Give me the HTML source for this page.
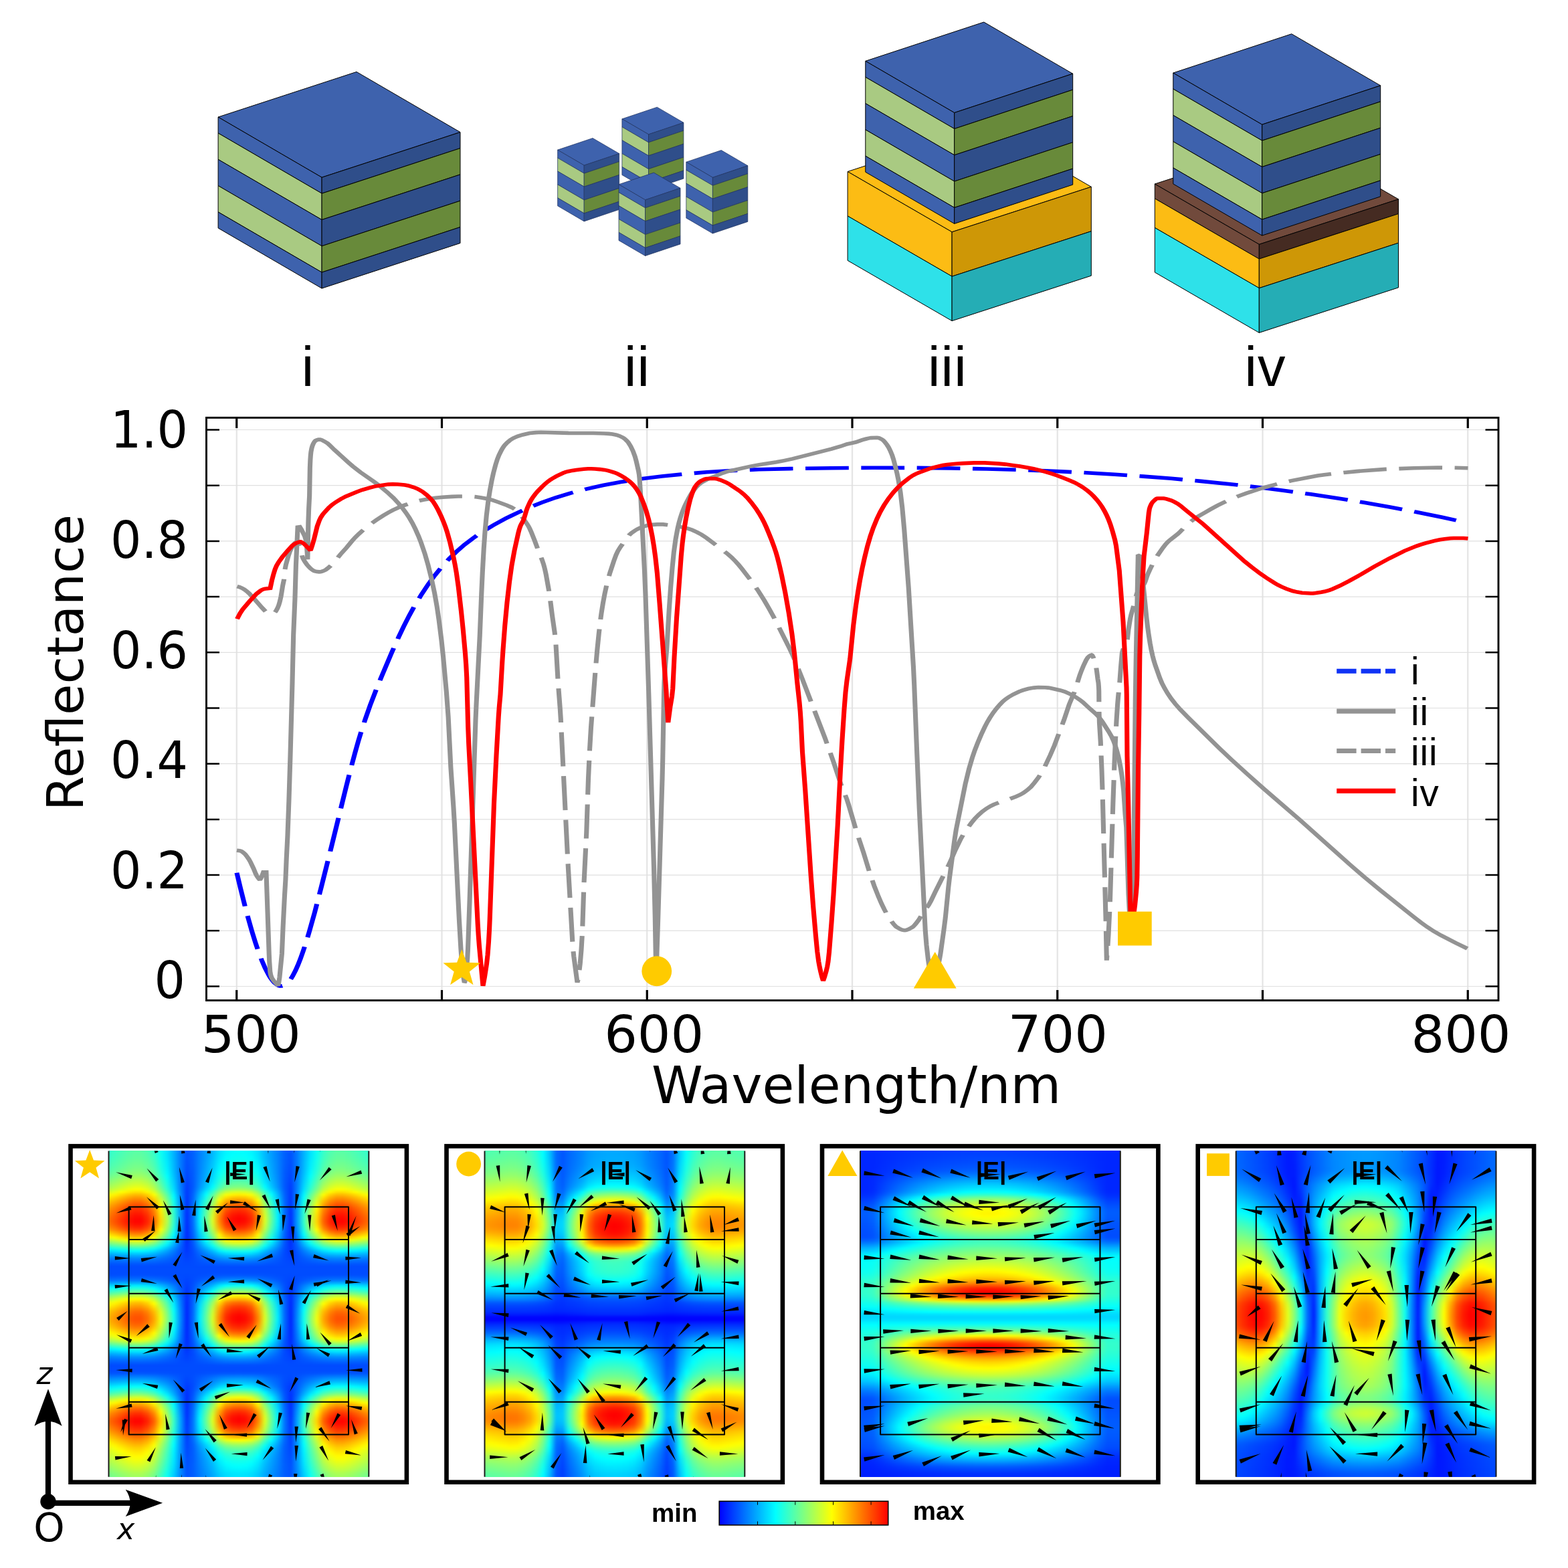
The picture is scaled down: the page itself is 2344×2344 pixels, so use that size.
<!DOCTYPE html>
<html lang="en">
<head>
<meta charset="utf-8">
<title>Reflectance spectra and field maps</title>
<style>
html,body{margin:0;padding:0;background:#fff}
body{width:2344px;height:2344px;position:relative;overflow:hidden;font-family:"Liberation Sans",sans-serif}
svg{position:absolute;left:0;top:0}
.hm{position:absolute;top:1720.4px;width:388.8px;height:487.4px;overflow:hidden;background:#06f}.hi{position:absolute;filter:blur(1.6px)}.hi i{display:block;height:3.995px}
</style>
</head>
<body>
<div class="hm" style="left:162.5px">
<div class="hi" style="left:-19.44px;top:-7.99px;width:427.68px">
<i style="background:linear-gradient(90deg,#21ffde,#26ffd9,#2dffd2,#37ffc8,#42ffbd,#4cffb3,#53ffad,#53ffad,#47ffb8,#30ffcf,#07fff8,#00deff,#00afff,#007bff,#0051ff,#0060ff,#007eff,#0098ff,#00b4ff,#00d8ff,#00edff,#00f5ff,#00f7ff,#00f5ff,#00edff,#00d8ff,#00b4ff,#0098ff,#007eff,#0060ff,#0051ff,#007bff,#00afff,#00deff,#07fff8,#30ffcf,#47ffb8,#53ffad,#53ffad,#4cffb3,#42ffbd,#37ffc8,#2dffd2,#26ffd9,#21ffde)"></i><i style="background:linear-gradient(90deg,#24ffdb,#29ffd6,#30ffd0,#3affc5,#45ffba,#50ffb0,#56ffa9,#56ffaa,#4affb5,#33ffcc,#0afff5,#00e0ff,#00b0ff,#007cff,#0052ff,#0060ff,#007fff,#009aff,#00b6ff,#00dbff,#00f0ff,#00f8ff,#00fbff,#00f8ff,#00f0ff,#00dbff,#00b6ff,#009aff,#007fff,#0060ff,#0052ff,#007cff,#00b0ff,#00e0ff,#0afff5,#33ffcc,#4affb5,#56ffaa,#56ffa9,#50ffb0,#45ffba,#3affc5,#30ffd0,#29ffd6,#24ffdb)"></i><i style="background:linear-gradient(90deg,#27ffd8,#2cffd3,#33ffcc,#3dffc2,#49ffb7,#53ffac,#5affa6,#5affa6,#4effb2,#36ffc9,#0cfff3,#00e2ff,#00b2ff,#007dff,#0052ff,#0061ff,#0080ff,#009bff,#00b8ff,#00deff,#00f4ff,#00fcff,#00feff,#00fcff,#00f4ff,#00deff,#00b8ff,#009bff,#0080ff,#0061ff,#0052ff,#007dff,#00b2ff,#00e2ff,#0cfff3,#36ffc9,#4effb2,#5affa6,#5affa6,#53ffac,#49ffb7,#3dffc2,#33ffcc,#2cffd3,#27ffd8)"></i><i style="background:linear-gradient(90deg,#2affd5,#2fffd0,#36ffc9,#41ffbf,#4dffb3,#57ffa9,#5effa2,#5effa2,#52ffae,#3affc6,#0ffff0,#00e4ff,#00b3ff,#007dff,#0051ff,#0061ff,#0081ff,#009dff,#00bbff,#00e1ff,#00f8ff,#01fffe,#03fffc,#01fffe,#00f8ff,#00e1ff,#00bbff,#009dff,#0081ff,#0061ff,#0051ff,#007dff,#00b3ff,#00e4ff,#0ffff0,#3affc6,#52ffae,#5effa2,#5effa2,#57ffa9,#4dffb3,#41ffbf,#36ffc9,#2fffd0,#2affd5)"></i><i style="background:linear-gradient(90deg,#2effd2,#33ffcd,#3affc6,#45ffbb,#51ffaf,#5bffa4,#62ff9d,#62ff9e,#56ffaa,#3dffc2,#12ffed,#00e6ff,#00b4ff,#007dff,#0051ff,#0061ff,#0082ff,#009eff,#00bdff,#00e4ff,#00fcff,#05fffa,#08fff7,#05fffa,#00fcff,#00e4ff,#00bdff,#009eff,#0082ff,#0061ff,#0051ff,#007dff,#00b4ff,#00e6ff,#12ffed,#3dffc2,#56ffaa,#62ff9e,#62ff9d,#5bffa4,#51ffaf,#45ffbb,#3affc6,#33ffcd,#2effd2)"></i><i style="background:linear-gradient(90deg,#31ffce,#37ffc9,#3effc2,#49ffb6,#55ffaa,#60ffa0,#67ff99,#67ff99,#5affa5,#42ffbe,#15ffea,#00e8ff,#00b5ff,#007dff,#0050ff,#0060ff,#0082ff,#00a0ff,#00c0ff,#00e8ff,#01fffe,#0afff5,#0dfff2,#0afff5,#01fffe,#00e8ff,#00c0ff,#00a0ff,#0082ff,#0060ff,#0050ff,#007dff,#00b5ff,#00e8ff,#15ffea,#42ffbe,#5affa5,#67ff99,#67ff99,#60ffa0,#55ffaa,#49ffb6,#3effc2,#37ffc9,#31ffce)"></i><i style="background:linear-gradient(90deg,#36ffca,#3bffc4,#43ffbd,#4effb2,#5affa5,#65ff9a,#6dff93,#6cff93,#60ffa0,#46ffb9,#19ffe6,#00ebff,#00b7ff,#007dff,#004fff,#0060ff,#0083ff,#00a2ff,#00c3ff,#00edff,#07fff8,#10ffef,#13ffec,#10ffef,#07fff8,#00edff,#00c3ff,#00a2ff,#0083ff,#0060ff,#004fff,#007dff,#00b7ff,#00ebff,#19ffe6,#46ffb9,#60ffa0,#6cff93,#6dff93,#65ff9a,#5affa5,#4effb2,#43ffbd,#3bffc4,#36ffca)"></i><i style="background:linear-gradient(90deg,#3affc5,#40ffbf,#48ffb8,#53ffac,#60ffa0,#6cff94,#73ff8d,#73ff8d,#65ff9a,#4bffb4,#1dffe2,#00edff,#00b8ff,#007dff,#004dff,#005fff,#0084ff,#00a4ff,#00c6ff,#00f2ff,#0cfff3,#16ffe9,#19ffe6,#16ffe9,#0cfff3,#00f2ff,#00c6ff,#00a4ff,#0084ff,#005fff,#004dff,#007dff,#00b8ff,#00edff,#1dffe2,#4bffb4,#65ff9a,#73ff8d,#73ff8d,#6cff94,#60ffa0,#53ffac,#48ffb8,#40ffbf,#3affc5)"></i><i style="background:linear-gradient(90deg,#40ffc0,#46ffba,#4effb2,#5affa6,#67ff99,#72ff8d,#7aff86,#7aff86,#6cff94,#51ffae,#21ffde,#00f1ff,#00b9ff,#007dff,#004cff,#005eff,#0084ff,#00a6ff,#00c9ff,#00f7ff,#13ffec,#1dffe2,#20ffdf,#1dffe2,#13ffec,#00f7ff,#00c9ff,#00a6ff,#0084ff,#005eff,#004cff,#007dff,#00b9ff,#00f1ff,#21ffde,#51ffae,#6cff94,#7aff86,#7aff86,#72ff8d,#67ff99,#5affa6,#4effb2,#46ffba,#40ffc0)"></i><i style="background:linear-gradient(90deg,#46ffb9,#4cffb3,#55ffab,#61ff9f,#6fff91,#7bff85,#83ff7d,#82ff7e,#74ff8c,#58ffa7,#27ffd8,#00f4ff,#00bbff,#007dff,#004aff,#005dff,#0085ff,#00a8ff,#00cdff,#00fdff,#1affe5,#25ffdb,#28ffd7,#25ffdb,#1affe5,#00fdff,#00cdff,#00a8ff,#0085ff,#005dff,#004aff,#007dff,#00bbff,#00f4ff,#27ffd8,#58ffa7,#74ff8c,#82ff7e,#83ff7d,#7bff85,#6fff91,#61ff9f,#55ffab,#4cffb3,#46ffb9)"></i><i style="background:linear-gradient(90deg,#50ffb0,#56ffaa,#5effa1,#6bff95,#7aff86,#86ff7a,#8eff71,#8eff72,#7fff81,#62ff9d,#2fffd1,#00faff,#00beff,#007dff,#0048ff,#005cff,#0086ff,#00abff,#00d2ff,#05fffa,#22ffdd,#2dffd2,#31ffcf,#2dffd2,#22ffdd,#05fffa,#00d2ff,#00abff,#0086ff,#005cff,#0048ff,#007dff,#00beff,#00faff,#2fffd1,#62ff9d,#7fff81,#8eff72,#8eff71,#86ff7a,#7aff86,#6bff95,#5effa1,#56ffaa,#50ffb0)"></i><i style="background:linear-gradient(90deg,#5bffa5,#62ff9e,#6aff95,#78ff88,#87ff79,#94ff6c,#9dff63,#9dff63,#8dff73,#6fff91,#38ffc7,#02fffd,#00c2ff,#007eff,#0046ff,#005cff,#0088ff,#00aeff,#00d7ff,#0dfff2,#2cffd3,#37ffc8,#3bffc5,#37ffc8,#2cffd3,#0dfff2,#00d7ff,#00aeff,#0088ff,#005cff,#0046ff,#007eff,#00c2ff,#02fffd,#38ffc7,#6fff91,#8dff73,#9dff63,#9dff63,#94ff6c,#87ff79,#78ff88,#6aff95,#62ff9e,#5bffa5)"></i><i style="background:linear-gradient(90deg,#68ff98,#6fff91,#78ff88,#87ff79,#96ff6a,#a4ff5c,#adff52,#adff53,#9dff63,#7dff83,#43ffbc,#0afff5,#00c7ff,#007fff,#0044ff,#005bff,#0089ff,#00b2ff,#00ddff,#16ffe9,#37ffc8,#43ffbc,#47ffb8,#43ffbc,#37ffc8,#16ffe9,#00ddff,#00b2ff,#0089ff,#005bff,#0044ff,#007fff,#00c7ff,#0afff5,#43ffbc,#7dff83,#9dff63,#adff53,#adff52,#a4ff5c,#96ff6a,#87ff79,#78ff88,#6fff91,#68ff98)"></i><i style="background:linear-gradient(90deg,#76ff8a,#7dff83,#87ff79,#96ff6a,#a6ff59,#b5ff4b,#bfff41,#beff41,#adff52,#8cff74,#4fffb0,#13ffec,#00ccff,#0080ff,#0042ff,#005aff,#008cff,#00b7ff,#00e5ff,#22ffde,#45ffbb,#52ffae,#56ffaa,#52ffae,#45ffbb,#22ffde,#00e5ff,#00b7ff,#008cff,#005aff,#0042ff,#0080ff,#00ccff,#13ffec,#4fffb0,#8cff74,#adff52,#beff41,#bfff41,#b5ff4b,#a6ff59,#96ff6a,#87ff79,#7dff83,#76ff8a)"></i><i style="background:linear-gradient(90deg,#84ff7c,#8bff75,#96ff6a,#a6ff5a,#b7ff49,#c6ff39,#d1ff2f,#d0ff2f,#beff41,#9bff65,#5bffa5,#1cffe4,#00d1ff,#0081ff,#003fff,#005aff,#008fff,#00beff,#00efff,#30ffd0,#56ffaa,#63ff9c,#68ff98,#63ff9c,#56ffaa,#30ffd0,#00efff,#00beff,#008fff,#005aff,#003fff,#0081ff,#00d1ff,#1cffe4,#5bffa5,#9bff65,#beff41,#d0ff2f,#d1ff2f,#c6ff39,#b7ff49,#a6ff5a,#96ff6a,#8bff75,#84ff7c)"></i><i style="background:linear-gradient(90deg,#93ff6d,#9bff65,#a6ff5a,#b6ff49,#c9ff37,#d9ff26,#e4ff1c,#e3ff1c,#d0ff2f,#abff55,#68ff98,#25ffda,#00d7ff,#0082ff,#003dff,#005aff,#0093ff,#00c6ff,#00fbff,#41ffbf,#6aff96,#78ff88,#7dff83,#78ff88,#6aff96,#41ffbf,#00fbff,#00c6ff,#0093ff,#005aff,#003dff,#0082ff,#00d7ff,#25ffda,#68ff98,#abff55,#d0ff2f,#e3ff1c,#e4ff1c,#d9ff26,#c9ff37,#b6ff49,#a6ff5a,#9bff65,#93ff6d)"></i><i style="background:linear-gradient(90deg,#a5ff5b,#aeff52,#b9ff46,#cbff35,#deff21,#efff10,#fbff04,#faff05,#e6ff19,#bfff41,#78ff88,#31ffce,#00deff,#0084ff,#003bff,#005cff,#009dff,#00d5ff,#12ffed,#60ffa0,#8dff72,#9eff62,#a3ff5c,#9eff62,#8dff72,#60ffa0,#12ffed,#00d5ff,#009dff,#005cff,#003bff,#0084ff,#00deff,#31ffce,#78ff88,#bfff41,#e6ff19,#faff05,#fbff04,#efff10,#deff21,#cbff35,#b9ff46,#aeff52,#a5ff5b)"></i><i style="background:linear-gradient(90deg,#c0ff40,#c9ff36,#d5ff2a,#e9ff17,#feff01,#ffee00,#ffe100,#ffe200,#fff800,#dcff24,#8fff71,#43ffbd,#00e9ff,#0088ff,#0039ff,#0060ff,#00acff,#00eeff,#35ffcb,#8fff71,#c4ff3b,#d8ff28,#deff22,#d8ff28,#c4ff3b,#8fff71,#35ffcb,#00eeff,#00acff,#0060ff,#0039ff,#0088ff,#00e9ff,#43ffbd,#8fff71,#dcff24,#fff800,#ffe200,#ffe100,#ffee00,#feff01,#e9ff17,#d5ff2a,#c9ff36,#c0ff40)"></i><i style="background:linear-gradient(90deg,#dfff21,#e9ff17,#f6ff09,#fff300,#ffdc00,#ffc800,#ffbb00,#ffbb00,#ffd300,#fdff02,#aaff56,#57ffa8,#00f6ff,#008dff,#0038ff,#0064ff,#00b9ff,#04fffb,#53ffad,#b8ff48,#f4ff0c,#fff500,#ffee00,#fff500,#f4ff0c,#b8ff48,#53ffad,#04fffb,#00b9ff,#0064ff,#0038ff,#008dff,#00f6ff,#57ffa8,#aaff56,#fdff02,#ffd300,#ffbb00,#ffbb00,#ffc800,#ffdc00,#fff300,#f6ff09,#e9ff17,#dfff21)"></i><i style="background:linear-gradient(90deg,#f8ff07,#fffb00,#ffed00,#ffd600,#ffbe00,#ffa900,#ff9a00,#ff9b00,#ffb400,#ffe500,#c0ff3f,#68ff97,#02fffd,#0091ff,#0036ff,#0067ff,#00c3ff,#15ffea,#6bff94,#daff25,#ffe300,#ffcb00,#ffc400,#ffcb00,#ffe300,#daff25,#6bff94,#15ffea,#00c3ff,#0067ff,#0036ff,#0091ff,#02fffd,#68ff97,#c0ff3f,#ffe500,#ffb400,#ff9b00,#ff9a00,#ffa900,#ffbe00,#ffd600,#ffed00,#fffb00,#f8ff07)"></i><i style="background:linear-gradient(90deg,#ffee00,#ffe300,#ffd400,#ffbc00,#ffa300,#ff8c00,#ff7d00,#ff7e00,#ff9800,#ffcc00,#d5ff2b,#78ff88,#0cfff3,#0095ff,#0035ff,#0069ff,#00cdff,#25ffda,#82ff7e,#f8ff07,#ffbf00,#ffa500,#ff9d00,#ffa500,#ffbf00,#f8ff07,#82ff7e,#25ffda,#00cdff,#0069ff,#0035ff,#0095ff,#0cfff3,#78ff88,#d5ff2b,#ffcc00,#ff9800,#ff7e00,#ff7d00,#ff8c00,#ffa300,#ffbc00,#ffd400,#ffe300,#ffee00)"></i><i style="background:linear-gradient(90deg,#ffda00,#ffce00,#ffbe00,#ffa500,#ff8b00,#ff7300,#ff6300,#ff6400,#ff8000,#ffb600,#e6ff19,#85ff7b,#14ffeb,#0098ff,#0033ff,#006bff,#00d5ff,#33ffcc,#96ff6a,#ffea00,#ff9f00,#ff8300,#ff7b00,#ff8300,#ff9f00,#ffea00,#96ff6a,#33ffcc,#00d5ff,#006bff,#0033ff,#0098ff,#14ffeb,#85ff7b,#e6ff19,#ffb600,#ff8000,#ff6400,#ff6300,#ff7300,#ff8b00,#ffa500,#ffbe00,#ffce00,#ffda00)"></i><i style="background:linear-gradient(90deg,#ffc600,#ffba00,#ffaa00,#ff9000,#ff7400,#ff5b00,#ff4b00,#ff4c00,#ff6800,#ffa100,#f7ff08,#92ff6e,#1cffe3,#009aff,#0032ff,#006dff,#00ddff,#40ffbf,#a8ff57,#ffd000,#ff8100,#ff6400,#ff5b00,#ff6400,#ff8100,#ffd000,#a8ff57,#40ffbf,#00ddff,#006dff,#0032ff,#009aff,#1cffe3,#92ff6e,#f7ff08,#ffa100,#ff6800,#ff4c00,#ff4b00,#ff5b00,#ff7400,#ff9000,#ffaa00,#ffba00,#ffc600)"></i><i style="background:linear-gradient(90deg,#ffb600,#ffa900,#ff9800,#ff7e00,#ff6100,#ff4700,#ff3600,#ff3700,#ff5500,#ff9000,#fff900,#9dff63,#23ffdc,#009dff,#0031ff,#006fff,#00e5ff,#4dffb3,#baff46,#ffb800,#ff6400,#ff4600,#ff3d00,#ff4600,#ff6400,#ffb800,#baff46,#4dffb3,#00e5ff,#006fff,#0031ff,#009dff,#23ffdc,#9dff63,#fff900,#ff9000,#ff5500,#ff3700,#ff3600,#ff4700,#ff6100,#ff7e00,#ff9800,#ffa900,#ffb600)"></i><i style="background:linear-gradient(90deg,#ffaa00,#ff9d00,#ff8b00,#ff7000,#ff5300,#ff3800,#ff2700,#ff2800,#ff4600,#ff8300,#ffef00,#a4ff5b,#28ffd7,#009eff,#0030ff,#0070ff,#00eaff,#56ffaa,#c7ff39,#ffa600,#ff5000,#ff3000,#ff2600,#ff3000,#ff5000,#ffa600,#c7ff39,#56ffaa,#00eaff,#0070ff,#0030ff,#009eff,#28ffd7,#a4ff5b,#ffef00,#ff8300,#ff4600,#ff2800,#ff2700,#ff3800,#ff5300,#ff7000,#ff8b00,#ff9d00,#ffaa00)"></i><i style="background:linear-gradient(90deg,#ffa000,#ff9200,#ff8000,#ff6500,#ff4700,#ff2c00,#ff1a00,#ff1b00,#ff3a00,#ff7800,#ffe600,#abff55,#2cffd3,#009fff,#002eff,#0071ff,#00eeff,#5cffa3,#d0ff2f,#ff9900,#ff4000,#ff2000,#ff1600,#ff2000,#ff4000,#ff9900,#d0ff2f,#5cffa3,#00eeff,#0071ff,#002eff,#009fff,#2cffd3,#abff55,#ffe600,#ff7800,#ff3a00,#ff1b00,#ff1a00,#ff2c00,#ff4700,#ff6500,#ff8000,#ff9200,#ffa000)"></i><i style="background:linear-gradient(90deg,#ff9700,#ff8900,#ff7700,#ff5b00,#ff3c00,#ff2100,#ff0f00,#ff0f00,#ff2f00,#ff6e00,#ffde00,#b1ff4f,#2fffd0,#00a0ff,#002dff,#0071ff,#00f1ff,#62ff9e,#d8ff27,#ff8e00,#ff3400,#ff1300,#ff0800,#ff1300,#ff3400,#ff8e00,#d8ff27,#62ff9e,#00f1ff,#0071ff,#002dff,#00a0ff,#2fffd0,#b1ff4f,#ffde00,#ff6e00,#ff2f00,#ff0f00,#ff0f00,#ff2100,#ff3c00,#ff5b00,#ff7700,#ff8900,#ff9700)"></i><i style="background:linear-gradient(90deg,#ff9000,#ff8300,#ff7000,#ff5400,#ff3500,#ff1900,#ff0700,#ff0700,#ff2800,#ff6700,#ffd900,#b5ff4b,#32ffce,#00a1ff,#002dff,#0071ff,#00f2ff,#65ff9b,#dcff23,#ff8800,#ff2c00,#ff0b00,#ff0100,#ff0b00,#ff2c00,#ff8800,#dcff23,#65ff9b,#00f2ff,#0071ff,#002dff,#00a1ff,#32ffce,#b5ff4b,#ffd900,#ff6700,#ff2800,#ff0700,#ff0700,#ff1900,#ff3500,#ff5400,#ff7000,#ff8300,#ff9000)"></i><i style="background:linear-gradient(90deg,#ff8f00,#ff8100,#ff6f00,#ff5200,#ff3300,#ff1700,#ff0500,#ff0500,#ff2600,#ff6500,#ffd700,#b6ff4a,#32ffcd,#00a1ff,#002cff,#0070ff,#00f1ff,#63ff9d,#daff25,#ff8a00,#ff2e00,#ff0d00,#ff0300,#ff0d00,#ff2e00,#ff8a00,#daff25,#63ff9d,#00f1ff,#0070ff,#002cff,#00a1ff,#32ffcd,#b6ff4a,#ffd700,#ff6500,#ff2600,#ff0500,#ff0500,#ff1700,#ff3300,#ff5200,#ff6f00,#ff8100,#ff8f00)"></i><i style="background:linear-gradient(90deg,#ff9600,#ff8900,#ff7600,#ff5a00,#ff3b00,#ff2000,#ff0e00,#ff0e00,#ff2e00,#ff6d00,#ffde00,#b0ff4f,#2effd1,#009fff,#002bff,#006eff,#00edff,#5dffa2,#d3ff2d,#ff9400,#ff3a00,#ff1900,#ff0f00,#ff1900,#ff3a00,#ff9400,#d3ff2d,#5dffa2,#00edff,#006eff,#002bff,#009fff,#2effd1,#b0ff4f,#ffde00,#ff6d00,#ff2e00,#ff0e00,#ff0e00,#ff2000,#ff3b00,#ff5a00,#ff7600,#ff8900,#ff9600)"></i><i style="background:linear-gradient(90deg,#ffa500,#ff9800,#ff8600,#ff6a00,#ff4c00,#ff3100,#ff2000,#ff2000,#ff4000,#ff7d00,#ffeb00,#a6ff5a,#27ffd8,#009bff,#002aff,#006cff,#00e8ff,#55ffab,#c8ff38,#ffa300,#ff4b00,#ff2b00,#ff2100,#ff2b00,#ff4b00,#ffa300,#c8ff38,#55ffab,#00e8ff,#006cff,#002aff,#009bff,#27ffd8,#a6ff5a,#ffeb00,#ff7d00,#ff4000,#ff2000,#ff2000,#ff3100,#ff4c00,#ff6a00,#ff8600,#ff9800,#ffa500)"></i><i style="background:linear-gradient(90deg,#ffb900,#ffad00,#ff9b00,#ff8100,#ff6400,#ff4a00,#ff3900,#ff3a00,#ff5800,#ff9300,#fffd00,#98ff68,#1effe1,#0097ff,#002aff,#0069ff,#00e0ff,#4affb6,#b8ff48,#ffb800,#ff6400,#ff4500,#ff3b00,#ff4500,#ff6400,#ffb800,#b8ff48,#4affb6,#00e0ff,#0069ff,#002aff,#0097ff,#1effe1,#98ff68,#fffd00,#ff9300,#ff5800,#ff3a00,#ff3900,#ff4a00,#ff6400,#ff8100,#ff9b00,#ffad00,#ffb900)"></i><i style="background:linear-gradient(90deg,#ffdc00,#ffd000,#ffc000,#ffa700,#ff8c00,#ff7400,#ff6400,#ff6400,#ff8000,#ffb800,#e3ff1c,#81ff7f,#0efff1,#008fff,#002aff,#0065ff,#00d5ff,#39ffc7,#a1ff5f,#ffd800,#ff8800,#ff6b00,#ff6200,#ff6b00,#ff8800,#ffd800,#a1ff5f,#39ffc7,#00d5ff,#0065ff,#002aff,#008fff,#0efff1,#81ff7f,#e3ff1c,#ffb800,#ff8000,#ff6400,#ff6400,#ff7400,#ff8c00,#ffa700,#ffc000,#ffd000,#ffdc00)"></i><i style="background:linear-gradient(90deg,#ffff00,#fff400,#ffe500,#ffce00,#ffb500,#ff9e00,#ff8f00,#ff9000,#ffaa00,#ffde00,#c4ff3b,#69ff97,#00fdff,#0088ff,#002aff,#0062ff,#00cbff,#28ffd7,#8aff76,#fff600,#ffac00,#ff9000,#ff8800,#ff9000,#ffac00,#fff600,#8aff76,#28ffd7,#00cbff,#0062ff,#002aff,#0088ff,#00fdff,#69ff97,#c4ff3b,#ffde00,#ffaa00,#ff9000,#ff8f00,#ff9e00,#ffb500,#ffce00,#ffe500,#fff400,#ffff00)"></i><i style="background:linear-gradient(90deg,#d7ff28,#e1ff1e,#efff10,#fffa00,#ffe300,#ffcf00,#ffc100,#ffc200,#ffda00,#f5ff0a,#a2ff5e,#4effb2,#00ebff,#0081ff,#002aff,#005fff,#00c1ff,#17ffe8,#73ff8d,#e8ff18,#ffd100,#ffb800,#ffb000,#ffb800,#ffd100,#e8ff18,#73ff8d,#17ffe8,#00c1ff,#005fff,#002aff,#0081ff,#00ebff,#4effb2,#a2ff5e,#f5ff0a,#ffda00,#ffc200,#ffc100,#ffcf00,#ffe300,#fffa00,#efff10,#e1ff1e,#d7ff28)"></i><i style="background:linear-gradient(90deg,#a5ff5b,#aeff52,#baff46,#cdff33,#e1ff1e,#f3ff0c,#ffff00,#feff01,#e9ff16,#c0ff40,#76ff8a,#2cffd4,#00d5ff,#0077ff,#002bff,#005bff,#00b4ff,#03fffc,#56ffaa,#c0ff3f,#ffff00,#ffe800,#ffe100,#ffe800,#ffff00,#c0ff3f,#56ffaa,#03fffc,#00b4ff,#005bff,#002bff,#0077ff,#00d5ff,#2cffd4,#76ff8a,#c0ff40,#e9ff16,#feff01,#ffff00,#f3ff0c,#e1ff1e,#cdff33,#baff46,#aeff52,#a5ff5b)"></i><i style="background:linear-gradient(90deg,#72ff8e,#79ff87,#84ff7c,#94ff6c,#a5ff5b,#b5ff4b,#bfff41,#beff41,#acff53,#89ff77,#49ffb7,#09fff6,#00bfff,#006eff,#002dff,#0057ff,#00a5ff,#00eaff,#34ffcc,#92ff6e,#c9ff36,#ddff22,#e3ff1c,#ddff22,#c9ff36,#92ff6e,#34ffcc,#00eaff,#00a5ff,#0057ff,#002dff,#006eff,#00bfff,#09fff6,#49ffb7,#89ff77,#acff53,#beff41,#bfff41,#b5ff4b,#a5ff5b,#94ff6c,#84ff7c,#79ff87,#72ff8e)"></i><i style="background:linear-gradient(90deg,#3dffc2,#44ffbc,#4cffb3,#5affa6,#68ff97,#75ff8b,#7eff82,#7eff82,#6eff91,#51ffaf,#1cffe4,#00e6ff,#00a9ff,#0065ff,#002fff,#0053ff,#0095ff,#00cfff,#0dfff2,#5cffa4,#8bff75,#9cff64,#a1ff5f,#9cff64,#8bff75,#5cffa4,#0dfff2,#00cfff,#0095ff,#0053ff,#002fff,#0065ff,#00a9ff,#00e6ff,#1cffe4,#51ffaf,#6eff91,#7eff82,#7eff82,#75ff8b,#68ff97,#5affa6,#4cffb3,#44ffbc,#3dffc2)"></i><i style="background:linear-gradient(90deg,#06fff9,#0bfff4,#12ffed,#1dffe2,#28ffd7,#32ffcd,#39ffc6,#39ffc7,#2dffd2,#16ffea,#00ebff,#00c1ff,#0091ff,#005dff,#0032ff,#004fff,#0084ff,#00b3ff,#00e5ff,#26ffda,#4cffb4,#5affa6,#5effa2,#5affa6,#4cffb4,#26ffda,#00e5ff,#00b3ff,#0084ff,#004fff,#0032ff,#005dff,#0091ff,#00c1ff,#00ebff,#16ffea,#2dffd2,#39ffc7,#39ffc6,#32ffcd,#28ffd7,#1dffe2,#12ffed,#0bfff4,#06fff9)"></i><i style="background:linear-gradient(90deg,#00d5ff,#00d9ff,#00deff,#00e6ff,#00efff,#00f6ff,#00fbff,#00fbff,#00f2ff,#00e0ff,#00c1ff,#00a2ff,#007dff,#0056ff,#0035ff,#004cff,#0074ff,#0098ff,#00bdff,#00eeff,#0cfff3,#16ffe9,#1affe6,#16ffe9,#0cfff3,#00eeff,#00bdff,#0098ff,#0074ff,#004cff,#0035ff,#0056ff,#007dff,#00a2ff,#00c1ff,#00e0ff,#00f2ff,#00fbff,#00fbff,#00f6ff,#00efff,#00e6ff,#00deff,#00d9ff,#00d5ff)"></i><i style="background:linear-gradient(90deg,#00b0ff,#00b3ff,#00b6ff,#00bcff,#00c3ff,#00c8ff,#00ccff,#00ccff,#00c5ff,#00b8ff,#00a1ff,#008aff,#006fff,#0051ff,#003aff,#004aff,#0069ff,#0084ff,#00a0ff,#00c4ff,#00daff,#00e2ff,#00e4ff,#00e2ff,#00daff,#00c4ff,#00a0ff,#0084ff,#0069ff,#004aff,#003aff,#0051ff,#006fff,#008aff,#00a1ff,#00b8ff,#00c5ff,#00ccff,#00ccff,#00c8ff,#00c3ff,#00bcff,#00b6ff,#00b3ff,#00b0ff)"></i><i style="background:linear-gradient(90deg,#008fff,#0091ff,#0094ff,#0098ff,#009cff,#00a0ff,#00a3ff,#00a3ff,#009eff,#0095ff,#0085ff,#0075ff,#0063ff,#004eff,#003eff,#004aff,#0060ff,#0073ff,#0087ff,#00a1ff,#00b1ff,#00b6ff,#00b8ff,#00b6ff,#00b1ff,#00a1ff,#0087ff,#0073ff,#0060ff,#004aff,#003eff,#004eff,#0063ff,#0075ff,#0085ff,#0095ff,#009eff,#00a3ff,#00a3ff,#00a0ff,#009cff,#0098ff,#0094ff,#0091ff,#008fff)"></i><i style="background:linear-gradient(90deg,#0075ff,#0076ff,#0078ff,#007bff,#007dff,#0080ff,#0081ff,#0081ff,#007fff,#0079ff,#006fff,#0065ff,#0059ff,#004dff,#0042ff,#004aff,#0059ff,#0065ff,#0072ff,#0084ff,#008eff,#0091ff,#0093ff,#0091ff,#008eff,#0084ff,#0072ff,#0065ff,#0059ff,#004aff,#0042ff,#004dff,#0059ff,#0065ff,#006fff,#0079ff,#007fff,#0081ff,#0081ff,#0080ff,#007dff,#007bff,#0078ff,#0076ff,#0075ff)"></i><i style="background:linear-gradient(90deg,#0063ff,#0064ff,#0065ff,#0066ff,#0068ff,#0069ff,#006aff,#006aff,#0068ff,#0065ff,#005fff,#005aff,#0053ff,#004cff,#0046ff,#004bff,#0053ff,#005bff,#0062ff,#006cff,#0072ff,#0075ff,#0075ff,#0075ff,#0072ff,#006cff,#0062ff,#005bff,#0053ff,#004bff,#0046ff,#004cff,#0053ff,#005aff,#005fff,#0065ff,#0068ff,#006aff,#006aff,#0069ff,#0068ff,#0066ff,#0065ff,#0064ff,#0063ff)"></i><i style="background:linear-gradient(90deg,#0053ff,#0053ff,#0053ff,#0054ff,#0054ff,#0055ff,#0055ff,#0055ff,#0055ff,#0054ff,#0052ff,#0050ff,#004eff,#004bff,#0049ff,#004bff,#004fff,#0052ff,#0055ff,#0059ff,#005cff,#005dff,#005dff,#005dff,#005cff,#0059ff,#0055ff,#0052ff,#004fff,#004bff,#0049ff,#004bff,#004eff,#0050ff,#0052ff,#0054ff,#0055ff,#0055ff,#0055ff,#0055ff,#0054ff,#0054ff,#0053ff,#0053ff,#0053ff)"></i><i style="background:linear-gradient(90deg,#004bff,#004bff,#004bff,#004bff,#004bff,#004bff,#004bff,#004bff,#004bff,#004bff,#004bff,#004bff,#004bff,#004bff,#004bff,#004bff,#004bff,#004bff,#004bff,#004bff,#004bff,#004bff,#004bff,#004bff,#004bff,#004bff,#004bff,#004bff,#004bff,#004bff,#004bff,#004bff,#004bff,#004bff,#004bff,#004bff,#004bff,#004bff,#004bff,#004bff,#004bff,#004bff,#004bff,#004bff,#004bff)"></i><i style="background:linear-gradient(90deg,#004cff,#004cff,#004cff,#004cff,#004cff,#004cff,#004cff,#004cff,#004cff,#004cff,#004cff,#004cff,#004cff,#004cff,#004cff,#004cff,#004cff,#004cff,#004cff,#004cff,#004cff,#004cff,#004cff,#004cff,#004cff,#004cff,#004cff,#004cff,#004cff,#004cff,#004cff,#004cff,#004cff,#004cff,#004cff,#004cff,#004cff,#004cff,#004cff,#004cff,#004cff,#004cff,#004cff,#004cff,#004cff)"></i><i style="background:linear-gradient(90deg,#004cff,#004cff,#004cff,#004cff,#004cff,#004cff,#004cff,#004cff,#004cff,#004cff,#004cff,#004cff,#004cff,#004cff,#004cff,#004cff,#004cff,#004cff,#004cff,#004cff,#004cff,#004cff,#004cff,#004cff,#004cff,#004cff,#004cff,#004cff,#004cff,#004cff,#004cff,#004cff,#004cff,#004cff,#004cff,#004cff,#004cff,#004cff,#004cff,#004cff,#004cff,#004cff,#004cff,#004cff,#004cff)"></i><i style="background:linear-gradient(90deg,#004dff,#004dff,#004dff,#004dff,#004eff,#004eff,#004eff,#004eff,#004eff,#004dff,#004dff,#004cff,#004cff,#004bff,#004aff,#004bff,#004dff,#004fff,#0051ff,#0053ff,#0054ff,#0054ff,#0055ff,#0054ff,#0054ff,#0053ff,#0051ff,#004fff,#004dff,#004bff,#004aff,#004bff,#004cff,#004cff,#004dff,#004dff,#004eff,#004eff,#004eff,#004eff,#004eff,#004dff,#004dff,#004dff,#004dff)"></i><i style="background:linear-gradient(90deg,#005cff,#005dff,#005dff,#005eff,#0060ff,#0061ff,#0061ff,#0061ff,#0060ff,#005eff,#005aff,#0056ff,#0051ff,#004cff,#0048ff,#004cff,#0052ff,#0058ff,#005eff,#0066ff,#006bff,#006dff,#006dff,#006dff,#006bff,#0066ff,#005eff,#0058ff,#0052ff,#004cff,#0048ff,#004cff,#0051ff,#0056ff,#005aff,#005eff,#0060ff,#0061ff,#0061ff,#0061ff,#0060ff,#005eff,#005dff,#005dff,#005cff)"></i><i style="background:linear-gradient(90deg,#0070ff,#0071ff,#0072ff,#0074ff,#0077ff,#0079ff,#007aff,#007aff,#0077ff,#0073ff,#006aff,#0062ff,#0058ff,#004dff,#0044ff,#004cff,#005aff,#0066ff,#0073ff,#0084ff,#008eff,#0092ff,#0093ff,#0092ff,#008eff,#0084ff,#0073ff,#0066ff,#005aff,#004cff,#0044ff,#004dff,#0058ff,#0062ff,#006aff,#0073ff,#0077ff,#007aff,#007aff,#0079ff,#0077ff,#0074ff,#0072ff,#0071ff,#0070ff)"></i><i style="background:linear-gradient(90deg,#0099ff,#009bff,#009eff,#00a2ff,#00a7ff,#00abff,#00aeff,#00aeff,#00a9ff,#009fff,#008eff,#007cff,#0068ff,#0052ff,#0040ff,#004eff,#0068ff,#007eff,#0095ff,#00b3ff,#00c5ff,#00ccff,#00ceff,#00ccff,#00c5ff,#00b3ff,#0095ff,#007eff,#0068ff,#004eff,#0040ff,#0052ff,#0068ff,#007cff,#008eff,#009fff,#00a9ff,#00aeff,#00aeff,#00abff,#00a7ff,#00a2ff,#009eff,#009bff,#0099ff)"></i><i style="background:linear-gradient(90deg,#00cbff,#00cfff,#00d3ff,#00daff,#00e2ff,#00e9ff,#00edff,#00edff,#00e5ff,#00d5ff,#00b9ff,#009dff,#007dff,#0059ff,#003cff,#0051ff,#0076ff,#0096ff,#00b9ff,#00e5ff,#00ffff,#0afff5,#0dfff2,#0afff5,#00ffff,#00e5ff,#00b9ff,#0096ff,#0076ff,#0051ff,#003cff,#0059ff,#007dff,#009dff,#00b9ff,#00d5ff,#00e5ff,#00edff,#00edff,#00e9ff,#00e2ff,#00daff,#00d3ff,#00cfff,#00cbff)"></i><i style="background:linear-gradient(90deg,#00f5ff,#00f9ff,#00ffff,#0afff5,#14ffeb,#1dffe2,#23ffdc,#23ffdd,#18ffe7,#03fffc,#00ddff,#00b8ff,#008dff,#005eff,#0038ff,#0053ff,#0085ff,#00b0ff,#00deff,#1affe5,#3effc2,#4affb5,#4effb1,#4affb5,#3effc2,#1affe5,#00deff,#00b0ff,#0085ff,#0053ff,#0038ff,#005eff,#008dff,#00b8ff,#00ddff,#03fffc,#18ffe7,#23ffdd,#23ffdc,#1dffe2,#14ffeb,#0afff5,#00ffff,#00f9ff,#00f5ff)"></i><i style="background:linear-gradient(90deg,#1effe1,#23ffdc,#2bffd5,#36ffc9,#43ffbd,#4effb1,#56ffaa,#55ffaa,#48ffb7,#2effd1,#01fffe,#00d2ff,#009dff,#0063ff,#0034ff,#0056ff,#0094ff,#00caff,#05fffa,#4fffb1,#7bff85,#8bff75,#90ff70,#8bff75,#7bff85,#4fffb1,#05fffa,#00caff,#0094ff,#0056ff,#0034ff,#0063ff,#009dff,#00d2ff,#01fffe,#2effd1,#48ffb7,#55ffaa,#56ffaa,#4effb1,#43ffbd,#36ffc9,#2bffd5,#23ffdc,#1effe1)"></i><i style="background:linear-gradient(90deg,#4affb6,#50ffaf,#59ffa6,#67ff98,#76ff89,#84ff7c,#8dff73,#8cff73,#7dff83,#5effa2,#26ffd9,#00eeff,#00afff,#0069ff,#0031ff,#0059ff,#00a3ff,#00e3ff,#29ffd7,#81ff7f,#b5ff4b,#c8ff37,#ceff32,#c8ff37,#b5ff4b,#81ff7f,#29ffd7,#00e3ff,#00a3ff,#0059ff,#0031ff,#0069ff,#00afff,#00eeff,#26ffd9,#5effa2,#7dff83,#8cff73,#8dff73,#84ff7c,#76ff89,#67ff98,#59ffa6,#50ffaf,#4affb6)"></i><i style="background:linear-gradient(90deg,#7fff81,#87ff79,#92ff6e,#a2ff5d,#b4ff4b,#c4ff3b,#cfff30,#cfff31,#bcff44,#97ff69,#55ffab,#13ffec,#00c5ff,#0072ff,#002eff,#005dff,#00b2ff,#00fdff,#4dffb2,#b4ff4c,#f0ff0f,#fff800,#fff100,#fff800,#f0ff0f,#b4ff4c,#4dffb2,#00fdff,#00b2ff,#005dff,#002eff,#0072ff,#00c5ff,#13ffec,#55ffab,#97ff69,#bcff44,#cfff31,#cfff30,#c4ff3b,#b4ff4b,#a2ff5d,#92ff6e,#87ff79,#7fff81)"></i><i style="background:linear-gradient(90deg,#aaff55,#b3ff4c,#bfff40,#d2ff2d,#e7ff18,#f9ff06,#fff900,#fff900,#efff10,#c5ff3a,#7bff85,#2fffd0,#00d8ff,#0078ff,#002cff,#0061ff,#00c2ff,#19ffe6,#74ff8c,#e8ff17,#ffd100,#ffb800,#ffb000,#ffb800,#ffd100,#e8ff17,#74ff8c,#19ffe6,#00c2ff,#0061ff,#002cff,#0078ff,#00d8ff,#2fffd0,#7bff85,#c5ff3a,#efff10,#fff900,#fff900,#f9ff06,#e7ff18,#d2ff2d,#bfff40,#b3ff4c,#aaff55)"></i><i style="background:linear-gradient(90deg,#c8ff38,#d2ff2e,#dfff20,#f3ff0c,#fff400,#ffe100,#ffd400,#ffd400,#ffeb00,#e5ff1a,#94ff6c,#43ffbc,#00e4ff,#007dff,#002aff,#0064ff,#00ceff,#2cffd3,#8fff71,#fff000,#ffa500,#ff8a00,#ff8100,#ff8a00,#ffa500,#fff000,#8fff71,#2cffd3,#00ceff,#0064ff,#002aff,#007dff,#00e4ff,#43ffbc,#94ff6c,#e5ff1a,#ffeb00,#ffd400,#ffd400,#ffe100,#fff400,#f3ff0c,#dfff20,#d2ff2e,#c8ff38)"></i><i style="background:linear-gradient(90deg,#e0ff1f,#ebff15,#f9ff06,#fff000,#ffd800,#ffc300,#ffb500,#ffb500,#ffce00,#ffff00,#a9ff56,#53ffad,#00eeff,#0080ff,#0028ff,#0066ff,#00d7ff,#3bffc5,#a4ff5c,#ffd300,#ff8300,#ff6600,#ff5d00,#ff6600,#ff8300,#ffd300,#a4ff5c,#3bffc5,#00d7ff,#0066ff,#0028ff,#0080ff,#00eeff,#53ffad,#a9ff56,#ffff00,#ffce00,#ffb500,#ffb500,#ffc300,#ffd800,#fff000,#f9ff06,#ebff15,#e0ff1f)"></i><i style="background:linear-gradient(90deg,#f6ff09,#fffd00,#ffef00,#ffd800,#ffbf00,#ffa800,#ff9a00,#ff9a00,#ffb400,#ffe700,#bcff43,#62ff9e,#00f7ff,#0084ff,#0027ff,#0068ff,#00dfff,#48ffb7,#b6ff49,#ffb900,#ff6500,#ff4600,#ff3d00,#ff4600,#ff6500,#ffb900,#b6ff49,#48ffb7,#00dfff,#0068ff,#0027ff,#0084ff,#00f7ff,#62ff9e,#bcff43,#ffe700,#ffb400,#ff9a00,#ff9a00,#ffa800,#ffbf00,#ffd800,#ffef00,#fffd00,#f6ff09)"></i><i style="background:linear-gradient(90deg,#fff300,#ffe800,#ffd800,#ffc000,#ffa600,#ff8f00,#ff7f00,#ff8000,#ff9b00,#ffd000,#cfff31,#70ff90,#01fffe,#0088ff,#0026ff,#0069ff,#00e4ff,#51ffae,#c4ff3c,#ffa700,#ff5000,#ff3000,#ff2600,#ff3000,#ff5000,#ffa700,#c4ff3c,#51ffae,#00e4ff,#0069ff,#0026ff,#0088ff,#01fffe,#70ff90,#cfff31,#ffd000,#ff9b00,#ff8000,#ff7f00,#ff8f00,#ffa600,#ffc000,#ffd800,#ffe800,#fff300)"></i><i style="background:linear-gradient(90deg,#ffe100,#ffd500,#ffc500,#ffac00,#ff9100,#ff7900,#ff6900,#ff6900,#ff8600,#ffbd00,#deff21,#7cff84,#09fff6,#008bff,#0026ff,#006aff,#00e8ff,#58ffa8,#cdff33,#ff9a00,#ff4100,#ff2100,#ff1600,#ff2100,#ff4100,#ff9a00,#cdff33,#58ffa8,#00e8ff,#006aff,#0026ff,#008bff,#09fff6,#7cff84,#deff21,#ffbd00,#ff8600,#ff6900,#ff6900,#ff7900,#ff9100,#ffac00,#ffc500,#ffd500,#ffe100)"></i><i style="background:linear-gradient(90deg,#ffd600,#ffca00,#ffba00,#ffa000,#ff8500,#ff6c00,#ff5c00,#ff5c00,#ff7900,#ffb200,#e7ff18,#83ff7d,#0efff1,#008dff,#0025ff,#006bff,#00ecff,#5effa2,#d5ff2b,#ff9000,#ff3500,#ff1300,#ff0900,#ff1300,#ff3500,#ff9000,#d5ff2b,#5effa2,#00ecff,#006bff,#0025ff,#008dff,#0efff1,#83ff7d,#e7ff18,#ffb200,#ff7900,#ff5c00,#ff5c00,#ff6c00,#ff8500,#ffa000,#ffba00,#ffca00,#ffd600)"></i><i style="background:linear-gradient(90deg,#ffcf00,#ffc300,#ffb200,#ff9800,#ff7c00,#ff6300,#ff5300,#ff5300,#ff7100,#ffaa00,#eeff12,#88ff78,#11ffee,#008eff,#0025ff,#006cff,#00eeff,#61ff9f,#d9ff26,#ff8900,#ff2d00,#ff0c00,#ff0100,#ff0c00,#ff2d00,#ff8900,#d9ff26,#61ff9f,#00eeff,#006cff,#0025ff,#008eff,#11ffee,#88ff78,#eeff12,#ffaa00,#ff7100,#ff5300,#ff5300,#ff6300,#ff7c00,#ff9800,#ffb200,#ffc300,#ffcf00)"></i><i style="background:linear-gradient(90deg,#ffce00,#ffc100,#ffb100,#ff9700,#ff7b00,#ff6200,#ff5100,#ff5200,#ff6f00,#ffa900,#efff10,#89ff77,#12ffed,#008fff,#0025ff,#006cff,#00eeff,#61ff9f,#d9ff26,#ff8900,#ff2d00,#ff0c00,#ff0100,#ff0c00,#ff2d00,#ff8900,#d9ff26,#61ff9f,#00eeff,#006cff,#0025ff,#008fff,#12ffed,#89ff77,#efff10,#ffa900,#ff6f00,#ff5200,#ff5100,#ff6200,#ff7b00,#ff9700,#ffb100,#ffc100,#ffce00)"></i><i style="background:linear-gradient(90deg,#ffd500,#ffc900,#ffb800,#ff9e00,#ff8300,#ff6a00,#ff5a00,#ff5a00,#ff7700,#ffb000,#e9ff16,#84ff7c,#0ffff0,#008dff,#0025ff,#006bff,#00ebff,#5dffa3,#d4ff2c,#ff9100,#ff3600,#ff1500,#ff0a00,#ff1500,#ff3600,#ff9100,#d4ff2c,#5dffa3,#00ebff,#006bff,#0025ff,#008dff,#0ffff0,#84ff7c,#e9ff16,#ffb000,#ff7700,#ff5a00,#ff5a00,#ff6a00,#ff8300,#ff9e00,#ffb800,#ffc900,#ffd500)"></i><i style="background:linear-gradient(90deg,#ffe000,#ffd400,#ffc400,#ffab00,#ff8f00,#ff7700,#ff6700,#ff6800,#ff8400,#ffbc00,#dfff20,#7dff83,#0afff5,#008bff,#0025ff,#006aff,#00e7ff,#56ffa9,#cbff35,#ff9d00,#ff4400,#ff2300,#ff1900,#ff2300,#ff4400,#ff9d00,#cbff35,#56ffa9,#00e7ff,#006aff,#0025ff,#008bff,#0afff5,#7dff83,#dfff20,#ffbc00,#ff8400,#ff6800,#ff6700,#ff7700,#ff8f00,#ffab00,#ffc400,#ffd400,#ffe000)"></i><i style="background:linear-gradient(90deg,#fff000,#ffe400,#ffd500,#ffbc00,#ffa200,#ff8b00,#ff7b00,#ff7c00,#ff9700,#ffcd00,#d1ff2e,#72ff8e,#03fffc,#0088ff,#0026ff,#0068ff,#00e2ff,#4fffb1,#c0ff3f,#ffab00,#ff5500,#ff3500,#ff2b00,#ff3500,#ff5500,#ffab00,#c0ff3f,#4fffb1,#00e2ff,#0068ff,#0026ff,#0088ff,#03fffc,#72ff8e,#d1ff2e,#ffcd00,#ff9700,#ff7c00,#ff7b00,#ff8b00,#ffa200,#ffbc00,#ffd500,#ffe400,#fff000)"></i><i style="background:linear-gradient(90deg,#f9ff06,#fffa00,#ffeb00,#ffd400,#ffbb00,#ffa400,#ff9600,#ff9600,#ffb000,#ffe400,#bfff41,#63ff9c,#00f8ff,#0084ff,#0026ff,#0066ff,#00dbff,#44ffbc,#b1ff4f,#ffc100,#ff6e00,#ff4f00,#ff4600,#ff4f00,#ff6e00,#ffc100,#b1ff4f,#44ffbc,#00dbff,#0066ff,#0026ff,#0084ff,#00f8ff,#63ff9c,#bfff41,#ffe400,#ffb000,#ff9600,#ff9600,#ffa400,#ffbb00,#ffd400,#ffeb00,#fffa00,#f9ff06)"></i><i style="background:linear-gradient(90deg,#e3ff1c,#eeff11,#fcff03,#ffec00,#ffd400,#ffbf00,#ffb100,#ffb100,#ffca00,#fffb00,#acff54,#55ffab,#00efff,#0080ff,#0027ff,#0063ff,#00d2ff,#35ffcb,#9cff64,#ffde00,#ff8f00,#ff7200,#ff6900,#ff7200,#ff8f00,#ffde00,#9cff64,#35ffcb,#00d2ff,#0063ff,#0027ff,#0080ff,#00efff,#55ffab,#acff54,#fffb00,#ffca00,#ffb100,#ffb100,#ffbf00,#ffd400,#ffec00,#fcff03,#eeff11,#e3ff1c)"></i><i style="background:linear-gradient(90deg,#ccff34,#d6ff2a,#e3ff1c,#f8ff07,#fff000,#ffdb00,#ffce00,#ffcf00,#ffe600,#eaff15,#98ff68,#45ffba,#00e5ff,#007cff,#0028ff,#0060ff,#00c7ff,#22ffdd,#82ff7e,#fdff02,#ffb900,#ff9e00,#ff9600,#ff9e00,#ffb900,#fdff02,#82ff7e,#22ffdd,#00c7ff,#0060ff,#0028ff,#007cff,#00e5ff,#45ffba,#98ff68,#eaff15,#ffe600,#ffcf00,#ffce00,#ffdb00,#fff000,#f8ff07,#e3ff1c,#d6ff2a,#ccff34)"></i><i style="background:linear-gradient(90deg,#b0ff50,#b9ff47,#c5ff3a,#d8ff27,#edff12,#fffe00,#fff200,#fff200,#f6ff09,#cbff34,#7fff81,#32ffcd,#00d9ff,#0078ff,#0029ff,#005cff,#00b9ff,#0bfff4,#62ff9e,#d2ff2e,#ffeb00,#ffd300,#ffcb00,#ffd300,#ffeb00,#d2ff2e,#62ff9e,#0bfff4,#00b9ff,#005cff,#0029ff,#0078ff,#00d9ff,#32ffcd,#7fff81,#cbff34,#f6ff09,#fff200,#fff200,#fffe00,#edff12,#d8ff27,#c5ff3a,#b9ff47,#b0ff50)"></i><i style="background:linear-gradient(90deg,#88ff78,#90ff70,#9bff65,#acff54,#bfff41,#cfff30,#daff25,#daff25,#c7ff39,#a0ff5f,#5cffa4,#18ffe7,#00c8ff,#0071ff,#002bff,#0058ff,#00aaff,#00f2ff,#40ffc0,#a3ff5d,#ddff23,#f2ff0d,#f8ff07,#f2ff0d,#ddff23,#a3ff5d,#40ffc0,#00f2ff,#00aaff,#0058ff,#002bff,#0071ff,#00c8ff,#18ffe7,#5cffa4,#a0ff5f,#c7ff39,#daff25,#daff25,#cfff30,#bfff41,#acff54,#9bff65,#90ff70,#88ff78)"></i><i style="background:linear-gradient(90deg,#51ffae,#58ffa8,#61ff9e,#70ff90,#80ff80,#8eff72,#97ff69,#96ff69,#86ff7a,#66ff9a,#2dffd3,#00f3ff,#00b1ff,#0068ff,#002eff,#0054ff,#009aff,#00d8ff,#1bffe5,#6fff91,#a1ff5f,#b3ff4c,#b9ff47,#b3ff4c,#a1ff5f,#6fff91,#1bffe5,#00d8ff,#009aff,#0054ff,#002eff,#0068ff,#00b1ff,#00f3ff,#2dffd3,#66ff9a,#86ff7a,#96ff69,#97ff69,#8eff72,#80ff80,#70ff90,#61ff9e,#58ffa8,#51ffae)"></i><i style="background:linear-gradient(90deg,#1cffe3,#21ffde,#29ffd6,#35ffcb,#41ffbe,#4dffb3,#54ffac,#54ffac,#47ffb9,#2dffd3,#00fdff,#00cfff,#009aff,#0060ff,#0031ff,#0050ff,#008aff,#00beff,#00f4ff,#3bffc5,#64ff9c,#73ff8d,#78ff88,#73ff8d,#64ff9c,#3bffc5,#00f4ff,#00beff,#008aff,#0050ff,#0031ff,#0060ff,#009aff,#00cfff,#00fdff,#2dffd3,#47ffb9,#54ffac,#54ffac,#4dffb3,#41ffbe,#35ffcb,#29ffd6,#21ffde,#1cffe3)"></i><i style="background:linear-gradient(90deg,#00e6ff,#00ebff,#00f0ff,#00f9ff,#04fffb,#0cfff3,#12ffed,#12ffed,#08fff7,#00f3ff,#00d0ff,#00adff,#0085ff,#0058ff,#0034ff,#004dff,#007aff,#00a2ff,#00ccff,#04fffc,#24ffdb,#30ffd0,#33ffcc,#30ffd0,#24ffdb,#04fffc,#00ccff,#00a2ff,#007aff,#004dff,#0034ff,#0058ff,#0085ff,#00adff,#00d0ff,#00f3ff,#08fff7,#12ffed,#12ffed,#0cfff3,#04fffb,#00f9ff,#00f0ff,#00ebff,#00e6ff)"></i><i style="background:linear-gradient(90deg,#00beff,#00c1ff,#00c6ff,#00ccff,#00d4ff,#00daff,#00deff,#00deff,#00d7ff,#00c8ff,#00adff,#0093ff,#0075ff,#0053ff,#0038ff,#004bff,#006dff,#008bff,#00abff,#00d4ff,#00ecff,#00f5ff,#00f8ff,#00f5ff,#00ecff,#00d4ff,#00abff,#008bff,#006dff,#004bff,#0038ff,#0053ff,#0075ff,#0093ff,#00adff,#00c8ff,#00d7ff,#00deff,#00deff,#00daff,#00d4ff,#00ccff,#00c6ff,#00c1ff,#00beff)"></i><i style="background:linear-gradient(90deg,#009bff,#009dff,#00a0ff,#00a5ff,#00aaff,#00afff,#00b2ff,#00b2ff,#00acff,#00a2ff,#008fff,#007dff,#0067ff,#0050ff,#003dff,#004aff,#0064ff,#007aff,#0091ff,#00afff,#00c1ff,#00c7ff,#00c9ff,#00c7ff,#00c1ff,#00afff,#0091ff,#007aff,#0064ff,#004aff,#003dff,#0050ff,#0067ff,#007dff,#008fff,#00a2ff,#00acff,#00b2ff,#00b2ff,#00afff,#00aaff,#00a5ff,#00a0ff,#009dff,#009bff)"></i><i style="background:linear-gradient(90deg,#007eff,#007fff,#0081ff,#0084ff,#0088ff,#008bff,#008cff,#008cff,#0089ff,#0082ff,#0076ff,#006aff,#005cff,#004dff,#0041ff,#004bff,#005cff,#006bff,#007bff,#008fff,#009bff,#00a0ff,#00a1ff,#00a0ff,#009bff,#008fff,#007bff,#006bff,#005cff,#004bff,#0041ff,#004dff,#005cff,#006aff,#0076ff,#0082ff,#0089ff,#008cff,#008cff,#008bff,#0088ff,#0084ff,#0081ff,#007fff,#007eff)"></i><i style="background:linear-gradient(90deg,#0069ff,#006aff,#006bff,#006dff,#006fff,#0070ff,#0071ff,#0071ff,#006fff,#006bff,#0064ff,#005dff,#0055ff,#004cff,#0045ff,#004bff,#0056ff,#005fff,#0068ff,#0075ff,#007cff,#007fff,#0080ff,#007fff,#007cff,#0075ff,#0068ff,#005fff,#0056ff,#004bff,#0045ff,#004cff,#0055ff,#005dff,#0064ff,#006bff,#006fff,#0071ff,#0071ff,#0070ff,#006fff,#006dff,#006bff,#006aff,#0069ff)"></i><i style="background:linear-gradient(90deg,#0058ff,#0059ff,#0059ff,#005aff,#005bff,#005cff,#005cff,#005cff,#005bff,#0059ff,#0056ff,#0053ff,#0050ff,#004cff,#0049ff,#004cff,#0051ff,#0056ff,#005bff,#0061ff,#0065ff,#0066ff,#0066ff,#0066ff,#0065ff,#0061ff,#005bff,#0056ff,#0051ff,#004cff,#0049ff,#004cff,#0050ff,#0053ff,#0056ff,#0059ff,#005bff,#005cff,#005cff,#005cff,#005bff,#005aff,#0059ff,#0059ff,#0058ff)"></i><i style="background:linear-gradient(90deg,#004bff,#004bff,#004bff,#004bff,#004bff,#004bff,#004bff,#004bff,#004bff,#004bff,#004bff,#004bff,#004bff,#004bff,#004bff,#004cff,#004cff,#004dff,#004dff,#004eff,#004fff,#004fff,#004fff,#004fff,#004fff,#004eff,#004dff,#004dff,#004cff,#004cff,#004bff,#004bff,#004bff,#004bff,#004bff,#004bff,#004bff,#004bff,#004bff,#004bff,#004bff,#004bff,#004bff,#004bff,#004bff)"></i><i style="background:linear-gradient(90deg,#004cff,#004cff,#004cff,#004cff,#004cff,#004cff,#004cff,#004cff,#004cff,#004cff,#004cff,#004cff,#004cff,#004cff,#004cff,#004cff,#004cff,#004cff,#004cff,#004cff,#004cff,#004cff,#004cff,#004cff,#004cff,#004cff,#004cff,#004cff,#004cff,#004cff,#004cff,#004cff,#004cff,#004cff,#004cff,#004cff,#004cff,#004cff,#004cff,#004cff,#004cff,#004cff,#004cff,#004cff,#004cff)"></i><i style="background:linear-gradient(90deg,#004cff,#004cff,#004cff,#004cff,#004cff,#004cff,#004cff,#004cff,#004cff,#004cff,#004cff,#004cff,#004cff,#004cff,#004cff,#004cff,#004cff,#004cff,#004cff,#004cff,#004cff,#004cff,#004cff,#004cff,#004cff,#004cff,#004cff,#004cff,#004cff,#004cff,#004cff,#004cff,#004cff,#004cff,#004cff,#004cff,#004cff,#004cff,#004cff,#004cff,#004cff,#004cff,#004cff,#004cff,#004cff)"></i><i style="background:linear-gradient(90deg,#0053ff,#0053ff,#0053ff,#0054ff,#0054ff,#0055ff,#0055ff,#0055ff,#0054ff,#0054ff,#0052ff,#0051ff,#004fff,#004dff,#004cff,#004cff,#004eff,#0050ff,#0052ff,#0054ff,#0055ff,#0055ff,#0056ff,#0055ff,#0055ff,#0054ff,#0052ff,#0050ff,#004eff,#004cff,#004cff,#004dff,#004fff,#0051ff,#0052ff,#0054ff,#0054ff,#0055ff,#0055ff,#0055ff,#0054ff,#0054ff,#0053ff,#0053ff,#0053ff)"></i><i style="background:linear-gradient(90deg,#006cff,#006dff,#006eff,#0070ff,#0072ff,#0074ff,#0075ff,#0075ff,#0073ff,#006fff,#0068ff,#0061ff,#0059ff,#0051ff,#004aff,#004eff,#0056ff,#005dff,#0064ff,#006eff,#0073ff,#0075ff,#0076ff,#0075ff,#0073ff,#006eff,#0064ff,#005dff,#0056ff,#004eff,#004aff,#0051ff,#0059ff,#0061ff,#0068ff,#006fff,#0073ff,#0075ff,#0075ff,#0074ff,#0072ff,#0070ff,#006eff,#006dff,#006cff)"></i><i style="background:linear-gradient(90deg,#0087ff,#0088ff,#008aff,#008eff,#0091ff,#0094ff,#0096ff,#0096ff,#0093ff,#008bff,#007fff,#0072ff,#0064ff,#0053ff,#0047ff,#004eff,#005dff,#0069ff,#0077ff,#0088ff,#0092ff,#0096ff,#0097ff,#0096ff,#0092ff,#0088ff,#0077ff,#0069ff,#005dff,#004eff,#0047ff,#0053ff,#0064ff,#0072ff,#007fff,#008bff,#0093ff,#0096ff,#0096ff,#0094ff,#0091ff,#008eff,#008aff,#0088ff,#0087ff)"></i><i style="background:linear-gradient(90deg,#00a1ff,#00a3ff,#00a6ff,#00abff,#00b0ff,#00b4ff,#00b7ff,#00b7ff,#00b2ff,#00a8ff,#0095ff,#0083ff,#006dff,#0056ff,#0043ff,#004dff,#0062ff,#0073ff,#0086ff,#009eff,#00acff,#00b2ff,#00b3ff,#00b2ff,#00acff,#009eff,#0086ff,#0073ff,#0062ff,#004dff,#0043ff,#0056ff,#006dff,#0083ff,#0095ff,#00a8ff,#00b2ff,#00b7ff,#00b7ff,#00b4ff,#00b0ff,#00abff,#00a6ff,#00a3ff,#00a1ff)"></i><i style="background:linear-gradient(90deg,#00beff,#00c2ff,#00c6ff,#00ccff,#00d3ff,#00d9ff,#00ddff,#00ddff,#00d6ff,#00c8ff,#00aeff,#0095ff,#0078ff,#0058ff,#003fff,#004cff,#0067ff,#007eff,#0096ff,#00b6ff,#00c9ff,#00cfff,#00d2ff,#00cfff,#00c9ff,#00b6ff,#0096ff,#007eff,#0067ff,#004cff,#003fff,#0058ff,#0078ff,#0095ff,#00aeff,#00c8ff,#00d6ff,#00ddff,#00ddff,#00d9ff,#00d3ff,#00ccff,#00c6ff,#00c2ff,#00beff)"></i><i style="background:linear-gradient(90deg,#00deff,#00e2ff,#00e7ff,#00efff,#00f8ff,#01fffe,#06fff9,#06fff9,#00fcff,#00eaff,#00caff,#00aaff,#0084ff,#005bff,#003aff,#004cff,#006eff,#008cff,#00abff,#00d4ff,#00ecff,#00f4ff,#00f7ff,#00f4ff,#00ecff,#00d4ff,#00abff,#008cff,#006eff,#004cff,#003aff,#005bff,#0084ff,#00aaff,#00caff,#00eaff,#00fcff,#06fff9,#06fff9,#01fffe,#00f8ff,#00efff,#00e7ff,#00e2ff,#00deff)"></i><i style="background:linear-gradient(90deg,#00ffff,#04fffb,#0bfff4,#15ffea,#20ffe0,#29ffd6,#30ffd0,#2fffd0,#24ffdb,#0efff1,#00e6ff,#00beff,#0091ff,#005fff,#0036ff,#004eff,#007bff,#00a2ff,#00cbff,#01fffe,#21ffde,#2dffd3,#30ffcf,#2dffd3,#21ffde,#01fffe,#00cbff,#00a2ff,#007bff,#004eff,#0036ff,#005fff,#0091ff,#00beff,#00e6ff,#0efff1,#24ffdb,#2fffd0,#30ffd0,#29ffd6,#20ffe0,#15ffea,#0bfff4,#04fffb,#00ffff)"></i><i style="background:linear-gradient(90deg,#23ffdc,#29ffd7,#30ffcf,#3cffc3,#49ffb7,#55ffab,#5cffa4,#5cffa4,#4effb1,#34ffcb,#05fffa,#00d5ff,#009fff,#0063ff,#0033ff,#0052ff,#008cff,#00beff,#00f3ff,#3affc6,#63ff9d,#72ff8e,#76ff8a,#72ff8e,#63ff9d,#3affc6,#00f3ff,#00beff,#008cff,#0052ff,#0033ff,#0063ff,#009fff,#00d5ff,#05fffa,#34ffcb,#4effb1,#5cffa4,#5cffa4,#55ffab,#49ffb7,#3cffc3,#30ffcf,#29ffd7,#23ffdc)"></i><i style="background:linear-gradient(90deg,#4dffb3,#53ffac,#5dffa3,#6bff95,#7aff86,#88ff78,#91ff6f,#90ff70,#80ff80,#61ff9f,#29ffd6,#00f0ff,#00b0ff,#0069ff,#0030ff,#0056ff,#009cff,#00d9ff,#1bffe4,#6fff91,#a0ff60,#b2ff4e,#b8ff48,#b2ff4e,#a0ff60,#6fff91,#1bffe4,#00d9ff,#009cff,#0056ff,#0030ff,#0069ff,#00b0ff,#00f0ff,#29ffd6,#61ff9f,#80ff80,#90ff70,#91ff6f,#88ff78,#7aff86,#6bff95,#5dffa3,#53ffac,#4dffb3)"></i><i style="background:linear-gradient(90deg,#82ff7e,#8aff75,#95ff6b,#a6ff5a,#b8ff47,#c8ff37,#d3ff2c,#d3ff2d,#c0ff40,#9bff65,#58ffa8,#15ffea,#00c7ff,#0073ff,#002fff,#005aff,#00acff,#00f3ff,#40ffc0,#a1ff5e,#dbff25,#f0ff0f,#f6ff09,#f0ff0f,#dbff25,#a1ff5e,#40ffc0,#00f3ff,#00acff,#005aff,#002fff,#0073ff,#00c7ff,#15ffea,#58ffa8,#9bff65,#c0ff40,#d3ff2d,#d3ff2c,#c8ff37,#b8ff47,#a6ff5a,#95ff6b,#8aff75,#82ff7e)"></i><i style="background:linear-gradient(90deg,#b2ff4d,#bcff44,#c8ff37,#dbff24,#f0ff0f,#fffb00,#ffef00,#fff000,#f9ff06,#ceff31,#82ff7e,#36ffca,#00dcff,#007cff,#002dff,#005eff,#00b9ff,#0afff5,#5fffa1,#ccff34,#fff200,#ffda00,#ffd300,#ffda00,#fff200,#ccff34,#5fffa1,#0afff5,#00b9ff,#005eff,#002dff,#007cff,#00dcff,#36ffca,#82ff7e,#ceff31,#f9ff06,#fff000,#ffef00,#fffb00,#f0ff0f,#dbff24,#c8ff37,#bcff44,#b2ff4d)"></i><i style="background:linear-gradient(90deg,#d9ff26,#e4ff1c,#f1ff0e,#fff800,#ffe100,#ffcc00,#ffbe00,#ffbf00,#ffd700,#f8ff07,#a4ff5c,#50ffaf,#00eeff,#0083ff,#002dff,#0062ff,#00c5ff,#1effe2,#7aff86,#f1ff0e,#ffc700,#ffad00,#ffa500,#ffad00,#ffc700,#f1ff0e,#7aff86,#1effe2,#00c5ff,#0062ff,#002dff,#0083ff,#00eeff,#50ffaf,#a4ff5c,#f8ff07,#ffd700,#ffbf00,#ffbe00,#ffcc00,#ffe100,#fff800,#f1ff0e,#e4ff1c,#d9ff26)"></i><i style="background:linear-gradient(90deg,#fcff03,#fff700,#ffe800,#ffd100,#ffb800,#ffa200,#ff9300,#ff9400,#ffae00,#ffe100,#c3ff3d,#68ff98,#00fdff,#008aff,#002dff,#0066ff,#00d1ff,#2fffd0,#93ff6d,#ffec00,#ffa000,#ff8500,#ff7c00,#ff8500,#ffa000,#ffec00,#93ff6d,#2fffd0,#00d1ff,#0066ff,#002dff,#008aff,#00fdff,#68ff98,#c3ff3d,#ffe100,#ffae00,#ff9400,#ff9300,#ffa200,#ffb800,#ffd100,#ffe800,#fff700,#fcff03)"></i><i style="background:linear-gradient(90deg,#ffe300,#ffd800,#ffc800,#ffaf00,#ff9500,#ff7d00,#ff6e00,#ff6e00,#ff8a00,#ffc000,#ddff22,#7dff83,#0cfff3,#0091ff,#002dff,#006aff,#00dbff,#40ffbf,#aaff56,#ffcd00,#ff7c00,#ff5f00,#ff5600,#ff5f00,#ff7c00,#ffcd00,#aaff56,#40ffbf,#00dbff,#006aff,#002dff,#0091ff,#0cfff3,#7dff83,#ddff22,#ffc000,#ff8a00,#ff6e00,#ff6e00,#ff7d00,#ff9500,#ffaf00,#ffc800,#ffd800,#ffe300)"></i><i style="background:linear-gradient(90deg,#ffc800,#ffbb00,#ffab00,#ff9100,#ff7500,#ff5c00,#ff4c00,#ff4c00,#ff6900,#ffa300,#f5ff0a,#90ff70,#19ffe6,#0097ff,#002eff,#006eff,#00e6ff,#50ffb0,#bfff41,#ffb000,#ff5b00,#ff3c00,#ff3300,#ff3c00,#ff5b00,#ffb000,#bfff41,#50ffb0,#00e6ff,#006eff,#002eff,#0097ff,#19ffe6,#90ff70,#f5ff0a,#ffa300,#ff6900,#ff4c00,#ff4c00,#ff5c00,#ff7500,#ff9100,#ffab00,#ffbb00,#ffc800)"></i><i style="background:linear-gradient(90deg,#ffb100,#ffa400,#ff9300,#ff7800,#ff5b00,#ff4100,#ff3000,#ff3000,#ff4f00,#ff8a00,#fff500,#9fff60,#24ffdb,#009cff,#002fff,#0071ff,#00edff,#5affa6,#cdff33,#ff9e00,#ff4600,#ff2600,#ff1c00,#ff2600,#ff4600,#ff9e00,#cdff33,#5affa6,#00edff,#0071ff,#002fff,#009cff,#24ffdb,#9fff60,#fff500,#ff8a00,#ff4f00,#ff3000,#ff3000,#ff4100,#ff5b00,#ff7800,#ff9300,#ffa400,#ffb100)"></i><i style="background:linear-gradient(90deg,#ffa000,#ff9300,#ff8100,#ff6600,#ff4800,#ff2d00,#ff1b00,#ff1c00,#ff3b00,#ff7800,#ffe600,#abff54,#2dffd3,#00a1ff,#0030ff,#0074ff,#00f2ff,#63ff9d,#d8ff28,#ff8f00,#ff3600,#ff1500,#ff0b00,#ff1500,#ff3600,#ff8f00,#d8ff28,#63ff9d,#00f2ff,#0074ff,#0030ff,#00a1ff,#2dffd3,#abff54,#ffe600,#ff7800,#ff3b00,#ff1c00,#ff1b00,#ff2d00,#ff4800,#ff6600,#ff8100,#ff9300,#ffa000)"></i><i style="background:linear-gradient(90deg,#ff9200,#ff8500,#ff7200,#ff5600,#ff3700,#ff1c00,#ff0a00,#ff0b00,#ff2b00,#ff6900,#ffd900,#b5ff4a,#34ffcb,#00a5ff,#0032ff,#0076ff,#00f6ff,#68ff98,#deff21,#ff8700,#ff2c00,#ff0b00,#ff0100,#ff0b00,#ff2c00,#ff8700,#deff21,#68ff98,#00f6ff,#0076ff,#0032ff,#00a5ff,#34ffcb,#b5ff4a,#ffd900,#ff6900,#ff2b00,#ff0b00,#ff0a00,#ff1c00,#ff3700,#ff5600,#ff7200,#ff8500,#ff9200)"></i><i style="background:linear-gradient(90deg,#ff8d00,#ff8000,#ff6d00,#ff5100,#ff3200,#ff1700,#ff0500,#ff0500,#ff2500,#ff6400,#ffd500,#b9ff46,#37ffc8,#00a7ff,#0034ff,#0077ff,#00f6ff,#67ff98,#ddff22,#ff8900,#ff2f00,#ff0e00,#ff0400,#ff0e00,#ff2f00,#ff8900,#ddff22,#67ff98,#00f6ff,#0077ff,#0034ff,#00a7ff,#37ffc8,#b9ff46,#ffd500,#ff6400,#ff2500,#ff0500,#ff0500,#ff1700,#ff3200,#ff5100,#ff6d00,#ff8000,#ff8d00)"></i><i style="background:linear-gradient(90deg,#ff9500,#ff8700,#ff7500,#ff5900,#ff3b00,#ff2000,#ff0e00,#ff0f00,#ff2e00,#ff6c00,#ffdb00,#b5ff4b,#35ffcb,#00a7ff,#0035ff,#0077ff,#00f3ff,#62ff9e,#d5ff2b,#ff9500,#ff3d00,#ff1c00,#ff1200,#ff1c00,#ff3d00,#ff9500,#d5ff2b,#62ff9e,#00f3ff,#0077ff,#0035ff,#00a7ff,#35ffcb,#b5ff4b,#ffdb00,#ff6c00,#ff2e00,#ff0f00,#ff0e00,#ff2000,#ff3b00,#ff5900,#ff7500,#ff8700,#ff9500)"></i><i style="background:linear-gradient(90deg,#ffa200,#ff9500,#ff8300,#ff6800,#ff4a00,#ff3000,#ff1f00,#ff1f00,#ff3e00,#ff7b00,#ffe600,#acff53,#30ffd0,#00a6ff,#0037ff,#0077ff,#00efff,#5affa6,#caff36,#ffa400,#ff4f00,#ff3000,#ff2600,#ff3000,#ff4f00,#ffa400,#caff36,#5affa6,#00efff,#0077ff,#0037ff,#00a6ff,#30ffd0,#acff53,#ffe600,#ff7b00,#ff3e00,#ff1f00,#ff1f00,#ff3000,#ff4a00,#ff6800,#ff8300,#ff9500,#ffa200)"></i><i style="background:linear-gradient(90deg,#ffb000,#ffa300,#ff9200,#ff7800,#ff5b00,#ff4100,#ff3000,#ff3100,#ff4f00,#ff8a00,#fff300,#a3ff5c,#2affd5,#00a4ff,#0039ff,#0076ff,#00e9ff,#50ffb0,#bbff45,#ffb900,#ff6700,#ff4900,#ff4000,#ff4900,#ff6700,#ffb900,#bbff45,#50ffb0,#00e9ff,#0076ff,#0039ff,#00a4ff,#2affd5,#a3ff5c,#fff300,#ff8a00,#ff4f00,#ff3100,#ff3000,#ff4100,#ff5b00,#ff7800,#ff9200,#ffa300,#ffb000)"></i><i style="background:linear-gradient(90deg,#ffc100,#ffb500,#ffa500,#ff8b00,#ff6f00,#ff5700,#ff4700,#ff4700,#ff6400,#ff9d00,#fcff03,#98ff68,#23ffdc,#00a2ff,#003aff,#0074ff,#00e1ff,#42ffbe,#a7ff59,#ffd500,#ff8800,#ff6b00,#ff6300,#ff6b00,#ff8800,#ffd500,#a7ff59,#42ffbe,#00e1ff,#0074ff,#003aff,#00a2ff,#23ffdc,#98ff68,#fcff03,#ff9d00,#ff6400,#ff4700,#ff4700,#ff5700,#ff6f00,#ff8b00,#ffa500,#ffb500,#ffc100)"></i><i style="background:linear-gradient(90deg,#ffd400,#ffc800,#ffb800,#ffa000,#ff8500,#ff6e00,#ff5e00,#ff5f00,#ff7a00,#ffb100,#ecff13,#8cff74,#1cffe3,#00a0ff,#003cff,#0071ff,#00d7ff,#31ffce,#90ff70,#fff500,#ffad00,#ff9300,#ff8b00,#ff9300,#ffad00,#fff500,#90ff70,#31ffce,#00d7ff,#0071ff,#003cff,#00a0ff,#1cffe3,#8cff74,#ecff13,#ffb100,#ff7a00,#ff5f00,#ff5e00,#ff6e00,#ff8500,#ffa000,#ffb800,#ffc800,#ffd400)"></i><i style="background:linear-gradient(90deg,#ffe800,#ffdd00,#ffce00,#ffb700,#ff9d00,#ff8700,#ff7800,#ff7800,#ff9300,#ffc700,#dbff24,#7fff81,#14ffeb,#009dff,#003eff,#006eff,#00caff,#1cffe4,#71ff8f,#dfff20,#ffde00,#ffc600,#ffbf00,#ffc600,#ffde00,#dfff20,#71ff8f,#1cffe4,#00caff,#006eff,#003eff,#009dff,#14ffeb,#7fff81,#dbff24,#ffc700,#ff9300,#ff7800,#ff7800,#ff8700,#ff9d00,#ffb700,#ffce00,#ffdd00,#ffe800)"></i><i style="background:linear-gradient(90deg,#fffc00,#fff200,#ffe300,#ffcd00,#ffb500,#ff9f00,#ff9100,#ff9200,#ffab00,#ffdc00,#caff36,#72ff8e,#0cfff3,#009bff,#0040ff,#0069ff,#00b9ff,#00ffff,#4bffb5,#abff55,#e4ff1c,#f8ff07,#ffff00,#f8ff07,#e4ff1c,#abff55,#4bffb5,#00ffff,#00b9ff,#0069ff,#0040ff,#009bff,#0cfff3,#72ff8e,#caff36,#ffdc00,#ffab00,#ff9200,#ff9100,#ff9f00,#ffb500,#ffcd00,#ffe300,#fff200,#fffc00)"></i><i style="background:linear-gradient(90deg,#f0ff0f,#faff05,#fff600,#ffe100,#ffca00,#ffb600,#ffa800,#ffa800,#ffc000,#fff000,#baff45,#66ff99,#05fffa,#0099ff,#0042ff,#0065ff,#00aaff,#00e7ff,#29ffd6,#7dff83,#aeff52,#c0ff40,#c6ff3a,#c0ff40,#aeff52,#7dff83,#29ffd6,#00e7ff,#00aaff,#0065ff,#0042ff,#0099ff,#05fffa,#66ff99,#baff45,#fff000,#ffc000,#ffa800,#ffa800,#ffb600,#ffca00,#ffe100,#fff600,#faff05,#f0ff0f)"></i><i style="background:linear-gradient(90deg,#dfff20,#e9ff17,#f6ff09,#fff400,#ffde00,#ffca00,#ffbd00,#ffbe00,#ffd500,#fcff03,#acff54,#5cffa4,#00fdff,#0097ff,#0044ff,#0061ff,#009dff,#00d2ff,#0bfff4,#54ffac,#7fff81,#8fff71,#93ff6c,#8fff71,#7fff81,#54ffac,#0bfff4,#00d2ff,#009dff,#0061ff,#0044ff,#0097ff,#00fdff,#5cffa4,#acff54,#fcff03,#ffd500,#ffbe00,#ffbd00,#ffca00,#ffde00,#fff400,#f6ff09,#e9ff17,#dfff20)"></i><i style="background:linear-gradient(90deg,#d0ff30,#d9ff26,#e6ff1a,#f9ff06,#fff000,#ffdd00,#ffd100,#ffd100,#ffe700,#ecff13,#9fff61,#52ffae,#00f8ff,#0096ff,#0046ff,#005fff,#0095ff,#00c4ff,#00f6ff,#37ffc8,#5dffa2,#6bff94,#70ff90,#6bff94,#5dffa2,#37ffc8,#00f6ff,#00c4ff,#0095ff,#005fff,#0046ff,#0096ff,#00f8ff,#52ffae,#9fff61,#ecff13,#ffe700,#ffd100,#ffd100,#ffdd00,#fff000,#f9ff06,#e6ff1a,#d9ff26,#d0ff30)"></i><i style="background:linear-gradient(90deg,#c3ff3c,#ccff33,#d8ff27,#ebff14,#ffff00,#ffed00,#ffe100,#ffe100,#fff600,#deff21,#94ff6c,#4affb6,#00f3ff,#0095ff,#0048ff,#005eff,#008fff,#00b9ff,#00e6ff,#21ffdf,#43ffbc,#50ffb0,#53ffac,#50ffb0,#43ffbc,#21ffdf,#00e6ff,#00b9ff,#008fff,#005eff,#0048ff,#0095ff,#00f3ff,#4affb6,#94ff6c,#deff21,#fff600,#ffe100,#ffe100,#ffed00,#ffff00,#ebff14,#d8ff27,#ccff33,#c3ff3c)"></i><i style="background:linear-gradient(90deg,#b9ff47,#c1ff3e,#cdff32,#dfff20,#f3ff0c,#fffa00,#ffee00,#ffef00,#fbff04,#d3ff2d,#8bff75,#43ffbc,#00efff,#0094ff,#004aff,#005eff,#008aff,#00b0ff,#00d9ff,#0ffff0,#2effd1,#3affc6,#3dffc2,#3affc6,#2effd1,#0ffff0,#00d9ff,#00b0ff,#008aff,#005eff,#004aff,#0094ff,#00efff,#43ffbc,#8bff75,#d3ff2d,#fbff04,#ffef00,#ffee00,#fffa00,#f3ff0c,#dfff20,#cdff32,#c1ff3e,#b9ff47)"></i><i style="background:linear-gradient(90deg,#afff50,#b8ff48,#c3ff3d,#d4ff2b,#e7ff18,#f8ff07,#fffb00,#fffb00,#efff10,#c8ff37,#83ff7d,#3effc2,#00ecff,#0094ff,#004cff,#005eff,#0087ff,#00aaff,#00d0ff,#01fffe,#1effe1,#29ffd7,#2cffd3,#29ffd7,#1effe1,#01fffe,#00d0ff,#00aaff,#0087ff,#005eff,#004cff,#0094ff,#00ecff,#3effc2,#83ff7d,#c8ff37,#efff10,#fffb00,#fffb00,#f8ff07,#e7ff18,#d4ff2b,#c3ff3d,#b8ff48,#afff50)"></i><i style="background:linear-gradient(90deg,#a6ff5a,#aeff52,#b9ff47,#caff36,#dcff23,#ecff13,#f7ff08,#f7ff08,#e4ff1b,#beff41,#7bff85,#38ffc8,#00e9ff,#0094ff,#004eff,#005eff,#0084ff,#00a5ff,#00c8ff,#00f5ff,#11ffee,#1bffe4,#1effe1,#1bffe4,#11ffee,#00f5ff,#00c8ff,#00a5ff,#0084ff,#005eff,#004eff,#0094ff,#00e9ff,#38ffc8,#7bff85,#beff41,#e4ff1b,#f7ff08,#f7ff08,#ecff13,#dcff23,#caff36,#b9ff47,#aeff52,#a6ff5a)"></i><i style="background:linear-gradient(90deg,#9cff64,#a4ff5c,#aeff51,#bfff41,#d0ff2f,#e0ff1f,#ebff15,#eaff15,#d8ff28,#b3ff4c,#72ff8d,#31ffce,#00e5ff,#0093ff,#004fff,#005eff,#0082ff,#00a1ff,#00c2ff,#00ecff,#06fff9,#0ffff0,#12ffed,#0ffff0,#06fff9,#00ecff,#00c2ff,#00a1ff,#0082ff,#005eff,#004fff,#0093ff,#00e5ff,#31ffce,#72ff8d,#b3ff4c,#d8ff28,#eaff15,#ebff15,#e0ff1f,#d0ff2f,#bfff41,#aeff51,#a4ff5c,#9cff64)"></i><i style="background:linear-gradient(90deg,#91ff6f,#99ff67,#a3ff5d,#b2ff4d,#c4ff3c,#d3ff2d,#ddff22,#dcff23,#cbff35,#a8ff58,#69ff97,#2affd5,#00e1ff,#0092ff,#0051ff,#005fff,#0080ff,#009dff,#00bcff,#00e4ff,#00fbff,#05fffa,#08fff7,#05fffa,#00fbff,#00e4ff,#00bcff,#009dff,#0080ff,#005fff,#0051ff,#0092ff,#00e1ff,#2affd5,#69ff97,#a8ff58,#cbff35,#dcff23,#ddff22,#d3ff2d,#c4ff3c,#b2ff4d,#a3ff5d,#99ff67,#91ff6f)"></i><i style="background:linear-gradient(90deg,#86ff7a,#8dff73,#97ff69,#a6ff5a,#b7ff49,#c5ff3a,#cfff30,#cfff31,#bdff42,#9cff64,#5fffa0,#23ffdc,#00dcff,#0090ff,#0052ff,#005fff,#007eff,#009aff,#00b7ff,#00ddff,#00f3ff,#00fbff,#00feff,#00fbff,#00f3ff,#00ddff,#00b7ff,#009aff,#007eff,#005fff,#0052ff,#0090ff,#00dcff,#23ffdc,#5fffa0,#9cff64,#bdff42,#cfff31,#cfff30,#c5ff3a,#b7ff49,#a6ff5a,#97ff69,#8dff73,#86ff7a)"></i><i style="background:linear-gradient(90deg,#7bff85,#82ff7e,#8bff75,#9aff66,#aaff56,#b8ff48,#c1ff3e,#c1ff3f,#b0ff4f,#90ff70,#56ffaa,#1cffe3,#00d8ff,#008eff,#0052ff,#005fff,#007cff,#0097ff,#00b2ff,#00d6ff,#00ebff,#00f3ff,#00f5ff,#00f3ff,#00ebff,#00d6ff,#00b2ff,#0097ff,#007cff,#005fff,#0052ff,#008eff,#00d8ff,#1cffe3,#56ffaa,#90ff70,#b0ff4f,#c1ff3f,#c1ff3e,#b8ff48,#aaff56,#9aff66,#8bff75,#82ff7e,#7bff85)"></i><i style="background:linear-gradient(90deg,#71ff8f,#77ff89,#81ff7f,#8fff71,#9eff62,#abff54,#b4ff4b,#b4ff4c,#a4ff5c,#85ff7b,#4dffb3,#15ffea,#00d3ff,#008dff,#0053ff,#005eff,#007bff,#0094ff,#00aeff,#00d0ff,#00e4ff,#00ebff,#00eeff,#00ebff,#00e4ff,#00d0ff,#00aeff,#0094ff,#007bff,#005eff,#0053ff,#008dff,#00d3ff,#15ffea,#4dffb3,#85ff7b,#a4ff5c,#b4ff4c,#b4ff4b,#abff54,#9eff62,#8fff71,#81ff7f,#77ff89,#71ff8f)"></i><i style="background:linear-gradient(90deg,#67ff98,#6eff92,#77ff89,#84ff7c,#93ff6d,#a0ff5f,#a9ff57,#a9ff57,#99ff66,#7bff85,#45ffbb,#0ffff0,#00cfff,#008bff,#0053ff,#005eff,#0079ff,#0091ff,#00aaff,#00cbff,#00deff,#00e5ff,#00e8ff,#00e5ff,#00deff,#00cbff,#00aaff,#0091ff,#0079ff,#005eff,#0053ff,#008bff,#00cfff,#0ffff0,#45ffbb,#7bff85,#99ff66,#a9ff57,#a9ff57,#a0ff5f,#93ff6d,#84ff7c,#77ff89,#6eff92,#67ff98)"></i><i style="background:linear-gradient(90deg,#60ffa0,#66ff9a,#6fff91,#7cff84,#8aff76,#97ff69,#a0ff60,#9fff61,#90ff70,#73ff8d,#3effc1,#0afff6,#00ccff,#0089ff,#0053ff,#005eff,#0078ff,#008fff,#00a8ff,#00c8ff,#00dbff,#00e2ff,#00e4ff,#00e2ff,#00dbff,#00c8ff,#00a8ff,#008fff,#0078ff,#005eff,#0053ff,#0089ff,#00ccff,#0afff6,#3effc1,#73ff8d,#90ff70,#9fff61,#a0ff60,#97ff69,#8aff76,#7cff84,#6fff91,#66ff9a,#60ffa0)"></i><i style="background:linear-gradient(90deg,#59ffa7,#5fffa1,#68ff98,#75ff8b,#83ff7d,#8fff71,#97ff68,#97ff69,#89ff77,#6cff94,#38ffc7,#05fffa,#00c9ff,#0087ff,#0052ff,#005dff,#0077ff,#008eff,#00a6ff,#00c5ff,#00d8ff,#00deff,#00e1ff,#00deff,#00d8ff,#00c5ff,#00a6ff,#008eff,#0077ff,#005dff,#0052ff,#0087ff,#00c9ff,#05fffa,#38ffc7,#6cff94,#89ff77,#97ff69,#97ff68,#8fff71,#83ff7d,#75ff8b,#68ff98,#5fffa1,#59ffa7)"></i>
</div></div>
<div class="hm" style="left:724.5px">
<div class="hi" style="left:-19.44px;top:-7.99px;width:427.68px">
<i style="background:linear-gradient(90deg,#3effc1,#43ffbc,#47ffb8,#4bffb5,#4effb2,#51ffaf,#54ffab,#53ffad,#4affb6,#3bffc5,#22ffdd,#00f8ff,#00beff,#006aff,#0056ff,#0068ff,#0076ff,#0085ff,#0099ff,#00a2ff,#00a6ff,#00a8ff,#00a8ff,#00a8ff,#00a5ff,#00a1ff,#0097ff,#0084ff,#0075ff,#0066ff,#0054ff,#0071ff,#00c5ff,#00fdff,#25ffda,#3dffc3,#4bffb5,#53ffac,#54ffac,#51ffaf,#4effb2,#4bffb5,#47ffb9,#43ffbd,#3dffc2)"></i><i style="background:linear-gradient(90deg,#41ffbf,#46ffb9,#4affb5,#4effb2,#51ffaf,#54ffab,#57ffa8,#56ffaa,#4dffb3,#3effc2,#24ffdb,#00faff,#00bfff,#006aff,#0056ff,#0068ff,#0076ff,#0085ff,#0099ff,#00a2ff,#00a6ff,#00a8ff,#00a8ff,#00a8ff,#00a5ff,#00a1ff,#0097ff,#0084ff,#0075ff,#0066ff,#0054ff,#0072ff,#00c6ff,#01fffe,#28ffd8,#3fffc0,#4effb2,#56ffa9,#57ffa9,#54ffac,#51ffaf,#4effb2,#4affb6,#46ffba,#40ffbf)"></i><i style="background:linear-gradient(90deg,#44ffbb,#4affb6,#4effb2,#52ffae,#55ffab,#58ffa8,#5bffa5,#59ffa6,#50ffaf,#41ffbf,#28ffd8,#00fdff,#00c1ff,#006aff,#0056ff,#0068ff,#0076ff,#0086ff,#0099ff,#00a2ff,#00a6ff,#00a8ff,#00a8ff,#00a8ff,#00a5ff,#00a1ff,#0097ff,#0084ff,#0075ff,#0066ff,#0054ff,#0072ff,#00c8ff,#03fffc,#2bffd4,#43ffbd,#51ffae,#5affa6,#5bffa5,#58ffa8,#54ffab,#51ffae,#4effb2,#49ffb6,#44ffbc)"></i><i style="background:linear-gradient(90deg,#48ffb7,#4effb2,#52ffae,#56ffaa,#59ffa7,#5cffa4,#5fffa0,#5effa2,#54ffab,#45ffbb,#2bffd4,#01fffe,#00c2ff,#006bff,#0056ff,#0068ff,#0077ff,#0086ff,#0099ff,#00a2ff,#00a6ff,#00a9ff,#00a9ff,#00a8ff,#00a6ff,#00a2ff,#0097ff,#0084ff,#0075ff,#0067ff,#0054ff,#0073ff,#00caff,#06fff9,#2effd1,#47ffb9,#55ffaa,#5effa1,#5fffa1,#5cffa4,#59ffa7,#55ffaa,#52ffae,#4dffb3,#48ffb8)"></i><i style="background:linear-gradient(90deg,#4cffb3,#52ffae,#56ffa9,#5affa6,#5dffa2,#61ff9f,#64ff9c,#62ff9e,#59ffa7,#49ffb7,#2fffd1,#04fffb,#00c4ff,#006bff,#0056ff,#0069ff,#0077ff,#0087ff,#009bff,#00a4ff,#00a8ff,#00aaff,#00abff,#00aaff,#00a7ff,#00a3ff,#0099ff,#0085ff,#0076ff,#0067ff,#0054ff,#0074ff,#00ccff,#09fff6,#32ffcd,#4bffb5,#5affa6,#63ff9d,#64ff9c,#60ff9f,#5dffa3,#5affa6,#56ffaa,#51ffae,#4cffb4)"></i><i style="background:linear-gradient(90deg,#51ffae,#57ffa9,#5bffa4,#5fffa1,#62ff9d,#66ff9a,#69ff97,#67ff98,#5effa2,#4effb2,#33ffcd,#07fff8,#00c7ff,#006cff,#0056ff,#0069ff,#0078ff,#0088ff,#009cff,#00a6ff,#00aaff,#00acff,#00acff,#00acff,#00a9ff,#00a5ff,#009aff,#0086ff,#0077ff,#0067ff,#0054ff,#0074ff,#00ceff,#0dfff3,#36ffc9,#50ffb0,#5fffa1,#68ff98,#69ff97,#65ff9a,#62ff9e,#5fffa1,#5bffa5,#56ffaa,#51ffaf)"></i><i style="background:linear-gradient(90deg,#56ffa9,#5cffa4,#61ff9f,#65ff9b,#68ff98,#6bff94,#6fff91,#6dff93,#63ff9d,#53ffad,#37ffc8,#0bfff4,#00c9ff,#006cff,#0056ff,#006aff,#0079ff,#0089ff,#009eff,#00a8ff,#00acff,#00aeff,#00afff,#00aeff,#00acff,#00a7ff,#009cff,#0088ff,#0078ff,#0068ff,#0054ff,#0075ff,#00d1ff,#10ffef,#3bffc4,#55ffab,#64ff9b,#6eff92,#6fff91,#6bff95,#68ff98,#64ff9c,#60ff9f,#5bffa4,#56ffaa)"></i><i style="background:linear-gradient(90deg,#5cffa4,#62ff9e,#67ff99,#6bff95,#6eff92,#72ff8e,#75ff8b,#73ff8d,#69ff97,#58ffa7,#3cffc3,#0ffff0,#00ccff,#006dff,#0057ff,#006bff,#007bff,#008bff,#00a0ff,#00aaff,#00afff,#00b1ff,#00b2ff,#00b1ff,#00aeff,#00aaff,#009eff,#0089ff,#0079ff,#0069ff,#0055ff,#0076ff,#00d4ff,#15ffeb,#40ffbf,#5affa5,#6aff95,#74ff8c,#75ff8b,#71ff8f,#6eff92,#6aff96,#66ff9a,#61ff9e,#5bffa4)"></i><i style="background:linear-gradient(90deg,#62ff9d,#68ff98,#6dff93,#71ff8f,#75ff8b,#78ff88,#7cff84,#7aff86,#70ff90,#5effa1,#42ffbe,#13ffec,#00cfff,#006eff,#0057ff,#006dff,#007dff,#008fff,#00a5ff,#00afff,#00b4ff,#00b6ff,#00b7ff,#00b6ff,#00b3ff,#00afff,#00a3ff,#008dff,#007bff,#006aff,#0055ff,#0077ff,#00d7ff,#19ffe6,#46ffba,#61ff9f,#71ff8f,#7bff85,#7cff84,#78ff88,#74ff8c,#71ff8f,#6dff93,#68ff98,#62ff9e)"></i><i style="background:linear-gradient(90deg,#69ff96,#6fff91,#74ff8b,#79ff87,#7cff84,#80ff80,#83ff7d,#82ff7e,#77ff89,#65ff9a,#48ffb7,#18ffe7,#00d2ff,#006fff,#0058ff,#006fff,#0080ff,#0093ff,#00abff,#00b6ff,#00bbff,#00beff,#00beff,#00bdff,#00bbff,#00b5ff,#00a9ff,#0091ff,#007fff,#006dff,#0056ff,#0078ff,#00daff,#1effe1,#4cffb4,#68ff98,#78ff88,#82ff7e,#83ff7d,#7fff81,#7cff84,#78ff88,#74ff8c,#6fff91,#69ff97)"></i><i style="background:linear-gradient(90deg,#72ff8e,#78ff88,#7dff83,#81ff7f,#85ff7b,#89ff77,#8dff73,#8bff75,#80ff80,#6eff92,#50ffb0,#1effe1,#00d6ff,#0070ff,#0059ff,#0071ff,#0084ff,#0099ff,#00b2ff,#00beff,#00c4ff,#00c6ff,#00c7ff,#00c6ff,#00c3ff,#00beff,#00b0ff,#0096ff,#0083ff,#006fff,#0056ff,#0079ff,#00deff,#25ffdb,#54ffac,#70ff90,#81ff7f,#8bff74,#8cff74,#88ff77,#85ff7b,#81ff7f,#7dff83,#77ff89,#71ff8f)"></i><i style="background:linear-gradient(90deg,#7cff84,#82ff7e,#87ff79,#8cff74,#90ff70,#93ff6c,#97ff69,#95ff6b,#8aff76,#77ff89,#58ffa7,#25ffda,#00daff,#0071ff,#005aff,#0074ff,#0089ff,#009fff,#00bbff,#00c8ff,#00cdff,#00d0ff,#00d1ff,#00d0ff,#00cdff,#00c7ff,#00b8ff,#009cff,#0087ff,#0072ff,#0057ff,#007bff,#00e3ff,#2cffd4,#5cffa3,#7aff86,#8bff74,#96ff6a,#97ff69,#93ff6d,#8fff71,#8bff75,#87ff79,#81ff7f,#7bff85)"></i><i style="background:linear-gradient(90deg,#86ff79,#8dff73,#93ff6d,#97ff69,#9bff65,#9fff61,#a3ff5d,#a1ff5f,#96ff6a,#82ff7e,#62ff9e,#2dffd2,#00e0ff,#0072ff,#005bff,#0078ff,#008eff,#00a5ff,#00c3ff,#00d1ff,#00d7ff,#00daff,#00dbff,#00daff,#00d7ff,#00d0ff,#00c0ff,#00a3ff,#008bff,#0075ff,#0058ff,#007dff,#00e9ff,#34ffcc,#66ff9a,#85ff7b,#97ff69,#a2ff5e,#a3ff5d,#9fff61,#9bff65,#97ff69,#92ff6e,#8cff73,#86ff7a)"></i><i style="background:linear-gradient(90deg,#92ff6e,#99ff67,#9fff61,#a3ff5c,#a7ff58,#acff54,#b0ff50,#aeff52,#a2ff5e,#8dff72,#6cff94,#35ffca,#00e5ff,#0074ff,#005cff,#007bff,#0093ff,#00acff,#00cdff,#00dcff,#00e3ff,#00e6ff,#00e7ff,#00e6ff,#00e2ff,#00dbff,#00caff,#00aaff,#0091ff,#0078ff,#0059ff,#007eff,#00efff,#3cffc3,#71ff8f,#90ff70,#a3ff5d,#aeff51,#afff50,#abff55,#a7ff59,#a3ff5d,#9eff62,#98ff68,#91ff6f)"></i><i style="background:linear-gradient(90deg,#9eff62,#a5ff5b,#abff55,#b0ff50,#b4ff4b,#b8ff47,#bdff43,#bbff45,#aeff51,#99ff67,#77ff89,#3effc1,#00ebff,#0075ff,#005dff,#007fff,#009aff,#00b6ff,#00d9ff,#00eaff,#00f1ff,#00f5ff,#00f6ff,#00f4ff,#00f0ff,#00e8ff,#00d5ff,#00b2ff,#0097ff,#007cff,#005aff,#0080ff,#00f5ff,#45ffba,#7bff85,#9cff64,#b0ff50,#bbff44,#bcff43,#b8ff48,#b4ff4c,#afff50,#aaff55,#a4ff5b,#9dff63)"></i><i style="background:linear-gradient(90deg,#aaff56,#b1ff4e,#b8ff48,#bdff43,#c1ff3e,#c6ff3a,#caff35,#c8ff38,#bbff45,#a5ff5a,#82ff7e,#47ffb9,#00f0ff,#0077ff,#005fff,#0085ff,#00a2ff,#00c1ff,#00e9ff,#00fbff,#05fffa,#09fff6,#0afff5,#09fff7,#04fffb,#00faff,#00e5ff,#00beff,#009fff,#0082ff,#005cff,#0082ff,#00fbff,#4effb1,#86ff7a,#a8ff58,#bcff43,#c9ff37,#caff36,#c5ff3a,#c1ff3f,#bcff43,#b7ff49,#b1ff4f,#a9ff56)"></i><i style="background:linear-gradient(90deg,#b7ff49,#beff41,#c5ff3b,#caff36,#ceff31,#d3ff2c,#d8ff28,#d5ff2a,#c8ff37,#b2ff4e,#8dff73,#50ffb0,#00f6ff,#0078ff,#0063ff,#008fff,#00b1ff,#00d6ff,#06fff9,#1bffe4,#25ffda,#2affd5,#2bffd4,#2affd6,#24ffdb,#1affe5,#01fffe,#00d2ff,#00aeff,#008bff,#005eff,#0084ff,#02fffd,#58ffa8,#92ff6e,#b4ff4b,#caff36,#d6ff29,#d7ff28,#d3ff2d,#ceff31,#c9ff36,#c4ff3b,#bdff42,#b6ff4a)"></i><i style="background:linear-gradient(90deg,#c4ff3b,#ccff33,#d3ff2d,#d8ff27,#ddff22,#e2ff1e,#e6ff19,#e4ff1b,#d6ff29,#bfff41,#99ff67,#5affa6,#00fdff,#007aff,#0068ff,#009fff,#00c8ff,#00f5ff,#30ffd0,#4affb6,#56ffaa,#5cffa4,#5effa2,#5cffa4,#55ffab,#48ffb7,#2affd6,#00f0ff,#00c4ff,#0099ff,#0062ff,#0086ff,#09fff6,#62ff9e,#9eff62,#c2ff3e,#d8ff28,#e5ff1a,#e6ff19,#e1ff1e,#dcff23,#d8ff28,#d2ff2d,#cbff34,#c3ff3c)"></i><i style="background:linear-gradient(90deg,#d3ff2d,#dbff25,#e2ff1e,#e7ff18,#ecff13,#f1ff0e,#f6ff09,#f3ff0c,#e5ff1a,#cdff32,#a6ff5a,#65ff9b,#06fff9,#007eff,#006fff,#00afff,#00e0ff,#16ffe9,#5affa6,#79ff87,#86ff7a,#8dff72,#90ff70,#8dff73,#85ff7b,#77ff89,#53ffad,#10ffef,#00dcff,#00a9ff,#0069ff,#008bff,#11ffee,#6dff93,#abff55,#d0ff2f,#e7ff18,#f4ff0b,#f6ff0a,#f0ff0f,#ebff14,#e7ff19,#e1ff1e,#daff25,#d2ff2e)"></i><i style="background:linear-gradient(90deg,#e1ff1e,#eaff15,#f1ff0e,#f7ff09,#fcff04,#fffd00,#fff800,#fffb00,#f5ff0b,#dcff23,#b3ff4c,#71ff8f,#10fff0,#0084ff,#0079ff,#00c2ff,#00faff,#37ffc9,#83ff7c,#a7ff59,#b6ff49,#beff41,#c1ff3f,#beff42,#b5ff4b,#a4ff5b,#7cff84,#30ffcf,#00f4ff,#00baff,#0071ff,#0091ff,#1bffe4,#79ff87,#b9ff47,#dfff20,#f6ff09,#fffa00,#fff900,#fffe00,#fbff04,#f6ff09,#f0ff0f,#e9ff16,#e1ff1f)"></i><i style="background:linear-gradient(90deg,#f2ff0d,#fbff04,#fffc00,#fff600,#fff100,#ffec00,#ffe600,#ffe900,#fff800,#edff13,#c3ff3c,#7fff81,#1bffe4,#008cff,#0084ff,#00d6ff,#16ffe9,#5affa6,#afff50,#d7ff28,#e9ff17,#f2ff0d,#f4ff0b,#f1ff0e,#e7ff18,#d5ff2b,#a7ff59,#52ffae,#10ffef,#00ceff,#007bff,#0099ff,#27ffd8,#87ff78,#c9ff37,#f0ff0f,#fff600,#ffe800,#ffe700,#ffec00,#fff100,#fff700,#fffd00,#faff05,#f1ff0e)"></i><i style="background:linear-gradient(90deg,#fffa00,#fff100,#ffea00,#ffe400,#ffde00,#ffd900,#ffd400,#ffd600,#ffe600,#feff01,#d4ff2c,#8eff72,#28ffd8,#0095ff,#0090ff,#00ecff,#34ffcc,#80ff80,#e0ff20,#fff200,#ffde00,#ffd400,#ffd100,#ffd500,#ffe000,#fff500,#d6ff2a,#77ff89,#2dffd2,#00e3ff,#0087ff,#00a2ff,#34ffcb,#97ff69,#d9ff26,#fffc00,#ffe400,#ffd500,#ffd400,#ffd900,#ffdf00,#ffe400,#ffea00,#fff200,#fffb00)"></i><i style="background:linear-gradient(90deg,#ffe800,#ffe000,#ffd800,#ffd200,#ffcc00,#ffc700,#ffc100,#ffc400,#ffd400,#ffee00,#e4ff1b,#9dff63,#34ffcb,#009eff,#009dff,#04fffb,#52ffad,#a6ff5a,#ffee00,#ffbd00,#ffa700,#ff9c00,#ff9900,#ff9d00,#ffa900,#ffc000,#fff900,#9dff63,#4bffb5,#00f9ff,#0093ff,#00acff,#41ffbf,#a6ff5a,#eaff15,#ffeb00,#ffd200,#ffc300,#ffc200,#ffc700,#ffcd00,#ffd200,#ffd900,#ffe000,#ffe900)"></i><i style="background:linear-gradient(90deg,#ffda00,#ffd000,#ffc900,#ffc200,#ffbd00,#ffb700,#ffb200,#ffb500,#ffc500,#ffe000,#f2ff0d,#aaff56,#40ffbf,#00a8ff,#00aaff,#19ffe6,#6dff93,#c7ff38,#ffc400,#ff8f00,#ff7800,#ff6c00,#ff6800,#ff6c00,#ff7a00,#ff9300,#ffd000,#bdff42,#65ff9b,#0efff1,#009fff,#00b6ff,#4dffb3,#b3ff4d,#f8ff07,#ffdc00,#ffc300,#ffb400,#ffb200,#ffb800,#ffbe00,#ffc300,#ffc900,#ffd100,#ffdb00)"></i><i style="background:linear-gradient(90deg,#ffce00,#ffc500,#ffbe00,#ffb700,#ffb200,#ffac00,#ffa700,#ffa900,#ffb900,#ffd500,#fdff02,#b4ff4b,#4affb5,#00b1ff,#00b6ff,#2affd6,#82ff7e,#e0ff1f,#ffa600,#ff6f00,#ff5600,#ff4900,#ff4600,#ff4a00,#ff5800,#ff7200,#ffb300,#d6ff2a,#79ff86,#1effe1,#00aaff,#00bfff,#57ffa9,#bdff42,#fffb00,#ffd100,#ffb800,#ffa800,#ffa700,#ffad00,#ffb200,#ffb800,#ffbe00,#ffc600,#ffcf00)"></i><i style="background:linear-gradient(90deg,#ffc500,#ffbc00,#ffb400,#ffae00,#ffa800,#ffa200,#ff9d00,#ffa000,#ffb000,#ffcb00,#fff800,#beff42,#53ffad,#00baff,#00c0ff,#37ffc9,#91ff6e,#f2ff0d,#ff9100,#ff5800,#ff3f00,#ff3200,#ff2e00,#ff3200,#ff4100,#ff5b00,#ff9d00,#e7ff18,#89ff77,#2bffd4,#00b4ff,#00c8ff,#60ffa0,#c7ff39,#fff200,#ffc700,#ffae00,#ff9f00,#ff9d00,#ffa300,#ffa900,#ffae00,#ffb500,#ffbd00,#ffc600)"></i><i style="background:linear-gradient(90deg,#ffbc00,#ffb300,#ffab00,#ffa400,#ff9f00,#ff9900,#ff9400,#ff9700,#ffa700,#ffc200,#ffef00,#c6ff39,#5bffa4,#00c1ff,#00c8ff,#42ffbe,#9eff62,#fffe00,#ff8000,#ff4600,#ff2c00,#ff1f00,#ff1b00,#ff2000,#ff2e00,#ff4a00,#ff8d00,#f5ff0a,#95ff6b,#36ffca,#00bcff,#00d0ff,#68ff97,#cfff30,#ffe900,#ffbe00,#ffa500,#ff9500,#ff9400,#ff9a00,#ffa000,#ffa500,#ffac00,#ffb400,#ffbd00)"></i><i style="background:linear-gradient(90deg,#ffb400,#ffab00,#ffa300,#ff9d00,#ff9700,#ff9100,#ff8c00,#ff8f00,#ff9f00,#ffba00,#ffe700,#cdff32,#62ff9e,#00c8ff,#00cfff,#49ffb6,#a7ff59,#fff400,#ff7500,#ff3b00,#ff2100,#ff1300,#ff0f00,#ff1400,#ff2300,#ff3e00,#ff8200,#ffff00,#9eff62,#3effc2,#00c3ff,#00d6ff,#6fff91,#d6ff29,#ffe100,#ffb700,#ff9d00,#ff8e00,#ff8c00,#ff9200,#ff9800,#ff9d00,#ffa400,#ffac00,#ffb500)"></i><i style="background:linear-gradient(90deg,#ffae00,#ffa500,#ff9d00,#ff9700,#ff9100,#ff8c00,#ff8600,#ff8900,#ff9900,#ffb500,#ffe200,#d2ff2d,#67ff99,#00ccff,#00d4ff,#4fffb1,#acff53,#ffee00,#ff6e00,#ff3300,#ff1900,#ff0b00,#ff0800,#ff0c00,#ff1b00,#ff3700,#ff7b00,#fff900,#a3ff5c,#43ffbd,#00c7ff,#00daff,#74ff8c,#dcff24,#ffdc00,#ffb100,#ff9700,#ff8800,#ff8600,#ff8c00,#ff9200,#ff9800,#ff9e00,#ffa600,#ffaf00)"></i><i style="background:linear-gradient(90deg,#ffac00,#ffa200,#ff9a00,#ff9400,#ff8e00,#ff8900,#ff8300,#ff8600,#ff9600,#ffb200,#ffdf00,#d5ff2a,#6aff96,#00ceff,#00d6ff,#52ffae,#b0ff50,#ffe900,#ff6900,#ff2e00,#ff1300,#ff0600,#ff0200,#ff0700,#ff1600,#ff3100,#ff7600,#fff500,#a7ff59,#46ffba,#00caff,#00ddff,#77ff89,#deff21,#ffd900,#ffae00,#ff9400,#ff8500,#ff8300,#ff8900,#ff8f00,#ff9500,#ff9b00,#ffa300,#ffad00)"></i><i style="background:linear-gradient(90deg,#ffad00,#ffa400,#ff9c00,#ff9500,#ff9000,#ff8a00,#ff8400,#ff8700,#ff9700,#ffb300,#ffe000,#d4ff2b,#69ff97,#00cdff,#00d6ff,#52ffae,#b1ff4f,#ffe800,#ff6800,#ff2c00,#ff1200,#ff0400,#ff0000,#ff0500,#ff1400,#ff3000,#ff7500,#fff400,#a7ff58,#46ffba,#00c9ff,#00dcff,#76ff8a,#ddff22,#ffda00,#ffaf00,#ff9600,#ff8600,#ff8500,#ff8b00,#ff9000,#ff9600,#ff9c00,#ffa400,#ffae00)"></i><i style="background:linear-gradient(90deg,#ffb400,#ffab00,#ffa300,#ff9d00,#ff9800,#ff9200,#ff8c00,#ff8f00,#ff9f00,#ffbb00,#ffe700,#ceff32,#63ff9c,#00caff,#00d3ff,#4fffb1,#aeff52,#ffeb00,#ff6b00,#ff2f00,#ff1400,#ff0700,#ff0300,#ff0800,#ff1700,#ff3300,#ff7800,#fff700,#a5ff5b,#43ffbc,#00c6ff,#00d8ff,#70ff8f,#d7ff28,#ffe100,#ffb700,#ff9e00,#ff8e00,#ff8d00,#ff9300,#ff9800,#ff9e00,#ffa400,#ffac00,#ffb500)"></i><i style="background:linear-gradient(90deg,#ffc100,#ffb800,#ffb000,#ffaa00,#ffa500,#ff9f00,#ff9a00,#ff9d00,#ffac00,#ffc700,#fff300,#c3ff3c,#5bffa5,#00c4ff,#00ceff,#4affb6,#a8ff58,#fff100,#ff7100,#ff3500,#ff1b00,#ff0d00,#ff0900,#ff0e00,#ff1d00,#ff3900,#ff7e00,#fffc00,#9fff61,#3effc2,#00c1ff,#00d2ff,#68ff98,#ccff33,#ffed00,#ffc400,#ffab00,#ff9c00,#ff9a00,#ffa000,#ffa500,#ffab00,#ffb100,#ffb900,#ffc200)"></i><i style="background:linear-gradient(90deg,#ffd100,#ffc800,#ffc100,#ffbb00,#ffb500,#ffb000,#ffaa00,#ffad00,#ffbd00,#ffd700,#fcff03,#b6ff49,#50ffb0,#00bcff,#00c7ff,#43ffbd,#a1ff5f,#fff900,#ff7900,#ff3e00,#ff2300,#ff1600,#ff1200,#ff1700,#ff2600,#ff4100,#ff8600,#faff05,#98ff68,#37ffc9,#00bbff,#00caff,#5cffa3,#bfff40,#fffc00,#ffd300,#ffbb00,#ffac00,#ffab00,#ffb000,#ffb600,#ffbb00,#ffc100,#ffc900,#ffd200)"></i><i style="background:linear-gradient(90deg,#ffe200,#ffda00,#ffd200,#ffcc00,#ffc700,#ffc200,#ffbd00,#ffbf00,#ffce00,#ffe800,#ecff13,#a8ff58,#44ffbc,#00b4ff,#00beff,#38ffc7,#95ff6b,#f8ff07,#ff8800,#ff4e00,#ff3400,#ff2700,#ff2300,#ff2800,#ff3600,#ff5200,#ff9500,#edff12,#8cff74,#2cffd3,#00b2ff,#00c1ff,#50ffb0,#b0ff4f,#f2ff0d,#ffe500,#ffcd00,#ffbe00,#ffbd00,#ffc300,#ffc800,#ffcd00,#ffd300,#ffda00,#ffe300)"></i><i style="background:linear-gradient(90deg,#fff300,#ffeb00,#ffe400,#ffde00,#ffd900,#ffd400,#ffcf00,#ffd100,#ffe000,#fff900,#dcff23,#99ff67,#37ffc8,#00aaff,#00b4ff,#2affd5,#84ff7c,#e4ff1b,#ff9f00,#ff6700,#ff4e00,#ff4100,#ff3d00,#ff4200,#ff5000,#ff6a00,#ffac00,#daff26,#7cff84,#1fffe0,#00a8ff,#00b7ff,#43ffbc,#a2ff5e,#e2ff1e,#fff600,#ffde00,#ffd000,#ffcf00,#ffd400,#ffd900,#ffdf00,#ffe400,#ffec00,#fff400)"></i><i style="background:linear-gradient(90deg,#fbff04,#fffb00,#fff400,#ffee00,#ffe900,#ffe400,#ffdf00,#ffe200,#fff000,#f5ff0a,#cdff32,#8cff74,#2bffd4,#00a1ff,#00a9ff,#19ffe6,#6fff91,#cbff35,#ffbf00,#ff8900,#ff7100,#ff6500,#ff6100,#ff6500,#ff7300,#ff8c00,#ffcb00,#c1ff3f,#67ff99,#0efff1,#009eff,#00aeff,#37ffc9,#94ff6c,#d3ff2d,#f9ff06,#ffee00,#ffe100,#ffdf00,#ffe500,#ffea00,#ffef00,#fff400,#fffc00,#faff05)"></i><i style="background:linear-gradient(90deg,#eaff15,#f2ff0d,#f9ff06,#ffff00,#fffa00,#fff500,#fff000,#fff300,#fdff02,#e5ff1a,#beff42,#7dff83,#1fffe1,#0097ff,#009bff,#02fffd,#51ffaf,#a5ff5b,#ffef00,#ffbd00,#ffa800,#ff9c00,#ff9900,#ff9d00,#ffa900,#ffc100,#fffa00,#9cff64,#49ffb6,#00f7ff,#0091ff,#00a4ff,#2affd5,#85ff7b,#c3ff3d,#e8ff17,#feff01,#fff200,#fff100,#fff600,#fffb00,#feff01,#f9ff07,#f2ff0e,#e9ff16)"></i><i style="background:linear-gradient(90deg,#d9ff27,#e0ff1f,#e7ff18,#edff13,#f1ff0e,#f6ff09,#fbff04,#f8ff07,#ebff14,#d3ff2c,#adff53,#6eff92,#12ffed,#008eff,#008dff,#00e8ff,#2fffd1,#79ff87,#d8ff28,#fffb00,#ffe700,#ffdd00,#ffda00,#ffde00,#ffe900,#fffe00,#ceff31,#71ff8f,#28ffd8,#00dfff,#0084ff,#009aff,#1dffe2,#76ff8a,#b2ff4d,#d6ff29,#ecff13,#f9ff06,#fbff04,#f6ff09,#f1ff0e,#ecff13,#e7ff19,#e0ff20,#d8ff28)"></i><i style="background:linear-gradient(90deg,#c7ff39,#ceff31,#d5ff2b,#daff25,#dfff21,#e3ff1c,#e8ff17,#e5ff1a,#d8ff27,#c1ff3e,#9cff64,#5fffa1,#05fffa,#0085ff,#0080ff,#00ceff,#0bfff4,#4bffb4,#9dff63,#c2ff3d,#d3ff2c,#dcff24,#deff21,#dbff24,#d2ff2e,#c0ff3f,#95ff6b,#44ffbc,#05fffa,#00c6ff,#0078ff,#0091ff,#10ffef,#67ff99,#a1ff5f,#c4ff3b,#daff26,#e6ff19,#e8ff18,#e3ff1d,#deff21,#d9ff26,#d4ff2b,#cdff32,#c6ff3a)"></i><i style="background:linear-gradient(90deg,#b5ff4b,#bcff44,#c2ff3d,#c7ff38,#ccff34,#d0ff2f,#d5ff2a,#d3ff2d,#c6ff3a,#b0ff50,#8cff74,#50ffaf,#00f9ff,#007dff,#0073ff,#00b4ff,#00e6ff,#1dffe2,#61ff9f,#81ff7f,#8fff71,#96ff6a,#98ff68,#96ff6a,#8eff72,#7fff81,#5affa5,#17ffe8,#00e1ff,#00aeff,#006dff,#0089ff,#04fffb,#58ffa8,#90ff6f,#b3ff4d,#c7ff38,#d3ff2c,#d5ff2b,#d0ff2f,#cbff34,#c7ff39,#c2ff3e,#bbff44,#b4ff4c)"></i><i style="background:linear-gradient(90deg,#a3ff5c,#aaff55,#b0ff4f,#b5ff4a,#baff46,#beff41,#c2ff3d,#c0ff3f,#b4ff4c,#9fff61,#7cff84,#42ffbd,#00eeff,#0077ff,#006bff,#00a5ff,#00d1ff,#02fffd,#3effc1,#5affa5,#67ff99,#6dff93,#6fff91,#6dff93,#66ff9a,#59ffa7,#38ffc7,#00fbff,#00cdff,#009fff,#0065ff,#0082ff,#00f8ff,#4affb6,#80ff80,#a1ff5e,#b5ff4a,#c1ff3e,#c2ff3d,#beff42,#b9ff46,#b5ff4b,#b0ff50,#aaff56,#a3ff5d)"></i><i style="background:linear-gradient(90deg,#92ff6e,#99ff67,#9fff61,#a3ff5c,#a8ff58,#acff54,#b0ff50,#aeff52,#a2ff5e,#8eff72,#6cff94,#35ffca,#00e4ff,#0073ff,#0066ff,#009aff,#00c3ff,#00eeff,#27ffd8,#41ffbf,#4cffb4,#52ffae,#53ffac,#51ffae,#4bffb5,#3fffc1,#21ffde,#00eaff,#00bfff,#0095ff,#0060ff,#007dff,#00eeff,#3cffc3,#71ff8f,#90ff70,#a3ff5d,#afff51,#b0ff50,#abff54,#a7ff59,#a3ff5d,#9eff62,#98ff68,#91ff6f)"></i><i style="background:linear-gradient(90deg,#81ff7f,#87ff79,#8dff73,#91ff6e,#95ff6a,#99ff66,#9dff62,#9bff65,#90ff70,#7dff83,#5dffa3,#28ffd7,#00dbff,#006eff,#0062ff,#0094ff,#00baff,#00e4ff,#19ffe6,#31ffce,#3cffc3,#42ffbe,#43ffbc,#41ffbe,#3bffc4,#30ffcf,#14ffeb,#00dfff,#00b7ff,#008fff,#005dff,#0079ff,#00e4ff,#2fffd1,#61ff9f,#7fff81,#91ff6f,#9cff64,#9dff63,#99ff67,#95ff6b,#91ff6f,#8cff73,#87ff79,#80ff80)"></i><i style="background:linear-gradient(90deg,#70ff90,#76ff8a,#7bff85,#7fff81,#83ff7d,#87ff79,#8bff75,#89ff77,#7eff82,#6bff94,#4dffb3,#1bffe4,#00d2ff,#006aff,#005fff,#0091ff,#00b7ff,#00dfff,#14ffeb,#2cffd4,#36ffc9,#3cffc4,#3dffc2,#3cffc4,#35ffca,#2affd5,#0efff1,#00dbff,#00b3ff,#008cff,#005aff,#0074ff,#00daff,#21ffde,#51ffaf,#6eff92,#7fff81,#8aff76,#8aff75,#87ff79,#83ff7d,#7fff81,#7bff85,#75ff8b,#6fff91)"></i><i style="background:linear-gradient(90deg,#5effa1,#64ff9c,#69ff97,#6dff92,#71ff8f,#75ff8b,#78ff88,#76ff8a,#6cff94,#5affa5,#3effc2,#0efff1,#00c9ff,#0067ff,#005dff,#008eff,#00b4ff,#00dcff,#11ffef,#28ffd7,#33ffcc,#38ffc7,#3affc5,#38ffc7,#32ffcd,#27ffd8,#0bfff4,#00d8ff,#00b0ff,#008aff,#0058ff,#0070ff,#00d1ff,#14ffeb,#41ffbe,#5dffa3,#6dff93,#77ff89,#78ff88,#74ff8c,#71ff8f,#6dff93,#69ff97,#64ff9c,#5effa2)"></i><i style="background:linear-gradient(90deg,#4dffb2,#53ffad,#58ffa8,#5bffa4,#5fffa1,#62ff9e,#66ff9a,#64ff9c,#5affa6,#49ffb6,#2effd1,#02fffd,#00c0ff,#0063ff,#005cff,#008cff,#00b2ff,#00daff,#0efff2,#25ffda,#30ffd0,#35ffca,#37ffc9,#35ffcb,#2fffd1,#24ffdc,#08fff7,#00d5ff,#00aeff,#0087ff,#0057ff,#006cff,#00c8ff,#07fff8,#32ffce,#4cffb4,#5bffa5,#65ff9b,#65ff9a,#62ff9e,#5effa1,#5bffa5,#57ffa9,#52ffad,#4dffb3)"></i><i style="background:linear-gradient(90deg,#3cffc3,#42ffbe,#46ffba,#4affb6,#4dffb3,#50ffb0,#53ffac,#52ffae,#48ffb7,#39ffc7,#1fffe0,#00f4ff,#00b7ff,#0060ff,#005aff,#0089ff,#00aeff,#00d5ff,#08fff7,#20ffe0,#2affd5,#2fffd0,#31ffcf,#2fffd0,#29ffd6,#1effe1,#03fffc,#00d1ff,#00abff,#0085ff,#0055ff,#0068ff,#00beff,#00f9ff,#22ffdd,#3bffc5,#49ffb6,#52ffad,#53ffad,#50ffb0,#4cffb3,#49ffb6,#46ffba,#41ffbf,#3cffc4)"></i><i style="background:linear-gradient(90deg,#2cffd4,#31ffcf,#35ffcb,#38ffc7,#3bffc4,#3effc1,#41ffbe,#40ffc0,#37ffc8,#28ffd7,#10ffef,#00e8ff,#00afff,#005dff,#0057ff,#0085ff,#00a9ff,#00cfff,#00ffff,#16ffe9,#20ffdf,#25ffda,#27ffd9,#25ffda,#1fffe0,#15ffea,#00faff,#00caff,#00a5ff,#0081ff,#0053ff,#0064ff,#00b6ff,#00edff,#14ffec,#2affd5,#38ffc7,#40ffbf,#41ffbe,#3effc2,#3bffc4,#38ffc7,#34ffcb,#30ffcf,#2bffd4)"></i><i style="background:linear-gradient(90deg,#1bffe4,#20ffdf,#24ffdb,#27ffd8,#2affd5,#2dffd2,#30ffd0,#2effd1,#26ffd9,#18ffe7,#02fffd,#00dcff,#00a6ff,#005aff,#0055ff,#0080ff,#00a2ff,#00c6ff,#00f3ff,#09fff6,#13ffec,#18ffe7,#19ffe6,#17ffe8,#12ffed,#08fff7,#00efff,#00c2ff,#009fff,#007cff,#0050ff,#0061ff,#00adff,#00e1ff,#05fffa,#1affe5,#27ffd8,#2fffd1,#2fffd0,#2dffd3,#2affd6,#27ffd8,#24ffdc,#20ffe0,#1bffe4)"></i><i style="background:linear-gradient(90deg,#0bfff4,#0ffff0,#13ffec,#16ffe9,#19ffe7,#1bffe4,#1effe1,#1cffe3,#15ffea,#08fff7,#00f2ff,#00d0ff,#009eff,#0056ff,#0052ff,#007bff,#009aff,#00bcff,#00e6ff,#00faff,#04fffb,#08fff7,#0afff5,#08fff7,#03fffc,#00f9ff,#00e2ff,#00b8ff,#0097ff,#0077ff,#004eff,#005dff,#00a4ff,#00d4ff,#00f5ff,#0afff5,#16ffe9,#1dffe2,#1effe2,#1bffe4,#18ffe7,#16ffe9,#13ffec,#0ffff0,#0bfff5)"></i><i style="background:linear-gradient(90deg,#00f9ff,#00fdff,#01fffe,#04fffb,#07fff8,#09fff6,#0bfff4,#0afff5,#03fffc,#00f6ff,#00e3ff,#00c3ff,#0095ff,#0053ff,#004fff,#0075ff,#0092ff,#00b1ff,#00d9ff,#00ebff,#00f3ff,#00f7ff,#00f8ff,#00f7ff,#00f2ff,#00eaff,#00d5ff,#00aeff,#008fff,#0071ff,#004bff,#0059ff,#009bff,#00c7ff,#00e6ff,#00f8ff,#04fffb,#0bfff4,#0bfff4,#09fff6,#06fff9,#04fffb,#01fffe,#00fdff,#00f9ff)"></i><i style="background:linear-gradient(90deg,#00e7ff,#00ebff,#00eeff,#00f1ff,#00f3ff,#00f5ff,#00f7ff,#00f6ff,#00f0ff,#00e5ff,#00d3ff,#00b6ff,#008cff,#0050ff,#004cff,#006fff,#0089ff,#00a5ff,#00c9ff,#00daff,#00e1ff,#00e5ff,#00e6ff,#00e5ff,#00e1ff,#00d9ff,#00c6ff,#00a2ff,#0086ff,#006bff,#0049ff,#0056ff,#0091ff,#00baff,#00d6ff,#00e6ff,#00f0ff,#00f7ff,#00f7ff,#00f5ff,#00f3ff,#00f0ff,#00eeff,#00ebff,#00e7ff)"></i><i style="background:linear-gradient(90deg,#00d5ff,#00d8ff,#00dbff,#00ddff,#00dfff,#00e1ff,#00e3ff,#00e2ff,#00ddff,#00d3ff,#00c3ff,#00a9ff,#0083ff,#004cff,#0049ff,#0067ff,#007fff,#0098ff,#00b7ff,#00c6ff,#00cdff,#00d0ff,#00d1ff,#00d0ff,#00ccff,#00c5ff,#00b4ff,#0095ff,#007cff,#0064ff,#0046ff,#0051ff,#0087ff,#00acff,#00c5ff,#00d4ff,#00ddff,#00e3ff,#00e3ff,#00e1ff,#00dfff,#00ddff,#00dbff,#00d8ff,#00d5ff)"></i><i style="background:linear-gradient(90deg,#00c2ff,#00c5ff,#00c7ff,#00c9ff,#00cbff,#00cdff,#00cfff,#00ceff,#00c9ff,#00c0ff,#00b2ff,#009bff,#0079ff,#0049ff,#0045ff,#005fff,#0072ff,#0088ff,#00a3ff,#00afff,#00b5ff,#00b8ff,#00b8ff,#00b7ff,#00b4ff,#00aeff,#00a0ff,#0085ff,#0071ff,#005cff,#0042ff,#004dff,#007dff,#009eff,#00b4ff,#00c1ff,#00c9ff,#00ceff,#00cfff,#00cdff,#00cbff,#00c9ff,#00c7ff,#00c5ff,#00c2ff)"></i><i style="background:linear-gradient(90deg,#00aeff,#00b1ff,#00b3ff,#00b4ff,#00b6ff,#00b7ff,#00b9ff,#00b8ff,#00b4ff,#00acff,#00a0ff,#008cff,#006eff,#0045ff,#0040ff,#0053ff,#0061ff,#0071ff,#0085ff,#008eff,#0092ff,#0094ff,#0095ff,#0094ff,#0092ff,#008eff,#0083ff,#006fff,#0060ff,#0051ff,#003eff,#0048ff,#0072ff,#008eff,#00a2ff,#00adff,#00b4ff,#00b9ff,#00b9ff,#00b7ff,#00b6ff,#00b4ff,#00b2ff,#00b0ff,#00aeff)"></i><i style="background:linear-gradient(90deg,#0099ff,#009bff,#009dff,#009eff,#00a0ff,#00a1ff,#00a2ff,#00a1ff,#009eff,#0097ff,#008dff,#007cff,#0064ff,#0040ff,#003aff,#0046ff,#004fff,#0059ff,#0066ff,#006cff,#006fff,#0070ff,#0070ff,#0070ff,#006eff,#006cff,#0065ff,#0058ff,#004fff,#0045ff,#0039ff,#0044ff,#0067ff,#007eff,#008fff,#0098ff,#009eff,#00a2ff,#00a2ff,#00a1ff,#009fff,#009eff,#009dff,#009bff,#0099ff)"></i><i style="background:linear-gradient(90deg,#0080ff,#0082ff,#0083ff,#0084ff,#0085ff,#0086ff,#0087ff,#0087ff,#0084ff,#007fff,#0077ff,#006aff,#0057ff,#003cff,#0036ff,#003eff,#0044ff,#004bff,#0053ff,#0057ff,#0059ff,#0059ff,#005aff,#0059ff,#0058ff,#0057ff,#0052ff,#004aff,#0044ff,#003dff,#0035ff,#003eff,#0059ff,#006cff,#0078ff,#0080ff,#0084ff,#0087ff,#0087ff,#0086ff,#0085ff,#0084ff,#0083ff,#0082ff,#0080ff)"></i><i style="background:linear-gradient(90deg,#0066ff,#0067ff,#0068ff,#0069ff,#006aff,#006bff,#006bff,#006bff,#0069ff,#0066ff,#0060ff,#0057ff,#004aff,#0037ff,#0034ff,#003aff,#003eff,#0043ff,#004aff,#004dff,#004eff,#004fff,#004fff,#004fff,#004eff,#004cff,#0049ff,#0043ff,#003eff,#0039ff,#0033ff,#0039ff,#004bff,#0058ff,#0061ff,#0066ff,#0069ff,#006bff,#006bff,#006aff,#006aff,#0069ff,#0068ff,#0067ff,#0066ff)"></i><i style="background:linear-gradient(90deg,#0050ff,#0051ff,#0052ff,#0052ff,#0052ff,#0053ff,#0053ff,#0053ff,#0052ff,#0050ff,#004cff,#0047ff,#003eff,#0032ff,#0031ff,#0036ff,#0039ff,#003eff,#0043ff,#0045ff,#0046ff,#0047ff,#0047ff,#0047ff,#0046ff,#0045ff,#0042ff,#003dff,#0039ff,#0035ff,#0030ff,#0034ff,#003fff,#0047ff,#004dff,#0050ff,#0052ff,#0053ff,#0053ff,#0053ff,#0052ff,#0052ff,#0051ff,#0051ff,#0050ff)"></i><i style="background:linear-gradient(90deg,#0041ff,#0042ff,#0042ff,#0043ff,#0043ff,#0043ff,#0043ff,#0043ff,#0042ff,#0041ff,#003fff,#003bff,#0036ff,#002eff,#002eff,#0032ff,#0035ff,#0038ff,#003cff,#003eff,#003fff,#003fff,#003fff,#003fff,#003fff,#003eff,#003cff,#0038ff,#0034ff,#0031ff,#002dff,#002fff,#0037ff,#003cff,#003fff,#0041ff,#0043ff,#0043ff,#0043ff,#0043ff,#0043ff,#0043ff,#0042ff,#0042ff,#0041ff)"></i><i style="background:linear-gradient(90deg,#0037ff,#0037ff,#0037ff,#0037ff,#0038ff,#0038ff,#0038ff,#0038ff,#0037ff,#0037ff,#0035ff,#0033ff,#002fff,#002aff,#002aff,#002dff,#002fff,#0032ff,#0035ff,#0036ff,#0037ff,#0037ff,#0037ff,#0037ff,#0037ff,#0036ff,#0035ff,#0031ff,#002fff,#002dff,#002aff,#002bff,#0030ff,#0033ff,#0035ff,#0037ff,#0037ff,#0038ff,#0038ff,#0038ff,#0038ff,#0037ff,#0037ff,#0037ff,#0037ff)"></i><i style="background:linear-gradient(90deg,#002cff,#002cff,#002cff,#002dff,#002dff,#002dff,#002dff,#002dff,#002dff,#002cff,#002bff,#0029ff,#0027ff,#0023ff,#0024ff,#0026ff,#0029ff,#002bff,#002eff,#002fff,#0030ff,#0030ff,#0030ff,#0030ff,#0030ff,#002fff,#002eff,#002bff,#0028ff,#0026ff,#0023ff,#0024ff,#0027ff,#0029ff,#002bff,#002cff,#002dff,#002dff,#002dff,#002dff,#002dff,#002dff,#002cff,#002cff,#002cff)"></i><i style="background:linear-gradient(90deg,#001cff,#001cff,#001cff,#001cff,#001cff,#001dff,#001dff,#001dff,#001cff,#001cff,#001bff,#0019ff,#0017ff,#0014ff,#0015ff,#0019ff,#001cff,#001fff,#0023ff,#0025ff,#0026ff,#0026ff,#0026ff,#0026ff,#0026ff,#0025ff,#0023ff,#001eff,#001bff,#0018ff,#0014ff,#0014ff,#0017ff,#0019ff,#001bff,#001cff,#001cff,#001dff,#001dff,#001dff,#001cff,#001cff,#001cff,#001cff,#001cff)"></i><i style="background:linear-gradient(90deg,#0006ff,#0006ff,#0006ff,#0006ff,#0006ff,#0006ff,#0006ff,#0006ff,#0006ff,#0006ff,#0006ff,#0005ff,#0005ff,#0004ff,#0004ff,#0006ff,#0007ff,#0008ff,#000aff,#000bff,#000bff,#000bff,#000bff,#000bff,#000bff,#000bff,#000aff,#0008ff,#0007ff,#0006ff,#0004ff,#0004ff,#0005ff,#0006ff,#0006ff,#0006ff,#0006ff,#0006ff,#0006ff,#0006ff,#0006ff,#0006ff,#0006ff,#0006ff,#0006ff)"></i><i style="background:linear-gradient(90deg,#0002ff,#0002ff,#0002ff,#0002ff,#0002ff,#0002ff,#0003ff,#0003ff,#0002ff,#0002ff,#0002ff,#0002ff,#0002ff,#0001ff,#0002ff,#0002ff,#0002ff,#0003ff,#0003ff,#0004ff,#0004ff,#0004ff,#0004ff,#0004ff,#0004ff,#0004ff,#0003ff,#0003ff,#0002ff,#0002ff,#0001ff,#0001ff,#0002ff,#0002ff,#0002ff,#0002ff,#0002ff,#0003ff,#0003ff,#0002ff,#0002ff,#0002ff,#0002ff,#0002ff,#0002ff)"></i><i style="background:linear-gradient(90deg,#0019ff,#0019ff,#0019ff,#001aff,#001aff,#001aff,#001aff,#001aff,#001aff,#0019ff,#0018ff,#0016ff,#0013ff,#0010ff,#0010ff,#0014ff,#0017ff,#001aff,#001eff,#0020ff,#0021ff,#0021ff,#0021ff,#0021ff,#0020ff,#0020ff,#001eff,#001aff,#0017ff,#0014ff,#0010ff,#0010ff,#0014ff,#0016ff,#0018ff,#0019ff,#001aff,#001aff,#001aff,#001aff,#001aff,#001aff,#0019ff,#0019ff,#0019ff)"></i><i style="background:linear-gradient(90deg,#002fff,#002fff,#002fff,#002fff,#0030ff,#0030ff,#0030ff,#0030ff,#002fff,#002eff,#002dff,#002aff,#0027ff,#0021ff,#0021ff,#0024ff,#0027ff,#0029ff,#002dff,#002eff,#002fff,#002fff,#0030ff,#002fff,#002fff,#002eff,#002cff,#0029ff,#0027ff,#0024ff,#0021ff,#0022ff,#0027ff,#002bff,#002dff,#002eff,#002fff,#0030ff,#0030ff,#0030ff,#0030ff,#002fff,#002fff,#002fff,#002fff)"></i><i style="background:linear-gradient(90deg,#0040ff,#0041ff,#0041ff,#0042ff,#0042ff,#0042ff,#0043ff,#0042ff,#0041ff,#0040ff,#003dff,#0039ff,#0033ff,#002aff,#0029ff,#002cff,#002fff,#0032ff,#0036ff,#0037ff,#0038ff,#0039ff,#0039ff,#0038ff,#0038ff,#0037ff,#0035ff,#0032ff,#002fff,#002cff,#0028ff,#002bff,#0034ff,#003aff,#003eff,#0040ff,#0042ff,#0042ff,#0043ff,#0042ff,#0042ff,#0042ff,#0041ff,#0041ff,#0040ff)"></i><i style="background:linear-gradient(90deg,#0053ff,#0053ff,#0054ff,#0055ff,#0055ff,#0056ff,#0056ff,#0056ff,#0055ff,#0052ff,#004eff,#0047ff,#003dff,#002eff,#002cff,#0031ff,#0034ff,#0039ff,#003eff,#0040ff,#0041ff,#0042ff,#0042ff,#0042ff,#0041ff,#0040ff,#003dff,#0038ff,#0034ff,#0030ff,#002bff,#002fff,#003eff,#0048ff,#004eff,#0052ff,#0055ff,#0056ff,#0056ff,#0056ff,#0055ff,#0055ff,#0054ff,#0053ff,#0052ff)"></i><i style="background:linear-gradient(90deg,#0069ff,#006aff,#006bff,#006cff,#006dff,#006eff,#006eff,#006eff,#006cff,#0068ff,#0061ff,#0057ff,#0048ff,#0032ff,#002eff,#0035ff,#003bff,#0041ff,#0049ff,#004cff,#004eff,#004eff,#004fff,#004eff,#004dff,#004cff,#0048ff,#0040ff,#003aff,#0035ff,#002dff,#0034ff,#004aff,#0058ff,#0062ff,#0068ff,#006cff,#006eff,#006eff,#006dff,#006dff,#006cff,#006bff,#006aff,#0069ff)"></i><i style="background:linear-gradient(90deg,#0083ff,#0085ff,#0087ff,#0088ff,#0089ff,#008aff,#008cff,#008bff,#0088ff,#0082ff,#0079ff,#006aff,#0055ff,#0036ff,#0031ff,#003bff,#0042ff,#004aff,#0055ff,#005aff,#005cff,#005dff,#005dff,#005dff,#005cff,#0059ff,#0054ff,#0049ff,#0041ff,#003aff,#0030ff,#0039ff,#0058ff,#006cff,#007aff,#0083ff,#0088ff,#008bff,#008bff,#008aff,#0089ff,#0088ff,#0087ff,#0085ff,#0083ff)"></i><i style="background:linear-gradient(90deg,#00a0ff,#00a2ff,#00a4ff,#00a6ff,#00a7ff,#00a9ff,#00aaff,#00aaff,#00a5ff,#009eff,#0092ff,#007fff,#0063ff,#003bff,#0033ff,#0040ff,#004aff,#0055ff,#0062ff,#0069ff,#006bff,#006dff,#006dff,#006dff,#006bff,#0068ff,#0061ff,#0054ff,#0049ff,#003fff,#0032ff,#003fff,#0066ff,#0082ff,#0094ff,#009fff,#00a6ff,#00aaff,#00aaff,#00a9ff,#00a7ff,#00a6ff,#00a4ff,#00a2ff,#00a0ff)"></i><i style="background:linear-gradient(90deg,#00baff,#00bdff,#00c0ff,#00c2ff,#00c4ff,#00c6ff,#00c7ff,#00c6ff,#00c1ff,#00b8ff,#00aaff,#0092ff,#0070ff,#003fff,#0036ff,#0047ff,#0053ff,#0060ff,#0071ff,#0079ff,#007dff,#007eff,#007fff,#007eff,#007cff,#0079ff,#006fff,#005fff,#0052ff,#0045ff,#0035ff,#0044ff,#0074ff,#0095ff,#00acff,#00baff,#00c2ff,#00c7ff,#00c7ff,#00c5ff,#00c3ff,#00c2ff,#00c0ff,#00bdff,#00baff)"></i><i style="background:linear-gradient(90deg,#00d0ff,#00d3ff,#00d6ff,#00d8ff,#00daff,#00ddff,#00dfff,#00deff,#00d8ff,#00ceff,#00bdff,#00a2ff,#007bff,#0043ff,#003aff,#004dff,#005cff,#006dff,#0081ff,#008bff,#008fff,#0091ff,#0092ff,#0091ff,#008eff,#008aff,#007fff,#006bff,#005bff,#004bff,#0038ff,#0048ff,#0080ff,#00a6ff,#00bfff,#00cfff,#00d8ff,#00deff,#00deff,#00dcff,#00daff,#00d8ff,#00d6ff,#00d3ff,#00d0ff)"></i><i style="background:linear-gradient(90deg,#00deff,#00e2ff,#00e5ff,#00e8ff,#00eaff,#00ecff,#00eeff,#00edff,#00e7ff,#00dcff,#00caff,#00adff,#0083ff,#0046ff,#003dff,#0055ff,#0067ff,#007aff,#0093ff,#009eff,#00a3ff,#00a6ff,#00a7ff,#00a6ff,#00a3ff,#009eff,#0090ff,#0078ff,#0065ff,#0052ff,#003bff,#004cff,#0088ff,#00b1ff,#00ccff,#00ddff,#00e7ff,#00eeff,#00eeff,#00ecff,#00eaff,#00e7ff,#00e5ff,#00e2ff,#00deff)"></i><i style="background:linear-gradient(90deg,#00e9ff,#00edff,#00f0ff,#00f3ff,#00f5ff,#00f8ff,#00faff,#00f9ff,#00f2ff,#00e7ff,#00d4ff,#00b5ff,#0089ff,#0049ff,#0041ff,#005dff,#0073ff,#008bff,#00a8ff,#00b6ff,#00bcff,#00c0ff,#00c0ff,#00bfff,#00bcff,#00b5ff,#00a5ff,#0088ff,#0071ff,#005bff,#003eff,#004fff,#008eff,#00b9ff,#00d7ff,#00e8ff,#00f3ff,#00f9ff,#00faff,#00f8ff,#00f5ff,#00f3ff,#00f0ff,#00edff,#00e9ff)"></i><i style="background:linear-gradient(90deg,#00f3ff,#00f7ff,#00faff,#00fdff,#00ffff,#03fffc,#05fffa,#04fffb,#00fcff,#00f0ff,#00ddff,#00bcff,#008eff,#004bff,#0045ff,#0066ff,#0080ff,#009cff,#00bfff,#00cfff,#00d7ff,#00daff,#00dbff,#00daff,#00d6ff,#00ceff,#00bcff,#0099ff,#007eff,#0063ff,#0041ff,#0051ff,#0093ff,#00c1ff,#00dfff,#00f2ff,#00fdff,#05fffa,#05fffa,#03fffc,#00ffff,#00fdff,#00faff,#00f6ff,#00f2ff)"></i><i style="background:linear-gradient(90deg,#00fcff,#01fffe,#05fffa,#08fff7,#0afff5,#0dfff2,#0ffff0,#0efff1,#07fff8,#00f9ff,#00e5ff,#00c4ff,#0093ff,#004dff,#0049ff,#006fff,#008cff,#00acff,#00d4ff,#00e6ff,#00eeff,#00f3ff,#00f4ff,#00f2ff,#00eeff,#00e5ff,#00d0ff,#00a8ff,#0089ff,#006bff,#0045ff,#0054ff,#0099ff,#00c8ff,#00e8ff,#00fbff,#08fff7,#0ffff0,#0ffff0,#0dfff2,#0afff5,#08fff8,#05fffa,#01fffe,#00fcff)"></i><i style="background:linear-gradient(90deg,#07fff8,#0cfff3,#0ffff0,#12ffed,#15ffea,#18ffe7,#1affe5,#19ffe6,#11ffee,#04fffb,#00eeff,#00cbff,#0098ff,#0050ff,#004cff,#0075ff,#0096ff,#00b8ff,#00e4ff,#00f8ff,#02fffd,#06fff9,#08fff7,#06fff9,#01fffe,#00f7ff,#00dfff,#00b4ff,#0092ff,#0071ff,#0048ff,#0057ff,#009fff,#00d0ff,#00f1ff,#06fff9,#12ffed,#1affe6,#1affe5,#17ffe8,#15ffea,#12ffed,#0ffff0,#0bfff4,#07fff8)"></i><i style="background:linear-gradient(90deg,#11ffee,#16ffea,#19ffe6,#1dffe3,#1fffe0,#22ffdd,#25ffda,#23ffdc,#1bffe4,#0efff1,#00f7ff,#00d3ff,#009eff,#0052ff,#004fff,#007bff,#009eff,#00c2ff,#00f1ff,#08fff7,#11ffee,#16ffe9,#18ffe7,#16ffe9,#11ffef,#06fff9,#00ecff,#00beff,#009aff,#0077ff,#004aff,#005aff,#00a4ff,#00d7ff,#00faff,#10ffef,#1cffe3,#24ffdb,#25ffdb,#22ffdd,#1fffe0,#1cffe3,#19ffe6,#15ffea,#10ffef)"></i><i style="background:linear-gradient(90deg,#1affe5,#1fffe0,#23ffdc,#26ffd9,#29ffd6,#2cffd3,#2fffd0,#2dffd2,#25ffda,#17ffe8,#00ffff,#00daff,#00a3ff,#0055ff,#0051ff,#0081ff,#00a5ff,#00ccff,#00fdff,#15ffea,#1fffe0,#25ffdb,#26ffd9,#24ffdb,#1fffe1,#14ffeb,#00f8ff,#00c8ff,#00a1ff,#007cff,#004dff,#005cff,#00aaff,#00deff,#03fffc,#19ffe6,#26ffd9,#2effd1,#2fffd1,#2cffd4,#29ffd6,#26ffd9,#23ffdd,#1fffe1,#1affe5)"></i><i style="background:linear-gradient(90deg,#24ffdb,#29ffd6,#2dffd2,#30ffcf,#33ffcc,#36ffc9,#39ffc6,#38ffc8,#2fffd0,#21ffde,#09fff6,#00e1ff,#00a8ff,#0058ff,#0054ff,#0086ff,#00acff,#00d5ff,#0afff5,#22ffdd,#2dffd2,#32ffcd,#34ffcb,#32ffcd,#2cffd3,#21ffdf,#05fffa,#00d1ff,#00a9ff,#0081ff,#004fff,#005fff,#00afff,#00e6ff,#0cfff3,#23ffdd,#30ffcf,#38ffc7,#39ffc6,#36ffc9,#33ffcc,#30ffcf,#2dffd3,#28ffd7,#24ffdc)"></i><i style="background:linear-gradient(90deg,#2fffd1,#34ffcc,#38ffc7,#3cffc4,#3fffc1,#42ffbe,#45ffbb,#43ffbc,#3affc5,#2bffd4,#13ffed,#00e9ff,#00aeff,#005aff,#0057ff,#008cff,#00b4ff,#00dfff,#16ffe9,#30ffd0,#3bffc4,#41ffbf,#43ffbd,#41ffbf,#3affc5,#2effd1,#11ffee,#00daff,#00b0ff,#0087ff,#0052ff,#0062ff,#00b5ff,#00eeff,#16ffe9,#2dffd2,#3bffc4,#44ffbc,#45ffbb,#41ffbe,#3effc1,#3bffc4,#38ffc8,#33ffcc,#2effd1)"></i><i style="background:linear-gradient(90deg,#3bffc5,#40ffbf,#45ffbb,#48ffb7,#4bffb4,#4fffb1,#52ffae,#50ffaf,#47ffb9,#37ffc8,#1dffe2,#00f2ff,#00b5ff,#005eff,#005bff,#0091ff,#00bbff,#00e8ff,#23ffdd,#3dffc2,#49ffb6,#4fffb0,#51ffaf,#4fffb1,#48ffb7,#3cffc4,#1dffe2,#00e3ff,#00b7ff,#008cff,#0055ff,#0066ff,#00bcff,#00f8ff,#21ffde,#39ffc6,#48ffb8,#51ffaf,#52ffae,#4effb1,#4bffb5,#48ffb8,#44ffbb,#40ffc0,#3affc5)"></i><i style="background:linear-gradient(90deg,#49ffb6,#4fffb1,#53ffac,#57ffa8,#5bffa5,#5effa2,#61ff9e,#60ffa0,#56ffaa,#45ffba,#2affd5,#00fdff,#00bdff,#0061ff,#005eff,#0097ff,#00c3ff,#00f2ff,#2effd1,#4affb5,#57ffa9,#5dffa3,#5fffa1,#5dffa3,#56ffaa,#48ffb7,#28ffd7,#00ecff,#00beff,#0091ff,#0058ff,#006aff,#00c5ff,#04fffb,#2effd1,#48ffb8,#57ffa9,#60ff9f,#61ff9f,#5effa2,#5affa5,#57ffa9,#53ffad,#4effb1,#49ffb7)"></i><i style="background:linear-gradient(90deg,#5bffa5,#61ff9f,#66ff9a,#6aff96,#6eff92,#71ff8f,#75ff8b,#73ff8d,#69ff97,#57ffa8,#3bffc5,#0cfff3,#00c7ff,#0065ff,#0061ff,#009dff,#00cbff,#00fcff,#3bffc4,#58ffa8,#65ff9b,#6cff94,#6dff92,#6bff95,#64ff9c,#56ffa9,#35ffcb,#00f6ff,#00c6ff,#0097ff,#005bff,#006eff,#00cfff,#12ffee,#3effc1,#5affa6,#6aff96,#74ff8c,#75ff8b,#71ff8f,#6dff93,#6aff96,#66ff9a,#61ff9f,#5bffa5)"></i><i style="background:linear-gradient(90deg,#70ff90,#76ff8a,#7cff84,#80ff80,#84ff7c,#88ff78,#8bff75,#89ff77,#7fff81,#6cff94,#4dffb2,#1bffe4,#00d2ff,#006aff,#0065ff,#00a4ff,#00d4ff,#08fff7,#4affb6,#68ff98,#76ff8a,#7dff83,#7fff81,#7cff84,#75ff8b,#66ff9a,#43ffbc,#02fffd,#00cfff,#009eff,#005fff,#0074ff,#00daff,#22ffde,#51ffae,#6eff92,#80ff80,#8aff76,#8bff75,#87ff79,#83ff7d,#80ff80,#7bff85,#76ff8a,#6fff90)"></i><i style="background:linear-gradient(90deg,#87ff79,#8dff73,#93ff6d,#98ff68,#9bff64,#a0ff60,#a4ff5c,#a2ff5e,#96ff6a,#82ff7e,#62ff9e,#2dffd3,#00deff,#0070ff,#006bff,#00adff,#00e0ff,#17ffe8,#5dffa3,#7dff83,#8bff75,#92ff6e,#94ff6c,#92ff6e,#8aff76,#7bff85,#55ffaa,#11ffee,#00dbff,#00a6ff,#0064ff,#007aff,#00e8ff,#33ffcc,#66ff9a,#85ff7b,#97ff69,#a2ff5d,#a3ff5c,#9fff61,#9bff65,#97ff69,#92ff6d,#8dff73,#86ff7a)"></i><i style="background:linear-gradient(90deg,#9eff62,#a5ff5b,#abff55,#b0ff50,#b4ff4c,#b8ff47,#bcff43,#baff45,#aeff52,#99ff67,#77ff89,#3fffc1,#00ecff,#0077ff,#0072ff,#00b8ff,#00eeff,#29ffd6,#73ff8d,#95ff6b,#a4ff5c,#acff54,#aeff51,#acff54,#a3ff5d,#93ff6d,#6cff94,#23ffdd,#00e9ff,#00b1ff,#006bff,#0082ff,#00f6ff,#46ffba,#7cff84,#9cff64,#afff50,#bbff45,#bcff43,#b8ff48,#b3ff4c,#afff50,#aaff55,#a4ff5c,#9dff63)"></i><i style="background:linear-gradient(90deg,#b5ff4b,#bcff43,#c2ff3d,#c8ff38,#ccff33,#d1ff2f,#d5ff2a,#d3ff2d,#c6ff3a,#b0ff50,#8cff74,#51ffaf,#00f9ff,#007fff,#0079ff,#00c4ff,#00fdff,#3cffc3,#8aff76,#aeff51,#beff41,#c7ff39,#c9ff36,#c6ff39,#bdff42,#acff54,#82ff7e,#35ffca,#00f8ff,#00bdff,#0072ff,#008aff,#05fffa,#58ffa7,#91ff6f,#b3ff4d,#c7ff38,#d4ff2c,#d5ff2b,#d0ff2f,#ccff34,#c7ff38,#c2ff3e,#bbff44,#b4ff4c)"></i><i style="background:linear-gradient(90deg,#ceff31,#d6ff29,#ddff23,#e2ff1d,#e7ff18,#ecff14,#f0ff0f,#eeff11,#e0ff1f,#c9ff36,#a3ff5c,#65ff9b,#0afff5,#0087ff,#0081ff,#00d0ff,#0dfff2,#4dffb2,#9fff60,#c5ff3a,#d6ff29,#dfff21,#e1ff1e,#deff21,#d5ff2b,#c3ff3d,#97ff69,#46ffb9,#07fff8,#00c8ff,#0079ff,#0093ff,#15ffea,#6dff93,#a8ff57,#ccff33,#e2ff1d,#efff10,#f0ff0f,#ebff14,#e6ff19,#e2ff1e,#dcff23,#d5ff2a,#cdff32)"></i><i style="background:linear-gradient(90deg,#e8ff17,#f0ff0f,#f7ff08,#fdff02,#fffc00,#fff700,#fff200,#fff500,#fbff04,#e3ff1d,#bbff45,#79ff87,#19ffe6,#0090ff,#008aff,#00dcff,#1dffe2,#61ff9f,#b7ff48,#dfff20,#f1ff0e,#faff05,#fcff03,#f9ff06,#efff10,#ddff23,#aeff51,#59ffa6,#17ffe8,#00d4ff,#0082ff,#009dff,#25ffda,#82ff7e,#c0ff3f,#e6ff19,#fdff03,#fff400,#fff300,#fff800,#fffd00,#fcff03,#f7ff09,#efff10,#e7ff18)"></i><i style="background:linear-gradient(90deg,#feff01,#fff700,#fff000,#ffea00,#ffe500,#ffe000,#ffda00,#ffdd00,#ffec00,#f9ff06,#cfff30,#8bff75,#28ffd8,#0099ff,#0095ff,#00f0ff,#37ffc9,#82ff7e,#e1ff1e,#fff100,#ffde00,#ffd400,#ffd100,#ffd400,#ffdf00,#fff400,#d7ff28,#7aff86,#30ffcf,#00e7ff,#008cff,#00a6ff,#34ffcc,#94ff6c,#d5ff2b,#fcff03,#ffea00,#ffdc00,#ffdb00,#ffe000,#ffe500,#ffeb00,#fff100,#fff800,#fdff02)"></i><i style="background:linear-gradient(90deg,#ffee00,#ffe500,#ffde00,#ffd800,#ffd300,#ffcd00,#ffc800,#ffcb00,#ffda00,#fff400,#dfff20,#9aff66,#33ffcc,#00a0ff,#00a0ff,#06fff9,#54ffac,#a7ff59,#ffee00,#ffbd00,#ffa700,#ff9c00,#ff9900,#ff9d00,#ffa900,#ffc000,#fff900,#9eff62,#4cffb3,#00fbff,#0096ff,#00aeff,#40ffc0,#a2ff5d,#e5ff1a,#fff100,#ffd800,#ffca00,#ffc800,#ffce00,#ffd300,#ffd800,#ffdf00,#ffe600,#ffef00)"></i><i style="background:linear-gradient(90deg,#ffde00,#ffd600,#ffce00,#ffc800,#ffc200,#ffbd00,#ffb700,#ffba00,#ffca00,#ffe400,#eeff11,#a7ff59,#3effc1,#00a8ff,#00aaff,#16ffe9,#69ff97,#c1ff3f,#ffce00,#ff9a00,#ff8300,#ff7700,#ff7400,#ff7800,#ff8500,#ff9d00,#ffd900,#b7ff49,#61ff9f,#0cfff4,#009fff,#00b6ff,#4bffb5,#afff50,#f4ff0b,#ffe100,#ffc800,#ffb900,#ffb800,#ffbd00,#ffc300,#ffc800,#ffcf00,#ffd600,#ffdf00)"></i><i style="background:linear-gradient(90deg,#ffd100,#ffc800,#ffc000,#ffba00,#ffb400,#ffae00,#ffa900,#ffac00,#ffbc00,#ffd700,#fbff04,#b2ff4e,#48ffb8,#00afff,#00b2ff,#24ffdc,#7aff86,#d6ff29,#ffb300,#ff7c00,#ff6400,#ff5800,#ff5400,#ff5800,#ff6600,#ff8000,#ffbf00,#ccff33,#72ff8e,#19ffe6,#00a7ff,#00bdff,#55ffab,#bbff44,#fffd00,#ffd300,#ffba00,#ffab00,#ffa900,#ffaf00,#ffb500,#ffba00,#ffc100,#ffc800,#ffd200)"></i><i style="background:linear-gradient(90deg,#ffc500,#ffbc00,#ffb400,#ffad00,#ffa800,#ffa200,#ff9d00,#ff9f00,#ffb000,#ffcb00,#fff800,#bcff44,#50ffaf,#00b5ff,#00baff,#31ffce,#8bff74,#ecff13,#ff9700,#ff5e00,#ff4500,#ff3800,#ff3400,#ff3900,#ff4700,#ff6200,#ffa400,#e1ff1e,#83ff7d,#25ffda,#00aeff,#00c3ff,#5dffa2,#c5ff3a,#fff200,#ffc800,#ffae00,#ff9e00,#ff9d00,#ffa300,#ffa800,#ffae00,#ffb500,#ffbd00,#ffc600)"></i><i style="background:linear-gradient(90deg,#ffba00,#ffb100,#ffa900,#ffa300,#ff9d00,#ff9700,#ff9100,#ff9400,#ffa500,#ffc100,#ffee00,#c5ff3b,#57ffa8,#00baff,#00c1ff,#3dffc3,#9bff65,#ffff00,#ff7f00,#ff4300,#ff2900,#ff1c00,#ff1800,#ff1c00,#ff2b00,#ff4700,#ff8c00,#f4ff0b,#92ff6e,#31ffcf,#00b5ff,#00c9ff,#65ff9b,#ceff31,#ffe800,#ffbd00,#ffa300,#ff9300,#ff9200,#ff9800,#ff9d00,#ffa300,#ffaa00,#ffb200,#ffbb00)"></i><i style="background:linear-gradient(90deg,#ffb000,#ffa600,#ff9e00,#ff9700,#ff9200,#ff8c00,#ff8600,#ff8900,#ff9a00,#ffb600,#ffe500,#cdff32,#5effa2,#00beff,#00c5ff,#43ffbc,#a3ff5d,#fff500,#ff7300,#ff3700,#ff1c00,#ff0e00,#ff0a00,#ff0f00,#ff1e00,#ff3a00,#ff8000,#fdff02,#9aff66,#37ffc9,#00b9ff,#00cdff,#6cff94,#d7ff29,#ffdf00,#ffb200,#ff9800,#ff8800,#ff8600,#ff8d00,#ff9200,#ff9800,#ff9f00,#ffa700,#ffb100)"></i><i style="background:linear-gradient(90deg,#ffa700,#ff9d00,#ff9500,#ff8e00,#ff8800,#ff8200,#ff7c00,#ff7f00,#ff9000,#ffad00,#ffdc00,#d4ff2b,#64ff9c,#00c1ff,#00c8ff,#47ffb9,#a7ff58,#fff000,#ff6c00,#ff2f00,#ff1400,#ff0600,#ff0200,#ff0700,#ff1700,#ff3300,#ff7a00,#fffb00,#9eff62,#3affc5,#00bbff,#00d0ff,#71ff8f,#deff21,#ffd600,#ffa900,#ff8e00,#ff7e00,#ff7d00,#ff8300,#ff8900,#ff8f00,#ff9500,#ff9e00,#ffa800)"></i><i style="background:linear-gradient(90deg,#ffa000,#ff9700,#ff8e00,#ff8700,#ff8200,#ff7b00,#ff7600,#ff7900,#ff8a00,#ffa700,#ffd700,#d9ff27,#67ff99,#00c2ff,#00c8ff,#48ffb8,#a8ff57,#ffee00,#ff6a00,#ff2d00,#ff1200,#ff0400,#ff0000,#ff0500,#ff1400,#ff3100,#ff7800,#fffa00,#9fff61,#3bffc4,#00bcff,#00d1ff,#75ff8b,#e3ff1d,#ffd100,#ffa300,#ff8800,#ff7700,#ff7600,#ff7c00,#ff8200,#ff8800,#ff8f00,#ff9800,#ffa200)"></i><i style="background:linear-gradient(90deg,#ff9f00,#ff9500,#ff8d00,#ff8600,#ff8000,#ff7a00,#ff7400,#ff7700,#ff8800,#ffa600,#ffd600,#d9ff26,#66ff9a,#00c0ff,#00c6ff,#45ffbb,#a6ff5a,#fff100,#ff6e00,#ff3100,#ff1600,#ff0800,#ff0400,#ff0800,#ff1800,#ff3400,#ff7b00,#fffd00,#9cff63,#39ffc7,#00b9ff,#00cfff,#74ff8c,#e3ff1c,#ffd000,#ffa200,#ff8600,#ff7600,#ff7400,#ff7a00,#ff8000,#ff8600,#ff8d00,#ff9600,#ffa000)"></i><i style="background:linear-gradient(90deg,#ffa500,#ff9b00,#ff9300,#ff8c00,#ff8600,#ff8000,#ff7a00,#ff7d00,#ff8e00,#ffac00,#ffdc00,#d3ff2c,#60ff9f,#00bbff,#00c0ff,#3fffc0,#9fff60,#fff800,#ff7400,#ff3800,#ff1d00,#ff0f00,#ff0b00,#ff1000,#ff1f00,#ff3b00,#ff8200,#fbff04,#96ff6a,#33ffcd,#00b4ff,#00caff,#6eff91,#ddff22,#ffd500,#ffa800,#ff8c00,#ff7c00,#ff7a00,#ff8000,#ff8600,#ff8c00,#ff9300,#ff9c00,#ffa600)"></i><i style="background:linear-gradient(90deg,#ffb100,#ffa800,#ff9f00,#ff9800,#ff9300,#ff8d00,#ff8700,#ff8a00,#ff9b00,#ffb800,#ffe800,#c8ff37,#57ffa9,#00b3ff,#00b9ff,#36ffc9,#96ff6a,#fcff03,#ff7f00,#ff4300,#ff2800,#ff1a00,#ff1600,#ff1b00,#ff2a00,#ff4700,#ff8d00,#f1ff0e,#8dff73,#2affd5,#00acff,#00c2ff,#64ff9b,#d2ff2d,#ffe100,#ffb400,#ff9900,#ff8900,#ff8700,#ff8d00,#ff9300,#ff9900,#ffa000,#ffa800,#ffb200)"></i><i style="background:linear-gradient(90deg,#ffc200,#ffb800,#ffb000,#ffa900,#ffa300,#ff9d00,#ff9700,#ff9b00,#ffab00,#ffc800,#fff700,#baff45,#4affb5,#00a9ff,#00aeff,#29ffd7,#86ff7a,#eaff15,#ff9500,#ff5b00,#ff4000,#ff3300,#ff2f00,#ff3400,#ff4300,#ff5e00,#ffa200,#dfff21,#7dff83,#1dffe3,#00a2ff,#00b8ff,#58ffa8,#c4ff3c,#fff100,#ffc400,#ffa900,#ff9900,#ff9800,#ff9e00,#ffa400,#ffaa00,#ffb000,#ffb900,#ffc300)"></i><i style="background:linear-gradient(90deg,#ffd300,#ffc900,#ffc100,#ffbb00,#ffb500,#ffaf00,#ffaa00,#ffad00,#ffbd00,#ffd900,#f7ff08,#abff55,#3dffc3,#009eff,#00a2ff,#18ffe7,#72ff8e,#d2ff2e,#ffb200,#ff7a00,#ff6100,#ff5400,#ff5000,#ff5400,#ff6300,#ff7d00,#ffbf00,#c7ff38,#69ff97,#0cfff3,#0096ff,#00adff,#4affb5,#b5ff4b,#fdff02,#ffd600,#ffbb00,#ffab00,#ffaa00,#ffb000,#ffb600,#ffbb00,#ffc200,#ffca00,#ffd400)"></i><i style="background:linear-gradient(90deg,#ffe300,#ffda00,#ffd200,#ffcb00,#ffc600,#ffc000,#ffba00,#ffbd00,#ffcd00,#ffe900,#e7ff18,#9dff63,#30ffd0,#0093ff,#0094ff,#03fffc,#57ffa8,#b2ff4e,#ffda00,#ffa500,#ff8d00,#ff8100,#ff7e00,#ff8200,#ff8f00,#ffa800,#ffe600,#a8ff58,#4fffb0,#00f7ff,#0089ff,#00a2ff,#3dffc2,#a6ff5a,#edff12,#ffe600,#ffcc00,#ffbc00,#ffbb00,#ffc000,#ffc600,#ffcc00,#ffd200,#ffda00,#ffe400)"></i><i style="background:linear-gradient(90deg,#fff000,#ffe600,#ffdf00,#ffd800,#ffd300,#ffcd00,#ffc700,#ffca00,#ffda00,#fff600,#dbff24,#91ff6f,#25ffdb,#0089ff,#0085ff,#00e9ff,#37ffc9,#89ff77,#f0ff0f,#ffdd00,#ffc800,#ffbd00,#ffba00,#ffbe00,#ffca00,#ffe000,#e6ff19,#80ff80,#2fffd0,#00dfff,#007bff,#0098ff,#32ffce,#9aff66,#e1ff1e,#fff200,#ffd900,#ffc900,#ffc800,#ffcd00,#ffd300,#ffd900,#ffdf00,#ffe700,#fff100)"></i><i style="background:linear-gradient(90deg,#fffb00,#fff200,#ffea00,#ffe400,#ffde00,#ffd800,#ffd300,#ffd600,#ffe600,#fdff02,#d0ff2f,#86ff7a,#1bffe5,#0080ff,#0076ff,#00ceff,#12ffed,#5affa6,#b5ff4a,#dfff20,#f2ff0d,#fcff03,#ffff00,#fbff04,#f1ff0e,#ddff22,#acff54,#52ffae,#0bfff4,#00c5ff,#006eff,#008eff,#28ffd8,#90ff70,#d6ff29,#fffe00,#ffe400,#ffd500,#ffd300,#ffd900,#ffdf00,#ffe400,#ffeb00,#fff300,#fffc00)"></i><i style="background:linear-gradient(90deg,#f8ff07,#fffd00,#fff500,#ffef00,#ffe900,#ffe400,#ffde00,#ffe100,#fff100,#f2ff0d,#c5ff3a,#7cff83,#12ffee,#0078ff,#006aff,#00b8ff,#00f3ff,#34ffcb,#85ff7b,#aaff55,#bbff44,#c4ff3c,#c6ff39,#c3ff3c,#baff46,#a8ff58,#7dff83,#2dffd3,#00edff,#00b0ff,#0062ff,#0087ff,#1effe1,#86ff7a,#cbff34,#f5ff0a,#ffef00,#ffe000,#ffde00,#ffe400,#ffea00,#ffef00,#fff600,#fffe00,#f7ff08)"></i><i style="background:linear-gradient(90deg,#edff12,#f6ff09,#feff01,#fffa00,#fff500,#ffef00,#ffea00,#ffec00,#fffc00,#e7ff18,#bbff44,#73ff8d,#0afff5,#0073ff,#0061ff,#00a5ff,#00daff,#13ffec,#5bffa5,#7cff84,#8bff75,#93ff6d,#95ff6b,#92ff6e,#8aff76,#7aff86,#54ffac,#0dfff2,#00d5ff,#009fff,#005aff,#0081ff,#16ffe9,#7cff84,#c1ff3e,#ebff15,#fffa00,#ffeb00,#ffea00,#fff000,#fff500,#fffb00,#fdff02,#f5ff0a,#ecff13)"></i><i style="background:linear-gradient(90deg,#e1ff1e,#eaff15,#f2ff0e,#f8ff07,#fdff02,#fffc00,#fff600,#fff900,#f6ff0a,#dbff24,#b1ff4f,#6aff96,#03fffc,#006fff,#005aff,#0097ff,#00c6ff,#00f8ff,#39ffc6,#57ffa9,#64ff9c,#6bff95,#6dff93,#6bff95,#63ff9d,#55ffaa,#33ffcc,#00f3ff,#00c2ff,#0092ff,#0054ff,#007dff,#0ffff0,#73ff8d,#b6ff49,#dfff20,#f7ff08,#fff800,#fff700,#fffc00,#fcff03,#f7ff08,#f1ff0e,#e9ff16,#e0ff1f)"></i><i style="background:linear-gradient(90deg,#d4ff2c,#dcff23,#e4ff1c,#e9ff16,#efff11,#f4ff0b,#f9ff06,#f6ff09,#e7ff18,#ceff31,#a4ff5b,#60ffa0,#00faff,#006bff,#0055ff,#008cff,#00b5ff,#00e2ff,#1cffe3,#37ffc9,#42ffbd,#48ffb7,#4affb6,#48ffb8,#41ffbe,#35ffcb,#16ffe9,#00ddff,#00b1ff,#0086ff,#0050ff,#0079ff,#07fff8,#68ff98,#aaff56,#d1ff2e,#e9ff16,#f7ff08,#f9ff06,#f3ff0c,#eeff11,#e9ff16,#e3ff1c,#dbff24,#d3ff2d)"></i><i style="background:linear-gradient(90deg,#c3ff3c,#cbff34,#d2ff2d,#d8ff27,#ddff22,#e2ff1d,#e7ff18,#e5ff1b,#d6ff29,#beff42,#95ff6a,#53ffad,#00f1ff,#0068ff,#0051ff,#0082ff,#00a8ff,#00d0ff,#05fffb,#1cffe3,#27ffd8,#2dffd3,#2effd1,#2cffd3,#26ffd9,#1bffe4,#00feff,#00ccff,#00a4ff,#007dff,#004cff,#0075ff,#00fdff,#5bffa4,#9bff65,#c1ff3f,#d8ff28,#e6ff1a,#e7ff18,#e2ff1e,#ddff23,#d8ff28,#d2ff2e,#cbff35,#c2ff3d)"></i><i style="background:linear-gradient(90deg,#b1ff4f,#b9ff47,#c0ff40,#c5ff3a,#caff36,#cfff31,#d3ff2c,#d1ff2e,#c3ff3c,#acff54,#85ff7b,#45ffba,#00e8ff,#0064ff,#004dff,#007bff,#009eff,#00c4ff,#00f4ff,#0bfff4,#15ffea,#1affe5,#1cffe4,#1affe5,#14ffeb,#0afff5,#00efff,#00c0ff,#009bff,#0076ff,#0048ff,#0070ff,#00f3ff,#4dffb2,#8aff76,#afff51,#c5ff3b,#d2ff2d,#d3ff2c,#ceff31,#c9ff36,#c4ff3b,#bfff41,#b8ff47,#b0ff50)"></i><i style="background:linear-gradient(90deg,#9fff61,#a6ff59,#adff53,#b2ff4e,#b7ff49,#bbff44,#c0ff40,#bdff42,#b0ff4f,#9aff66,#75ff8b,#38ffc8,#00deff,#0060ff,#004aff,#0076ff,#0097ff,#00bbff,#00e8ff,#00fdff,#08fff7,#0dfff2,#0efff1,#0cfff3,#07fff8,#00fcff,#00e4ff,#00b7ff,#0094ff,#0071ff,#0046ff,#006cff,#00e9ff,#40ffc0,#7aff86,#9dff63,#b2ff4e,#beff41,#c0ff40,#bbff45,#b6ff49,#b2ff4e,#acff53,#a6ff5a,#9eff62)"></i><i style="background:linear-gradient(90deg,#8fff71,#96ff6a,#9cff64,#a1ff5f,#a5ff5a,#aaff56,#aeff51,#acff54,#9fff60,#8aff76,#66ff9a,#2cffd4,#00d6ff,#005dff,#0048ff,#0071ff,#0091ff,#00b4ff,#00dfff,#00f3ff,#00fcff,#02fffd,#03fffc,#02fffd,#00fcff,#00f2ff,#00dbff,#00b0ff,#008eff,#006dff,#0044ff,#0068ff,#00e0ff,#33ffcc,#6bff95,#8dff73,#a1ff5f,#adff53,#aeff52,#a9ff56,#a5ff5b,#a1ff5f,#9bff64,#95ff6b,#8eff72)"></i><i style="background:linear-gradient(90deg,#82ff7e,#89ff77,#8fff71,#94ff6c,#98ff68,#9cff64,#a0ff5f,#9eff62,#92ff6e,#7dff83,#5bffa5,#22ffdd,#00cfff,#005aff,#0046ff,#006eff,#008cff,#00adff,#00d7ff,#00eaff,#00f3ff,#00f7ff,#00f9ff,#00f7ff,#00f2ff,#00e9ff,#00d3ff,#00aaff,#0089ff,#006aff,#0041ff,#0065ff,#00d9ff,#29ffd6,#5fffa1,#80ff80,#93ff6d,#9fff61,#a0ff60,#9cff64,#97ff69,#93ff6d,#8eff72,#88ff78,#81ff7f)"></i><i style="background:linear-gradient(90deg,#76ff8a,#7dff83,#83ff7d,#88ff78,#8cff74,#90ff70,#94ff6c,#92ff6e,#86ff7a,#72ff8e,#50ffaf,#19ffe6,#00c9ff,#0058ff,#0044ff,#006aff,#0088ff,#00a7ff,#00cfff,#00e2ff,#00eaff,#00efff,#00f0ff,#00eeff,#00eaff,#00e1ff,#00cbff,#00a4ff,#0085ff,#0066ff,#0040ff,#0062ff,#00d3ff,#20ffdf,#55ffab,#74ff8c,#87ff79,#93ff6d,#94ff6c,#8fff71,#8bff75,#87ff79,#82ff7e,#7cff84,#75ff8a)"></i><i style="background:linear-gradient(90deg,#6cff94,#72ff8d,#78ff88,#7dff83,#81ff7f,#85ff7b,#89ff77,#87ff79,#7bff85,#67ff99,#47ffb9,#12ffed,#00c4ff,#0055ff,#0042ff,#0067ff,#0083ff,#00a2ff,#00c8ff,#00daff,#00e2ff,#00e6ff,#00e8ff,#00e6ff,#00e2ff,#00d9ff,#00c5ff,#009eff,#0081ff,#0063ff,#003eff,#0060ff,#00cdff,#18ffe7,#4bffb4,#6aff96,#7cff84,#87ff79,#88ff77,#84ff7c,#80ff80,#7cff84,#78ff88,#72ff8e,#6bff95)"></i><i style="background:linear-gradient(90deg,#62ff9d,#69ff97,#6eff92,#73ff8d,#77ff89,#7bff85,#7fff81,#7dff83,#71ff8f,#5effa2,#3effc1,#0bfff4,#00bfff,#0054ff,#0040ff,#0064ff,#0080ff,#009dff,#00c2ff,#00d4ff,#00dbff,#00dfff,#00e0ff,#00dfff,#00dbff,#00d2ff,#00beff,#009aff,#007dff,#0061ff,#003dff,#005eff,#00c8ff,#11ffee,#43ffbd,#60ff9f,#72ff8d,#7dff83,#7eff82,#7aff86,#76ff8a,#72ff8e,#6eff92,#68ff98,#62ff9e)"></i><i style="background:linear-gradient(90deg,#5affa6,#60ff9f,#66ff9a,#6aff96,#6eff92,#72ff8e,#76ff8a,#74ff8c,#68ff97,#56ffaa,#37ffc8,#05fffa,#00bbff,#0052ff,#003fff,#0062ff,#007cff,#0099ff,#00bdff,#00ceff,#00d5ff,#00d9ff,#00daff,#00d9ff,#00d4ff,#00cdff,#00b9ff,#0096ff,#007aff,#005fff,#003cff,#005cff,#00c3ff,#0bfff4,#3bffc4,#58ffa7,#6aff96,#74ff8c,#75ff8b,#71ff8f,#6dff92,#6aff96,#65ff9b,#60ffa0,#59ffa6)"></i><i style="background:linear-gradient(90deg,#53ffad,#59ffa7,#5effa2,#62ff9d,#66ff9a,#6aff96,#6eff92,#6cff94,#61ff9f,#4fffb1,#31ffcf,#00feff,#00b7ff,#0051ff,#003fff,#0060ff,#007aff,#0095ff,#00b8ff,#00c9ff,#00d0ff,#00d3ff,#00d5ff,#00d3ff,#00cfff,#00c8ff,#00b5ff,#0092ff,#0077ff,#005dff,#003bff,#005bff,#00c0ff,#06fff9,#35ffcb,#51ffaf,#62ff9e,#6dff93,#6dff92,#6aff96,#66ff9a,#62ff9e,#5effa2,#58ffa7,#52ffae)"></i><i style="background:linear-gradient(90deg,#4cffb3,#52ffad,#58ffa8,#5cffa4,#5fffa0,#63ff9d,#67ff99,#65ff9b,#5affa5,#48ffb7,#2bffd4,#00faff,#00b4ff,#0050ff,#003eff,#005fff,#0078ff,#0092ff,#00b4ff,#00c4ff,#00cbff,#00cfff,#00d0ff,#00cfff,#00cbff,#00c3ff,#00b1ff,#008fff,#0075ff,#005bff,#003bff,#005aff,#00bdff,#01fffe,#2fffd0,#4bffb5,#5bffa4,#66ff9a,#66ff99,#63ff9d,#5fffa1,#5bffa4,#57ffa9,#52ffae,#4cffb4)"></i><i style="background:linear-gradient(90deg,#47ffb9,#4dffb3,#52ffae,#56ffaa,#59ffa6,#5dffa3,#60ff9f,#5fffa1,#54ffab,#43ffbd,#26ffd9,#00f6ff,#00b2ff,#0050ff,#003eff,#005eff,#0076ff,#0090ff,#00b1ff,#00c0ff,#00c7ff,#00cbff,#00ccff,#00caff,#00c7ff,#00bfff,#00aeff,#008dff,#0074ff,#005bff,#003bff,#0059ff,#00baff,#00fcff,#2affd5,#45ffba,#55ffaa,#5fffa0,#60ffa0,#5dffa3,#59ffa7,#55ffaa,#51ffae,#4cffb4,#46ffb9)"></i>
</div></div>
<div class="hm" style="left:1286px">
<div class="hi" style="left:-19.44px;top:-7.99px;width:427.68px">
<i style="background:linear-gradient(90deg,#0026ff,#0026ff,#0026ff,#0026ff,#0027ff,#0028ff,#002aff,#002bff,#002dff,#002eff,#0030ff,#0031ff,#0032ff,#0034ff,#0035ff,#0036ff,#0036ff,#0037ff,#0037ff,#0038ff,#0038ff,#0038ff,#0038ff,#0038ff,#0038ff,#0038ff,#0037ff,#0037ff,#0036ff,#0035ff,#0034ff,#0033ff,#0032ff,#0031ff,#002fff,#002eff,#002cff,#002bff,#0029ff,#0027ff,#0026ff,#0026ff,#0026ff,#0026ff,#0026ff)"></i><i style="background:linear-gradient(90deg,#0026ff,#0026ff,#0026ff,#0026ff,#0027ff,#0029ff,#002aff,#002cff,#002eff,#0030ff,#0032ff,#0033ff,#0035ff,#0036ff,#0037ff,#0038ff,#0039ff,#003aff,#003aff,#003bff,#003bff,#003bff,#003bff,#003bff,#003bff,#003bff,#003aff,#0039ff,#0039ff,#0038ff,#0036ff,#0035ff,#0034ff,#0032ff,#0031ff,#002fff,#002dff,#002bff,#0029ff,#0028ff,#0026ff,#0026ff,#0026ff,#0026ff,#0026ff)"></i><i style="background:linear-gradient(90deg,#0026ff,#0026ff,#0026ff,#0026ff,#0027ff,#0029ff,#002bff,#002dff,#002fff,#0031ff,#0033ff,#0035ff,#0037ff,#0038ff,#003aff,#003bff,#003cff,#003dff,#003eff,#003eff,#003fff,#003fff,#003fff,#003fff,#003eff,#003eff,#003dff,#003dff,#003cff,#003aff,#0039ff,#0038ff,#0036ff,#0034ff,#0032ff,#0030ff,#002eff,#002cff,#002aff,#0028ff,#0026ff,#0026ff,#0026ff,#0026ff,#0026ff)"></i><i style="background:linear-gradient(90deg,#0026ff,#0026ff,#0026ff,#0026ff,#0027ff,#0029ff,#002cff,#002eff,#0031ff,#0033ff,#0035ff,#0037ff,#0039ff,#003bff,#003cff,#003eff,#003fff,#0040ff,#0041ff,#0041ff,#0042ff,#0042ff,#0042ff,#0042ff,#0042ff,#0041ff,#0040ff,#003fff,#003eff,#003dff,#003cff,#003aff,#0038ff,#0036ff,#0034ff,#0032ff,#002fff,#002dff,#002aff,#0028ff,#0026ff,#0026ff,#0026ff,#0026ff,#0026ff)"></i><i style="background:linear-gradient(90deg,#0026ff,#0026ff,#0026ff,#0026ff,#0027ff,#002aff,#002cff,#002fff,#0032ff,#0034ff,#0037ff,#0039ff,#003bff,#003dff,#003fff,#0041ff,#0042ff,#0043ff,#0044ff,#0045ff,#0045ff,#0045ff,#0045ff,#0045ff,#0045ff,#0044ff,#0044ff,#0042ff,#0041ff,#0040ff,#003eff,#003cff,#003aff,#0038ff,#0036ff,#0033ff,#0031ff,#002eff,#002bff,#0028ff,#0026ff,#0026ff,#0026ff,#0026ff,#0026ff)"></i><i style="background:linear-gradient(90deg,#0026ff,#0026ff,#0026ff,#0026ff,#0027ff,#002aff,#002dff,#0030ff,#0033ff,#0036ff,#0039ff,#003bff,#003eff,#0040ff,#0042ff,#0044ff,#0045ff,#0046ff,#0047ff,#0048ff,#0049ff,#0049ff,#0049ff,#0049ff,#0048ff,#0048ff,#0047ff,#0046ff,#0044ff,#0043ff,#0041ff,#003fff,#003dff,#003aff,#0037ff,#0035ff,#0032ff,#002fff,#002cff,#0028ff,#0026ff,#0026ff,#0026ff,#0026ff,#0026ff)"></i><i style="background:linear-gradient(90deg,#0026ff,#0026ff,#0026ff,#0026ff,#0027ff,#002aff,#002eff,#0031ff,#0035ff,#0038ff,#003bff,#003eff,#0041ff,#0043ff,#0045ff,#0047ff,#0049ff,#004aff,#004bff,#004cff,#004dff,#004dff,#004dff,#004dff,#004dff,#004cff,#004bff,#004aff,#0048ff,#0046ff,#0044ff,#0042ff,#003fff,#003cff,#003aff,#0036ff,#0033ff,#0030ff,#002cff,#0029ff,#0026ff,#0026ff,#0026ff,#0026ff,#0026ff)"></i><i style="background:linear-gradient(90deg,#0026ff,#0026ff,#0026ff,#0026ff,#0027ff,#002bff,#002fff,#0033ff,#0037ff,#003aff,#003eff,#0041ff,#0044ff,#0047ff,#0049ff,#004bff,#004dff,#004fff,#0050ff,#0051ff,#0052ff,#0052ff,#0052ff,#0052ff,#0051ff,#0051ff,#004fff,#004eff,#004cff,#004aff,#0048ff,#0045ff,#0042ff,#003fff,#003cff,#0038ff,#0035ff,#0031ff,#002dff,#0029ff,#0026ff,#0026ff,#0026ff,#0026ff,#0026ff)"></i><i style="background:linear-gradient(90deg,#0026ff,#0026ff,#0026ff,#0026ff,#0027ff,#002cff,#0030ff,#0035ff,#0039ff,#003dff,#0041ff,#0045ff,#0048ff,#004bff,#004eff,#0050ff,#0053ff,#0054ff,#0056ff,#0057ff,#0058ff,#0058ff,#0058ff,#0058ff,#0057ff,#0056ff,#0055ff,#0053ff,#0051ff,#004fff,#004dff,#004aff,#0046ff,#0043ff,#003fff,#003bff,#0037ff,#0032ff,#002eff,#0029ff,#0026ff,#0026ff,#0026ff,#0026ff,#0026ff)"></i><i style="background:linear-gradient(90deg,#0026ff,#0026ff,#0026ff,#0026ff,#0028ff,#002dff,#0032ff,#0037ff,#003cff,#0041ff,#0045ff,#004aff,#004eff,#0051ff,#0054ff,#0057ff,#005aff,#005cff,#005eff,#005fff,#0060ff,#0060ff,#0061ff,#0060ff,#0060ff,#005eff,#005dff,#005bff,#0059ff,#0056ff,#0053ff,#004fff,#004cff,#0047ff,#0043ff,#003eff,#0039ff,#0034ff,#002fff,#002aff,#0026ff,#0026ff,#0026ff,#0026ff,#0026ff)"></i><i style="background:linear-gradient(90deg,#0026ff,#0026ff,#0026ff,#0026ff,#0028ff,#002eff,#0035ff,#003bff,#0042ff,#0048ff,#004dff,#0053ff,#0058ff,#005cff,#0060ff,#0064ff,#0067ff,#006aff,#006cff,#006eff,#006fff,#006fff,#0070ff,#006fff,#006eff,#006dff,#006bff,#0068ff,#0066ff,#0062ff,#005eff,#005aff,#0055ff,#0050ff,#004aff,#0045ff,#003eff,#0038ff,#0031ff,#002bff,#0026ff,#0026ff,#0026ff,#0026ff,#0026ff)"></i><i style="background:linear-gradient(90deg,#0026ff,#0026ff,#0026ff,#0026ff,#0028ff,#0030ff,#0039ff,#0041ff,#0049ff,#0051ff,#0058ff,#005fff,#0065ff,#006bff,#0070ff,#0075ff,#0079ff,#007cff,#007fff,#0081ff,#0083ff,#0084ff,#0084ff,#0083ff,#0082ff,#0080ff,#007eff,#007bff,#0077ff,#0073ff,#006eff,#0068ff,#0062ff,#005cff,#0054ff,#004dff,#0045ff,#003dff,#0034ff,#002cff,#0026ff,#0026ff,#0026ff,#0026ff,#0026ff)"></i><i style="background:linear-gradient(90deg,#0026ff,#0026ff,#0026ff,#0026ff,#0029ff,#0033ff,#003dff,#0048ff,#0052ff,#005bff,#0064ff,#006dff,#0075ff,#007cff,#0083ff,#0088ff,#008dff,#0092ff,#0095ff,#0098ff,#0099ff,#009aff,#009bff,#009aff,#0099ff,#0096ff,#0093ff,#008fff,#008bff,#0085ff,#007fff,#0078ff,#0071ff,#0069ff,#0060ff,#0056ff,#004cff,#0042ff,#0038ff,#002eff,#0026ff,#0026ff,#0026ff,#0026ff,#0026ff)"></i><i style="background:linear-gradient(90deg,#0026ff,#0026ff,#0026ff,#0026ff,#002aff,#0035ff,#0042ff,#004eff,#005aff,#0066ff,#0071ff,#007bff,#0084ff,#008dff,#0095ff,#009cff,#00a2ff,#00a7ff,#00abff,#00aeff,#00b0ff,#00b2ff,#00b2ff,#00b1ff,#00afff,#00adff,#00a9ff,#00a4ff,#009fff,#0098ff,#0091ff,#0089ff,#0080ff,#0076ff,#006bff,#0060ff,#0054ff,#0048ff,#003bff,#002fff,#0026ff,#0026ff,#0026ff,#0026ff,#0026ff)"></i><i style="background:linear-gradient(90deg,#0026ff,#0026ff,#0026ff,#0026ff,#002aff,#0038ff,#0046ff,#0054ff,#0062ff,#006fff,#007cff,#0088ff,#0092ff,#009cff,#00a5ff,#00adff,#00b4ff,#00baff,#00bfff,#00c2ff,#00c5ff,#00c6ff,#00c7ff,#00c6ff,#00c4ff,#00c1ff,#00bdff,#00b7ff,#00b1ff,#00a9ff,#00a1ff,#0097ff,#008dff,#0082ff,#0075ff,#0069ff,#005bff,#004dff,#003eff,#0030ff,#0026ff,#0026ff,#0026ff,#0026ff,#0026ff)"></i><i style="background:linear-gradient(90deg,#0026ff,#0026ff,#0026ff,#0026ff,#002bff,#003aff,#004aff,#0059ff,#0069ff,#0078ff,#0086ff,#0093ff,#009fff,#00aaff,#00b4ff,#00bdff,#00c5ff,#00cbff,#00d1ff,#00d5ff,#00d8ff,#00d9ff,#00d9ff,#00d8ff,#00d6ff,#00d3ff,#00ceff,#00c8ff,#00c1ff,#00b9ff,#00afff,#00a5ff,#0099ff,#008cff,#007fff,#0070ff,#0061ff,#0051ff,#0041ff,#0032ff,#0026ff,#0026ff,#0026ff,#0026ff,#0026ff)"></i><i style="background:linear-gradient(90deg,#0026ff,#0026ff,#0026ff,#0026ff,#002bff,#003cff,#004dff,#005fff,#0070ff,#0081ff,#0091ff,#009fff,#00adff,#00b9ff,#00c4ff,#00ceff,#00d7ff,#00deff,#00e4ff,#00e8ff,#00ebff,#00edff,#00edff,#00ecff,#00eaff,#00e6ff,#00e1ff,#00daff,#00d2ff,#00c9ff,#00bfff,#00b3ff,#00a6ff,#0098ff,#0089ff,#0079ff,#0068ff,#0056ff,#0044ff,#0033ff,#0026ff,#0026ff,#0026ff,#0026ff,#0026ff)"></i><i style="background:linear-gradient(90deg,#0028ff,#0028ff,#0028ff,#0028ff,#002dff,#0040ff,#0054ff,#0068ff,#007bff,#008dff,#009fff,#00afff,#00beff,#00ccff,#00d8ff,#00e3ff,#00edff,#00f5ff,#00fcff,#02fffd,#05fffa,#07fff8,#08fff8,#06fff9,#04fffb,#00feff,#00f8ff,#00f1ff,#00e8ff,#00deff,#00d2ff,#00c5ff,#00b7ff,#00a7ff,#0096ff,#0084ff,#0071ff,#005eff,#004aff,#0036ff,#0028ff,#0028ff,#0028ff,#0028ff,#0028ff)"></i><i style="background:linear-gradient(90deg,#002dff,#002dff,#002dff,#002dff,#0034ff,#0049ff,#0060ff,#0077ff,#008dff,#00a3ff,#00b7ff,#00caff,#00dbff,#00ebff,#00faff,#08fff8,#13ffec,#1cffe3,#24ffdc,#2affd6,#2effd2,#30ffcf,#30ffcf,#2fffd0,#2cffd4,#27ffd9,#20ffdf,#17ffe8,#0dfff2,#01fffe,#00f3ff,#00e3ff,#00d3ff,#00c0ff,#00adff,#0098ff,#0082ff,#006bff,#0054ff,#003eff,#002dff,#002dff,#002dff,#002dff,#002dff)"></i><i style="background:linear-gradient(90deg,#0035ff,#0035ff,#0035ff,#0035ff,#003cff,#0056ff,#0071ff,#008dff,#00a7ff,#00c1ff,#00d9ff,#00f0ff,#06fff9,#19ffe6,#2affd5,#39ffc6,#47ffb9,#52ffae,#5bffa5,#62ff9e,#67ff99,#6aff96,#6aff96,#69ff97,#65ff9b,#5fffa1,#57ffa9,#4cffb3,#40ffbf,#32ffce,#21ffde,#0ffff0,#00faff,#00e4ff,#00cdff,#00b4ff,#009aff,#007fff,#0063ff,#0048ff,#0035ff,#0035ff,#0035ff,#0035ff,#0035ff)"></i><i style="background:linear-gradient(90deg,#003eff,#003eff,#003eff,#003eff,#0046ff,#0063ff,#0083ff,#00a2ff,#00c0ff,#00ddff,#00f8ff,#13ffec,#2bffd4,#41ffbf,#55ffab,#66ff9a,#75ff8b,#82ff7e,#8cff74,#94ff6c,#99ff66,#9dff63,#9dff63,#9bff65,#97ff69,#90ff70,#87ff79,#7cff84,#6eff92,#5dffa2,#4bffb5,#36ffca,#1fffe0,#06fff9,#00ebff,#00ceff,#00b0ff,#0092ff,#0072ff,#0054ff,#003eff,#003eff,#003eff,#003eff,#003eff)"></i><i style="background:linear-gradient(90deg,#0047ff,#0047ff,#0047ff,#0047ff,#0050ff,#006fff,#0090ff,#00b1ff,#00d2ff,#00f1ff,#0ffff0,#2bffd5,#44ffbb,#5bffa4,#70ff90,#83ff7d,#93ff6d,#a0ff5f,#abff54,#b4ff4c,#baff46,#bdff43,#beff42,#bcff44,#b7ff49,#b0ff50,#a6ff5a,#9aff66,#8bff75,#7aff86,#66ff9a,#50ffb0,#37ffc8,#1dffe2,#00ffff,#00e1ff,#00c1ff,#00a0ff,#007fff,#005eff,#0047ff,#0047ff,#0047ff,#0047ff,#0047ff)"></i><i style="background:linear-gradient(90deg,#004fff,#004fff,#004fff,#004fff,#0059ff,#007aff,#009dff,#00c0ff,#00e2ff,#04fffb,#23ffdc,#40ffbf,#5bffa4,#74ff8c,#8aff76,#9eff62,#afff51,#bdff43,#c8ff37,#d1ff2e,#d8ff28,#dbff24,#dcff24,#daff26,#d5ff2b,#cdff32,#c3ff3d,#b6ff4a,#a6ff5a,#94ff6c,#7fff81,#68ff98,#4effb2,#32ffce,#14ffec,#00f3ff,#00d1ff,#00aeff,#008bff,#0068ff,#004fff,#004fff,#004fff,#004fff,#004fff)"></i><i style="background:linear-gradient(90deg,#0056ff,#0056ff,#0056ff,#0056ff,#0060ff,#0083ff,#00a8ff,#00ccff,#00f0ff,#13ffec,#34ffcb,#53ffad,#6fff91,#88ff78,#9fff60,#b4ff4c,#c6ff3a,#d4ff2b,#e1ff1f,#eaff15,#f0ff0f,#f4ff0b,#f5ff0a,#f3ff0d,#eeff12,#e6ff1a,#dbff25,#cdff32,#bdff43,#aaff56,#94ff6c,#7cff84,#60ff9f,#43ffbc,#24ffdc,#02fffd,#00deff,#00baff,#0095ff,#0070ff,#0056ff,#0056ff,#0056ff,#0056ff,#0056ff)"></i><i style="background:linear-gradient(90deg,#005bff,#005bff,#005bff,#005bff,#0065ff,#0089ff,#00aeff,#00d4ff,#00f9ff,#1dffe2,#3fffc1,#5effa2,#7bff85,#95ff6a,#adff52,#c2ff3d,#d4ff2b,#e4ff1b,#f0ff0f,#faff05,#fffd00,#fffa00,#fff900,#fffb00,#feff02,#f5ff0a,#eaff15,#dcff23,#cbff34,#b8ff48,#a1ff5e,#88ff78,#6dff93,#4effb1,#2effd1,#0bfff4,#00e6ff,#00c1ff,#009bff,#0076ff,#005bff,#005bff,#005bff,#005bff,#005bff)"></i><i style="background:linear-gradient(90deg,#005cff,#005cff,#005cff,#005cff,#0066ff,#008aff,#00b0ff,#00d6ff,#00fbff,#20ffe0,#41ffbe,#61ff9f,#7eff82,#99ff67,#b0ff4f,#c6ff3a,#d8ff27,#e7ff18,#f4ff0b,#feff01,#fffa00,#fff600,#fff500,#fff700,#fffd00,#f9ff06,#eeff11,#e0ff1f,#cfff31,#bbff45,#a4ff5b,#8bff75,#6fff90,#51ffaf,#30ffcf,#0efff2,#00e8ff,#00c3ff,#009cff,#0077ff,#005cff,#005cff,#005cff,#005cff,#005cff)"></i><i style="background:linear-gradient(90deg,#005bff,#005bff,#005bff,#005bff,#0065ff,#0088ff,#00aeff,#00d4ff,#00f8ff,#1cffe3,#3effc2,#5dffa3,#7aff86,#94ff6c,#abff54,#c0ff3f,#d2ff2d,#e1ff1e,#eeff11,#f7ff08,#feff01,#fffc00,#fffc00,#fffe00,#fbff04,#f3ff0c,#e8ff17,#daff25,#c9ff36,#b6ff4a,#9fff60,#87ff79,#6bff95,#4dffb3,#2dffd3,#0afff5,#00e6ff,#00c0ff,#009bff,#0076ff,#005bff,#005bff,#005bff,#005bff,#005bff)"></i><i style="background:linear-gradient(90deg,#0059ff,#0059ff,#0059ff,#0059ff,#0063ff,#0086ff,#00aaff,#00cfff,#00f2ff,#16ffea,#36ffc9,#54ffab,#70ff90,#8aff76,#a1ff5f,#b5ff4a,#c7ff39,#d6ff2a,#e2ff1e,#ebff14,#f1ff0e,#f5ff0a,#f6ff09,#f4ff0c,#efff11,#e7ff19,#dcff23,#ceff31,#beff42,#abff55,#95ff6a,#7dff83,#62ff9e,#45ffbb,#26ffda,#04fffb,#00e0ff,#00bcff,#0097ff,#0073ff,#0059ff,#0059ff,#0059ff,#0059ff,#0059ff)"></i><i style="background:linear-gradient(90deg,#0057ff,#0057ff,#0057ff,#0057ff,#0061ff,#0082ff,#00a5ff,#00c8ff,#00ebff,#0dfff2,#2cffd3,#49ffb6,#64ff9c,#7dff83,#93ff6d,#a7ff59,#b8ff48,#c6ff39,#d2ff2e,#dbff25,#e1ff1e,#e4ff1b,#e5ff1a,#e3ff1c,#deff21,#d6ff29,#ccff33,#bfff40,#afff50,#9dff63,#88ff78,#71ff8f,#57ffa9,#3affc5,#1cffe3,#00fbff,#00d9ff,#00b6ff,#0093ff,#0070ff,#0057ff,#0057ff,#0057ff,#0057ff,#0057ff)"></i><i style="background:linear-gradient(90deg,#0054ff,#0054ff,#0054ff,#0054ff,#005eff,#007eff,#00a0ff,#00c1ff,#00e2ff,#03fffc,#21ffde,#3dffc2,#57ffa9,#6fff91,#84ff7c,#97ff69,#a7ff58,#b5ff4b,#c0ff3f,#c9ff37,#cfff31,#d2ff2d,#d3ff2d,#d1ff2f,#ccff33,#c5ff3b,#bbff45,#aeff51,#9fff61,#8eff72,#79ff86,#63ff9d,#4affb6,#2fffd0,#12ffed,#00f2ff,#00d2ff,#00b0ff,#008eff,#006dff,#0054ff,#0054ff,#0054ff,#0054ff,#0054ff)"></i><i style="background:linear-gradient(90deg,#0052ff,#0052ff,#0052ff,#0052ff,#005bff,#0079ff,#009aff,#00baff,#00d9ff,#00f8ff,#15ffea,#30ffcf,#49ffb7,#5fffa0,#74ff8c,#86ff7a,#96ff6a,#a3ff5d,#adff52,#b6ff4a,#bbff44,#beff41,#bfff40,#bdff42,#b9ff47,#b2ff4e,#a8ff57,#9cff64,#8eff72,#7dff83,#6aff96,#54ffac,#3cffc3,#22ffdd,#07fff8,#00e8ff,#00c9ff,#00a9ff,#0089ff,#0069ff,#0052ff,#0052ff,#0052ff,#0052ff,#0052ff)"></i><i style="background:linear-gradient(90deg,#0050ff,#0050ff,#0050ff,#0050ff,#0058ff,#0074ff,#0092ff,#00b1ff,#00ceff,#00eaff,#06fff9,#1fffe0,#36ffc9,#4bffb4,#5effa1,#6fff90,#7eff82,#8aff75,#94ff6b,#9cff64,#a1ff5e,#a4ff5b,#a5ff5b,#a3ff5d,#9fff61,#98ff67,#90ff70,#84ff7c,#77ff89,#67ff99,#55ffab,#41ffbf,#2bffd5,#12ffed,#00f7ff,#00dcff,#00bfff,#00a1ff,#0083ff,#0065ff,#0050ff,#0050ff,#0050ff,#0050ff,#0050ff)"></i><i style="background:linear-gradient(90deg,#004eff,#004eff,#004eff,#004eff,#0055ff,#0070ff,#008cff,#00a8ff,#00c3ff,#00ddff,#00f6ff,#0efff1,#23ffdc,#37ffc9,#49ffb7,#58ffa7,#66ff9a,#71ff8f,#7bff85,#82ff7e,#87ff79,#89ff76,#8aff76,#88ff78,#84ff7b,#7eff82,#76ff8a,#6cff94,#5fffa1,#50ffaf,#40ffc0,#2dffd2,#18ffe7,#02fffd,#00e9ff,#00d0ff,#00b5ff,#0099ff,#007dff,#0062ff,#004eff,#004eff,#004eff,#004eff,#004eff)"></i><i style="background:linear-gradient(90deg,#004dff,#004dff,#004dff,#004dff,#0054ff,#006cff,#0086ff,#00a0ff,#00b9ff,#00d1ff,#00e8ff,#00feff,#13ffed,#25ffdb,#35ffca,#44ffbc,#50ffaf,#5bffa5,#64ff9c,#6aff96,#6fff91,#71ff8f,#72ff8e,#70ff90,#6dff93,#67ff99,#5fffa0,#56ffaa,#4affb6,#3cffc3,#2dffd2,#1cffe4,#09fff7,#00f3ff,#00ddff,#00c5ff,#00acff,#0093ff,#0079ff,#005fff,#004dff,#004dff,#004dff,#004dff,#004dff)"></i><i style="background:linear-gradient(90deg,#004fff,#004fff,#004fff,#004fff,#0055ff,#006bff,#0083ff,#009aff,#00b1ff,#00c7ff,#00dbff,#00efff,#02fffd,#12ffed,#21ffde,#2effd1,#39ffc6,#43ffbd,#4bffb5,#51ffaf,#55ffab,#57ffa8,#58ffa8,#56ffa9,#53ffad,#4effb2,#47ffb9,#3effc1,#34ffcc,#27ffd8,#19ffe6,#0afff5,#00f8ff,#00e5ff,#00d1ff,#00bcff,#00a5ff,#008eff,#0077ff,#005fff,#004fff,#004fff,#004fff,#004fff,#004fff)"></i><i style="background:linear-gradient(90deg,#005fff,#005fff,#005fff,#005fff,#0064ff,#0077ff,#008cff,#00a0ff,#00b4ff,#00c7ff,#00d9ff,#00eaff,#00f9ff,#09fff6,#16ffea,#21ffde,#2bffd4,#33ffcc,#3affc5,#3fffc0,#43ffbd,#45ffbb,#45ffba,#44ffbb,#41ffbe,#3dffc3,#37ffc9,#2fffd0,#26ffd9,#1bffe4,#0ffff0,#02fffe,#00f2ff,#00e1ff,#00d0ff,#00bdff,#00aaff,#0096ff,#0081ff,#006dff,#005fff,#005fff,#005fff,#005fff,#005fff)"></i><i style="background:linear-gradient(90deg,#0078ff,#0078ff,#0078ff,#0078ff,#007dff,#008eff,#00a0ff,#00b2ff,#00c4ff,#00d5ff,#00e5ff,#00f4ff,#02fffd,#0ffff0,#1bffe5,#25ffdb,#2dffd2,#35ffcb,#3bffc5,#3fffc0,#43ffbd,#44ffbb,#45ffbb,#44ffbc,#41ffbe,#3dffc2,#38ffc8,#31ffce,#29ffd6,#20ffe0,#15ffea,#09fff6,#00fbff,#00ecff,#00ddff,#00ccff,#00bbff,#00a9ff,#0097ff,#0085ff,#0078ff,#0078ff,#0078ff,#0078ff,#0078ff)"></i><i style="background:linear-gradient(90deg,#0097ff,#0097ff,#0097ff,#0097ff,#009bff,#00abff,#00bcff,#00ccff,#00dcff,#00ecff,#00fbff,#09fff6,#16ffe9,#22ffdd,#2cffd3,#36ffca,#3effc2,#45ffbb,#4affb5,#4effb1,#51ffae,#53ffad,#53ffac,#52ffad,#50ffb0,#4cffb3,#47ffb8,#41ffbe,#3affc6,#31ffce,#27ffd8,#1cffe3,#10ffef,#02fffd,#00f3ff,#00e4ff,#00d4ff,#00c4ff,#00b3ff,#00a3ff,#0097ff,#0097ff,#0097ff,#0097ff,#0097ff)"></i><i style="background:linear-gradient(90deg,#00b3ff,#00b3ff,#00b3ff,#00b3ff,#00b8ff,#00c7ff,#00d7ff,#00e6ff,#00f6ff,#06fff9,#14ffeb,#21ffde,#2dffd2,#38ffc7,#42ffbd,#4bffb4,#53ffad,#59ffa6,#5fffa1,#63ff9d,#66ff9a,#67ff99,#67ff98,#66ff99,#64ff9c,#61ff9f,#5cffa4,#56ffa9,#4fffb1,#47ffb9,#3dffc2,#33ffcd,#27ffd8,#1affe5,#0dfff2,#00fdff,#00eeff,#00deff,#00ceff,#00bfff,#00b3ff,#00b3ff,#00b3ff,#00b3ff,#00b3ff)"></i><i style="background:linear-gradient(90deg,#00cbff,#00cbff,#00cbff,#00cbff,#00cfff,#00ddff,#00edff,#00fcff,#0cfff3,#1bffe5,#28ffd7,#35ffcb,#41ffbf,#4bffb4,#55ffab,#5effa2,#65ff9b,#6bff94,#71ff8f,#75ff8b,#77ff89,#79ff87,#79ff87,#78ff88,#76ff8a,#73ff8d,#6eff92,#68ff97,#61ff9e,#59ffa6,#50ffaf,#46ffba,#3bffc5,#2effd1,#21ffde,#13ffec,#05fffa,#00f4ff,#00e5ff,#00d6ff,#00cbff,#00cbff,#00cbff,#00cbff,#00cbff)"></i><i style="background:linear-gradient(90deg,#00e4ff,#00e4ff,#00e4ff,#00e4ff,#00e8ff,#00f6ff,#05fffa,#14ffeb,#23ffdd,#30ffcf,#3dffc2,#4affb6,#55ffab,#5fffa1,#68ff97,#71ff8f,#78ff88,#7eff82,#83ff7d,#86ff79,#89ff77,#8aff75,#8bff75,#8aff76,#88ff78,#85ff7b,#80ff80,#7bff85,#74ff8c,#6dff93,#64ff9c,#5affa6,#4fffb0,#43ffbc,#37ffc9,#29ffd6,#1bffe4,#0dfff2,#00fdff,#00eeff,#00e4ff,#00e4ff,#00e4ff,#00e4ff,#00e4ff)"></i><i style="background:linear-gradient(90deg,#00f7ff,#00f7ff,#00f7ff,#00f7ff,#00fbff,#0afff5,#19ffe6,#27ffd8,#36ffca,#43ffbc,#50ffaf,#5cffa3,#68ff98,#72ff8e,#7bff85,#83ff7d,#8aff76,#90ff70,#95ff6b,#99ff67,#9bff65,#9dff63,#9dff63,#9cff64,#9aff66,#97ff69,#93ff6d,#8dff73,#87ff79,#7fff81,#76ff89,#6dff93,#62ff9e,#56ffa9,#4affb6,#3cffc3,#2effd1,#20ffdf,#11ffee,#03fffc,#00f7ff,#00f7ff,#00f7ff,#00f7ff,#00f7ff)"></i><i style="background:linear-gradient(90deg,#00ffff,#00ffff,#00ffff,#00ffff,#04fffb,#13ffec,#23ffdd,#32ffcd,#41ffbe,#50ffb0,#5effa2,#6aff95,#76ff8a,#81ff7f,#8bff75,#94ff6c,#9bff65,#a1ff5e,#a7ff59,#abff55,#adff52,#afff51,#afff51,#aeff51,#acff54,#a9ff57,#a4ff5c,#9eff61,#97ff68,#8fff71,#86ff7a,#7cff84,#70ff8f,#64ff9c,#57ffa9,#48ffb7,#3affc6,#2affd5,#1affe5,#0bfff4,#00ffff,#00ffff,#00ffff,#00ffff,#00ffff)"></i><i style="background:linear-gradient(90deg,#04fffb,#04fffb,#04fffb,#04fffb,#08fff7,#18ffe7,#29ffd6,#3affc6,#4affb5,#5affa6,#69ff97,#77ff89,#84ff7c,#90ff70,#9aff66,#a3ff5c,#acff54,#b2ff4d,#b8ff48,#bcff43,#bfff40,#c1ff3f,#c1ff3e,#c0ff3f,#beff42,#baff45,#b5ff4a,#afff51,#a8ff58,#9fff61,#95ff6b,#8aff76,#7dff83,#70ff90,#61ff9e,#52ffae,#42ffbe,#31ffce,#20ffdf,#10ffef,#04fffb,#04fffb,#04fffb,#04fffb,#04fffb)"></i><i style="background:linear-gradient(90deg,#06fff9,#06fff9,#06fff9,#06fff9,#0bfff4,#1cffe3,#2fffd1,#41ffbf,#53ffad,#64ff9c,#74ff8c,#83ff7d,#91ff6f,#9eff62,#a9ff57,#b3ff4c,#bcff44,#c3ff3c,#c9ff36,#ceff31,#d1ff2e,#d3ff2c,#d3ff2c,#d2ff2d,#d0ff30,#ccff34,#c7ff39,#c0ff40,#b8ff48,#aeff51,#a3ff5c,#97ff69,#8aff76,#7bff85,#6cff94,#5bffa5,#4affb6,#37ffc8,#25ffda,#13ffec,#06fff9,#06fff9,#06fff9,#06fff9,#06fff9)"></i><i style="background:linear-gradient(90deg,#08fff7,#08fff7,#08fff7,#08fff7,#0dfff2,#20ffdf,#34ffcb,#48ffb8,#5bffa5,#6dff92,#7fff81,#8fff71,#9eff62,#acff54,#b8ff47,#c3ff3c,#cdff33,#d5ff2b,#dbff24,#e0ff1f,#e4ff1c,#e6ff1a,#e6ff19,#e5ff1a,#e2ff1d,#deff21,#d8ff27,#d1ff2f,#c8ff37,#beff42,#b2ff4e,#a5ff5b,#97ff69,#87ff79,#76ff8a,#64ff9c,#51ffae,#3effc2,#2affd6,#16ffe9,#08fff7,#08fff7,#08fff7,#08fff7,#08fff7)"></i><i style="background:linear-gradient(90deg,#0bfff4,#0bfff4,#0bfff4,#0bfff4,#11ffef,#25ffdb,#3affc6,#4fffb0,#64ff9c,#78ff88,#8aff76,#9cff64,#acff54,#baff45,#c8ff38,#d3ff2c,#deff22,#e6ff19,#edff12,#f3ff0d,#f6ff09,#f8ff07,#f9ff06,#f8ff08,#f5ff0a,#f0ff0f,#eaff15,#e2ff1d,#d9ff27,#ceff32,#c1ff3e,#b3ff4d,#a4ff5c,#93ff6d,#81ff7f,#6eff92,#59ffa6,#44ffbb,#2fffd0,#1affe5,#0bfff4,#0bfff4,#0bfff4,#0bfff4,#0bfff4)"></i><i style="background:linear-gradient(90deg,#10fff0,#10fff0,#10fff0,#10fff0,#16ffea,#2bffd5,#41ffbe,#58ffa8,#6dff92,#82ff7e,#96ff6a,#a8ff57,#b9ff46,#c9ff37,#d7ff28,#e3ff1c,#eeff11,#f7ff08,#ffff00,#fffa00,#fff600,#fff400,#fff300,#fff500,#fff800,#fffd00,#fbff04,#f3ff0c,#e9ff16,#ddff22,#d0ff30,#c1ff3e,#b1ff4f,#9fff61,#8cff74,#78ff88,#62ff9d,#4cffb3,#36ffca,#20ffe0,#10fff0,#10fff0,#10fff0,#10fff0,#10fff0)"></i><i style="background:linear-gradient(90deg,#18ffe7,#18ffe7,#18ffe7,#18ffe7,#1effe1,#34ffcb,#4cffb4,#63ff9d,#7aff86,#90ff70,#a4ff5c,#b7ff48,#c9ff36,#d9ff26,#e8ff17,#f5ff0a,#fffe00,#fff400,#ffed00,#ffe700,#ffe300,#ffe000,#ffe000,#ffe100,#ffe400,#ffea00,#fff000,#fff900,#faff05,#eeff11,#e1ff1f,#d1ff2e,#c0ff3f,#aeff52,#9aff66,#85ff7b,#6eff92,#57ffa9,#3fffc0,#28ffd7,#18ffe7,#18ffe7,#18ffe7,#18ffe7,#18ffe7)"></i><i style="background:linear-gradient(90deg,#22ffde,#22ffde,#22ffde,#22ffde,#28ffd7,#40ffc0,#58ffa7,#71ff8f,#89ff77,#a0ff60,#b5ff4a,#c9ff36,#dcff23,#edff12,#fdff02,#fff400,#ffe800,#ffde00,#ffd600,#ffcf00,#ffcb00,#ffc900,#ffc800,#ffca00,#ffcd00,#ffd200,#ffda00,#ffe300,#ffee00,#fffb00,#f5ff0a,#e5ff1b,#d3ff2d,#bfff40,#aaff55,#94ff6c,#7dff83,#64ff9c,#4bffb4,#33ffcc,#22ffde,#22ffde,#22ffde,#22ffde,#22ffde)"></i><i style="background:linear-gradient(90deg,#2bffd4,#2bffd4,#2bffd4,#2bffd4,#32ffcd,#4bffb5,#66ff9a,#80ff80,#9aff66,#b2ff4d,#c9ff36,#dfff20,#f3ff0c,#fff800,#ffe800,#ffd900,#ffcc00,#ffc100,#ffb900,#ffb200,#ffad00,#ffab00,#ffaa00,#ffac00,#ffaf00,#ffb500,#ffbd00,#ffc700,#ffd300,#ffe000,#fff000,#fcff03,#e9ff16,#d4ff2b,#beff42,#a6ff5a,#8dff73,#73ff8d,#58ffa8,#3effc2,#2bffd4,#2bffd4,#2bffd4,#2bffd4,#2bffd4)"></i><i style="background:linear-gradient(90deg,#31ffce,#31ffce,#31ffce,#31ffce,#39ffc6,#55ffab,#72ff8e,#8fff71,#acff54,#c7ff39,#e0ff1f,#f8ff07,#fff000,#ffdb00,#ffc900,#ffb900,#ffab00,#ff9f00,#ff9500,#ff8e00,#ff8800,#ff8600,#ff8500,#ff8700,#ff8b00,#ff9100,#ff9a00,#ffa400,#ffb200,#ffc100,#ffd200,#ffe500,#fffb00,#ecff13,#d3ff2c,#b9ff47,#9dff63,#81ff7f,#63ff9d,#46ffb9,#31ffce,#31ffce,#31ffce,#31ffce,#31ffce)"></i><i style="background:linear-gradient(90deg,#33ffcc,#33ffcc,#33ffcc,#33ffcc,#3cffc3,#5cffa3,#7eff82,#a0ff60,#c1ff3f,#e0ff1f,#feff01,#ffe400,#ffcb00,#ffb300,#ff9e00,#ff8b00,#ff7b00,#ff6d00,#ff6100,#ff5900,#ff5300,#ff5000,#ff4f00,#ff5100,#ff5600,#ff5d00,#ff6700,#ff7300,#ff8300,#ff9400,#ffa800,#ffbf00,#ffd800,#fff200,#efff10,#d0ff2f,#b0ff50,#8fff71,#6dff93,#4bffb4,#33ffcc,#33ffcc,#33ffcc,#33ffcc,#33ffcc)"></i><i style="background:linear-gradient(90deg,#33ffcc,#33ffcc,#33ffcc,#33ffcc,#3dffc2,#62ff9e,#88ff78,#aeff52,#d3ff2c,#f7ff09,#ffe600,#ffc600,#ffa900,#ff8e00,#ff7600,#ff6100,#ff4f00,#ff3f00,#ff3200,#ff2900,#ff2200,#ff1e00,#ff1d00,#ff2000,#ff2500,#ff2d00,#ff3900,#ff4700,#ff5800,#ff6c00,#ff8200,#ff9c00,#ffb800,#ffd600,#fff700,#e5ff1b,#c0ff3f,#9bff65,#74ff8c,#4fffb1,#33ffcc,#33ffcc,#33ffcc,#33ffcc,#33ffcc)"></i><i style="background:linear-gradient(90deg,#33ffcc,#33ffcc,#33ffcc,#33ffcc,#3effc1,#65ff9b,#8dff72,#b6ff4a,#ddff22,#fffb00,#ffd700,#ffb500,#ff9600,#ff7a00,#ff6100,#ff4a00,#ff3600,#ff2600,#ff1800,#ff0e00,#ff0600,#ff0300,#ff0200,#ff0400,#ff0a00,#ff1300,#ff1f00,#ff2e00,#ff4000,#ff5500,#ff6d00,#ff8800,#ffa600,#ffc600,#ffe900,#f0ff0f,#c9ff36,#a1ff5f,#78ff87,#50ffaf,#33ffcc,#33ffcc,#33ffcc,#33ffcc,#33ffcc)"></i><i style="background:linear-gradient(90deg,#32ffce,#32ffce,#32ffce,#32ffce,#3cffc3,#62ff9d,#8aff76,#b2ff4e,#d9ff27,#feff01,#ffdd00,#ffbc00,#ff9e00,#ff8200,#ff6900,#ff5200,#ff3f00,#ff2f00,#ff2200,#ff1700,#ff1000,#ff0c00,#ff0c00,#ff0e00,#ff1400,#ff1c00,#ff2800,#ff3700,#ff4900,#ff5d00,#ff7500,#ff9000,#ffad00,#ffcd00,#ffef00,#ebff14,#c5ff3a,#9eff62,#76ff8a,#4effb1,#32ffce,#32ffce,#32ffce,#32ffce,#32ffce)"></i><i style="background:linear-gradient(90deg,#2cffd3,#2cffd3,#2cffd3,#2cffd3,#36ffc9,#59ffa7,#7eff82,#a2ff5d,#c6ff3a,#e8ff17,#fff600,#ffd700,#ffbb00,#ffa200,#ff8b00,#ff7600,#ff6400,#ff5500,#ff4900,#ff4000,#ff3900,#ff3600,#ff3500,#ff3700,#ff3c00,#ff4400,#ff4f00,#ff5d00,#ff6d00,#ff8000,#ff9600,#ffaf00,#ffc900,#ffe700,#f8ff07,#d7ff29,#b4ff4c,#90ff70,#6bff95,#46ffb9,#2cffd3,#2cffd3,#2cffd3,#2cffd3,#2cffd3)"></i><i style="background:linear-gradient(90deg,#23ffdc,#23ffdc,#23ffdc,#23ffdc,#2bffd4,#47ffb9,#64ff9b,#82ff7e,#9eff62,#b9ff46,#d3ff2c,#ebff14,#fffd00,#ffe800,#ffd600,#ffc500,#ffb700,#ffab00,#ffa200,#ff9a00,#ff9500,#ff9200,#ff9100,#ff9300,#ff9700,#ff9e00,#ffa600,#ffb100,#ffbe00,#ffce00,#ffdf00,#fff200,#f6ff09,#dfff20,#c6ff39,#acff54,#90ff70,#73ff8d,#55ffaa,#38ffc7,#23ffdc,#23ffdc,#23ffdc,#23ffdc,#23ffdc)"></i><i style="background:linear-gradient(90deg,#19ffe6,#19ffe6,#19ffe6,#19ffe6,#1fffe0,#33ffcc,#49ffb7,#5fffa1,#74ff8c,#88ff78,#9bff65,#acff53,#bdff43,#ccff34,#d9ff26,#e5ff1a,#efff10,#f8ff07,#ffff00,#fff900,#fff500,#fff300,#fff300,#fff400,#fff700,#fffc00,#fcff03,#f4ff0b,#eaff15,#dfff20,#d2ff2d,#c4ff3b,#b4ff4b,#a3ff5c,#91ff6f,#7eff82,#69ff97,#54ffac,#3effc2,#29ffd7,#19ffe6,#19ffe6,#19ffe6,#19ffe6,#19ffe6)"></i><i style="background:linear-gradient(90deg,#0ffff0,#0ffff0,#0ffff0,#0ffff0,#13ffec,#20ffe0,#2dffd2,#3bffc4,#48ffb7,#55ffab,#61ff9f,#6cff94,#77ff89,#80ff80,#89ff77,#90ff70,#97ff69,#9cff63,#a1ff5f,#a4ff5b,#a7ff59,#a8ff58,#a8ff57,#a7ff58,#a6ff5a,#a3ff5d,#9fff61,#9aff66,#94ff6c,#8cff73,#84ff7c,#7bff85,#71ff8e,#67ff99,#5bffa5,#4effb1,#41ffbe,#34ffcb,#26ffd9,#19ffe6,#0ffff0,#0ffff0,#0ffff0,#0ffff0,#0ffff0)"></i><i style="background:linear-gradient(90deg,#04fffb,#04fffb,#04fffb,#04fffb,#07fff8,#0efff1,#17ffe8,#1fffe0,#27ffd8,#2fffd1,#36ffc9,#3dffc2,#43ffbc,#49ffb6,#4effb1,#53ffad,#57ffa9,#5affa5,#5dffa3,#5fffa0,#61ff9f,#62ff9e,#62ff9e,#61ff9f,#60ffa0,#5effa1,#5cffa4,#59ffa7,#55ffab,#51ffaf,#4cffb4,#46ffb9,#40ffbf,#3affc6,#32ffcd,#2bffd4,#23ffdc,#1bffe4,#12ffed,#0afff5,#04fffb,#04fffb,#04fffb,#04fffb,#04fffb)"></i><i style="background:linear-gradient(90deg,#00f5ff,#00f5ff,#00f5ff,#00f5ff,#00f6ff,#00fbff,#01fffe,#07fff8,#0cfff3,#10ffef,#15ffea,#19ffe6,#1dffe2,#21ffde,#24ffdb,#27ffd8,#2affd6,#2cffd4,#2dffd2,#2fffd1,#30ffd0,#30ffcf,#30ffcf,#30ffcf,#2fffd0,#2effd1,#2dffd3,#2bffd5,#28ffd7,#26ffda,#23ffdd,#1fffe0,#1bffe4,#17ffe8,#13ffec,#0efff1,#09fff6,#04fffb,#00feff,#00f9ff,#00f5ff,#00f5ff,#00f5ff,#00f5ff,#00f5ff)"></i><i style="background:linear-gradient(90deg,#00e6ff,#00e6ff,#00e6ff,#00e6ff,#00e7ff,#00eaff,#00edff,#00f0ff,#00f3ff,#00f6ff,#00f9ff,#00fbff,#00feff,#01fffe,#03fffc,#05fffa,#06fff9,#07fff8,#08fff7,#09fff6,#0afff5,#0afff5,#0afff5,#0afff5,#0afff6,#09fff6,#08fff7,#07fff8,#05fffa,#04fffb,#02fffd,#00ffff,#00fdff,#00faff,#00f7ff,#00f5ff,#00f2ff,#00efff,#00ecff,#00e8ff,#00e6ff,#00e6ff,#00e6ff,#00e6ff,#00e6ff)"></i><i style="background:linear-gradient(90deg,#00dbff,#00dbff,#00dbff,#00dbff,#00dbff,#00dcff,#00ddff,#00deff,#00dfff,#00e0ff,#00e0ff,#00e1ff,#00e2ff,#00e3ff,#00e3ff,#00e4ff,#00e4ff,#00e5ff,#00e5ff,#00e5ff,#00e5ff,#00e5ff,#00e5ff,#00e5ff,#00e5ff,#00e5ff,#00e5ff,#00e4ff,#00e4ff,#00e3ff,#00e3ff,#00e2ff,#00e2ff,#00e1ff,#00e0ff,#00dfff,#00deff,#00ddff,#00dcff,#00dbff,#00dbff,#00dbff,#00dbff,#00dbff,#00dbff)"></i><i style="background:linear-gradient(90deg,#00d6ff,#00d6ff,#00d6ff,#00d6ff,#00d6ff,#00d6ff,#00d6ff,#00d6ff,#00d6ff,#00d6ff,#00d6ff,#00d6ff,#00d6ff,#00d6ff,#00d6ff,#00d6ff,#00d6ff,#00d6ff,#00d6ff,#00d6ff,#00d6ff,#00d6ff,#00d6ff,#00d6ff,#00d6ff,#00d6ff,#00d6ff,#00d6ff,#00d6ff,#00d6ff,#00d6ff,#00d6ff,#00d6ff,#00d6ff,#00d6ff,#00d6ff,#00d6ff,#00d6ff,#00d6ff,#00d6ff,#00d6ff,#00d6ff,#00d6ff,#00d6ff,#00d6ff)"></i><i style="background:linear-gradient(90deg,#00dfff,#00dfff,#00dfff,#00dfff,#00dfff,#00dfff,#00dfff,#00dfff,#00dfff,#00dfff,#00dfff,#00dfff,#00dfff,#00dfff,#00dfff,#00dfff,#00dfff,#00dfff,#00dfff,#00dfff,#00dfff,#00dfff,#00dfff,#00dfff,#00dfff,#00dfff,#00dfff,#00dfff,#00dfff,#00dfff,#00dfff,#00dfff,#00dfff,#00dfff,#00dfff,#00dfff,#00dfff,#00dfff,#00dfff,#00dfff,#00dfff,#00dfff,#00dfff,#00dfff,#00dfff)"></i><i style="background:linear-gradient(90deg,#00f2ff,#00f2ff,#00f2ff,#00f2ff,#00f2ff,#00f2ff,#00f2ff,#00f2ff,#00f2ff,#00f2ff,#00f2ff,#00f3ff,#00f3ff,#00f3ff,#00f3ff,#00f3ff,#00f3ff,#00f3ff,#00f3ff,#00f3ff,#00f3ff,#00f3ff,#00f3ff,#00f3ff,#00f3ff,#00f3ff,#00f3ff,#00f3ff,#00f3ff,#00f3ff,#00f3ff,#00f3ff,#00f3ff,#00f3ff,#00f2ff,#00f2ff,#00f2ff,#00f2ff,#00f2ff,#00f2ff,#00f2ff,#00f2ff,#00f2ff,#00f2ff,#00f2ff)"></i><i style="background:linear-gradient(90deg,#00ffff,#00ffff,#00ffff,#00ffff,#00ffff,#02fffd,#04fffb,#06fff9,#08fff7,#0afff6,#0bfff4,#0dfff2,#0efff1,#10fff0,#11ffee,#12ffed,#13ffec,#13ffec,#14ffeb,#15ffeb,#15ffea,#15ffea,#15ffea,#15ffea,#15ffea,#14ffeb,#14ffeb,#13ffec,#12ffed,#11ffee,#10ffef,#0ffff0,#0efff2,#0cfff3,#0afff5,#09fff6,#07fff8,#05fffa,#03fffc,#01fffe,#00ffff,#00ffff,#00ffff,#00ffff,#00ffff)"></i><i style="background:linear-gradient(90deg,#0afff5,#0afff5,#0afff5,#0afff5,#0bfff4,#0ffff0,#14ffeb,#19ffe6,#1dffe2,#22ffde,#26ffda,#2affd6,#2dffd2,#30ffcf,#33ffcc,#36ffc9,#38ffc7,#3affc5,#3cffc4,#3dffc3,#3effc2,#3effc1,#3effc1,#3effc2,#3dffc2,#3cffc3,#3bffc5,#39ffc6,#37ffc8,#35ffcb,#32ffcd,#2fffd1,#2bffd4,#28ffd8,#24ffdc,#1fffe0,#1bffe4,#16ffe9,#12ffed,#0dfff2,#0afff5,#0afff5,#0afff5,#0afff5,#0afff5)"></i><i style="background:linear-gradient(90deg,#13ffec,#13ffec,#13ffec,#13ffec,#16ffe9,#1effe2,#26ffd9,#2effd1,#37ffc9,#3effc1,#46ffba,#4dffb3,#53ffad,#59ffa7,#5effa2,#63ff9d,#67ff99,#6aff95,#6dff93,#6fff91,#71ff8f,#72ff8e,#72ff8e,#71ff8f,#70ff90,#6eff92,#6cff94,#69ff97,#65ff9b,#61ff9f,#5cffa4,#56ffaa,#50ffb0,#49ffb6,#42ffbd,#3affc5,#32ffcd,#2affd5,#22ffde,#19ffe6,#13ffec,#13ffec,#13ffec,#13ffec,#13ffec)"></i><i style="background:linear-gradient(90deg,#1dffe3,#1dffe3,#1dffe3,#1dffe3,#20ffdf,#2dffd3,#3affc5,#47ffb8,#54ffab,#61ff9f,#6dff93,#78ff88,#82ff7e,#8bff75,#93ff6c,#9bff65,#a1ff5f,#a7ff59,#abff55,#aeff51,#b1ff4f,#b2ff4e,#b2ff4d,#b2ff4e,#b0ff50,#adff53,#a9ff57,#a4ff5c,#9eff62,#97ff69,#8fff71,#86ff79,#7dff83,#72ff8e,#67ff99,#5bffa5,#4effb2,#41ffbf,#33ffcc,#26ffd9,#1dffe3,#1dffe3,#1dffe3,#1dffe3,#1dffe3)"></i><i style="background:linear-gradient(90deg,#25ffdb,#25ffdb,#25ffdb,#25ffdb,#2affd5,#3dffc3,#50ffaf,#64ff9c,#77ff89,#8aff76,#9bff65,#abff55,#baff46,#c8ff38,#d4ff2b,#dfff20,#e8ff17,#f0ff0f,#f7ff08,#fcff03,#ffff00,#fffd00,#fffd00,#fffe00,#feff01,#f9ff06,#f4ff0b,#ecff13,#e4ff1c,#d9ff26,#ceff32,#c1ff3f,#b2ff4d,#a3ff5d,#92ff6e,#80ff80,#6dff92,#5affa6,#46ffb9,#33ffcd,#25ffdb,#25ffdb,#25ffdb,#25ffdb,#25ffdb)"></i><i style="background:linear-gradient(90deg,#2bffd4,#2bffd4,#2bffd4,#2bffd4,#33ffcd,#4cffb4,#67ff99,#82ff7e,#9bff64,#b4ff4b,#ccff34,#e2ff1d,#f6ff09,#fff500,#ffe500,#ffd600,#ffc900,#ffbe00,#ffb500,#ffae00,#ffa900,#ffa700,#ffa600,#ffa800,#ffac00,#ffb100,#ffb900,#ffc300,#ffcf00,#ffdd00,#ffed00,#ffff00,#ecff13,#d7ff29,#c0ff40,#a8ff58,#8eff72,#74ff8c,#59ffa7,#3effc1,#2bffd4,#2bffd4,#2bffd4,#2bffd4,#2bffd4)"></i><i style="background:linear-gradient(90deg,#30ffcf,#30ffcf,#30ffcf,#30ffcf,#39ffc6,#5affa6,#7dff83,#9fff61,#c0ff3f,#e0ff1f,#feff01,#ffe300,#ffc900,#ffb100,#ff9c00,#ff8800,#ff7800,#ff6a00,#ff5e00,#ff5600,#ff4f00,#ff4c00,#ff4b00,#ff4e00,#ff5200,#ff5a00,#ff6400,#ff7100,#ff8000,#ff9200,#ffa600,#ffbd00,#ffd600,#fff200,#efff10,#d0ff30,#afff50,#8dff73,#6bff95,#49ffb7,#30ffcf,#30ffcf,#30ffcf,#30ffcf,#30ffcf)"></i><i style="background:linear-gradient(90deg,#33ffcd,#33ffcd,#33ffcd,#33ffcd,#3dffc2,#63ff9d,#8aff76,#b1ff4e,#d8ff28,#fcff03,#ffdf00,#ffbf00,#ffa100,#ff8500,#ff6c00,#ff5600,#ff4300,#ff3300,#ff2600,#ff1c00,#ff1500,#ff1100,#ff1100,#ff1300,#ff1800,#ff2100,#ff2d00,#ff3b00,#ff4d00,#ff6100,#ff7900,#ff9300,#ffb000,#ffcf00,#fff100,#eaff16,#c4ff3b,#9dff62,#76ff8a,#4fffb1,#33ffcd,#33ffcd,#33ffcd,#33ffcd,#33ffcd)"></i><i style="background:linear-gradient(90deg,#33ffcc,#33ffcc,#33ffcc,#33ffcc,#3effc2,#64ff9b,#8dff73,#b6ff4a,#ddff22,#fffb00,#ffd700,#ffb500,#ff9600,#ff7a00,#ff6000,#ff4a00,#ff3600,#ff2500,#ff1800,#ff0d00,#ff0600,#ff0200,#ff0100,#ff0400,#ff0900,#ff1200,#ff1e00,#ff2d00,#ff4000,#ff5500,#ff6d00,#ff8800,#ffa600,#ffc600,#ffe900,#f0ff0f,#c9ff36,#a1ff5f,#78ff88,#50ffb0,#33ffcc,#33ffcc,#33ffcc,#33ffcc,#33ffcc)"></i><i style="background:linear-gradient(90deg,#31ffce,#31ffce,#31ffce,#31ffce,#3bffc4,#60ff9f,#87ff79,#aeff51,#d4ff2b,#f8ff07,#ffe400,#ffc400,#ffa600,#ff8b00,#ff7200,#ff5c00,#ff4a00,#ff3a00,#ff2d00,#ff2300,#ff1c00,#ff1800,#ff1700,#ff1a00,#ff1f00,#ff2800,#ff3300,#ff4200,#ff5300,#ff6700,#ff7e00,#ff9800,#ffb500,#ffd400,#fff500,#e6ff1a,#c1ff3f,#9aff65,#73ff8d,#4dffb3,#31ffce,#31ffce,#31ffce,#31ffce,#31ffce)"></i><i style="background:linear-gradient(90deg,#2dffd2,#2dffd2,#2dffd2,#2dffd2,#37ffc9,#59ffa7,#7cff84,#a0ff60,#c2ff3d,#e3ff1c,#fffb00,#ffde00,#ffc300,#ffaa00,#ff9300,#ff8000,#ff6e00,#ff6000,#ff5400,#ff4b00,#ff4500,#ff4100,#ff4000,#ff4300,#ff4700,#ff4f00,#ff5a00,#ff6700,#ff7700,#ff8900,#ff9f00,#ffb600,#ffd000,#ffed00,#f3ff0c,#d3ff2d,#b1ff4f,#8eff72,#6aff96,#47ffb9,#2dffd2,#2dffd2,#2dffd2,#2dffd2,#2dffd2)"></i><i style="background:linear-gradient(90deg,#28ffd7,#28ffd7,#28ffd7,#28ffd7,#31ffcf,#4fffb1,#6fff91,#8fff71,#aeff52,#cbff34,#e7ff18,#fffd00,#ffe400,#ffce00,#ffba00,#ffa900,#ff9900,#ff8c00,#ff8200,#ff7900,#ff7400,#ff7100,#ff7000,#ff7200,#ff7600,#ff7d00,#ff8700,#ff9200,#ffa100,#ffb100,#ffc400,#ffd900,#fff100,#f4ff0b,#d9ff26,#bcff43,#9eff62,#7eff82,#5effa1,#3fffc1,#28ffd7,#28ffd7,#28ffd7,#28ffd7,#28ffd7)"></i><i style="background:linear-gradient(90deg,#22ffdd,#22ffdd,#22ffdd,#22ffdd,#2affd6,#45ffbb,#61ff9e,#7eff82,#9aff66,#b4ff4b,#cdff32,#e5ff1a,#fbff04,#ffef00,#ffdd00,#ffce00,#ffc000,#ffb400,#ffab00,#ffa300,#ff9e00,#ff9b00,#ff9b00,#ff9d00,#ffa100,#ffa700,#ffaf00,#ffba00,#ffc700,#ffd500,#ffe600,#fff900,#f0ff0f,#d9ff26,#c1ff3f,#a7ff59,#8cff74,#6fff90,#53ffad,#36ffc9,#22ffdd,#22ffdd,#22ffdd,#22ffdd,#22ffdd)"></i><i style="background:linear-gradient(90deg,#1bffe4,#1bffe4,#1bffe4,#1bffe4,#22ffdd,#3bffc4,#55ffaa,#70ff90,#89ff77,#a2ff5e,#b9ff47,#ceff31,#e2ff1d,#f4ff0b,#fff900,#ffeb00,#ffde00,#ffd300,#ffcb00,#ffc400,#ffbf00,#ffbd00,#ffbc00,#ffbe00,#ffc100,#ffc700,#ffcf00,#ffd800,#ffe400,#fff200,#fdff02,#ebff14,#d8ff27,#c3ff3c,#adff53,#95ff6b,#7cff84,#62ff9d,#48ffb8,#2effd1,#1bffe4,#1bffe4,#1bffe4,#1bffe4,#1bffe4)"></i><i style="background:linear-gradient(90deg,#14ffeb,#14ffeb,#14ffeb,#14ffeb,#1bffe5,#32ffce,#4affb5,#63ff9d,#7bff85,#92ff6e,#a7ff59,#bbff44,#ceff32,#dfff20,#eeff11,#fcff03,#fff600,#ffec00,#ffe400,#ffde00,#ffda00,#ffd700,#ffd700,#ffd800,#ffdc00,#ffe100,#ffe800,#fff100,#fffc00,#f5ff0a,#e7ff19,#d6ff29,#c4ff3b,#b1ff4f,#9cff64,#86ff7a,#6fff91,#56ffa9,#3effc2,#25ffda,#14ffeb,#14ffeb,#14ffeb,#14ffeb,#14ffeb)"></i><i style="background:linear-gradient(90deg,#0dfff2,#0dfff2,#0dfff2,#0dfff2,#13ffec,#29ffd6,#41ffbf,#58ffa8,#6fff91,#85ff7b,#99ff66,#adff53,#beff41,#cfff31,#ddff22,#eaff15,#f5ff0a,#ffff00,#fff700,#fff100,#ffed00,#ffeb00,#ffea00,#ffec00,#ffef00,#fff400,#fffb00,#faff05,#f0ff0f,#e4ff1c,#d6ff29,#c6ff39,#b5ff4a,#a3ff5d,#8fff71,#7aff86,#63ff9c,#4cffb3,#35ffcb,#1effe2,#0dfff2,#0dfff2,#0dfff2,#0dfff2,#0dfff2)"></i><i style="background:linear-gradient(90deg,#05fffa,#05fffa,#05fffa,#05fffa,#0bfff4,#20ffdf,#37ffc9,#4dffb2,#63ff9c,#78ff88,#8cff74,#9fff61,#b0ff50,#bfff40,#cdff32,#daff25,#e5ff1b,#eeff11,#f5ff0a,#fbff04,#ffff00,#fffd00,#fffd00,#fffe00,#fdff02,#f8ff07,#f2ff0e,#e9ff16,#dfff20,#d4ff2c,#c6ff39,#b7ff48,#a7ff59,#95ff6b,#82ff7e,#6eff92,#58ffa8,#42ffbe,#2bffd4,#15ffea,#05fffa,#05fffa,#05fffa,#05fffa,#05fffa)"></i><i style="background:linear-gradient(90deg,#00faff,#00faff,#00faff,#00faff,#01fffe,#16ffe9,#2bffd4,#41ffbf,#56ffaa,#6aff96,#7dff83,#8fff71,#9fff60,#aeff51,#bcff44,#c8ff38,#d2ff2d,#dbff24,#e2ff1d,#e8ff18,#ebff14,#edff12,#eeff11,#edff13,#eaff16,#e5ff1a,#dfff21,#d7ff29,#cdff32,#c2ff3e,#b5ff4a,#a7ff59,#97ff69,#86ff7a,#74ff8c,#60ffa0,#4bffb4,#36ffca,#20ffdf,#0bfff4,#00faff,#00faff,#00faff,#00faff,#00faff)"></i><i style="background:linear-gradient(90deg,#00f0ff,#00f0ff,#00f0ff,#00f0ff,#00f5ff,#0afff5,#1fffe1,#33ffcc,#47ffb8,#5bffa5,#6dff93,#7eff82,#8eff72,#9cff64,#a9ff57,#b5ff4b,#beff41,#c7ff39,#ceff32,#d3ff2c,#d7ff29,#d9ff27,#d9ff26,#d8ff28,#d5ff2a,#d0ff2f,#caff35,#c3ff3d,#baff46,#afff51,#a3ff5d,#95ff6b,#86ff7a,#75ff8a,#64ff9c,#51ffaf,#3dffc2,#29ffd7,#14ffeb,#00feff,#00f0ff,#00f0ff,#00f0ff,#00f0ff,#00f0ff)"></i><i style="background:linear-gradient(90deg,#00e4ff,#00e4ff,#00e4ff,#00e4ff,#00e9ff,#00fbff,#10ffef,#23ffdc,#36ffc9,#49ffb7,#5affa6,#6aff96,#79ff87,#86ff79,#93ff6d,#9eff62,#a7ff59,#afff51,#b5ff4a,#baff45,#beff42,#c0ff40,#c0ff40,#bfff41,#bcff43,#b8ff48,#b2ff4d,#abff55,#a2ff5d,#98ff68,#8dff73,#80ff80,#71ff8f,#62ff9e,#51ffaf,#3fffc0,#2dffd3,#19ffe6,#06fff9,#00f1ff,#00e4ff,#00e4ff,#00e4ff,#00e4ff,#00e4ff)"></i><i style="background:linear-gradient(90deg,#00d6ff,#00d6ff,#00d6ff,#00d6ff,#00dbff,#00ecff,#00feff,#11ffef,#22ffdd,#33ffcd,#42ffbd,#51ffae,#5fffa1,#6bff94,#77ff89,#81ff7f,#89ff77,#91ff6f,#96ff69,#9bff65,#9eff62,#a0ff60,#a0ff60,#9fff61,#9dff63,#99ff67,#94ff6c,#8dff73,#85ff7b,#7cff84,#71ff8f,#65ff9b,#58ffa8,#4affb6,#3affc5,#2affd5,#19ffe6,#07fff8,#00f4ff,#00e3ff,#00d6ff,#00d6ff,#00d6ff,#00d6ff,#00d6ff)"></i><i style="background:linear-gradient(90deg,#00c5ff,#00c5ff,#00c5ff,#00c5ff,#00caff,#00daff,#00eaff,#00fbff,#0cfff3,#1cffe3,#2bffd5,#38ffc7,#45ffba,#51ffaf,#5bffa4,#65ff9b,#6dff93,#74ff8c,#79ff87,#7eff82,#80ff80,#82ff7e,#82ff7e,#81ff7f,#7fff81,#7bff84,#77ff89,#70ff90,#69ff97,#60ffa0,#56ffaa,#4bffb5,#3fffc1,#31ffce,#23ffdc,#14ffeb,#04fffb,#00f2ff,#00e2ff,#00d1ff,#00c5ff,#00c5ff,#00c5ff,#00c5ff,#00c5ff)"></i><i style="background:linear-gradient(90deg,#00b0ff,#00b0ff,#00b0ff,#00b0ff,#00b5ff,#00c4ff,#00d4ff,#00e5ff,#00f5ff,#05fffa,#13ffec,#21ffde,#2effd2,#39ffc6,#43ffbc,#4dffb3,#55ffab,#5bffa4,#61ff9f,#65ff9b,#68ff98,#69ff96,#6aff96,#69ff97,#66ff99,#63ff9d,#5effa2,#58ffa8,#51ffaf,#48ffb8,#3effc1,#33ffcc,#27ffd8,#1affe5,#0cfff3,#00fcff,#00edff,#00dcff,#00ccff,#00bcff,#00b0ff,#00b0ff,#00b0ff,#00b0ff,#00b0ff)"></i><i style="background:linear-gradient(90deg,#009aff,#009aff,#009aff,#009aff,#009eff,#00adff,#00beff,#00ceff,#00deff,#00edff,#00fcff,#0afff5,#17ffe8,#22ffdd,#2dffd3,#36ffc9,#3effc2,#45ffbb,#4affb5,#4effb1,#51ffae,#53ffad,#53ffac,#52ffad,#50ffb0,#4cffb3,#47ffb8,#41ffbe,#3affc5,#31ffce,#28ffd8,#1dffe3,#11ffee,#04fffb,#00f5ff,#00e6ff,#00d6ff,#00c6ff,#00b5ff,#00a5ff,#009aff,#009aff,#009aff,#009aff,#009aff)"></i><i style="background:linear-gradient(90deg,#0084ff,#0084ff,#0084ff,#0084ff,#0089ff,#0099ff,#00aaff,#00bbff,#00cbff,#00dbff,#00eaff,#00f8ff,#06fff9,#12ffee,#1cffe3,#26ffda,#2effd1,#35ffcb,#3bffc5,#3fffc1,#42ffbe,#44ffbc,#44ffbc,#43ffbd,#40ffbf,#3dffc3,#38ffc8,#31ffce,#2affd5,#21ffde,#17ffe8,#0cfff3,#00feff,#00f1ff,#00e2ff,#00d3ff,#00c3ff,#00b2ff,#00a1ff,#0090ff,#0084ff,#0084ff,#0084ff,#0084ff,#0084ff)"></i><i style="background:linear-gradient(90deg,#0073ff,#0073ff,#0073ff,#0073ff,#0078ff,#0088ff,#009aff,#00acff,#00bdff,#00ceff,#00ddff,#00ecff,#00faff,#07fff8,#12ffed,#1cffe3,#25ffda,#2cffd3,#32ffcd,#37ffc9,#3affc6,#3cffc4,#3cffc3,#3bffc4,#38ffc7,#35ffcb,#2fffd0,#29ffd7,#21ffdf,#17ffe8,#0dfff2,#01fffe,#00f3ff,#00e5ff,#00d6ff,#00c5ff,#00b4ff,#00a3ff,#0091ff,#007fff,#0073ff,#0073ff,#0073ff,#0073ff,#0073ff)"></i><i style="background:linear-gradient(90deg,#0063ff,#0063ff,#0063ff,#0063ff,#0068ff,#007aff,#008cff,#009fff,#00b1ff,#00c3ff,#00d3ff,#00e2ff,#00f1ff,#00feff,#0afff5,#15ffea,#1effe1,#26ffda,#2cffd4,#31ffcf,#34ffcb,#36ffca,#36ffc9,#35ffca,#32ffcd,#2effd1,#29ffd7,#22ffdd,#19ffe6,#10ffef,#05fffa,#00f7ff,#00eaff,#00dbff,#00cbff,#00baff,#00a8ff,#0096ff,#0083ff,#0070ff,#0063ff,#0063ff,#0063ff,#0063ff,#0063ff)"></i><i style="background:linear-gradient(90deg,#0055ff,#0055ff,#0055ff,#0055ff,#005aff,#006dff,#0080ff,#0094ff,#00a7ff,#00baff,#00cbff,#00dbff,#00eaff,#00f8ff,#05fffa,#10ffef,#1affe5,#22ffdd,#28ffd7,#2dffd2,#31ffce,#33ffcd,#33ffcc,#32ffcd,#2fffd0,#2bffd4,#25ffda,#1effe1,#15ffea,#0bfff4,#00feff,#00f1ff,#00e3ff,#00d3ff,#00c2ff,#00b0ff,#009dff,#008aff,#0076ff,#0063ff,#0055ff,#0055ff,#0055ff,#0055ff,#0055ff)"></i><i style="background:linear-gradient(90deg,#004dff,#004dff,#004dff,#004dff,#0053ff,#0066ff,#007bff,#0090ff,#00a5ff,#00b9ff,#00cbff,#00dcff,#00edff,#00fbff,#09fff6,#15ffea,#1fffe0,#28ffd7,#2fffd0,#34ffcb,#38ffc7,#3affc5,#3bffc5,#39ffc6,#37ffc9,#32ffcd,#2cffd4,#24ffdb,#1affe5,#0ffff0,#03fffc,#00f4ff,#00e4ff,#00d4ff,#00c2ff,#00afff,#009bff,#0086ff,#0071ff,#005cff,#004dff,#004dff,#004dff,#004dff,#004dff)"></i><i style="background:linear-gradient(90deg,#004dff,#004dff,#004dff,#004dff,#0053ff,#0069ff,#0080ff,#0097ff,#00adff,#00c3ff,#00d7ff,#00eaff,#00fcff,#0dfff2,#1cffe3,#29ffd7,#34ffcb,#3dffc2,#45ffba,#4bffb5,#4fffb0,#51ffae,#52ffae,#51ffaf,#4dffb2,#48ffb7,#41ffbe,#39ffc7,#2effd1,#22ffdd,#15ffeb,#05fffa,#00f3ff,#00e1ff,#00cdff,#00b8ff,#00a2ff,#008bff,#0074ff,#005dff,#004dff,#004dff,#004dff,#004dff,#004dff)"></i><i style="background:linear-gradient(90deg,#004eff,#004eff,#004eff,#004eff,#0055ff,#006cff,#0086ff,#009fff,#00b8ff,#00cfff,#00e5ff,#00faff,#0ffff0,#20ffdf,#30ffcf,#3effc1,#4bffb5,#55ffab,#5effa2,#64ff9c,#68ff97,#6bff95,#6bff94,#6aff96,#66ff99,#61ff9f,#59ffa6,#50ffb0,#45ffbb,#37ffc8,#28ffd7,#17ffe8,#05fffa,#00f0ff,#00daff,#00c3ff,#00abff,#0092ff,#0079ff,#0060ff,#004eff,#004eff,#004eff,#004eff,#004eff)"></i><i style="background:linear-gradient(90deg,#004fff,#004fff,#004fff,#004fff,#0057ff,#0070ff,#008bff,#00a5ff,#00c0ff,#00d8ff,#00f0ff,#07fff8,#1cffe3,#2fffd1,#3fffc0,#4effb1,#5bffa4,#66ff99,#6fff90,#76ff8a,#7bff85,#7eff82,#7eff82,#7dff83,#79ff87,#73ff8d,#6bff95,#61ff9f,#55ffab,#47ffb9,#37ffc8,#25ffda,#11ffee,#00fbff,#00e4ff,#00ccff,#00b2ff,#0098ff,#007dff,#0062ff,#004fff,#004fff,#004fff,#004fff,#004fff)"></i><i style="background:linear-gradient(90deg,#0051ff,#0051ff,#0051ff,#0051ff,#0059ff,#0073ff,#0090ff,#00acff,#00c7ff,#00e1ff,#00faff,#13ffed,#28ffd7,#3cffc4,#4effb2,#5dffa2,#6bff95,#77ff89,#80ff80,#87ff79,#8cff74,#8fff71,#8fff71,#8eff72,#8aff76,#84ff7c,#7bff85,#71ff8f,#64ff9c,#55ffaa,#45ffbb,#32ffce,#1dffe2,#07fff8,#00eeff,#00d4ff,#00b9ff,#009dff,#0081ff,#0065ff,#0051ff,#0051ff,#0051ff,#0051ff,#0051ff)"></i><i style="background:linear-gradient(90deg,#0054ff,#0054ff,#0054ff,#0054ff,#005bff,#0077ff,#0095ff,#00b2ff,#00cfff,#00ebff,#06fffa,#1effe1,#35ffcb,#49ffb6,#5cffa4,#6cff94,#7bff85,#87ff79,#90ff6f,#98ff68,#9dff63,#a0ff60,#a1ff5f,#9fff61,#9bff65,#94ff6b,#8cff74,#81ff7f,#74ff8c,#64ff9c,#53ffad,#3fffc1,#29ffd6,#12ffee,#00f7ff,#00ddff,#00c0ff,#00a3ff,#0086ff,#0069ff,#0054ff,#0054ff,#0054ff,#0054ff,#0054ff)"></i><i style="background:linear-gradient(90deg,#0056ff,#0056ff,#0056ff,#0056ff,#005eff,#007cff,#009bff,#00baff,#00d8ff,#00f5ff,#11ffee,#2bffd4,#43ffbd,#59ffa7,#6cff93,#7eff82,#8dff73,#99ff66,#a4ff5c,#acff54,#b1ff4f,#b4ff4b,#b5ff4b,#b3ff4d,#afff51,#a8ff58,#9fff61,#93ff6d,#85ff7b,#75ff8b,#63ff9d,#4effb2,#37ffc8,#1effe1,#03fffc,#00e6ff,#00c9ff,#00aaff,#008bff,#006cff,#0056ff,#0056ff,#0056ff,#0056ff,#0056ff)"></i><i style="background:linear-gradient(90deg,#0058ff,#0058ff,#0058ff,#0058ff,#0061ff,#0080ff,#00a1ff,#00c2ff,#00e3ff,#03fffc,#20ffdf,#3bffc4,#55ffab,#6cff94,#81ff7f,#93ff6d,#a3ff5d,#b1ff4f,#bcff44,#c4ff3b,#caff36,#cdff32,#ceff32,#ccff34,#c7ff38,#c0ff3f,#b6ff49,#aaff56,#9bff65,#8aff76,#76ff8a,#60ff9f,#48ffb8,#2dffd2,#11ffee,#00f2ff,#00d2ff,#00b1ff,#0090ff,#0070ff,#0058ff,#0058ff,#0058ff,#0058ff,#0058ff)"></i><i style="background:linear-gradient(90deg,#005aff,#005aff,#005aff,#005aff,#0063ff,#0085ff,#00a8ff,#00cbff,#00edff,#0ffff0,#2effd1,#4cffb4,#67ff99,#7fff81,#95ff6a,#a9ff57,#baff46,#c8ff37,#d4ff2b,#ddff22,#e3ff1c,#e6ff19,#e7ff18,#e5ff1a,#e0ff1f,#d9ff27,#ceff31,#c1ff3e,#b1ff4e,#9fff61,#8aff76,#73ff8d,#59ffa7,#3dffc3,#1fffe1,#00fdff,#00dcff,#00b9ff,#0096ff,#0073ff,#005aff,#005aff,#005aff,#005aff,#005aff)"></i><i style="background:linear-gradient(90deg,#005bff,#005bff,#005bff,#005bff,#0065ff,#0088ff,#00adff,#00d2ff,#00f6ff,#1affe6,#3affc5,#59ffa7,#75ff8b,#8fff71,#a6ff59,#bbff45,#cdff33,#dcff24,#e8ff17,#f1ff0e,#f8ff07,#fbff04,#fcff03,#faff05,#f5ff0a,#edff12,#e2ff1d,#d4ff2b,#c4ff3c,#b1ff4f,#9bff65,#82ff7e,#67ff99,#49ffb6,#2affd6,#08fff7,#00e4ff,#00bfff,#009aff,#0075ff,#005bff,#005bff,#005bff,#005bff,#005bff)"></i><i style="background:linear-gradient(90deg,#005cff,#005cff,#005cff,#005cff,#0066ff,#008aff,#00b0ff,#00d6ff,#00fbff,#1fffe0,#41ffbf,#60ff9f,#7eff82,#98ff68,#b0ff50,#c5ff3b,#d7ff28,#e7ff19,#f3ff0c,#fdff02,#fffa00,#fff700,#fff600,#fff800,#fffe00,#f8ff07,#edff12,#dfff20,#ceff31,#baff45,#a4ff5c,#8bff75,#6fff91,#51ffaf,#30ffcf,#0dfff2,#00e8ff,#00c2ff,#009cff,#0077ff,#005cff,#005cff,#005cff,#005cff,#005cff)"></i><i style="background:linear-gradient(90deg,#005cff,#005cff,#005cff,#005cff,#0066ff,#0089ff,#00afff,#00d5ff,#00faff,#1effe1,#3fffc0,#5fffa1,#7cff84,#96ff6a,#adff52,#c2ff3d,#d5ff2b,#e4ff1b,#f0ff0f,#faff05,#fffd00,#fffa00,#fff900,#fffb00,#feff01,#f5ff0a,#eaff15,#dcff23,#ccff34,#b8ff48,#a2ff5e,#89ff77,#6dff93,#4fffb1,#2effd1,#0cfff3,#00e7ff,#00c2ff,#009cff,#0076ff,#005cff,#005cff,#005cff,#005cff,#005cff)"></i><i style="background:linear-gradient(90deg,#005bff,#005bff,#005bff,#005bff,#0064ff,#0086ff,#00aaff,#00cfff,#00f2ff,#14ffeb,#34ffcb,#52ffae,#6eff92,#87ff79,#9eff62,#b2ff4e,#c3ff3d,#d2ff2e,#deff22,#e7ff18,#edff12,#f1ff0f,#f1ff0e,#efff10,#eaff15,#e2ff1d,#d8ff28,#caff35,#baff45,#a8ff58,#92ff6e,#7aff86,#60ffa0,#43ffbc,#24ffdb,#03fffc,#00e0ff,#00bcff,#0098ff,#0074ff,#005bff,#005bff,#005bff,#005bff,#005bff)"></i><i style="background:linear-gradient(90deg,#0059ff,#0059ff,#0059ff,#0059ff,#0062ff,#0082ff,#00a3ff,#00c5ff,#00e6ff,#06fff9,#24ffdc,#3fffc0,#59ffa7,#71ff8f,#86ff7a,#98ff68,#a8ff57,#b6ff49,#c1ff3e,#caff36,#d0ff30,#d3ff2c,#d4ff2c,#d2ff2e,#cdff32,#c6ff3a,#bcff44,#afff50,#a0ff5f,#8fff71,#7bff85,#65ff9b,#4cffb4,#31ffce,#14ffeb,#00f5ff,#00d5ff,#00b4ff,#0092ff,#0071ff,#0059ff,#0059ff,#0059ff,#0059ff,#0059ff)"></i><i style="background:linear-gradient(90deg,#0057ff,#0057ff,#0057ff,#0057ff,#005fff,#007cff,#009bff,#00baff,#00d8ff,#00f5ff,#11ffee,#2bffd5,#42ffbd,#58ffa8,#6cff94,#7dff83,#8cff74,#98ff68,#a2ff5d,#aaff55,#b0ff50,#b3ff4d,#b3ff4c,#b2ff4e,#adff52,#a7ff59,#9eff62,#92ff6e,#84ff7c,#74ff8c,#62ff9e,#4dffb2,#37ffc9,#1effe1,#03fffc,#00e6ff,#00c9ff,#00aaff,#008bff,#006dff,#0057ff,#0057ff,#0057ff,#0057ff,#0057ff)"></i><i style="background:linear-gradient(90deg,#0054ff,#0054ff,#0054ff,#0054ff,#005cff,#0077ff,#0093ff,#00b0ff,#00cbff,#00e6ff,#00ffff,#18ffe8,#2dffd2,#41ffbe,#53ffac,#63ff9d,#71ff8f,#7dff83,#86ff7a,#8dff73,#92ff6e,#95ff6b,#96ff6a,#94ff6c,#90ff70,#8aff76,#81ff7f,#77ff89,#6aff96,#5bffa5,#4affb5,#37ffc8,#22ffdd,#0cfff3,#00f2ff,#00d8ff,#00bdff,#00a1ff,#0085ff,#0069ff,#0054ff,#0054ff,#0054ff,#0054ff,#0054ff)"></i><i style="background:linear-gradient(90deg,#0051ff,#0051ff,#0051ff,#0051ff,#0058ff,#0071ff,#008aff,#00a4ff,#00bdff,#00d5ff,#00ecff,#02fffd,#16ffea,#28ffd8,#38ffc8,#46ffb9,#53ffad,#5dffa2,#66ff9a,#6cff93,#71ff8f,#74ff8c,#74ff8c,#73ff8d,#6fff91,#69ff96,#62ff9e,#58ffa8,#4dffb3,#3fffc0,#30ffd0,#1fffe1,#0cfff3,#00f6ff,#00e0ff,#00c9ff,#00b0ff,#0097ff,#007dff,#0064ff,#0051ff,#0051ff,#0051ff,#0051ff,#0051ff)"></i><i style="background:linear-gradient(90deg,#004eff,#004eff,#004eff,#004eff,#0054ff,#006aff,#0081ff,#0098ff,#00aeff,#00c4ff,#00d8ff,#00ebff,#00fdff,#0efff1,#1cffe3,#29ffd6,#34ffcb,#3effc2,#45ffba,#4bffb4,#4fffb0,#52ffae,#52ffae,#51ffaf,#4dffb2,#48ffb7,#42ffbe,#39ffc6,#2fffd1,#23ffdd,#15ffea,#06fff9,#00f4ff,#00e2ff,#00ceff,#00b9ff,#00a3ff,#008cff,#0075ff,#005fff,#004eff,#004eff,#004eff,#004eff,#004eff)"></i><i style="background:linear-gradient(90deg,#004aff,#004aff,#004aff,#004aff,#0050ff,#0063ff,#0078ff,#008dff,#00a1ff,#00b4ff,#00c6ff,#00d8ff,#00e7ff,#00f6ff,#04fffb,#0ffff0,#1affe6,#22ffdd,#29ffd6,#2effd1,#32ffcd,#34ffcb,#34ffcb,#33ffcc,#30ffcf,#2cffd4,#26ffda,#1effe1,#15ffeb,#0afff5,#00fcff,#00efff,#00dfff,#00cfff,#00bdff,#00aaff,#0097ff,#0082ff,#006dff,#0059ff,#004aff,#004aff,#004aff,#004aff,#004aff)"></i><i style="background:linear-gradient(90deg,#0042ff,#0042ff,#0042ff,#0042ff,#0048ff,#005aff,#006dff,#0080ff,#0092ff,#00a4ff,#00b5ff,#00c5ff,#00d3ff,#00e1ff,#00edff,#00f7ff,#01fffe,#09fff6,#10ffef,#15ffeb,#18ffe7,#1affe5,#1affe5,#19ffe6,#16ffe9,#12ffed,#0dfff2,#05fffa,#00fcff,#00f2ff,#00e7ff,#00daff,#00ccff,#00bdff,#00acff,#009bff,#0089ff,#0076ff,#0063ff,#0050ff,#0042ff,#0042ff,#0042ff,#0042ff,#0042ff)"></i><i style="background:linear-gradient(90deg,#0039ff,#0039ff,#0039ff,#0039ff,#003dff,#004eff,#005fff,#0071ff,#0082ff,#0092ff,#00a2ff,#00b0ff,#00beff,#00caff,#00d5ff,#00dfff,#00e7ff,#00eeff,#00f4ff,#00f9ff,#00fcff,#00feff,#00feff,#00fdff,#00faff,#00f7ff,#00f1ff,#00ebff,#00e3ff,#00daff,#00cfff,#00c4ff,#00b7ff,#00a9ff,#009aff,#008aff,#0079ff,#0068ff,#0056ff,#0045ff,#0039ff,#0039ff,#0039ff,#0039ff,#0039ff)"></i><i style="background:linear-gradient(90deg,#002fff,#002fff,#002fff,#002fff,#0033ff,#0042ff,#0052ff,#0061ff,#0070ff,#007fff,#008cff,#0099ff,#00a5ff,#00b0ff,#00baff,#00c2ff,#00caff,#00d0ff,#00d5ff,#00d9ff,#00dcff,#00deff,#00deff,#00ddff,#00dbff,#00d8ff,#00d3ff,#00cdff,#00c6ff,#00beff,#00b5ff,#00aaff,#009fff,#0093ff,#0085ff,#0077ff,#0068ff,#0059ff,#0049ff,#003aff,#002fff,#002fff,#002fff,#002fff,#002fff)"></i><i style="background:linear-gradient(90deg,#0028ff,#0028ff,#0028ff,#0028ff,#002cff,#0038ff,#0045ff,#0052ff,#005fff,#006bff,#0077ff,#0082ff,#008cff,#0095ff,#009dff,#00a5ff,#00abff,#00b0ff,#00b5ff,#00b8ff,#00baff,#00bcff,#00bcff,#00bbff,#00b9ff,#00b6ff,#00b3ff,#00aeff,#00a8ff,#00a1ff,#0099ff,#0090ff,#0087ff,#007cff,#0071ff,#0065ff,#0059ff,#004cff,#003eff,#0031ff,#0028ff,#0028ff,#0028ff,#0028ff,#0028ff)"></i><i style="background:linear-gradient(90deg,#0025ff,#0025ff,#0025ff,#0025ff,#0028ff,#0032ff,#003cff,#0047ff,#0051ff,#005bff,#0064ff,#006dff,#0075ff,#007cff,#0083ff,#0089ff,#008eff,#0092ff,#0095ff,#0098ff,#009aff,#009bff,#009bff,#009bff,#0099ff,#0097ff,#0094ff,#0090ff,#008bff,#0086ff,#007fff,#0078ff,#0071ff,#0068ff,#005fff,#0056ff,#004cff,#0042ff,#0037ff,#002dff,#0025ff,#0025ff,#0025ff,#0025ff,#0025ff)"></i><i style="background:linear-gradient(90deg,#0023ff,#0023ff,#0023ff,#0023ff,#0025ff,#002cff,#0034ff,#003cff,#0043ff,#004aff,#0051ff,#0057ff,#005dff,#0062ff,#0067ff,#006bff,#006fff,#0072ff,#0074ff,#0076ff,#0078ff,#0078ff,#0079ff,#0078ff,#0077ff,#0075ff,#0073ff,#0070ff,#006dff,#0069ff,#0064ff,#005fff,#005aff,#0054ff,#004dff,#0046ff,#003fff,#0038ff,#0030ff,#0029ff,#0023ff,#0023ff,#0023ff,#0023ff,#0023ff)"></i><i style="background:linear-gradient(90deg,#0021ff,#0021ff,#0021ff,#0021ff,#0023ff,#0028ff,#002dff,#0032ff,#0037ff,#003bff,#0040ff,#0044ff,#0048ff,#004bff,#004eff,#0051ff,#0054ff,#0056ff,#0057ff,#0059ff,#005aff,#005aff,#005aff,#005aff,#0059ff,#0058ff,#0057ff,#0055ff,#0052ff,#0050ff,#004dff,#0049ff,#0046ff,#0042ff,#003dff,#0039ff,#0034ff,#002fff,#002aff,#0025ff,#0021ff,#0021ff,#0021ff,#0021ff,#0021ff)"></i><i style="background:linear-gradient(90deg,#0020ff,#0020ff,#0020ff,#0020ff,#0021ff,#0024ff,#0028ff,#002bff,#002fff,#0032ff,#0035ff,#0038ff,#003aff,#003dff,#003fff,#0041ff,#0043ff,#0044ff,#0045ff,#0046ff,#0047ff,#0047ff,#0047ff,#0047ff,#0046ff,#0046ff,#0045ff,#0043ff,#0042ff,#0040ff,#003eff,#003cff,#0039ff,#0036ff,#0033ff,#0030ff,#002dff,#0029ff,#0026ff,#0023ff,#0020ff,#0020ff,#0020ff,#0020ff,#0020ff)"></i><i style="background:linear-gradient(90deg,#001fff,#001fff,#001fff,#001fff,#0020ff,#0022ff,#0024ff,#0027ff,#0029ff,#002bff,#002dff,#002fff,#0031ff,#0033ff,#0034ff,#0036ff,#0037ff,#0038ff,#0039ff,#0039ff,#003aff,#003aff,#003aff,#003aff,#0039ff,#0039ff,#0038ff,#0037ff,#0036ff,#0035ff,#0034ff,#0032ff,#0030ff,#002eff,#002cff,#002aff,#0028ff,#0026ff,#0023ff,#0021ff,#001fff,#001fff,#001fff,#001fff,#001fff)"></i><i style="background:linear-gradient(90deg,#001fff,#001fff,#001fff,#001fff,#001fff,#0021ff,#0022ff,#0024ff,#0025ff,#0027ff,#0028ff,#002aff,#002bff,#002cff,#002dff,#002eff,#002fff,#002fff,#0030ff,#0030ff,#0030ff,#0031ff,#0031ff,#0031ff,#0030ff,#0030ff,#0030ff,#002fff,#002eff,#002dff,#002cff,#002bff,#002aff,#0029ff,#0028ff,#0026ff,#0025ff,#0023ff,#0021ff,#0020ff,#001fff,#001fff,#001fff,#001fff,#001fff)"></i><i style="background:linear-gradient(90deg,#001fff,#001fff,#001fff,#001fff,#001fff,#0020ff,#0021ff,#0022ff,#0024ff,#0025ff,#0026ff,#0027ff,#0028ff,#0028ff,#0029ff,#002aff,#002aff,#002bff,#002bff,#002cff,#002cff,#002cff,#002cff,#002cff,#002cff,#002bff,#002bff,#002bff,#002aff,#0029ff,#0029ff,#0028ff,#0027ff,#0026ff,#0025ff,#0024ff,#0023ff,#0022ff,#0021ff,#001fff,#001fff,#001fff,#001fff,#001fff,#001fff)"></i><i style="background:linear-gradient(90deg,#001fff,#001fff,#001fff,#001fff,#001fff,#0020ff,#0021ff,#0021ff,#0022ff,#0023ff,#0024ff,#0025ff,#0025ff,#0026ff,#0026ff,#0027ff,#0027ff,#0028ff,#0028ff,#0028ff,#0028ff,#0029ff,#0029ff,#0028ff,#0028ff,#0028ff,#0028ff,#0028ff,#0027ff,#0027ff,#0026ff,#0026ff,#0025ff,#0024ff,#0023ff,#0023ff,#0022ff,#0021ff,#0020ff,#001fff,#001fff,#001fff,#001fff,#001fff,#001fff)"></i>
</div></div>
<div class="hm" style="left:1847.7px">
<div class="hi" style="left:-19.44px;top:-7.99px;width:427.68px">
<i style="background:linear-gradient(90deg,#0070ff,#006dff,#0068ff,#0060ff,#0057ff,#004fff,#0047ff,#003eff,#0033ff,#0025ff,#0019ff,#0020ff,#0038ff,#004dff,#005dff,#006bff,#007bff,#0087ff,#008dff,#0092ff,#0096ff,#0098ff,#0099ff,#0098ff,#0095ff,#0090ff,#008bff,#0084ff,#0076ff,#0067ff,#0058ff,#0047ff,#0031ff,#001aff,#001cff,#0029ff,#0037ff,#0041ff,#004aff,#0052ff,#005aff,#0063ff,#006aff,#006eff,#0071ff)"></i><i style="background:linear-gradient(90deg,#0070ff,#006dff,#0068ff,#0060ff,#0057ff,#004fff,#0047ff,#003eff,#0033ff,#0025ff,#0019ff,#0020ff,#0038ff,#004dff,#005dff,#006bff,#007bff,#0087ff,#008dff,#0092ff,#0096ff,#0098ff,#0099ff,#0098ff,#0095ff,#0090ff,#008bff,#0084ff,#0076ff,#0067ff,#0058ff,#0047ff,#0031ff,#0019ff,#001cff,#0029ff,#0037ff,#0041ff,#004aff,#0052ff,#005aff,#0063ff,#006aff,#006eff,#0071ff)"></i><i style="background:linear-gradient(90deg,#0070ff,#006dff,#0068ff,#0060ff,#0058ff,#004fff,#0047ff,#003eff,#0033ff,#0025ff,#0019ff,#0020ff,#0038ff,#004dff,#005dff,#006bff,#007aff,#0087ff,#008dff,#0092ff,#0096ff,#0098ff,#0099ff,#0098ff,#0095ff,#0090ff,#008bff,#0084ff,#0076ff,#0066ff,#0058ff,#0047ff,#0031ff,#0019ff,#001cff,#0029ff,#0037ff,#0041ff,#004aff,#0052ff,#005aff,#0063ff,#006aff,#006eff,#0071ff)"></i><i style="background:linear-gradient(90deg,#0070ff,#006dff,#0068ff,#0061ff,#0058ff,#0050ff,#0048ff,#003eff,#0034ff,#0025ff,#0019ff,#001fff,#0037ff,#004dff,#005cff,#006bff,#007aff,#0087ff,#008dff,#0092ff,#0096ff,#0098ff,#0099ff,#0098ff,#0095ff,#0090ff,#008bff,#0084ff,#0076ff,#0066ff,#0058ff,#0047ff,#0030ff,#0019ff,#001dff,#002aff,#0037ff,#0041ff,#004aff,#0052ff,#005bff,#0063ff,#006aff,#006eff,#0071ff)"></i><i style="background:linear-gradient(90deg,#0070ff,#006dff,#0068ff,#0061ff,#0058ff,#0050ff,#0048ff,#003fff,#0034ff,#0025ff,#0019ff,#001fff,#0037ff,#004cff,#005cff,#006bff,#007aff,#0087ff,#008dff,#0092ff,#0096ff,#0098ff,#0099ff,#0098ff,#0095ff,#0090ff,#008bff,#0084ff,#0075ff,#0066ff,#0058ff,#0046ff,#0030ff,#0019ff,#001dff,#002aff,#0037ff,#0042ff,#004aff,#0052ff,#005bff,#0063ff,#006aff,#006fff,#0071ff)"></i><i style="background:linear-gradient(90deg,#0071ff,#006eff,#0069ff,#0061ff,#0058ff,#0050ff,#0048ff,#003fff,#0034ff,#0026ff,#001aff,#001fff,#0037ff,#004cff,#005cff,#006aff,#007aff,#0087ff,#008dff,#0092ff,#0096ff,#0098ff,#0099ff,#0098ff,#0095ff,#0090ff,#008bff,#0084ff,#0075ff,#0066ff,#0057ff,#0046ff,#0030ff,#0019ff,#001dff,#002aff,#0038ff,#0042ff,#004bff,#0052ff,#005bff,#0064ff,#006aff,#006fff,#0071ff)"></i><i style="background:linear-gradient(90deg,#0071ff,#006eff,#0069ff,#0061ff,#0059ff,#0050ff,#0048ff,#003fff,#0034ff,#0026ff,#001aff,#001eff,#0036ff,#004cff,#005cff,#006aff,#007aff,#0086ff,#008dff,#0092ff,#0096ff,#0098ff,#0099ff,#0098ff,#0095ff,#0090ff,#008bff,#0083ff,#0075ff,#0066ff,#0057ff,#0046ff,#002fff,#0018ff,#001dff,#002bff,#0038ff,#0042ff,#004bff,#0053ff,#005bff,#0064ff,#006bff,#006fff,#0071ff)"></i><i style="background:linear-gradient(90deg,#0071ff,#006eff,#0069ff,#0062ff,#0059ff,#0051ff,#0049ff,#0040ff,#0035ff,#0026ff,#001aff,#001dff,#0036ff,#004bff,#005cff,#006aff,#007aff,#0086ff,#008dff,#0092ff,#0096ff,#0098ff,#0099ff,#0098ff,#0095ff,#0090ff,#008bff,#0083ff,#0075ff,#0066ff,#0057ff,#0045ff,#002fff,#0018ff,#001eff,#002bff,#0038ff,#0043ff,#004bff,#0053ff,#005cff,#0064ff,#006bff,#006fff,#0072ff)"></i><i style="background:linear-gradient(90deg,#0071ff,#006eff,#0069ff,#0062ff,#0059ff,#0051ff,#0049ff,#0040ff,#0035ff,#0027ff,#001aff,#001dff,#0035ff,#004bff,#005bff,#006aff,#0079ff,#0086ff,#008dff,#0092ff,#0096ff,#0098ff,#0099ff,#0098ff,#0095ff,#0090ff,#008bff,#0083ff,#0075ff,#0065ff,#0057ff,#0045ff,#002eff,#0018ff,#001eff,#002cff,#0039ff,#0043ff,#004bff,#0053ff,#005cff,#0065ff,#006bff,#006fff,#0072ff)"></i><i style="background:linear-gradient(90deg,#0071ff,#006fff,#006aff,#0063ff,#005aff,#0051ff,#004aff,#0040ff,#0036ff,#0027ff,#001bff,#001cff,#0035ff,#004bff,#005cff,#006aff,#007aff,#0087ff,#008eff,#0093ff,#0097ff,#0099ff,#009aff,#0099ff,#0096ff,#0091ff,#008cff,#0084ff,#0075ff,#0066ff,#0057ff,#0045ff,#002eff,#0017ff,#001fff,#002cff,#0039ff,#0043ff,#004cff,#0054ff,#005dff,#0065ff,#006cff,#0070ff,#0072ff)"></i><i style="background:linear-gradient(90deg,#0075ff,#0072ff,#006dff,#0066ff,#005dff,#0054ff,#004cff,#0042ff,#0037ff,#0029ff,#001bff,#001cff,#0035ff,#004dff,#005fff,#006fff,#0080ff,#008eff,#0095ff,#009aff,#009fff,#00a1ff,#00a2ff,#00a1ff,#009eff,#0098ff,#0093ff,#008aff,#007aff,#006aff,#005aff,#0046ff,#002eff,#0017ff,#001fff,#002eff,#003bff,#0045ff,#004eff,#0057ff,#0060ff,#0069ff,#006fff,#0073ff,#0075ff)"></i><i style="background:linear-gradient(90deg,#007aff,#0077ff,#0073ff,#006bff,#0062ff,#0058ff,#0050ff,#0046ff,#003aff,#002bff,#001dff,#001bff,#0037ff,#0052ff,#0066ff,#0077ff,#0089ff,#0099ff,#00a1ff,#00a7ff,#00adff,#00afff,#00b0ff,#00aeff,#00abff,#00a5ff,#009fff,#0095ff,#0084ff,#0072ff,#0060ff,#004aff,#002fff,#0017ff,#0021ff,#0030ff,#003eff,#0049ff,#0052ff,#005bff,#0065ff,#006eff,#0074ff,#0078ff,#007bff)"></i><i style="background:linear-gradient(90deg,#0082ff,#007fff,#007aff,#0073ff,#0069ff,#005eff,#0055ff,#004aff,#003eff,#002eff,#001eff,#0019ff,#0039ff,#0057ff,#006eff,#0081ff,#0096ff,#00a8ff,#00b1ff,#00b8ff,#00beff,#00c1ff,#00c2ff,#00c0ff,#00bcff,#00b6ff,#00afff,#00a3ff,#008fff,#007bff,#0067ff,#004eff,#002fff,#0017ff,#0023ff,#0034ff,#0042ff,#004eff,#0058ff,#0061ff,#006cff,#0076ff,#007cff,#0080ff,#0082ff)"></i><i style="background:linear-gradient(90deg,#008bff,#0088ff,#0083ff,#007cff,#0071ff,#0065ff,#005bff,#0050ff,#0043ff,#0032ff,#0021ff,#0018ff,#003aff,#005cff,#0076ff,#008cff,#00a3ff,#00b8ff,#00c3ff,#00caff,#00d1ff,#00d4ff,#00d6ff,#00d4ff,#00cfff,#00c8ff,#00c0ff,#00b3ff,#009cff,#0085ff,#006fff,#0051ff,#002eff,#0017ff,#0025ff,#0038ff,#0047ff,#0054ff,#005eff,#0069ff,#0075ff,#007eff,#0085ff,#0089ff,#008bff)"></i><i style="background:linear-gradient(90deg,#0094ff,#0091ff,#008dff,#0085ff,#007aff,#006dff,#0062ff,#0056ff,#0048ff,#0037ff,#0023ff,#0017ff,#003aff,#0060ff,#007eff,#0097ff,#00b0ff,#00c8ff,#00d4ff,#00dcff,#00e4ff,#00e8ff,#00e9ff,#00e7ff,#00e2ff,#00daff,#00d1ff,#00c2ff,#00a8ff,#008fff,#0076ff,#0054ff,#002dff,#0018ff,#0029ff,#003dff,#004dff,#005aff,#0065ff,#0071ff,#007eff,#0088ff,#008fff,#0092ff,#0094ff)"></i><i style="background:linear-gradient(90deg,#009eff,#009bff,#0097ff,#0090ff,#0084ff,#0076ff,#0069ff,#005dff,#004eff,#003cff,#0026ff,#0017ff,#0039ff,#0062ff,#0084ff,#009fff,#00bbff,#00d6ff,#00e3ff,#00ecff,#00f5ff,#00f9ff,#00faff,#00f8ff,#00f3ff,#00eaff,#00e0ff,#00cfff,#00b2ff,#0097ff,#007bff,#0056ff,#002aff,#001aff,#002cff,#0043ff,#0053ff,#0061ff,#006dff,#007bff,#0088ff,#0092ff,#0099ff,#009cff,#009eff)"></i><i style="background:linear-gradient(90deg,#00a7ff,#00a5ff,#00a1ff,#0099ff,#008eff,#007fff,#0071ff,#0064ff,#0054ff,#0042ff,#002aff,#0018ff,#0036ff,#0064ff,#0089ff,#00a6ff,#00c4ff,#00e1ff,#00f0ff,#00faff,#05fffa,#09fff6,#0bfff5,#08fff7,#02fffd,#00f7ff,#00edff,#00d9ff,#00bbff,#009eff,#007fff,#0056ff,#0026ff,#001cff,#0031ff,#0048ff,#0059ff,#0068ff,#0075ff,#0084ff,#0092ff,#009cff,#00a2ff,#00a6ff,#00a7ff)"></i><i style="background:linear-gradient(90deg,#00b0ff,#00afff,#00aaff,#00a3ff,#0098ff,#0088ff,#0079ff,#006bff,#005bff,#0047ff,#002dff,#0019ff,#0033ff,#0064ff,#008dff,#00adff,#00cdff,#00edff,#00fdff,#09fff6,#13ffec,#18ffe7,#1affe6,#17ffe9,#10ffef,#06fff9,#00f9ff,#00e4ff,#00c3ff,#00a4ff,#0082ff,#0055ff,#0022ff,#001eff,#0035ff,#004eff,#0060ff,#006fff,#007dff,#008dff,#009cff,#00a6ff,#00acff,#00afff,#00afff)"></i><i style="background:linear-gradient(90deg,#00b9ff,#00b9ff,#00b5ff,#00aeff,#00a2ff,#0092ff,#0081ff,#0072ff,#0061ff,#004dff,#0032ff,#001aff,#002fff,#0064ff,#0092ff,#00b4ff,#00d6ff,#00f8ff,#0bfff4,#17ffe8,#22ffde,#27ffd9,#29ffd7,#25ffda,#1fffe0,#13ffec,#07fff8,#00eeff,#00cbff,#00aaff,#0086ff,#0054ff,#001eff,#0021ff,#003bff,#0054ff,#0067ff,#0077ff,#0086ff,#0098ff,#00a7ff,#00b0ff,#00b6ff,#00baff,#00b9ff)"></i><i style="background:linear-gradient(90deg,#00c4ff,#00c4ff,#00c0ff,#00b9ff,#00aeff,#009dff,#008bff,#007aff,#0069ff,#0053ff,#0037ff,#001dff,#002aff,#0064ff,#0096ff,#00bbff,#00deff,#04fffb,#18ffe7,#25ffdb,#30ffcf,#36ffca,#38ffc8,#34ffcb,#2dffd2,#21ffde,#14ffec,#00f9ff,#00d3ff,#00b0ff,#0089ff,#0053ff,#001bff,#0024ff,#0040ff,#005aff,#006eff,#007fff,#0090ff,#00a3ff,#00b2ff,#00bcff,#00c1ff,#00c4ff,#00c3ff)"></i><i style="background:linear-gradient(90deg,#00ceff,#00cfff,#00ccff,#00c5ff,#00baff,#00a8ff,#0094ff,#0083ff,#0070ff,#005aff,#003cff,#001fff,#0027ff,#0064ff,#009aff,#00c1ff,#00e7ff,#0ffff0,#26ffda,#33ffcd,#3fffc0,#45ffbb,#47ffb9,#43ffbc,#3cffc4,#2fffd1,#20ffdf,#04fffb,#00dbff,#00b6ff,#008bff,#0052ff,#0019ff,#0028ff,#0046ff,#0061ff,#0076ff,#0088ff,#009aff,#00aeff,#00beff,#00c7ff,#00cdff,#00cfff,#00cdff)"></i><i style="background:linear-gradient(90deg,#00d9ff,#00dbff,#00d8ff,#00d1ff,#00c6ff,#00b4ff,#009fff,#008cff,#0078ff,#0060ff,#0041ff,#0022ff,#0023ff,#0064ff,#009eff,#00c8ff,#00f0ff,#1bffe5,#33ffcd,#41ffbf,#4effb2,#54ffab,#56ffa9,#53ffad,#4affb5,#3dffc3,#2dffd2,#0ffff0,#00e3ff,#00bcff,#008eff,#0052ff,#0017ff,#002bff,#004cff,#0068ff,#007eff,#0091ff,#00a5ff,#00baff,#00caff,#00d4ff,#00d9ff,#00dbff,#00d8ff)"></i><i style="background:linear-gradient(90deg,#00e5ff,#00e7ff,#00e4ff,#00deff,#00d2ff,#00c0ff,#00a9ff,#0095ff,#0080ff,#0067ff,#0047ff,#0025ff,#0020ff,#0064ff,#00a1ff,#00cfff,#00f8ff,#26ffd9,#40ffbf,#4fffb1,#5dffa3,#64ff9c,#66ff9a,#62ff9e,#59ffa7,#4affb5,#3affc5,#19ffe6,#00ebff,#00c2ff,#0091ff,#0051ff,#0017ff,#002fff,#0052ff,#006fff,#0087ff,#009bff,#00b0ff,#00c6ff,#00d6ff,#00e0ff,#00e6ff,#00e7ff,#00e3ff)"></i><i style="background:linear-gradient(90deg,#00f0ff,#00f3ff,#00f1ff,#00eaff,#00dfff,#00ccff,#00b4ff,#009eff,#0088ff,#006eff,#004dff,#0028ff,#001dff,#0063ff,#00a5ff,#00d5ff,#02fffd,#31ffcf,#4dffb3,#5dffa3,#6bff95,#72ff8d,#75ff8b,#71ff8f,#67ff99,#58ffa8,#47ffb9,#23ffdc,#00f3ff,#00c7ff,#0093ff,#004fff,#0017ff,#0032ff,#0059ff,#0077ff,#008fff,#00a5ff,#00bcff,#00d3ff,#00e3ff,#00edff,#00f2ff,#00f3ff,#00efff)"></i><i style="background:linear-gradient(90deg,#00fcff,#00ffff,#00feff,#00f7ff,#00ecff,#00d9ff,#00c0ff,#00a8ff,#0091ff,#0076ff,#0053ff,#002cff,#001bff,#0063ff,#00a8ff,#00dbff,#0afff5,#3bffc4,#59ffa6,#6aff96,#79ff86,#81ff7f,#84ff7c,#7fff81,#75ff8b,#65ff9b,#53ffad,#2dffd3,#00faff,#00ccff,#0094ff,#004dff,#0018ff,#0036ff,#005fff,#007fff,#0098ff,#00afff,#00c8ff,#00e0ff,#00f0ff,#00f9ff,#00ffff,#00feff,#00faff)"></i><i style="background:linear-gradient(90deg,#09fff6,#0dfff2,#0cfff3,#06fff9,#00f9ff,#00e6ff,#00ccff,#00b2ff,#009aff,#007dff,#005aff,#002fff,#0019ff,#0062ff,#00acff,#00e2ff,#13ffec,#47ffb8,#68ff98,#79ff87,#8aff76,#92ff6e,#94ff6c,#90ff70,#85ff7b,#74ff8c,#61ff9f,#38ffc8,#04fffb,#00d2ff,#0096ff,#004aff,#0019ff,#003bff,#0066ff,#0087ff,#00a2ff,#00baff,#00d5ff,#00edff,#00feff,#08fff7,#0dfff2,#0cfff3,#07fff8)"></i><i style="background:linear-gradient(90deg,#15ffea,#1affe5,#1bffe4,#14ffeb,#09fff6,#00f5ff,#00d9ff,#00bdff,#00a4ff,#0086ff,#0061ff,#0034ff,#0017ff,#0061ff,#00afff,#00e9ff,#1dffe2,#54ffac,#77ff89,#8aff76,#9bff65,#a3ff5c,#a6ff59,#a1ff5e,#96ff6a,#84ff7b,#70ff90,#44ffbc,#0dfff2,#00d9ff,#0098ff,#0047ff,#001aff,#0040ff,#006eff,#0090ff,#00acff,#00c5ff,#00e2ff,#00fcff,#0dfff2,#16ffe9,#1bffe4,#19ffe6,#14ffeb)"></i><i style="background:linear-gradient(90deg,#22ffdd,#28ffd8,#29ffd6,#23ffdd,#17ffe8,#04fffb,#00e7ff,#00c9ff,#00aeff,#008fff,#0069ff,#0038ff,#0017ff,#0060ff,#00b2ff,#00f0ff,#26ffd9,#60ffa0,#86ff7a,#99ff67,#abff55,#b4ff4c,#b7ff48,#b2ff4e,#a6ff5a,#93ff6c,#7eff82,#4fffb1,#15ffea,#00deff,#009aff,#0044ff,#001cff,#0046ff,#0075ff,#0099ff,#00b6ff,#00d1ff,#00f0ff,#0cfff4,#1cffe4,#25ffda,#29ffd6,#26ffd9,#21ffdf)"></i><i style="background:linear-gradient(90deg,#2fffd0,#35ffcb,#37ffc8,#31ffce,#26ffd9,#13ffec,#00f5ff,#00d4ff,#00b8ff,#0098ff,#0070ff,#003cff,#0017ff,#005eff,#00b3ff,#00f4ff,#2dffd3,#69ff97,#91ff6f,#a5ff5b,#b8ff48,#c1ff3e,#c4ff3b,#bfff41,#b2ff4d,#9fff61,#88ff78,#57ffa9,#1bffe4,#00e2ff,#0099ff,#003fff,#001eff,#004cff,#007dff,#00a2ff,#00c1ff,#00deff,#00feff,#1affe5,#2affd5,#34ffcc,#37ffc9,#33ffcc,#2dffd2)"></i><i style="background:linear-gradient(90deg,#3bffc5,#41ffbf,#44ffbb,#3fffc0,#34ffcb,#21ffde,#03fffc,#00e0ff,#00c2ff,#00a0ff,#0078ff,#0041ff,#0018ff,#0059ff,#00b1ff,#00f5ff,#2fffd0,#6dff93,#96ff6a,#abff55,#beff41,#c8ff37,#cbff34,#c6ff3a,#b9ff47,#a5ff5a,#8dff73,#5affa6,#1effe2,#00e2ff,#0097ff,#003aff,#0021ff,#0052ff,#0085ff,#00acff,#00cbff,#00eaff,#0dfff2,#28ffd7,#38ffc7,#42ffbe,#44ffbc,#3fffc0,#38ffc7)"></i><i style="background:linear-gradient(90deg,#46ffba,#4cffb3,#50ffaf,#4cffb3,#42ffbe,#2fffd0,#11ffef,#00ecff,#00ccff,#00a9ff,#0080ff,#0047ff,#001aff,#0053ff,#00adff,#00f2ff,#2dffd3,#6aff95,#95ff6a,#abff55,#beff41,#c8ff37,#cbff34,#c6ff3a,#b9ff47,#a5ff5b,#8cff74,#57ffa8,#1bffe4,#00dfff,#0092ff,#0033ff,#0025ff,#0059ff,#008eff,#00b5ff,#00d5ff,#00f7ff,#1bffe4,#36ffca,#46ffba,#4fffb1,#50ffb0,#4affb5,#43ffbd)"></i><i style="background:linear-gradient(90deg,#50ffb0,#57ffa8,#5cffa4,#59ffa6,#4fffb1,#3dffc3,#1effe1,#00f8ff,#00d6ff,#00b3ff,#0088ff,#004dff,#001cff,#004cff,#00a7ff,#00edff,#28ffd8,#65ff9b,#91ff6f,#a6ff59,#baff46,#c4ff3c,#c7ff38,#c1ff3e,#b4ff4b,#a1ff5f,#88ff78,#52ffae,#16ffe9,#00daff,#008bff,#002dff,#0029ff,#0061ff,#0096ff,#00beff,#00e0ff,#04fffb,#28ffd7,#43ffbc,#53ffad,#5cffa4,#5bffa5,#55ffab,#4dffb3)"></i><i style="background:linear-gradient(90deg,#5affa6,#62ff9e,#68ff98,#66ff9a,#5cffa4,#4affb6,#2cffd4,#05fffa,#00e0ff,#00bcff,#0090ff,#0054ff,#001eff,#0045ff,#00a0ff,#00e7ff,#21ffde,#5effa2,#8bff75,#a0ff60,#b3ff4c,#bdff42,#c0ff3f,#bbff45,#aeff52,#9aff66,#81ff7f,#4bffb5,#10ffef,#00d4ff,#0084ff,#0027ff,#002eff,#0069ff,#009fff,#00c8ff,#00ebff,#11ffee,#37ffc9,#51ffaf,#60ffa0,#68ff98,#66ff9a,#60ffa0,#56ffa9)"></i><i style="background:linear-gradient(90deg,#63ff9d,#6cff94,#73ff8d,#73ff8d,#69ff97,#58ffa8,#3affc6,#12ffed,#00ebff,#00c6ff,#0099ff,#005cff,#0022ff,#003dff,#0098ff,#00e0ff,#19ffe6,#55ffaa,#83ff7d,#98ff68,#abff54,#b5ff4a,#b8ff47,#b3ff4d,#a6ff5a,#92ff6e,#79ff87,#43ffbd,#08fff7,#00cdff,#007cff,#0021ff,#0033ff,#0072ff,#00a8ff,#00d2ff,#00f6ff,#1fffe0,#45ffbb,#5effa2,#6dff93,#74ff8c,#71ff8f,#6aff96,#5fffa0)"></i><i style="background:linear-gradient(90deg,#6cff94,#76ff8a,#7eff82,#80ff80,#76ff8a,#66ff9a,#49ffb7,#20ffe0,#00f6ff,#00d0ff,#00a2ff,#0065ff,#0027ff,#0035ff,#0090ff,#00d9ff,#12ffed,#4dffb3,#7bff85,#90ff70,#a3ff5d,#adff53,#b0ff4f,#abff55,#9dff62,#8aff76,#70ff8f,#3affc5,#01fffe,#00c5ff,#0075ff,#001dff,#0039ff,#007bff,#00b1ff,#00ddff,#03fffc,#2dffd2,#54ffac,#6cff94,#7aff86,#80ff80,#7cff84,#74ff8c,#68ff98)"></i><i style="background:linear-gradient(90deg,#75ff8b,#80ff80,#88ff78,#8cff74,#84ff7c,#74ff8c,#58ffa8,#2effd1,#03fffc,#00dbff,#00acff,#006eff,#002cff,#002eff,#0088ff,#00d2ff,#0bfff5,#45ffbb,#73ff8d,#89ff77,#9cff64,#a6ff5a,#a9ff57,#a3ff5c,#96ff6a,#83ff7d,#69ff97,#32ffcd,#00f9ff,#00beff,#006dff,#0019ff,#003fff,#0085ff,#00bbff,#00e8ff,#10fff0,#3cffc4,#63ff9d,#7aff86,#87ff79,#8bff74,#86ff7a,#7eff82,#71ff8f)"></i><i style="background:linear-gradient(90deg,#7dff83,#8aff76,#93ff6d,#97ff68,#91ff6f,#82ff7e,#67ff99,#3dffc3,#10fff0,#00e6ff,#00b6ff,#0078ff,#0032ff,#0027ff,#0080ff,#00ccff,#04fffb,#3effc1,#6dff92,#83ff7d,#96ff6a,#a0ff60,#a3ff5d,#9eff62,#90ff70,#7eff82,#63ff9d,#2cffd4,#00f3ff,#00b8ff,#0066ff,#0017ff,#0046ff,#008eff,#00c6ff,#00f3ff,#1dffe3,#4bffb5,#71ff8f,#88ff78,#94ff6c,#97ff69,#90ff70,#87ff79,#79ff87)"></i><i style="background:linear-gradient(90deg,#85ff7b,#93ff6c,#9dff63,#a3ff5d,#9eff62,#90ff70,#76ff8a,#4cffb4,#1cffe3,#00f1ff,#00c0ff,#0082ff,#0039ff,#0021ff,#0079ff,#00c5ff,#00fdff,#37ffc8,#67ff99,#7dff83,#90ff70,#9aff66,#9dff63,#98ff68,#8aff76,#78ff88,#5cffa4,#25ffdb,#00edff,#00b1ff,#005fff,#0017ff,#004dff,#0098ff,#00d0ff,#00feff,#2affd5,#5affa6,#80ff80,#95ff6b,#a1ff5e,#a2ff5e,#9aff66,#90ff70,#81ff7f)"></i><i style="background:linear-gradient(90deg,#8dff72,#9cff63,#a7ff59,#aeff52,#abff54,#9eff62,#85ff7b,#5bffa4,#29ffd6,#00fcff,#00cbff,#008dff,#003fff,#001cff,#0072ff,#00bfff,#00f7ff,#30ffcf,#61ff9f,#77ff89,#8aff76,#94ff6c,#97ff69,#92ff6e,#84ff7c,#72ff8e,#55ffaa,#1effe1,#00e7ff,#00abff,#0059ff,#0018ff,#0054ff,#00a2ff,#00dbff,#0bfff4,#38ffc7,#69ff96,#8eff72,#a3ff5d,#aeff52,#acff53,#a4ff5c,#98ff68,#89ff77)"></i><i style="background:linear-gradient(90deg,#95ff6a,#a5ff5b,#b1ff4f,#b9ff47,#b9ff47,#abff54,#94ff6c,#6bff95,#37ffc8,#09fff6,#00d6ff,#0097ff,#0046ff,#0019ff,#006bff,#00b9ff,#00f2ff,#2affd5,#5cffa4,#72ff8d,#85ff7b,#8fff71,#92ff6d,#8dff73,#7fff81,#6dff93,#50ffb0,#18ffe7,#00e1ff,#00a4ff,#0052ff,#001aff,#005dff,#00acff,#00e6ff,#17ffe8,#47ffb9,#79ff87,#9cff63,#b0ff50,#baff45,#b7ff49,#aeff52,#a0ff5f,#91ff6e)"></i><i style="background:linear-gradient(90deg,#9eff62,#aeff52,#bbff45,#c4ff3c,#c5ff3a,#b9ff47,#a2ff5e,#7aff86,#45ffbb,#15ffeb,#00e0ff,#00a1ff,#004dff,#0017ff,#0066ff,#00b4ff,#00edff,#26ffd9,#58ffa7,#6fff91,#82ff7e,#8cff74,#90ff70,#8aff76,#7cff84,#6aff96,#4cffb4,#14ffeb,#00ddff,#009fff,#004cff,#001dff,#0066ff,#00b6ff,#00f1ff,#23ffdc,#56ffaa,#89ff77,#abff55,#bdff42,#c6ff39,#c1ff3e,#b7ff48,#a8ff57,#9aff66)"></i><i style="background:linear-gradient(90deg,#a6ff5a,#b6ff4a,#c4ff3b,#ceff31,#d2ff2e,#c6ff39,#b0ff4f,#89ff77,#53ffad,#20ffdf,#00ebff,#00abff,#0054ff,#0017ff,#0061ff,#00b1ff,#00ebff,#24ffdb,#58ffa8,#6fff91,#82ff7e,#8dff73,#90ff70,#8aff76,#7cff84,#69ff96,#4bffb5,#12ffed,#00dbff,#009bff,#0046ff,#0021ff,#006fff,#00c1ff,#00fdff,#2fffd0,#65ff9b,#98ff68,#b9ff47,#cbff35,#d2ff2e,#cbff34,#c1ff3f,#b0ff4f,#a2ff5e)"></i><i style="background:linear-gradient(90deg,#aeff52,#beff42,#ceff32,#d8ff27,#ddff22,#d3ff2c,#beff41,#98ff68,#61ff9f,#2cffd4,#00f6ff,#00b5ff,#005cff,#0018ff,#005dff,#00b0ff,#00ecff,#26ffda,#5bffa4,#74ff8c,#87ff79,#92ff6e,#95ff6b,#8fff71,#81ff7f,#6eff92,#4effb2,#13ffec,#00dbff,#0098ff,#0040ff,#0026ff,#0079ff,#00caff,#08fff7,#3bffc4,#73ff8d,#a7ff59,#c6ff39,#d8ff28,#ddff23,#d5ff2a,#c9ff36,#b8ff47,#aaff56)"></i><i style="background:linear-gradient(90deg,#b6ff4a,#c5ff3a,#d6ff29,#e2ff1e,#e8ff17,#e0ff20,#ccff34,#a7ff59,#6fff91,#37ffc8,#01fffe,#00beff,#0064ff,#0019ff,#005aff,#00b0ff,#00efff,#2affd5,#62ff9e,#7cff84,#8fff71,#9bff65,#9eff61,#98ff68,#89ff77,#76ff8a,#54ffac,#17ffe8,#00ddff,#0097ff,#003bff,#002bff,#0082ff,#00d4ff,#13ffec,#47ffb8,#81ff7f,#b5ff4b,#d3ff2c,#e4ff1b,#e7ff18,#deff21,#d2ff2e,#c0ff40,#b2ff4e)"></i><i style="background:linear-gradient(90deg,#beff41,#cdff32,#dfff20,#ecff14,#f3ff0c,#edff12,#d9ff26,#b6ff4a,#7dff83,#43ffbd,#0cfff3,#00c8ff,#006cff,#001cff,#0057ff,#00b1ff,#00f3ff,#30ffd0,#6bff95,#86ff7a,#9aff66,#a6ff5a,#aaff56,#a3ff5c,#94ff6c,#7fff81,#5bffa5,#1cffe3,#00e0ff,#0096ff,#0037ff,#0030ff,#008cff,#00deff,#1effe2,#54ffac,#90ff70,#c3ff3c,#e1ff1e,#f1ff0e,#f2ff0d,#e8ff17,#daff25,#c8ff38,#baff46)"></i><i style="background:linear-gradient(90deg,#c7ff38,#d6ff29,#e9ff16,#f6ff09,#ffff00,#fbff04,#e8ff17,#c6ff3a,#8dff73,#50ffb0,#17ffe8,#00d2ff,#0075ff,#001fff,#0054ff,#00b2ff,#00f7ff,#36ffc9,#73ff8c,#90ff70,#a5ff5a,#b2ff4e,#b5ff4a,#afff51,#9fff61,#89ff77,#63ff9d,#22ffdd,#00e4ff,#0096ff,#0032ff,#0036ff,#0096ff,#00e9ff,#29ffd6,#61ff9f,#a0ff60,#d2ff2d,#efff10,#ffff00,#fdff02,#f3ff0c,#e3ff1c,#d1ff2e,#c3ff3d)"></i><i style="background:linear-gradient(90deg,#d1ff2e,#e0ff1f,#f4ff0b,#fffb00,#fff100,#fff400,#f8ff07,#d7ff29,#9dff62,#5dffa2,#24ffdc,#00ddff,#007fff,#0023ff,#004fff,#00b2ff,#00fbff,#3cffc4,#7cff84,#9aff66,#b0ff50,#bdff43,#c1ff3f,#baff46,#a9ff57,#93ff6d,#6bff95,#27ffd8,#00e6ff,#0094ff,#002dff,#003dff,#00a1ff,#00f4ff,#36ffc9,#70ff90,#b1ff4f,#e3ff1c,#ffff00,#fff000,#fff400,#ffff00,#eeff11,#dcff24,#cdff32)"></i><i style="background:linear-gradient(90deg,#deff22,#edff12,#fffd00,#ffed00,#ffe200,#ffe200,#fff400,#e9ff16,#b0ff50,#6dff93,#31ffce,#00e9ff,#008aff,#0028ff,#004bff,#00b2ff,#00ffff,#42ffbd,#85ff7b,#a5ff5a,#bcff44,#c9ff36,#ceff32,#c7ff39,#b5ff4b,#9eff62,#73ff8d,#2dffd2,#00eaff,#0093ff,#0028ff,#0044ff,#00adff,#02fffd,#44ffbc,#81ff7f,#c3ff3c,#f5ff0a,#ffed00,#ffdf00,#ffe500,#fff100,#faff05,#e8ff17,#d9ff26)"></i><i style="background:linear-gradient(90deg,#ebff14,#fbff04,#ffef00,#ffdd00,#ffd100,#ffcf00,#ffe000,#fdff02,#c4ff3b,#7eff82,#40ffc0,#00f6ff,#0095ff,#002dff,#0047ff,#00b3ff,#05fffa,#4affb6,#90ff70,#b2ff4e,#c9ff36,#d8ff28,#dcff23,#d5ff2b,#c2ff3e,#aaff56,#7dff83,#34ffcb,#00eeff,#0093ff,#0024ff,#004bff,#00b8ff,#0ffff0,#53ffad,#93ff6d,#d8ff28,#fff500,#ffda00,#ffcd00,#ffd400,#ffe100,#fff500,#f6ff09,#e7ff18)"></i><i style="background:linear-gradient(90deg,#faff05,#fff400,#ffdf00,#ffcc00,#ffbf00,#ffbb00,#ffcc00,#ffec00,#d9ff27,#90ff70,#4fffb1,#04fffb,#00a1ff,#0032ff,#0043ff,#00b4ff,#0afff5,#52ffae,#9bff65,#bfff41,#d7ff28,#e6ff19,#ebff15,#e3ff1c,#cfff30,#b7ff49,#87ff79,#3bffc4,#00f2ff,#0092ff,#0020ff,#0052ff,#00c4ff,#1dffe2,#63ff9d,#a6ff5a,#edff12,#ffe000,#ffc500,#ffba00,#ffc200,#ffd100,#ffe600,#fff900,#f5ff0a)"></i><i style="background:linear-gradient(90deg,#fff500,#ffe400,#ffd000,#ffba00,#ffad00,#ffa700,#ffb700,#ffd700,#edff12,#a1ff5e,#5effa2,#11ffee,#00acff,#0038ff,#003eff,#00b5ff,#0ffff0,#59ffa7,#a5ff5b,#cbff35,#e4ff1b,#f4ff0b,#f8ff07,#f0ff0f,#dcff23,#c2ff3d,#90ff70,#42ffbe,#00f6ff,#0092ff,#001dff,#0059ff,#00d0ff,#2affd5,#72ff8e,#b9ff47,#fffc00,#ffcb00,#ffb100,#ffa700,#ffb100,#ffc000,#ffd700,#ffea00,#fffa00)"></i><i style="background:linear-gradient(90deg,#ffe700,#ffd600,#ffc100,#ffaa00,#ff9b00,#ff9400,#ffa400,#ffc300,#fffe00,#b3ff4d,#6cff94,#1dffe2,#00b7ff,#003eff,#003bff,#00b5ff,#13ffec,#5fffa0,#aeff52,#d5ff2a,#efff10,#ffff00,#fffa00,#fcff03,#e7ff18,#ccff33,#98ff68,#48ffb8,#00f9ff,#0091ff,#001bff,#005fff,#00dbff,#38ffc8,#81ff7f,#cbff34,#ffe800,#ffb700,#ff9d00,#ff9500,#ffa000,#ffb000,#ffc800,#ffdb00,#ffec00)"></i><i style="background:linear-gradient(90deg,#ffd800,#ffc600,#ffb100,#ff9900,#ff8900,#ff8100,#ff9000,#ffaf00,#ffea00,#c4ff3c,#7aff86,#2affd6,#00c1ff,#0043ff,#0037ff,#00b5ff,#17ffe8,#64ff9b,#b5ff4b,#deff21,#f9ff07,#fff500,#fff000,#fff800,#f0ff0f,#d5ff2b,#9eff61,#4cffb3,#00fcff,#0090ff,#001aff,#0065ff,#00e5ff,#45ffbb,#90ff70,#ddff22,#ffd400,#ffa300,#ff8900,#ff8200,#ff8e00,#ffa000,#ffb900,#ffcc00,#ffdd00)"></i><i style="background:linear-gradient(90deg,#ffc800,#ffb600,#ffa100,#ff8800,#ff7700,#ff6e00,#ff7b00,#ff9b00,#ffd600,#d5ff2a,#89ff77,#36ffc9,#00cbff,#0048ff,#0034ff,#00b5ff,#1affe5,#69ff97,#bcff44,#e6ff19,#fffd00,#ffec00,#ffe700,#ffef00,#f9ff07,#ddff23,#a4ff5b,#50ffaf,#00feff,#008fff,#0018ff,#006cff,#00f0ff,#52ffae,#a0ff60,#f0ff0f,#ffbf00,#ff8e00,#ff7500,#ff6f00,#ff7c00,#ff8f00,#ffa800,#ffbc00,#ffce00)"></i><i style="background:linear-gradient(90deg,#ffb900,#ffa700,#ff9100,#ff7700,#ff6500,#ff5b00,#ff6700,#ff8600,#ffc200,#e7ff18,#97ff68,#43ffbd,#00d6ff,#004eff,#0031ff,#00b5ff,#1cffe3,#6eff92,#c2ff3d,#eeff11,#fff400,#ffe300,#ffde00,#ffe600,#fffd00,#e4ff1b,#aaff56,#54ffab,#01fffe,#008eff,#0017ff,#0073ff,#00fbff,#5fffa1,#afff51,#fffb00,#ffab00,#ff7a00,#ff6000,#ff5c00,#ff6a00,#ff7f00,#ff9900,#ffad00,#ffbf00)"></i><i style="background:linear-gradient(90deg,#ffac00,#ff9900,#ff8300,#ff6800,#ff5500,#ff4900,#ff5500,#ff7400,#ffaf00,#f8ff07,#a5ff5b,#4fffb1,#00e0ff,#0053ff,#002eff,#00b5ff,#1fffe0,#72ff8e,#c9ff37,#f6ff09,#ffeb00,#ffd900,#ffd400,#ffdd00,#fff400,#ecff13,#b0ff50,#59ffa7,#03fffc,#008cff,#0017ff,#0079ff,#06fff9,#6cff94,#bdff42,#ffea00,#ff9800,#ff6700,#ff4e00,#ff4b00,#ff5a00,#ff7000,#ff8a00,#ff9f00,#ffb100)"></i><i style="background:linear-gradient(90deg,#ffa000,#ff8d00,#ff7700,#ff5b00,#ff4700,#ff3a00,#ff4400,#ff6300,#ff9e00,#fff700,#b1ff4e,#59ffa6,#00e9ff,#0059ff,#002bff,#00b5ff,#23ffdc,#78ff88,#d1ff2f,#fffe00,#ffe100,#ffce00,#ffc900,#ffd200,#ffea00,#f5ff0a,#b7ff48,#5effa2,#06fff9,#008cff,#0017ff,#0080ff,#10fff0,#77ff89,#caff35,#ffda00,#ff8700,#ff5700,#ff3e00,#ff3d00,#ff4c00,#ff6300,#ff7e00,#ff9300,#ffa600)"></i><i style="background:linear-gradient(90deg,#ff9500,#ff8100,#ff6b00,#ff4e00,#ff3900,#ff2c00,#ff3400,#ff5300,#ff8e00,#ffe800,#bdff42,#64ff9c,#00f2ff,#005eff,#0028ff,#00b5ff,#27ffd8,#7eff82,#d9ff26,#fff400,#ffd600,#ffc300,#ffbe00,#ffc700,#ffe000,#ffff00,#bfff41,#63ff9c,#09fff6,#008bff,#0017ff,#0087ff,#19ffe6,#82ff7e,#d7ff28,#ffca00,#ff7700,#ff4700,#ff2e00,#ff2f00,#ff3f00,#ff5700,#ff7200,#ff8700,#ff9b00)"></i><i style="background:linear-gradient(90deg,#ff8a00,#ff7600,#ff6000,#ff4300,#ff2c00,#ff1e00,#ff2500,#ff4400,#ff7e00,#ffda00,#c9ff36,#6eff92,#00faff,#0063ff,#0026ff,#00b5ff,#2affd5,#84ff7c,#e0ff1f,#ffeb00,#ffcd00,#ffb900,#ffb300,#ffbd00,#ffd600,#fff600,#c5ff3a,#68ff97,#0cfff3,#008aff,#0018ff,#008dff,#22ffdd,#8dff73,#e3ff1c,#ffbb00,#ff6700,#ff3800,#ff1f00,#ff2100,#ff3200,#ff4c00,#ff6700,#ff7c00,#ff9000)"></i><i style="background:linear-gradient(90deg,#ff8100,#ff6d00,#ff5600,#ff3900,#ff2200,#ff1200,#ff1800,#ff3700,#ff7100,#ffce00,#d3ff2d,#77ff89,#02fffd,#0067ff,#0024ff,#00b5ff,#2dffd2,#88ff78,#e6ff19,#ffe400,#ffc500,#ffb100,#ffab00,#ffb500,#ffcf00,#ffef00,#cbff35,#6cff94,#0efff1,#0089ff,#0019ff,#0093ff,#2affd6,#96ff6a,#eeff12,#ffaf00,#ff5a00,#ff2b00,#ff1300,#ff1600,#ff2700,#ff4200,#ff5d00,#ff7300,#ff8700)"></i><i style="background:linear-gradient(90deg,#ff7c00,#ff6700,#ff5000,#ff3300,#ff1b00,#ff0b00,#ff1000,#ff2e00,#ff6700,#ffc500,#daff25,#7dff83,#08fff7,#006bff,#0022ff,#00b4ff,#2effd1,#8aff76,#eaff15,#ffdf00,#ffc000,#ffab00,#ffa500,#ffaf00,#ffca00,#ffea00,#ceff31,#6eff91,#0ffff0,#0088ff,#0019ff,#0098ff,#2fffd0,#9cff64,#f5ff0a,#ffa600,#ff5100,#ff2200,#ff0a00,#ff0f00,#ff2100,#ff3c00,#ff5700,#ff6e00,#ff8200)"></i><i style="background:linear-gradient(90deg,#ff7900,#ff6400,#ff4e00,#ff3000,#ff1800,#ff0800,#ff0b00,#ff2900,#ff6200,#ffc000,#deff21,#81ff7f,#0cfff3,#006dff,#0021ff,#00b4ff,#30ffcf,#8dff73,#eeff11,#ffdb00,#ffbb00,#ffa600,#ffa000,#ffaa00,#ffc500,#ffe600,#d1ff2e,#71ff8f,#10fff0,#0088ff,#001aff,#009bff,#33ffcc,#a0ff60,#faff05,#ffa000,#ff4c00,#ff1e00,#ff0600,#ff0b00,#ff1d00,#ff3a00,#ff5500,#ff6b00,#ff7f00)"></i><i style="background:linear-gradient(90deg,#ff7700,#ff6200,#ff4c00,#ff2e00,#ff1500,#ff0500,#ff0800,#ff2500,#ff5e00,#ffbc00,#e1ff1e,#84ff7c,#0efff1,#006fff,#0020ff,#00b3ff,#31ffce,#8fff71,#f1ff0f,#ffd700,#ffb700,#ffa200,#ff9c00,#ffa600,#ffc100,#ffe300,#d4ff2c,#72ff8d,#11ffef,#0087ff,#001bff,#009eff,#36ffca,#a3ff5d,#fdff02,#ff9c00,#ff4900,#ff1a00,#ff0300,#ff0900,#ff1b00,#ff3800,#ff5300,#ff6900,#ff7d00)"></i><i style="background:linear-gradient(90deg,#ff7600,#ff6100,#ff4a00,#ff2d00,#ff1400,#ff0300,#ff0600,#ff2300,#ff5c00,#ffba00,#e3ff1c,#86ff7a,#10ffef,#0070ff,#001fff,#00b3ff,#32ffcd,#90ff70,#f2ff0d,#ffd500,#ffb500,#ffa000,#ff9a00,#ffa400,#ffbf00,#ffe100,#d5ff2a,#74ff8c,#11ffee,#0087ff,#001bff,#009fff,#37ffc8,#a5ff5b,#ffff00,#ff9a00,#ff4700,#ff1800,#ff0100,#ff0700,#ff1a00,#ff3700,#ff5200,#ff6800,#ff7c00)"></i><i style="background:linear-gradient(90deg,#ff7600,#ff6100,#ff4a00,#ff2d00,#ff1400,#ff0300,#ff0600,#ff2300,#ff5c00,#ffba00,#e3ff1c,#86ff7a,#10ffef,#0070ff,#001fff,#00b3ff,#32ffcd,#90ff70,#f2ff0d,#ffd500,#ffb500,#ffa000,#ff9900,#ffa400,#ffbf00,#ffe100,#d5ff2a,#74ff8c,#11ffee,#0087ff,#001bff,#009fff,#37ffc8,#a5ff5b,#ffff00,#ff9a00,#ff4600,#ff1800,#ff0100,#ff0700,#ff1a00,#ff3700,#ff5200,#ff6800,#ff7c00)"></i><i style="background:linear-gradient(90deg,#ff7700,#ff6200,#ff4b00,#ff2e00,#ff1500,#ff0400,#ff0800,#ff2500,#ff5e00,#ffbc00,#e1ff1e,#84ff7c,#0efff1,#006fff,#0020ff,#00b4ff,#32ffce,#8fff71,#f1ff0e,#ffd600,#ffb600,#ffa100,#ff9b00,#ffa500,#ffc000,#ffe200,#d4ff2b,#73ff8d,#11ffee,#0087ff,#001aff,#009dff,#36ffca,#a3ff5d,#fdff02,#ff9c00,#ff4800,#ff1a00,#ff0300,#ff0800,#ff1b00,#ff3700,#ff5200,#ff6900,#ff7d00)"></i><i style="background:linear-gradient(90deg,#ff7800,#ff6300,#ff4d00,#ff2f00,#ff1700,#ff0700,#ff0b00,#ff2900,#ff6200,#ffc000,#deff21,#81ff7f,#0bfff4,#006dff,#0021ff,#00b5ff,#31ffce,#8eff72,#efff10,#ffd900,#ffb900,#ffa400,#ff9e00,#ffa800,#ffc300,#ffe400,#d3ff2c,#72ff8e,#11ffee,#0088ff,#001aff,#009bff,#33ffcd,#a0ff60,#faff05,#ffa000,#ff4c00,#ff1d00,#ff0600,#ff0b00,#ff1c00,#ff3900,#ff5400,#ff6a00,#ff7e00)"></i><i style="background:linear-gradient(90deg,#ff7a00,#ff6600,#ff4f00,#ff3100,#ff1900,#ff0a00,#ff0f00,#ff2d00,#ff6700,#ffc500,#daff26,#7dff83,#07fff8,#006aff,#0023ff,#00b6ff,#30ffcf,#8dff73,#edff12,#ffdc00,#ffbd00,#ffa800,#ffa200,#ffac00,#ffc700,#ffe800,#d1ff2f,#71ff8f,#10ffef,#008aff,#0019ff,#0097ff,#2fffd1,#9cff64,#f5ff0a,#ffa600,#ff5100,#ff2200,#ff0900,#ff0e00,#ff1f00,#ff3b00,#ff5600,#ff6c00,#ff8000)"></i><i style="background:linear-gradient(90deg,#ff8200,#ff6d00,#ff5700,#ff3900,#ff2200,#ff1300,#ff1a00,#ff3800,#ff7300,#ffd000,#d1ff2e,#75ff8b,#00ffff,#0066ff,#0025ff,#00b5ff,#2dffd3,#87ff79,#e5ff1a,#ffe600,#ffc700,#ffb300,#ffad00,#ffb700,#ffd100,#fff100,#caff36,#6bff94,#0efff1,#008aff,#0018ff,#0091ff,#28ffd8,#94ff6c,#ecff14,#ffb100,#ff5c00,#ff2d00,#ff1400,#ff1700,#ff2800,#ff4200,#ff5e00,#ff7400,#ff8700)"></i><i style="background:linear-gradient(90deg,#ff8e00,#ff7a00,#ff6400,#ff4700,#ff3100,#ff2300,#ff2b00,#ff4a00,#ff8500,#ffe000,#c4ff3c,#69ff96,#00f6ff,#0060ff,#0027ff,#00b4ff,#27ffd8,#7eff82,#daff26,#fff300,#ffd500,#ffc200,#ffbc00,#ffc600,#ffdf00,#fffe00,#bfff40,#64ff9c,#09fff6,#008aff,#0017ff,#008aff,#1effe2,#88ff78,#deff22,#ffc200,#ff6e00,#ff3e00,#ff2500,#ff2600,#ff3700,#ff5000,#ff6b00,#ff8000,#ff9400)"></i><i style="background:linear-gradient(90deg,#ff9c00,#ff8800,#ff7200,#ff5600,#ff4200,#ff3500,#ff3e00,#ff5d00,#ff9800,#fff200,#b6ff4a,#5dffa3,#00ecff,#005aff,#002aff,#00b3ff,#21ffde,#76ff8a,#ceff31,#fdff02,#ffe400,#ffd100,#ffcc00,#ffd500,#ffed00,#f3ff0c,#b5ff4b,#5cffa4,#04fffb,#008aff,#0017ff,#0082ff,#13ffec,#7bff85,#cfff31,#ffd400,#ff8100,#ff5100,#ff3800,#ff3700,#ff4700,#ff5f00,#ff7900,#ff8e00,#ffa200)"></i><i style="background:linear-gradient(90deg,#ffad00,#ff9900,#ff8400,#ff6900,#ff5600,#ff4a00,#ff5500,#ff7400,#ffaf00,#f8ff07,#a5ff5b,#4fffb1,#00e0ff,#0054ff,#002dff,#00b3ff,#1dffe2,#70ff90,#c5ff3a,#f3ff0d,#ffef00,#ffdd00,#ffd800,#ffe100,#fff800,#e9ff16,#adff53,#56ffa9,#01fffe,#008bff,#0017ff,#007aff,#06fff9,#6cff94,#bdff42,#ffea00,#ff9800,#ff6800,#ff4e00,#ff4c00,#ff5b00,#ff7100,#ff8b00,#ffa000,#ffb200)"></i><i style="background:linear-gradient(90deg,#ffbf00,#ffad00,#ff9800,#ff7d00,#ff6c00,#ff6100,#ff6e00,#ff8d00,#ffc700,#e2ff1d,#93ff6c,#40ffc0,#00d4ff,#004dff,#0030ff,#00b3ff,#19ffe6,#69ff96,#bdff43,#e8ff17,#fffa00,#ffe900,#ffe400,#ffed00,#fbff04,#dfff21,#a5ff5b,#51ffaf,#00fdff,#008cff,#0017ff,#0072ff,#00f8ff,#5cffa4,#abff55,#feff01,#ffb100,#ff8100,#ff6700,#ff6300,#ff7100,#ff8500,#ff9f00,#ffb300,#ffc500)"></i><i style="background:linear-gradient(90deg,#ffd300,#ffc100,#ffac00,#ff9300,#ff8300,#ff7a00,#ff8700,#ffa600,#ffe000,#ccff33,#82ff7e,#30ffcf,#00c7ff,#0047ff,#0034ff,#00b3ff,#16ffea,#64ff9c,#b5ff4b,#deff21,#f9ff06,#fff400,#ffef00,#fff800,#f1ff0f,#d5ff2a,#9eff62,#4bffb4,#00fbff,#008dff,#0018ff,#006aff,#00ebff,#4bffb4,#98ff68,#e7ff19,#ffca00,#ff9a00,#ff8100,#ff7b00,#ff8700,#ff9a00,#ffb300,#ffc600,#ffd800)"></i><i style="background:linear-gradient(90deg,#ffe500,#ffd400,#ffbf00,#ffa800,#ff9900,#ff9100,#ff9f00,#ffbe00,#fff800,#b8ff48,#70ff8f,#22ffde,#00bbff,#0041ff,#0038ff,#00b3ff,#12ffed,#5fffa1,#aeff52,#d6ff2a,#f0ff10,#fffe00,#fff900,#fdff03,#e7ff18,#cdff33,#97ff68,#47ffb9,#00f8ff,#008eff,#001aff,#0062ff,#00dfff,#3cffc3,#86ff7a,#d1ff2f,#ffe200,#ffb200,#ff9900,#ff9200,#ff9d00,#ffae00,#ffc600,#ffd900,#ffea00)"></i><i style="background:linear-gradient(90deg,#fff600,#ffe500,#ffd000,#ffbb00,#ffad00,#ffa600,#ffb600,#ffd500,#f0ff0f,#a5ff5b,#60ff9f,#14ffeb,#00b0ff,#003bff,#003cff,#00b4ff,#10ffef,#5bffa5,#a7ff58,#ceff31,#e7ff18,#f7ff08,#fcff03,#f4ff0b,#dfff20,#c5ff3a,#92ff6e,#43ffbc,#00f7ff,#0090ff,#001cff,#005bff,#00d3ff,#2dffd2,#75ff8b,#bcff43,#fff900,#ffc900,#ffaf00,#ffa700,#ffb100,#ffc100,#ffd800,#ffea00,#fffa00)"></i><i style="background:linear-gradient(90deg,#f8ff07,#fff500,#ffe100,#ffcd00,#ffc000,#ffbc00,#ffcc00,#ffeb00,#daff25,#91ff6f,#50ffb0,#06fffa,#00a3ff,#0034ff,#0041ff,#00b6ff,#0efff1,#57ffa8,#a2ff5e,#c7ff38,#e0ff1f,#efff10,#f4ff0b,#ecff13,#d8ff27,#bfff41,#8eff72,#40ffbf,#00f6ff,#0093ff,#001fff,#0054ff,#00c6ff,#1effe1,#64ff9c,#a7ff58,#eeff11,#ffe000,#ffc600,#ffbb00,#ffc400,#ffd200,#ffe800,#fffb00,#f4ff0b)"></i><i style="background:linear-gradient(90deg,#e9ff16,#f9ff07,#fff100,#ffdf00,#ffd300,#ffd100,#ffe200,#fcff03,#c3ff3c,#7eff82,#3fffc0,#00f6ff,#0096ff,#002eff,#0047ff,#00b8ff,#0dfff2,#55ffab,#9dff62,#c1ff3f,#d9ff26,#e8ff17,#ecff13,#e5ff1b,#d1ff2e,#b9ff47,#8aff76,#3effc2,#00f5ff,#0096ff,#0024ff,#004cff,#00b9ff,#0ffff0,#53ffad,#92ff6d,#d7ff29,#fff600,#ffdc00,#ffd000,#ffd600,#ffe400,#fff800,#f4ff0b,#e4ff1b)"></i><i style="background:linear-gradient(90deg,#daff25,#eaff16,#fdff02,#fff000,#ffe500,#ffe600,#fff700,#e6ff19,#adff53,#6bff95,#2fffd0,#00e8ff,#0089ff,#0027ff,#004eff,#00bbff,#0dfff3,#52ffad,#99ff67,#bbff45,#d2ff2d,#e1ff1e,#e5ff1a,#deff22,#cbff34,#b3ff4d,#86ff7a,#3cffc3,#00f5ff,#009aff,#0029ff,#0043ff,#00abff,#00ffff,#42ffbe,#7eff82,#c0ff3f,#f2ff0d,#fff100,#ffe300,#ffe800,#fff400,#f7ff08,#e5ff1a,#d6ff29)"></i><i style="background:linear-gradient(90deg,#cdff32,#dcff23,#f0ff10,#feff01,#fff600,#fff900,#f2ff0d,#d1ff2f,#98ff68,#59ffa7,#20ffe0,#00daff,#007dff,#0022ff,#0055ff,#00beff,#0cfff3,#51ffaf,#95ff6b,#b5ff4b,#ccff33,#daff25,#deff21,#d7ff28,#c5ff3a,#aeff52,#83ff7d,#3bffc5,#00f6ff,#009eff,#0030ff,#003bff,#009eff,#00f1ff,#32ffce,#6bff95,#abff55,#ddff22,#f9ff06,#fff600,#fff900,#faff05,#eaff16,#d7ff28,#c9ff37)"></i><i style="background:linear-gradient(90deg,#c2ff3e,#d1ff2f,#e3ff1c,#f0ff0f,#f8ff07,#f3ff0c,#e0ff1f,#bdff43,#84ff7c,#49ffb7,#11ffee,#00cdff,#0071ff,#001dff,#005cff,#00c1ff,#0cfff3,#4fffb0,#91ff6f,#b0ff50,#c7ff39,#d4ff2b,#d8ff27,#d1ff2e,#bfff40,#a9ff57,#80ff80,#39ffc6,#00f6ff,#00a3ff,#0037ff,#0033ff,#0091ff,#00e3ff,#23ffdc,#5affa6,#97ff69,#caff35,#e7ff18,#f7ff08,#f7ff08,#ecff13,#deff22,#cbff34,#bdff42)"></i><i style="background:linear-gradient(90deg,#b7ff48,#c7ff39,#d8ff27,#e3ff1c,#eaff15,#e2ff1d,#ceff31,#aaff56,#72ff8e,#3affc6,#04fffc,#00c0ff,#0066ff,#001aff,#0062ff,#00c3ff,#0cfff3,#4effb2,#8eff72,#abff55,#c1ff3e,#ceff31,#d2ff2d,#cbff34,#baff45,#a4ff5c,#7dff83,#38ffc7,#00f7ff,#00a7ff,#003eff,#002cff,#0084ff,#00d6ff,#15ffea,#4affb6,#85ff7b,#b8ff48,#d6ff29,#e7ff19,#e9ff16,#e0ff1f,#d3ff2c,#c1ff3e,#b3ff4c)"></i><i style="background:linear-gradient(90deg,#aeff52,#bdff42,#cdff32,#d8ff28,#ddff22,#d3ff2d,#beff42,#98ff68,#61ff9f,#2bffd4,#00f6ff,#00b5ff,#005cff,#0018ff,#0067ff,#00c6ff,#0cfff3,#4dffb3,#8aff76,#a6ff5a,#bcff44,#c8ff37,#ccff33,#c5ff3a,#b5ff4b,#9fff61,#7aff85,#37ffc8,#00f7ff,#00abff,#0046ff,#0026ff,#0079ff,#00caff,#08fff7,#3bffc5,#73ff8d,#a6ff59,#c6ff3a,#d7ff28,#dcff23,#d5ff2b,#c9ff37,#b8ff48,#aaff56)"></i><i style="background:linear-gradient(90deg,#a4ff5b,#b4ff4b,#c3ff3d,#ccff33,#d0ff30,#c4ff3c,#aeff52,#87ff79,#51ffaf,#1effe1,#00e9ff,#00aaff,#0053ff,#0017ff,#006cff,#00c8ff,#0cfff3,#4cffb4,#87ff79,#a1ff5e,#b7ff49,#c3ff3d,#c7ff39,#c0ff3f,#b0ff50,#9bff65,#78ff88,#37ffc9,#00f8ff,#00afff,#004dff,#0021ff,#006eff,#00bfff,#00fbff,#2dffd2,#62ff9e,#95ff6a,#b6ff49,#c8ff37,#d0ff30,#c9ff36,#bfff41,#afff51,#a1ff5f)"></i><i style="background:linear-gradient(90deg,#9bff64,#abff54,#b8ff48,#c1ff3f,#c2ff3d,#b6ff4a,#9fff61,#76ff8a,#42ffbe,#12ffed,#00deff,#009fff,#004cff,#0018ff,#0071ff,#00caff,#0cfff3,#4bffb5,#84ff7c,#9dff62,#b2ff4d,#beff42,#c2ff3e,#bbff44,#acff54,#97ff69,#76ff8a,#36ffc9,#00f8ff,#00b2ff,#0054ff,#001dff,#0064ff,#00b4ff,#00efff,#20ffdf,#52ffad,#85ff7b,#a7ff59,#baff46,#c3ff3c,#beff41,#b5ff4b,#a6ff5a,#97ff68)"></i><i style="background:linear-gradient(90deg,#92ff6d,#a2ff5e,#adff52,#b5ff4a,#b4ff4b,#a7ff59,#8fff71,#66ff9a,#33ffcc,#06fffa,#00d3ff,#0094ff,#0045ff,#001aff,#0076ff,#00ccff,#0cfff3,#4affb6,#81ff7f,#9aff66,#aeff52,#b9ff46,#bdff43,#b7ff49,#a8ff58,#93ff6d,#74ff8c,#36ffca,#00f9ff,#00b5ff,#005aff,#001aff,#005bff,#00a9ff,#00e3ff,#13ffec,#43ffbd,#74ff8c,#98ff68,#acff54,#b6ff49,#b3ff4c,#aaff55,#9dff63,#8eff72)"></i><i style="background:linear-gradient(90deg,#8aff76,#98ff67,#a2ff5d,#a9ff56,#a6ff59,#98ff67,#80ff80,#56ffaa,#25ffdb,#00f8ff,#00c7ff,#008aff,#003dff,#001eff,#007bff,#00cfff,#0cfff3,#49ffb6,#7eff82,#96ff6a,#aaff56,#b5ff4b,#b8ff47,#b2ff4d,#a4ff5c,#90ff70,#72ff8e,#36ffca,#00f9ff,#00b9ff,#0060ff,#0018ff,#0052ff,#009fff,#00d8ff,#07fff8,#33ffcc,#64ff9c,#89ff77,#9dff62,#a9ff57,#a8ff58,#a0ff60,#94ff6c,#85ff7b)"></i><i style="background:linear-gradient(90deg,#81ff7f,#8fff71,#98ff68,#9eff62,#98ff67,#8aff76,#70ff90,#46ffba,#17ffe8,#00edff,#00bcff,#007fff,#0036ff,#0023ff,#0081ff,#00d1ff,#0dfff3,#49ffb7,#7bff85,#92ff6e,#a6ff5a,#b0ff4f,#b4ff4c,#aeff52,#a0ff60,#8cff74,#6fff90,#35ffca,#00faff,#00bcff,#0066ff,#0017ff,#004aff,#0095ff,#00ccff,#00faff,#25ffdb,#54ffac,#79ff87,#8fff71,#9bff64,#9dff63,#95ff6b,#8bff75,#7dff83)"></i><i style="background:linear-gradient(90deg,#79ff87,#85ff7b,#8eff72,#92ff6e,#8bff75,#7bff84,#60ff9f,#36ffc9,#0afff5,#00e1ff,#00b2ff,#0074ff,#0030ff,#002aff,#0086ff,#00d2ff,#0dfff3,#48ffb8,#78ff88,#8eff72,#a1ff5e,#acff54,#afff51,#a9ff56,#9cff64,#88ff78,#6dff93,#35ffcb,#00fbff,#00beff,#006bff,#0018ff,#0043ff,#008aff,#00c1ff,#00eeff,#17ffe8,#44ffbb,#6bff95,#81ff7f,#8eff72,#91ff6e,#8bff75,#82ff7e,#75ff8b)"></i><i style="background:linear-gradient(90deg,#71ff8f,#7cff84,#84ff7c,#86ff79,#7eff82,#6eff92,#51ffaf,#28ffd8,#00fdff,#00d6ff,#00a8ff,#006aff,#002aff,#0031ff,#008bff,#00d4ff,#0cfff3,#46ffb9,#74ff8c,#8aff76,#9cff63,#a6ff59,#aaff56,#a4ff5c,#97ff69,#84ff7c,#6aff96,#34ffcc,#00fbff,#00c0ff,#0070ff,#001bff,#003cff,#0080ff,#00b7ff,#00e3ff,#0afff5,#35ffca,#5cffa4,#74ff8c,#81ff7f,#87ff79,#82ff7e,#79ff87,#6dff93)"></i><i style="background:linear-gradient(90deg,#6aff96,#73ff8d,#7aff86,#7bff85,#72ff8e,#61ff9f,#43ffbd,#1affe5,#00f2ff,#00ccff,#009eff,#0061ff,#0024ff,#0038ff,#008fff,#00d4ff,#0bfff4,#44ffbb,#70ff90,#84ff7b,#97ff69,#a0ff5f,#a3ff5c,#9eff62,#91ff6e,#7fff81,#66ff9a,#32ffcd,#00faff,#00c2ff,#0074ff,#001fff,#0036ff,#0077ff,#00adff,#00d8ff,#00fdff,#27ffd8,#4effb2,#67ff99,#75ff8b,#7cff84,#78ff88,#71ff8f,#66ff9a)"></i><i style="background:linear-gradient(90deg,#62ff9d,#6bff95,#71ff8f,#71ff8f,#66ff99,#54ffab,#36ffca,#0efff1,#00e8ff,#00c3ff,#0096ff,#0059ff,#0020ff,#003eff,#0091ff,#00d3ff,#08fff7,#40ffc0,#69ff97,#7dff83,#8eff71,#98ff68,#9bff65,#95ff6a,#89ff77,#77ff89,#60ffa0,#2effd1,#00f7ff,#00c1ff,#0078ff,#0023ff,#0030ff,#006eff,#00a5ff,#00cfff,#00f3ff,#1bffe4,#41ffbf,#5bffa5,#6aff96,#72ff8e,#70ff90,#69ff97,#5fffa1)"></i><i style="background:linear-gradient(90deg,#5cffa4,#63ff9c,#69ff97,#66ff99,#5cffa4,#49ffb6,#2affd5,#03fffc,#00dfff,#00baff,#008eff,#0051ff,#001dff,#0043ff,#0093ff,#00d1ff,#04fffb,#3affc5,#61ff9f,#74ff8c,#85ff7b,#8eff72,#91ff6f,#8cff74,#80ff80,#6fff91,#59ffa7,#29ffd6,#00f4ff,#00c0ff,#007bff,#0028ff,#002bff,#0066ff,#009cff,#00c6ff,#00e9ff,#0ffff0,#35ffcb,#50ffb0,#60ffa0,#69ff97,#68ff98,#61ff9f,#58ffa7)"></i><i style="background:linear-gradient(90deg,#55ffab,#5cffa4,#60ff9f,#5dffa3,#52ffae,#3effc1,#1fffe0,#00f8ff,#00d6ff,#00b2ff,#0086ff,#004bff,#001aff,#0048ff,#0094ff,#00cfff,#01fffe,#35ffcb,#5affa6,#6cff94,#7cff84,#85ff7b,#88ff78,#83ff7d,#78ff88,#67ff99,#52ffae,#25ffdb,#00f1ff,#00bfff,#007dff,#002dff,#0027ff,#005eff,#0095ff,#00beff,#00e0ff,#04fffb,#29ffd6,#45ffba,#56ffaa,#5fffa1,#5fffa0,#5affa6,#52ffae)"></i><i style="background:linear-gradient(90deg,#4dffb2,#54ffac,#58ffa8,#53ffad,#47ffb8,#34ffcc,#14ffeb,#00eeff,#00ceff,#00abff,#007fff,#0046ff,#0019ff,#004cff,#0096ff,#00ceff,#00feff,#32ffce,#55ffab,#66ff9a,#76ff89,#7fff81,#81ff7f,#7dff83,#72ff8e,#61ff9e,#4dffb2,#22ffdd,#00efff,#00bfff,#007fff,#0032ff,#0023ff,#0058ff,#008eff,#00b6ff,#00d8ff,#00f9ff,#1effe1,#3bffc5,#4cffb4,#55ffaa,#57ffa8,#52ffae,#4bffb5)"></i><i style="background:linear-gradient(90deg,#46ffba,#4cffb4,#4fffb1,#49ffb7,#3dffc3,#29ffd7,#09fff6,#00e5ff,#00c6ff,#00a3ff,#0079ff,#0040ff,#0017ff,#0051ff,#0099ff,#00d0ff,#00ffff,#33ffcd,#55ffab,#66ff9a,#76ff8a,#7eff82,#81ff7f,#7cff84,#71ff8e,#61ff9f,#4dffb2,#23ffdc,#00f1ff,#00c1ff,#0083ff,#0037ff,#0020ff,#0051ff,#0087ff,#00afff,#00cfff,#00efff,#13ffec,#30ffcf,#41ffbe,#4bffb4,#4effb1,#4affb5,#43ffbc)"></i><i style="background:linear-gradient(90deg,#3dffc2,#43ffbd,#45ffbb,#3effc1,#32ffce,#1dffe2,#00fdff,#00dbff,#00beff,#009bff,#0072ff,#003cff,#0017ff,#0058ff,#00a1ff,#00d9ff,#0afff6,#3dffc2,#60ffa0,#71ff8f,#81ff7f,#8aff76,#8cff74,#88ff78,#7dff83,#6cff94,#58ffa8,#2effd2,#00faff,#00c9ff,#008bff,#003eff,#001dff,#004bff,#0080ff,#00a7ff,#00c7ff,#00e5ff,#08fff7,#25ffda,#36ffc9,#41ffbf,#45ffbb,#41ffbe,#3bffc4)"></i><i style="background:linear-gradient(90deg,#34ffcb,#39ffc6,#3affc5,#33ffcc,#26ffd9,#11ffee,#00f1ff,#00d2ff,#00b5ff,#0094ff,#006bff,#0038ff,#0017ff,#005fff,#00acff,#00e6ff,#19ffe6,#4fffb1,#72ff8e,#84ff7c,#95ff6b,#9eff62,#a0ff5f,#9bff64,#90ff6f,#7fff81,#6aff95,#3fffc1,#09fff6,#00d5ff,#0096ff,#0045ff,#001bff,#0046ff,#0079ff,#009fff,#00beff,#00dbff,#00fcff,#19ffe6,#2bffd4,#36ffca,#3bffc5,#38ffc7,#32ffcd)"></i><i style="background:linear-gradient(90deg,#2bffd5,#30ffd0,#2fffd0,#28ffd7,#1bffe4,#05fffa,#00e6ff,#00c9ff,#00adff,#008dff,#0064ff,#0034ff,#0018ff,#0068ff,#00b8ff,#00f3ff,#29ffd6,#62ff9e,#86ff7a,#99ff67,#abff55,#b3ff4c,#b6ff49,#b1ff4e,#a6ff5a,#93ff6c,#7eff82,#51ffae,#19ffe6,#00e3ff,#00a1ff,#004eff,#0019ff,#0041ff,#0072ff,#0097ff,#00b6ff,#00d1ff,#00f0ff,#0dfff2,#20ffe0,#2affd5,#30ffcf,#2effd1,#29ffd6)"></i><i style="background:linear-gradient(90deg,#21ffde,#25ffda,#24ffdb,#1cffe3,#0ffff0,#00f8ff,#00dbff,#00bfff,#00a5ff,#0085ff,#005eff,#0030ff,#001bff,#0070ff,#00c2ff,#00ffff,#37ffc9,#71ff8f,#95ff6b,#a9ff57,#bbff44,#c4ff3b,#c7ff38,#c2ff3e,#b6ff4a,#a3ff5d,#8dff72,#60ffa0,#25ffda,#00eeff,#00abff,#0056ff,#0018ff,#003cff,#006cff,#0090ff,#00adff,#00c8ff,#00e5ff,#01fffe,#14ffeb,#1fffe0,#25ffda,#24ffdb,#1fffe0)"></i><i style="background:linear-gradient(90deg,#17ffe8,#1affe5,#18ffe7,#10ffef,#03fffc,#00ecff,#00d0ff,#00b6ff,#009dff,#007eff,#0057ff,#002cff,#001eff,#0075ff,#00c8ff,#05fffa,#3cffc3,#77ff89,#9aff66,#aeff52,#c0ff40,#c9ff37,#ccff34,#c7ff39,#bbff45,#a8ff58,#92ff6e,#66ff9a,#2affd5,#00f3ff,#00b1ff,#005cff,#0017ff,#0038ff,#0065ff,#0088ff,#00a5ff,#00beff,#00d9ff,#00f4ff,#08fff7,#13ffec,#1affe5,#1affe6,#15ffea)"></i><i style="background:linear-gradient(90deg,#0bfff4,#0efff1,#0bfff4,#04fffc,#00f5ff,#00e0ff,#00c5ff,#00acff,#0094ff,#0077ff,#0051ff,#0028ff,#0021ff,#0078ff,#00c8ff,#03fffc,#39ffc6,#72ff8e,#94ff6c,#a7ff59,#b9ff47,#c2ff3e,#c5ff3b,#bfff40,#b4ff4c,#a2ff5e,#8dff73,#62ff9e,#28ffd7,#00f1ff,#00b2ff,#0060ff,#0017ff,#0034ff,#005eff,#0080ff,#009cff,#00b4ff,#00cdff,#00e7ff,#00faff,#06fff9,#0dfff2,#0efff1,#0afff5)"></i><i style="background:linear-gradient(90deg,#00feff,#01fffe,#00fcff,#00f5ff,#00e8ff,#00d2ff,#00b9ff,#00a2ff,#008bff,#006fff,#004aff,#0025ff,#0025ff,#007aff,#00c5ff,#00fcff,#31ffce,#68ff98,#87ff78,#99ff66,#abff55,#b3ff4d,#b6ff4a,#b1ff4f,#a6ff5a,#94ff6c,#80ff80,#58ffa8,#20ffdf,#00ecff,#00b0ff,#0061ff,#0017ff,#0030ff,#0057ff,#0078ff,#0093ff,#00a9ff,#00c1ff,#00d9ff,#00ecff,#00f7ff,#00feff,#01fffe,#00fcff)"></i><i style="background:linear-gradient(90deg,#00efff,#00f0ff,#00ecff,#00e5ff,#00d8ff,#00c4ff,#00acff,#0097ff,#0081ff,#0067ff,#0044ff,#0022ff,#0029ff,#0079ff,#00c0ff,#00f4ff,#26ffd9,#59ffa6,#77ff89,#88ff78,#98ff68,#a0ff60,#a3ff5d,#9eff62,#94ff6c,#83ff7d,#70ff90,#4bffb5,#16ffe9,#00e4ff,#00adff,#0062ff,#0018ff,#002cff,#0050ff,#006fff,#0088ff,#009dff,#00b3ff,#00caff,#00dcff,#00e7ff,#00eeff,#00f0ff,#00eeff)"></i><i style="background:linear-gradient(90deg,#00dcff,#00ddff,#00d9ff,#00d1ff,#00c5ff,#00b2ff,#009dff,#008aff,#0076ff,#005eff,#003dff,#001fff,#002dff,#0078ff,#00baff,#00eaff,#1affe5,#4bffb5,#66ff9a,#76ff8a,#85ff7b,#8cff73,#8fff71,#8bff75,#81ff7f,#71ff8f,#60ffa0,#3dffc3,#0bfff4,#00dcff,#00a8ff,#0062ff,#001aff,#0028ff,#0048ff,#0066ff,#007dff,#0090ff,#00a3ff,#00b8ff,#00caff,#00d4ff,#00daff,#00ddff,#00dbff)"></i><i style="background:linear-gradient(90deg,#00c8ff,#00c8ff,#00c4ff,#00bdff,#00b1ff,#00a0ff,#008dff,#007cff,#006aff,#0054ff,#0037ff,#001cff,#0030ff,#0078ff,#00b5ff,#00e3ff,#10ffef,#3effc2,#57ffa9,#66ff99,#75ff8b,#7cff84,#7eff82,#7aff86,#71ff8f,#62ff9e,#51ffae,#31ffce,#02fffd,#00d5ff,#00a5ff,#0063ff,#001dff,#0024ff,#0041ff,#005bff,#0070ff,#0081ff,#0092ff,#00a5ff,#00b5ff,#00bfff,#00c5ff,#00c8ff,#00c7ff)"></i><i style="background:linear-gradient(90deg,#00b3ff,#00b3ff,#00afff,#00a8ff,#009dff,#008eff,#007eff,#006fff,#005fff,#004bff,#0031ff,#001aff,#0034ff,#0078ff,#00b1ff,#00dcff,#08fff7,#33ffcd,#4affb6,#58ffa7,#66ff9a,#6dff93,#6fff91,#6bff95,#63ff9d,#54ffac,#45ffbb,#27ffd9,#00f9ff,#00cfff,#00a2ff,#0064ff,#0020ff,#0021ff,#0039ff,#0052ff,#0064ff,#0074ff,#0082ff,#0093ff,#00a1ff,#00abff,#00b0ff,#00b4ff,#00b3ff)"></i><i style="background:linear-gradient(90deg,#00a1ff,#00a0ff,#009cff,#0096ff,#008cff,#007eff,#0070ff,#0063ff,#0055ff,#0043ff,#002cff,#0019ff,#0038ff,#0078ff,#00adff,#00d5ff,#00feff,#27ffd8,#3dffc3,#4bffb5,#58ffa8,#5effa2,#60ffa0,#5cffa4,#54ffac,#46ffb9,#38ffc8,#1cffe3,#00f1ff,#00c9ff,#009fff,#0064ff,#0023ff,#001eff,#0033ff,#0049ff,#0059ff,#0067ff,#0074ff,#0082ff,#008fff,#0098ff,#009dff,#00a1ff,#00a0ff)"></i><i style="background:linear-gradient(90deg,#0091ff,#0090ff,#008cff,#0086ff,#007dff,#0071ff,#0064ff,#0059ff,#004cff,#003cff,#0028ff,#0018ff,#003cff,#0077ff,#00a8ff,#00cfff,#00f5ff,#1cffe3,#30ffd0,#3dffc3,#49ffb7,#4fffb1,#51ffaf,#4dffb2,#46ffba,#39ffc7,#2bffd4,#12ffed,#00e9ff,#00c3ff,#009bff,#0065ff,#0027ff,#001cff,#002eff,#0042ff,#0050ff,#005dff,#0068ff,#0075ff,#0080ff,#0089ff,#008eff,#0091ff,#0091ff)"></i><i style="background:linear-gradient(90deg,#0082ff,#0080ff,#007dff,#0077ff,#006fff,#0064ff,#0059ff,#0050ff,#0044ff,#0036ff,#0024ff,#0017ff,#003fff,#0076ff,#00a4ff,#00c8ff,#00ecff,#10ffef,#23ffdd,#2fffd1,#3affc5,#40ffc0,#42ffbe,#3effc1,#37ffc8,#2bffd4,#1effe1,#07fff8,#00e0ff,#00bdff,#0097ff,#0065ff,#002bff,#001aff,#0029ff,#003bff,#0048ff,#0053ff,#005cff,#0067ff,#0072ff,#0079ff,#007eff,#0081ff,#0082ff)"></i><i style="background:linear-gradient(90deg,#0073ff,#0071ff,#006eff,#0069ff,#0061ff,#0058ff,#004fff,#0047ff,#003dff,#0030ff,#0021ff,#0017ff,#0042ff,#0075ff,#009fff,#00c0ff,#00e3ff,#05fffa,#16ffea,#21ffde,#2cffd4,#31ffcf,#32ffcd,#2fffd0,#29ffd6,#1dffe2,#11ffee,#00fbff,#00d8ff,#00b6ff,#0093ff,#0065ff,#002fff,#0019ff,#0025ff,#0034ff,#0040ff,#0049ff,#0052ff,#005bff,#0064ff,#006bff,#006fff,#0072ff,#0073ff)"></i><i style="background:linear-gradient(90deg,#0066ff,#0065ff,#0062ff,#005dff,#0056ff,#004eff,#0047ff,#003fff,#0036ff,#002bff,#001fff,#0017ff,#0043ff,#0074ff,#009aff,#00b9ff,#00daff,#00f8ff,#09fff6,#13ffec,#1dffe2,#22ffdd,#24ffdc,#21ffde,#1bffe4,#10ffef,#05fffa,#00f0ff,#00d0ff,#00b0ff,#008fff,#0065ff,#0032ff,#0018ff,#0022ff,#002fff,#0039ff,#0042ff,#0049ff,#0050ff,#0058ff,#005fff,#0063ff,#0065ff,#0067ff)"></i><i style="background:linear-gradient(90deg,#005eff,#005cff,#0059ff,#0055ff,#004eff,#0047ff,#0041ff,#003aff,#0032ff,#0028ff,#001dff,#0018ff,#0044ff,#0071ff,#0095ff,#00b2ff,#00d1ff,#00edff,#00fbff,#06fff9,#0ffff0,#14ffeb,#15ffea,#13ffed,#0dfff2,#03fffc,#00f7ff,#00e6ff,#00c7ff,#00a9ff,#008bff,#0064ff,#0035ff,#0017ff,#0020ff,#002cff,#0035ff,#003cff,#0043ff,#0049ff,#0050ff,#0056ff,#005aff,#005dff,#005eff)"></i><i style="background:linear-gradient(90deg,#005aff,#0058ff,#0055ff,#0051ff,#004bff,#0044ff,#003eff,#0038ff,#0030ff,#0026ff,#001cff,#0019ff,#0044ff,#006eff,#008fff,#00aaff,#00c7ff,#00e1ff,#00edff,#00f7ff,#00ffff,#04fffb,#06fff9,#03fffc,#00fdff,#00f4ff,#00eaff,#00daff,#00beff,#00a2ff,#0086ff,#0062ff,#0037ff,#0017ff,#001fff,#002aff,#0032ff,#003aff,#0040ff,#0046ff,#004dff,#0053ff,#0056ff,#0059ff,#005aff)"></i><i style="background:linear-gradient(90deg,#0057ff,#0055ff,#0052ff,#004eff,#0048ff,#0041ff,#003cff,#0036ff,#002eff,#0025ff,#001bff,#001bff,#0043ff,#006aff,#0087ff,#00a0ff,#00bbff,#00d2ff,#00deff,#00e6ff,#00eeff,#00f2ff,#00f3ff,#00f1ff,#00ecff,#00e4ff,#00dbff,#00ccff,#00b3ff,#0099ff,#007fff,#005fff,#0037ff,#0017ff,#001eff,#0028ff,#0031ff,#0038ff,#003eff,#0043ff,#004aff,#0050ff,#0053ff,#0056ff,#0057ff)"></i><i style="background:linear-gradient(90deg,#0054ff,#0053ff,#0050ff,#004bff,#0045ff,#003fff,#003aff,#0034ff,#002dff,#0023ff,#001aff,#001cff,#0041ff,#0064ff,#007eff,#0094ff,#00adff,#00c1ff,#00cbff,#00d3ff,#00daff,#00ddff,#00deff,#00dcff,#00d8ff,#00d1ff,#00c9ff,#00bcff,#00a5ff,#008dff,#0076ff,#005aff,#0037ff,#0017ff,#001dff,#0026ff,#002fff,#0036ff,#003cff,#0041ff,#0047ff,#004dff,#0051ff,#0053ff,#0055ff)"></i><i style="background:linear-gradient(90deg,#0052ff,#0050ff,#004eff,#0049ff,#0043ff,#003eff,#0038ff,#0032ff,#002bff,#0022ff,#001aff,#001dff,#003eff,#005dff,#0073ff,#0087ff,#009dff,#00afff,#00b8ff,#00beff,#00c5ff,#00c7ff,#00c9ff,#00c7ff,#00c3ff,#00bcff,#00b5ff,#00aaff,#0096ff,#0081ff,#006dff,#0054ff,#0035ff,#0017ff,#001cff,#0025ff,#002eff,#0034ff,#003aff,#003fff,#0045ff,#004bff,#004fff,#0051ff,#0053ff)"></i><i style="background:linear-gradient(90deg,#0050ff,#004fff,#004cff,#0047ff,#0041ff,#003cff,#0037ff,#0031ff,#002aff,#0021ff,#0019ff,#001dff,#003aff,#0055ff,#0069ff,#007aff,#008dff,#009dff,#00a5ff,#00abff,#00b0ff,#00b3ff,#00b3ff,#00b2ff,#00afff,#00a9ff,#00a3ff,#0099ff,#0087ff,#0075ff,#0063ff,#004eff,#0032ff,#0018ff,#001cff,#0024ff,#002dff,#0033ff,#0039ff,#003eff,#0043ff,#0049ff,#004dff,#004fff,#0051ff)"></i><i style="background:linear-gradient(90deg,#004fff,#004dff,#004aff,#0046ff,#0040ff,#003bff,#0036ff,#0030ff,#002aff,#0021ff,#0019ff,#001dff,#0037ff,#004eff,#0060ff,#006fff,#0080ff,#008dff,#0094ff,#0099ff,#009eff,#00a0ff,#00a1ff,#00a0ff,#009dff,#0098ff,#0092ff,#008aff,#007aff,#006aff,#005bff,#0048ff,#0030ff,#0018ff,#001bff,#0024ff,#002cff,#0032ff,#0037ff,#003cff,#0042ff,#0047ff,#004bff,#004eff,#004fff)"></i><i style="background:linear-gradient(90deg,#004dff,#004cff,#0049ff,#0044ff,#003fff,#003aff,#0035ff,#0030ff,#0029ff,#0020ff,#0019ff,#001dff,#0033ff,#0047ff,#0056ff,#0064ff,#0072ff,#007eff,#0084ff,#0088ff,#008cff,#008eff,#008fff,#008eff,#008bff,#0087ff,#0082ff,#007bff,#006eff,#005fff,#0052ff,#0042ff,#002dff,#0018ff,#001bff,#0023ff,#002bff,#0031ff,#0037ff,#003bff,#0041ff,#0046ff,#004aff,#004cff,#004eff)"></i><i style="background:linear-gradient(90deg,#004cff,#004bff,#0048ff,#0043ff,#003eff,#0039ff,#0034ff,#002fff,#0028ff,#0020ff,#0019ff,#001dff,#002fff,#0040ff,#004dff,#0058ff,#0065ff,#006fff,#0074ff,#0077ff,#007bff,#007dff,#007dff,#007cff,#007aff,#0076ff,#0072ff,#006cff,#0061ff,#0055ff,#0049ff,#003cff,#002aff,#0018ff,#001bff,#0023ff,#002bff,#0031ff,#0036ff,#003bff,#0040ff,#0045ff,#0049ff,#004bff,#004dff)"></i><i style="background:linear-gradient(90deg,#004cff,#004aff,#0047ff,#0043ff,#003dff,#0038ff,#0034ff,#002eff,#0028ff,#0020ff,#0018ff,#001cff,#002cff,#003aff,#0045ff,#004eff,#0059ff,#0061ff,#0065ff,#0069ff,#006cff,#006dff,#006dff,#006dff,#006bff,#0068ff,#0064ff,#005fff,#0056ff,#004cff,#0042ff,#0036ff,#0027ff,#0018ff,#001bff,#0022ff,#002aff,#0030ff,#0035ff,#003aff,#003fff,#0044ff,#0048ff,#004bff,#004cff)"></i><i style="background:linear-gradient(90deg,#004bff,#0049ff,#0047ff,#0042ff,#003dff,#0038ff,#0034ff,#002eff,#0028ff,#001fff,#0018ff,#001cff,#0029ff,#0035ff,#003fff,#0047ff,#0050ff,#0057ff,#005aff,#005dff,#0060ff,#0061ff,#0061ff,#0061ff,#005fff,#005cff,#0059ff,#0055ff,#004dff,#0044ff,#003cff,#0032ff,#0025ff,#0018ff,#001aff,#0022ff,#002aff,#0030ff,#0035ff,#003aff,#003fff,#0044ff,#0048ff,#004aff,#004cff)"></i><i style="background:linear-gradient(90deg,#004bff,#0049ff,#0046ff,#0042ff,#003dff,#0038ff,#0033ff,#002eff,#0028ff,#001fff,#0018ff,#001bff,#0028ff,#0033ff,#003bff,#0042ff,#004aff,#0050ff,#0054ff,#0056ff,#0058ff,#0059ff,#005aff,#0059ff,#0058ff,#0055ff,#0053ff,#004fff,#0048ff,#0040ff,#0038ff,#0030ff,#0024ff,#0018ff,#001aff,#0022ff,#002aff,#0030ff,#0035ff,#0039ff,#003eff,#0043ff,#0047ff,#004aff,#004cff)"></i><i style="background:linear-gradient(90deg,#004bff,#0049ff,#0046ff,#0042ff,#003dff,#0038ff,#0033ff,#002eff,#0027ff,#001fff,#0018ff,#001bff,#0026ff,#0030ff,#0038ff,#003eff,#0046ff,#004cff,#004eff,#0051ff,#0053ff,#0054ff,#0054ff,#0053ff,#0052ff,#0050ff,#004eff,#004aff,#0043ff,#003cff,#0036ff,#002eff,#0023ff,#0018ff,#001aff,#0022ff,#002aff,#0030ff,#0035ff,#0039ff,#003eff,#0043ff,#0047ff,#004aff,#004cff)"></i><i style="background:linear-gradient(90deg,#004bff,#0049ff,#0046ff,#0042ff,#003dff,#0038ff,#0033ff,#002eff,#0027ff,#001fff,#0018ff,#001bff,#0025ff,#002eff,#0035ff,#003bff,#0042ff,#0048ff,#004aff,#004cff,#004eff,#004fff,#0050ff,#004fff,#004eff,#004cff,#004aff,#0046ff,#0040ff,#003aff,#0033ff,#002cff,#0022ff,#0018ff,#001aff,#0022ff,#0029ff,#0030ff,#0035ff,#0039ff,#003eff,#0043ff,#0047ff,#004aff,#004bff)"></i>
</div></div>
<svg width="2344" height="2344" viewBox="0 0 2344 2344">
<g id="structures">
<polygon points="481.1,265.2 326.1,175 533,107.4 688,197.6" fill="#3E62AD" stroke="#000" stroke-width="1.0" stroke-linejoin="round"/>
<polygon points="481.1,265.2 326.1,175 326.1,199 481.1,289.2" fill="#3E62AD" stroke="#000" stroke-width="1.0" stroke-linejoin="round"/>
<polygon points="481.1,265.2 688,197.6 688,221.6 481.1,289.2" fill="#2F4E8A" stroke="#000" stroke-width="1.0" stroke-linejoin="round"/>
<polygon points="481.1,289.2 326.1,199 326.1,238.3 481.1,328.5" fill="#A9CA82" stroke="#000" stroke-width="1.0" stroke-linejoin="round"/>
<polygon points="481.1,289.2 688,221.6 688,260.9 481.1,328.5" fill="#688A3A" stroke="#000" stroke-width="1.0" stroke-linejoin="round"/>
<polygon points="481.1,328.5 326.1,238.3 326.1,277.6 481.1,367.8" fill="#3E62AD" stroke="#000" stroke-width="1.0" stroke-linejoin="round"/>
<polygon points="481.1,328.5 688,260.9 688,300.2 481.1,367.8" fill="#2F4E8A" stroke="#000" stroke-width="1.0" stroke-linejoin="round"/>
<polygon points="481.1,367.8 326.1,277.6 326.1,316.9 481.1,407.1" fill="#A9CA82" stroke="#000" stroke-width="1.0" stroke-linejoin="round"/>
<polygon points="481.1,367.8 688,300.2 688,339.5 481.1,407.1" fill="#688A3A" stroke="#000" stroke-width="1.0" stroke-linejoin="round"/>
<polygon points="481.1,407.1 326.1,316.9 326.1,340.9 481.1,431.1" fill="#3E62AD" stroke="#000" stroke-width="1.0" stroke-linejoin="round"/>
<polygon points="481.1,407.1 688,339.5 688,363.5 481.1,431.1" fill="#2F4E8A" stroke="#000" stroke-width="1.0" stroke-linejoin="round"/>
<polygon points="969.5,200.9 929.9,177.8 982.3,160.2 1021.9,183.3" fill="#3E62AD" stroke="#1c2f5c" stroke-width="0.7" stroke-linejoin="round"/>
<polygon points="969.5,200.9 929.9,177.8 929.9,189.8 969.5,212.9" fill="#3E62AD" stroke="#1c2f5c" stroke-width="0.7" stroke-linejoin="round"/>
<polygon points="969.5,200.9 1021.9,183.3 1021.9,195.3 969.5,212.9" fill="#2F4E8A" stroke="#1c2f5c" stroke-width="0.7" stroke-linejoin="round"/>
<polygon points="969.5,212.9 929.9,189.8 929.9,209.7 969.5,232.8" fill="#A9CA82" stroke="#1c2f5c" stroke-width="0.7" stroke-linejoin="round"/>
<polygon points="969.5,212.9 1021.9,195.3 1021.9,215.2 969.5,232.8" fill="#688A3A" stroke="#1c2f5c" stroke-width="0.7" stroke-linejoin="round"/>
<polygon points="969.5,232.8 929.9,209.7 929.9,229.6 969.5,252.7" fill="#3E62AD" stroke="#1c2f5c" stroke-width="0.7" stroke-linejoin="round"/>
<polygon points="969.5,232.8 1021.9,215.2 1021.9,235.1 969.5,252.7" fill="#2F4E8A" stroke="#1c2f5c" stroke-width="0.7" stroke-linejoin="round"/>
<polygon points="969.5,252.7 929.9,229.6 929.9,249.5 969.5,272.6" fill="#A9CA82" stroke="#1c2f5c" stroke-width="0.7" stroke-linejoin="round"/>
<polygon points="969.5,252.7 1021.9,235.1 1021.9,255 969.5,272.6" fill="#688A3A" stroke="#1c2f5c" stroke-width="0.7" stroke-linejoin="round"/>
<polygon points="969.5,272.6 929.9,249.5 929.9,261.5 969.5,284.6" fill="#3E62AD" stroke="#1c2f5c" stroke-width="0.7" stroke-linejoin="round"/>
<polygon points="969.5,272.6 1021.9,255 1021.9,267 969.5,284.6" fill="#2F4E8A" stroke="#1c2f5c" stroke-width="0.7" stroke-linejoin="round"/>
<polygon points="873.2,247.2 833.6,224.1 886,206.5 925.6,229.6" fill="#3E62AD" stroke="#1c2f5c" stroke-width="0.7" stroke-linejoin="round"/>
<polygon points="873.2,247.2 833.6,224.1 833.6,236.1 873.2,259.2" fill="#3E62AD" stroke="#1c2f5c" stroke-width="0.7" stroke-linejoin="round"/>
<polygon points="873.2,247.2 925.6,229.6 925.6,241.6 873.2,259.2" fill="#2F4E8A" stroke="#1c2f5c" stroke-width="0.7" stroke-linejoin="round"/>
<polygon points="873.2,259.2 833.6,236.1 833.6,256 873.2,279.1" fill="#A9CA82" stroke="#1c2f5c" stroke-width="0.7" stroke-linejoin="round"/>
<polygon points="873.2,259.2 925.6,241.6 925.6,261.5 873.2,279.1" fill="#688A3A" stroke="#1c2f5c" stroke-width="0.7" stroke-linejoin="round"/>
<polygon points="873.2,279.1 833.6,256 833.6,275.9 873.2,299" fill="#3E62AD" stroke="#1c2f5c" stroke-width="0.7" stroke-linejoin="round"/>
<polygon points="873.2,279.1 925.6,261.5 925.6,281.4 873.2,299" fill="#2F4E8A" stroke="#1c2f5c" stroke-width="0.7" stroke-linejoin="round"/>
<polygon points="873.2,299 833.6,275.9 833.6,295.8 873.2,318.9" fill="#A9CA82" stroke="#1c2f5c" stroke-width="0.7" stroke-linejoin="round"/>
<polygon points="873.2,299 925.6,281.4 925.6,301.3 873.2,318.9" fill="#688A3A" stroke="#1c2f5c" stroke-width="0.7" stroke-linejoin="round"/>
<polygon points="873.2,318.9 833.6,295.8 833.6,307.8 873.2,330.9" fill="#3E62AD" stroke="#1c2f5c" stroke-width="0.7" stroke-linejoin="round"/>
<polygon points="873.2,318.9 925.6,301.3 925.6,313.3 873.2,330.9" fill="#2F4E8A" stroke="#1c2f5c" stroke-width="0.7" stroke-linejoin="round"/>
<polygon points="1065.4,265.3 1025.8,242.2 1078.2,224.6 1117.8,247.7" fill="#3E62AD" stroke="#1c2f5c" stroke-width="0.7" stroke-linejoin="round"/>
<polygon points="1065.4,265.3 1025.8,242.2 1025.8,254.2 1065.4,277.3" fill="#3E62AD" stroke="#1c2f5c" stroke-width="0.7" stroke-linejoin="round"/>
<polygon points="1065.4,265.3 1117.8,247.7 1117.8,259.7 1065.4,277.3" fill="#2F4E8A" stroke="#1c2f5c" stroke-width="0.7" stroke-linejoin="round"/>
<polygon points="1065.4,277.3 1025.8,254.2 1025.8,274.1 1065.4,297.2" fill="#A9CA82" stroke="#1c2f5c" stroke-width="0.7" stroke-linejoin="round"/>
<polygon points="1065.4,277.3 1117.8,259.7 1117.8,279.6 1065.4,297.2" fill="#688A3A" stroke="#1c2f5c" stroke-width="0.7" stroke-linejoin="round"/>
<polygon points="1065.4,297.2 1025.8,274.1 1025.8,294 1065.4,317.1" fill="#3E62AD" stroke="#1c2f5c" stroke-width="0.7" stroke-linejoin="round"/>
<polygon points="1065.4,297.2 1117.8,279.6 1117.8,299.5 1065.4,317.1" fill="#2F4E8A" stroke="#1c2f5c" stroke-width="0.7" stroke-linejoin="round"/>
<polygon points="1065.4,317.1 1025.8,294 1025.8,313.9 1065.4,337" fill="#A9CA82" stroke="#1c2f5c" stroke-width="0.7" stroke-linejoin="round"/>
<polygon points="1065.4,317.1 1117.8,299.5 1117.8,319.4 1065.4,337" fill="#688A3A" stroke="#1c2f5c" stroke-width="0.7" stroke-linejoin="round"/>
<polygon points="1065.4,337 1025.8,313.9 1025.8,325.9 1065.4,349" fill="#3E62AD" stroke="#1c2f5c" stroke-width="0.7" stroke-linejoin="round"/>
<polygon points="1065.4,337 1117.8,319.4 1117.8,331.4 1065.4,349" fill="#2F4E8A" stroke="#1c2f5c" stroke-width="0.7" stroke-linejoin="round"/>
<polygon points="964.6,298.8 925,275.7 977.4,258.1 1017,281.2" fill="#3E62AD" stroke="#1c2f5c" stroke-width="0.7" stroke-linejoin="round"/>
<polygon points="964.6,298.8 925,275.7 925,287.7 964.6,310.8" fill="#3E62AD" stroke="#1c2f5c" stroke-width="0.7" stroke-linejoin="round"/>
<polygon points="964.6,298.8 1017,281.2 1017,293.2 964.6,310.8" fill="#2F4E8A" stroke="#1c2f5c" stroke-width="0.7" stroke-linejoin="round"/>
<polygon points="964.6,310.8 925,287.7 925,307.6 964.6,330.7" fill="#A9CA82" stroke="#1c2f5c" stroke-width="0.7" stroke-linejoin="round"/>
<polygon points="964.6,310.8 1017,293.2 1017,313.1 964.6,330.7" fill="#688A3A" stroke="#1c2f5c" stroke-width="0.7" stroke-linejoin="round"/>
<polygon points="964.6,330.7 925,307.6 925,327.5 964.6,350.6" fill="#3E62AD" stroke="#1c2f5c" stroke-width="0.7" stroke-linejoin="round"/>
<polygon points="964.6,330.7 1017,313.1 1017,333 964.6,350.6" fill="#2F4E8A" stroke="#1c2f5c" stroke-width="0.7" stroke-linejoin="round"/>
<polygon points="964.6,350.6 925,327.5 925,347.4 964.6,370.5" fill="#A9CA82" stroke="#1c2f5c" stroke-width="0.7" stroke-linejoin="round"/>
<polygon points="964.6,350.6 1017,333 1017,352.9 964.6,370.5" fill="#688A3A" stroke="#1c2f5c" stroke-width="0.7" stroke-linejoin="round"/>
<polygon points="964.6,370.5 925,347.4 925,359.4 964.6,382.5" fill="#3E62AD" stroke="#1c2f5c" stroke-width="0.7" stroke-linejoin="round"/>
<polygon points="964.6,370.5 1017,352.9 1017,364.9 964.6,382.5" fill="#2F4E8A" stroke="#1c2f5c" stroke-width="0.7" stroke-linejoin="round"/>
<polygon points="1423.1,346.8 1267.1,256.5 1475.3,189 1631.3,279.3" fill="#FCBC14" stroke="#000" stroke-width="1.0" stroke-linejoin="round"/>
<polygon points="1423.1,346.8 1267.1,256.5 1267.1,322.9 1423.1,413.2" fill="#FCBC14" stroke="#000" stroke-width="1.0" stroke-linejoin="round"/>
<polygon points="1423.1,346.8 1631.3,279.3 1631.3,345.7 1423.1,413.2" fill="#CE9706" stroke="#000" stroke-width="1.0" stroke-linejoin="round"/>
<polygon points="1423.1,413.2 1267.1,322.9 1267.1,389.4 1423.1,479.7" fill="#2EE1E9" stroke="#000" stroke-width="1.0" stroke-linejoin="round"/>
<polygon points="1423.1,413.2 1631.3,345.7 1631.3,412.2 1423.1,479.7" fill="#25ADB5" stroke="#000" stroke-width="1.0" stroke-linejoin="round"/>
<polygon points="1426.7,168.5 1293.8,91.3 1470.8,33 1603.7,110.2" fill="#3E62AD" stroke="#000" stroke-width="1.0" stroke-linejoin="round"/>
<polygon points="1426.7,168.5 1293.8,91.3 1293.8,115.3 1426.7,192.5" fill="#3E62AD" stroke="#000" stroke-width="1.0" stroke-linejoin="round"/>
<polygon points="1426.7,168.5 1603.7,110.2 1603.7,134.2 1426.7,192.5" fill="#2F4E8A" stroke="#000" stroke-width="1.0" stroke-linejoin="round"/>
<polygon points="1426.7,192.5 1293.8,115.3 1293.8,154.6 1426.7,231.8" fill="#A9CA82" stroke="#000" stroke-width="1.0" stroke-linejoin="round"/>
<polygon points="1426.7,192.5 1603.7,134.2 1603.7,173.5 1426.7,231.8" fill="#688A3A" stroke="#000" stroke-width="1.0" stroke-linejoin="round"/>
<polygon points="1426.7,231.8 1293.8,154.6 1293.8,193.9 1426.7,271.1" fill="#3E62AD" stroke="#000" stroke-width="1.0" stroke-linejoin="round"/>
<polygon points="1426.7,231.8 1603.7,173.5 1603.7,212.8 1426.7,271.1" fill="#2F4E8A" stroke="#000" stroke-width="1.0" stroke-linejoin="round"/>
<polygon points="1426.7,271.1 1293.8,193.9 1293.8,233.2 1426.7,310.4" fill="#A9CA82" stroke="#000" stroke-width="1.0" stroke-linejoin="round"/>
<polygon points="1426.7,271.1 1603.7,212.8 1603.7,252.1 1426.7,310.4" fill="#688A3A" stroke="#000" stroke-width="1.0" stroke-linejoin="round"/>
<polygon points="1426.7,310.4 1293.8,233.2 1293.8,257.2 1426.7,334.4" fill="#3E62AD" stroke="#000" stroke-width="1.0" stroke-linejoin="round"/>
<polygon points="1426.7,310.4 1603.7,252.1 1603.7,276.1 1426.7,334.4" fill="#2F4E8A" stroke="#000" stroke-width="1.0" stroke-linejoin="round"/>
<polygon points="1882.3,365.3 1726.3,275 1934.5,207.5 2090.5,297.8" fill="#714A3C" stroke="#000" stroke-width="1.0" stroke-linejoin="round"/>
<polygon points="1882.3,365.3 1726.3,275 1726.3,296.8 1882.3,387.1" fill="#714A3C" stroke="#000" stroke-width="1.0" stroke-linejoin="round"/>
<polygon points="1882.3,365.3 2090.5,297.8 2090.5,319.6 1882.3,387.1" fill="#452B22" stroke="#000" stroke-width="1.0" stroke-linejoin="round"/>
<polygon points="1882.3,387.1 1726.3,296.8 1726.3,340.4 1882.3,430.7" fill="#FCBC14" stroke="#000" stroke-width="1.0" stroke-linejoin="round"/>
<polygon points="1882.3,387.1 2090.5,319.6 2090.5,363.2 1882.3,430.7" fill="#CE9706" stroke="#000" stroke-width="1.0" stroke-linejoin="round"/>
<polygon points="1882.3,430.7 1726.3,340.4 1726.3,407.1 1882.3,497.4" fill="#2EE1E9" stroke="#000" stroke-width="1.0" stroke-linejoin="round"/>
<polygon points="1882.3,430.7 2090.5,363.2 2090.5,429.9 1882.3,497.4" fill="#25ADB5" stroke="#000" stroke-width="1.0" stroke-linejoin="round"/>
<polygon points="1886.7,186.2 1753.8,109 1930.8,50.7 2063.7,127.9" fill="#3E62AD" stroke="#000" stroke-width="1.0" stroke-linejoin="round"/>
<polygon points="1886.7,186.2 1753.8,109 1753.8,133 1886.7,210.2" fill="#3E62AD" stroke="#000" stroke-width="1.0" stroke-linejoin="round"/>
<polygon points="1886.7,186.2 2063.7,127.9 2063.7,151.9 1886.7,210.2" fill="#2F4E8A" stroke="#000" stroke-width="1.0" stroke-linejoin="round"/>
<polygon points="1886.7,210.2 1753.8,133 1753.8,172.3 1886.7,249.5" fill="#A9CA82" stroke="#000" stroke-width="1.0" stroke-linejoin="round"/>
<polygon points="1886.7,210.2 2063.7,151.9 2063.7,191.2 1886.7,249.5" fill="#688A3A" stroke="#000" stroke-width="1.0" stroke-linejoin="round"/>
<polygon points="1886.7,249.5 1753.8,172.3 1753.8,211.6 1886.7,288.8" fill="#3E62AD" stroke="#000" stroke-width="1.0" stroke-linejoin="round"/>
<polygon points="1886.7,249.5 2063.7,191.2 2063.7,230.5 1886.7,288.8" fill="#2F4E8A" stroke="#000" stroke-width="1.0" stroke-linejoin="round"/>
<polygon points="1886.7,288.8 1753.8,211.6 1753.8,250.9 1886.7,328.1" fill="#A9CA82" stroke="#000" stroke-width="1.0" stroke-linejoin="round"/>
<polygon points="1886.7,288.8 2063.7,230.5 2063.7,269.8 1886.7,328.1" fill="#688A3A" stroke="#000" stroke-width="1.0" stroke-linejoin="round"/>
<polygon points="1886.7,328.1 1753.8,250.9 1753.8,274.9 1886.7,352.1" fill="#3E62AD" stroke="#000" stroke-width="1.0" stroke-linejoin="round"/>
<polygon points="1886.7,328.1 2063.7,269.8 2063.7,293.8 1886.7,352.1" fill="#2F4E8A" stroke="#000" stroke-width="1.0" stroke-linejoin="round"/>
<text x="460.5" y="576.6" font-family="'Liberation Sans',sans-serif" font-size="83" letter-spacing="1.2" text-anchor="middle">i</text>
<text x="952.6" y="576.6" font-family="'Liberation Sans',sans-serif" font-size="83" letter-spacing="1.2" text-anchor="middle">ii</text>
<text x="1416.4" y="576.6" font-family="'Liberation Sans',sans-serif" font-size="83" letter-spacing="1.2" text-anchor="middle">iii</text>
<text x="1891.6" y="576.6" font-family="'Liberation Sans',sans-serif" font-size="83" letter-spacing="1.2" text-anchor="middle">iv</text>
</g>
<g id="chart">
<path d="M353.75,624.4 V1495.5 M660.5,624.4 V1495.5 M967.25,624.4 V1495.5 M1274,624.4 V1495.5 M1580.75,624.4 V1495.5 M1887.5,624.4 V1495.5 M2194.25,624.4 V1495.5" stroke="#E5E5E5" stroke-width="2.3" fill="none"/>
<path d="M308.5,1474.5 H2240 M308.5,1391.3 H2240 M308.5,1308.1 H2240 M308.5,1224.9 H2240 M308.5,1141.7 H2240 M308.5,1058.5 H2240 M308.5,975.3 H2240 M308.5,892.1 H2240 M308.5,808.9 H2240 M308.5,725.7 H2240 M308.5,642.5 H2240" stroke="#E0E0E0" stroke-width="1.2" fill="none"/>
<g transform="scale(1.27,1)" fill="none" stroke-linejoin="miter" stroke-miterlimit="1.6">
<path d="M278.72,1304.7 283.25,1328.7 287.97,1352.6 292.3,1373.3 296.63,1392.6 300.76,1409.5 304.51,1423.5 308.05,1435.4 311.99,1447 316.12,1457.2 317.89,1460.9 319.66,1464.1 321.43,1467 322.81,1468.9 326.55,1472.5 327.93,1473.5 329.31,1474 330.69,1474 332.26,1473.7 334.23,1473 336.39,1471.9 337.58,1470.8 338.95,1469 342.5,1463.1 344.47,1459.1 347.81,1450.9 350.57,1443 353.52,1433.7 357.06,1421.1 360.41,1408.1 363.95,1393.2 370.45,1363.8 378.32,1325.4 390.14,1265.6 407.46,1176.2 412.97,1148.7 417.89,1125.4 421.83,1107.7 425.76,1091.3 429.9,1075.2 435.8,1054 443.09,1030 449.19,1011.1 461.2,975.2 469.07,952.8 475.17,936.5 481.67,920.3 488.56,904.5 496.24,888.4 503.91,873.8 511.79,860.2 520.25,847.1 528.72,835.3 537.58,824.4 546.83,814.2 556.67,804.7 562.18,799.8 568.09,794.8 580.88,785 595.06,775.2 609.43,766.3 624.58,757.8 638.17,751 654.31,743.8 671.04,737.3 680.49,734.1 689.94,731.1 709.62,725.5 730.69,720.6 753.52,716.1 778.91,712 805.1,708.6 831.87,705.8 861,703.6 893.09,701.8 929.7,700.6 978.72,699.7 1027.14,699.3 1079.7,699.4 1119.27,700 1161.39,701 1200.96,702.4 1239.35,704.3 1275.76,706.5 1312.38,709.2 1345.65,712.1 1378.52,715.3 1413.76,719.4 1446.04,723.5 1478.32,728.1 1510.41,733.2 1542.89,738.8 1575.17,745 1605.88,751.3 1636,758 1666.32,765.3 1697.42,773.3 1727.95,781.8" stroke="#0000FF" stroke-width="5.6" stroke-dasharray="51 14.6"/>
<path d="M278.72,1271.3 282.06,1271.8 283.25,1272.1 284.23,1272.6 285.41,1273.6 286.99,1275.2 288.76,1277.3 290.14,1279.4 292.89,1284.3 294.86,1288.7 298.4,1298.2 300.96,1306 302.14,1309.1 304.11,1312.8 305.92,1315.3 306.9,1313.4 308.08,1310.4 309.99,1303.7 313.35,1303.7 316.7,1425.9 317.09,1436.9 317.88,1451.8 318.27,1455.2 318.86,1458.2 319.45,1460.4 320.24,1462.5 322.21,1466.3 327.31,1473.5 328.09,1469.3 329.08,1461 331.83,1425.7 333.21,1384.2 334.98,1339.7 336.16,1314.8 337.15,1284.3 338.53,1249.5 340.1,1196.1 341.68,1131.5 344.04,1022.6 345.42,948.9 347.19,895.3 348.37,844.9 350.45,788.1 352.9,787.6 354.86,791.7 358.01,799.6 359,802.6 359.79,806.1 360.38,810.1 361.16,818.8 362.11,836.3 362.89,781.5 363.48,760.9 364.27,741.3 364.86,699.3 365.26,687.5 365.65,680.4 366.04,675.8 366.83,670.4 367.62,666.8 368.8,663.2 369.98,660.6 371.16,658.9 372.93,657.8 374.9,657.1 376.87,657.1 379.04,657.9 381.99,659.9 385.73,662.9 388.09,665.5 393.6,672.4 410.53,691.8 415.45,697.2 424.31,706 440.26,720.1 445.77,725.3 456,736 463.29,744.6 468.6,751.8 473.33,758.9 477.85,766.5 481.79,774 485.34,781.8 488.88,790.8 492.62,801.5 495.57,811 500.1,827.9 503.84,844.4 507.97,865.5 511.52,886.6 514.27,906.3 516.63,926.6 519.59,956.4 521.75,982.2 525.49,1034.5 527.66,1072 530.61,1147.2 533.76,1205.9 534.94,1231.1 540.45,1374.2 542.42,1417.5 543.21,1431.1 544.59,1449.5 545.77,1462.2 546.65,1468.8 547.05,1468.1 547.64,1465.1 548.62,1455.5 550.2,1432.5 550.79,1418.6 552.76,1348.5 559.84,1076.3 560.63,1053.5 564.76,950.5 566.73,888.2 567.91,855.9 569.49,820 570.87,795 572.64,770.6 574.61,749.9 576.57,733.9 578.94,717.7 580.71,707.5 583.27,695.1 585.43,686.4 587.4,680.2 590.35,672.7 591.93,669.3 593.31,666.8 594.69,664.7 596.85,661.9 600.59,657.9 604.13,655.1 609.06,652.4 615.16,650 623.43,647.5 630.51,646.6 636.81,646.3 669.09,647.4 698.43,647.5 711.22,648 716.54,648.4 720.87,649.1 725.59,650.2 729.13,651.7 733.27,654.2 734.84,655.5 736.42,657.2 738.19,659.5 739.57,661.5 742.32,667.1 745.08,674.3 747.44,682.5 748.82,688.8 751.57,704 752.36,710 752.76,714.8 754.13,740.8 758.66,853.5 759.84,890.3 763.58,1036 769.69,1297.1 771.06,1370 772.44,1470 773.23,1423.7 774.41,1379.1 779.53,1164.4 780.12,1133.8 781.5,1036.8 781.89,1020 782.28,1010.2 782.87,999 784.84,970 787.6,911.3 789.37,879.2 791.34,849 793.11,826.2 795.28,806.2 797.64,790 799.21,781.6 800.79,774.4 802.56,767.5 804.33,761.5 806.1,756.3 808.27,750.5 810.83,744.3 812.99,739.5 814.96,735.7 817.52,731.4 819.88,727.8 822.05,725 824.02,723 826.57,720.7 832.09,716.9 835.83,714.7 842.91,711.2 850.79,707.1 854.92,705.4 860.24,703.7 883.46,697.1 893.7,694.7 913.98,690.8 922.83,688.6 932.87,685.9 966.34,675.2 978.74,671.1 989.37,667.2 996.85,664 1007.28,661 1014.96,657.6 1019.69,656 1022.64,655.1 1025.2,654.6 1032.28,654.2 1033.46,654.4 1034.84,654.9 1038.19,657 1039.76,658.4 1041.54,660.8 1044.29,665.4 1046.06,669 1048.23,674.6 1050.2,680.7 1051.77,687 1054.13,698.5 1055.91,707.8 1057.48,717.4 1059.84,735.6 1062.01,758.4 1064.37,791.6 1069.49,878.8 1075.2,997.8 1076.18,1024.5 1079.33,1126.4 1082.09,1209.1 1089.17,1391.3 1090.55,1412.8 1092.52,1434.4 1095.28,1458.4 1096.46,1466.4 1097.64,1472.5 1098.62,1470.1 1099.61,1467 1101.77,1457.7 1104.72,1441.1 1106.3,1431.2 1107.09,1425.2 1111.02,1389.7 1112.8,1372.1 1116.34,1326.9 1117.52,1313.8 1123.62,1255.2 1125.39,1240.6 1136.22,1172.2 1140.55,1149.7 1144.49,1132.5 1147.44,1121.6 1150.79,1110.6 1154.92,1098.3 1159.06,1087 1162.2,1079.3 1165.16,1073 1168.9,1065.8 1172.64,1059.6 1176.97,1053.2 1180.51,1048.6 1183.46,1045.4 1187.2,1042.1 1192.72,1038.1 1199.8,1033.8 1204.53,1031.6 1210.43,1029.5 1217.13,1028.1 1222.24,1027.5 1230.12,1027.8 1233.66,1028.1 1236.02,1028.5 1248.03,1032 1253.54,1034.1 1259.25,1037.3 1266.34,1042.2 1270.87,1046 1274.61,1049.7 1282.48,1059 1289.37,1066.5 1292.91,1071.1 1295.08,1074.6 1297.44,1078.7 1304.92,1093.4 1308.07,1100.3 1310.63,1107.3 1312.6,1114 1314.37,1121.2 1316.14,1129.5 1317.52,1137.3 1319.09,1148 1320.47,1159 1321.65,1170.5 1322.64,1182.5 1324.41,1216.6 1325.79,1236.8 1328.35,1337.1 1329.92,1373.6 1331.5,1404 1331.69,1403.5 1332.09,1399.7 1332.68,1388.1 1333.46,1365 1333.86,1343.2 1334.65,1263.8 1336.42,1046.4 1337.2,986 1339.61,831 1341.73,830 1345.47,871.5 1349.61,923.9 1350.59,934.7 1351.97,947.5 1353.74,961.9 1355.12,971.2 1356.69,980.2 1358.27,988 1360.04,995.1 1365.16,1013.5 1367.72,1021.2 1370.87,1029 1374.41,1036.6 1378.54,1044.3 1383.27,1052 1389.37,1060.8 1398.62,1072.8 1435.24,1118.5 1449.41,1135.5 1468.5,1157.5 1487.6,1179.1 1530.91,1226.7 1588.98,1292.5 1606.69,1311.9 1625.2,1331.2 1664.57,1371.1 1672.83,1379.2 1679.92,1385.7 1687.6,1392.1 1696.06,1398.2 1713.58,1409.7 1727.17,1418" stroke="#939393" stroke-width="5.6"/>
<path d="M279.13,876.6 281.88,877.6 285.03,879.3 287.59,881.2 290.74,884.1 293.3,887.1 297.63,893 308.46,908.5 313.18,914.9 315.94,917.6 317.51,918.8 318.89,919.1 320.27,918.6 321.45,917.7 323.22,915.9 324.6,913.9 326.57,909.5 328.14,904.6 329.33,899.4 330.7,891.9 332.87,875 334.25,866.8 334.64,863.3 335.43,851.3 336.61,843.8 339.56,830.5 341.33,824.1 342.51,820.8 343.89,817.5 346.06,813.3 347.24,811.7 348.81,810.7 349.99,810.4 350.58,810.7 351.18,811.8 351.96,814 353.54,819.6 355.7,831.4 356.69,834.8 357.87,837.7 359.25,840.4 361.41,844.2 363.58,847.4 365.15,849.3 367.51,851.8 368.89,853 370.07,853.7 373.03,854.6 375.58,854.9 377.36,854.8 379.13,854.2 382.08,852.7 383.66,851.6 386.21,849.1 389.56,845.3 393.89,839.5 400.58,829 407.67,819 414.56,808.4 418.3,803.2 422.44,798.1 426.37,793.6 431.69,788 437.2,782.6 443.3,777.2 451.37,770.5 457.08,766.2 462.4,762.6 469.88,758.3 476.77,754.9 483.07,752.2 491.73,749.1 498.03,747.2 503.93,745.9 512.59,744.3 520.86,743.3 532.08,742.4 539.36,742 552.55,742 558.85,742.6 565.35,743.8 574.01,745.8 579.72,747.7 586.21,750.5 596.84,755.5 602.16,758.5 604.92,760.4 607.47,762.4 610.23,765 611.41,766.5 612.79,768.8 616.33,775.9 620.66,783.7 622.24,787 623.62,790.5 625.58,796.2 629.33,808.2 634.44,825.6 638.18,837.4 639.95,844.1 641.33,850.7 642.71,858.8 646.06,882.5 647.44,894.5 650.19,921.8 652.95,945.9 654.33,963.5 656.88,1019.9 659.25,1058.8 660.03,1074 668.3,1285.5 673.81,1406.4 674.6,1419.9 675.39,1429.5 679.53,1468.8 680.31,1464.7 681.1,1458.7 682.87,1440.4 684.25,1419.7 685.43,1395 687.4,1320 690.35,1245 692.52,1164 694.09,1121.3 695.67,1087.3 700.79,1002.8 702.95,972 704.92,947.3 706.5,929.8 707.87,916.7 709.84,901.1 711.81,887.8 713.78,876.3 715.94,865.2 718.11,855.7 722.64,838.3 725.2,829.4 727.36,823.6 730.31,817.5 738.39,803.4 740.55,800 743.11,796.9 747.44,793.1 750.2,791.1 753.15,789.3 758.07,787 761.42,785.6 765.55,784.6 773.62,783.9 777.95,783.8 780.51,783.9 791.14,785.6 801.18,787.6 809.84,790.1 814.76,792.3 820.47,795.7 825.79,799.3 831.3,803.9 855.12,826.7 861.02,833.1 865.94,839.3 869.49,844.4 873.43,850.5 885.04,869.7 892.52,883.2 899.61,897.5 905.71,910.8 912.01,925.5 929.53,969.7 932.28,977.2 935.43,986.5 944.29,1014.6 971.26,1103.9 980.91,1138.2 989.76,1172.2 996.85,1195 998.82,1202.8 1008.07,1242.6 1016.54,1275 1023.82,1305.2 1029.13,1324.6 1034.06,1340.5 1037.6,1350.8 1040.94,1359.5 1044.69,1368.3 1047.83,1374.7 1051.77,1381.3 1054.53,1385 1055.71,1386.1 1058.66,1388.3 1060.63,1389.5 1062.2,1390.2 1063.58,1390.6 1064.96,1390.7 1066.34,1390.5 1067.91,1390 1069.88,1388.9 1072.24,1387.3 1074.21,1385.8 1075.59,1384.3 1077.95,1381 1081.69,1374.7 1087.4,1362.5 1093.11,1352.9 1095.87,1346.6 1100.98,1333 1115.75,1295.6 1118.31,1288.7 1124.41,1271.1 1131.1,1253.6 1134.06,1247.1 1137.8,1239.9 1143.5,1230 1147.44,1223.9 1151.97,1218 1156.3,1213.2 1161.02,1208.8 1165.94,1205.1 1169.69,1202.8 1174.21,1200.5 1179.72,1198 1188.58,1194.3 1196.06,1190.7 1200.98,1187.9 1204.92,1185 1209.45,1180.8 1213.39,1176.4 1217.52,1170.3 1222.24,1162.4 1226.38,1154.2 1229.53,1146.9 1236.22,1128.9 1241.14,1114.4 1252.36,1076.4 1258.46,1053.2 1264.76,1034.3 1270.87,1009.7 1273.03,1002.3 1275.2,995.6 1278.54,986.7 1280.31,983.1 1282.28,980.8 1283.66,979.6 1284.84,979.2 1285.63,979.7 1286.61,981.7 1287.6,984.8 1288.78,989.8 1290.16,996.6 1290.94,1002.9 1292.13,1014.8 1292.91,1020.7 1293.31,1027.3 1293.5,1032.7 1293.7,1063.6 1294.09,1080.7 1295.47,1108.5 1296.85,1150.5 1297.64,1180.3 1301.57,1371.1 1302.62,1435.6 1303.6,1419.8 1304.78,1396.4 1306.55,1350.2 1310.1,1201.4 1311.87,1138.8 1313.05,1104.2 1314.23,1076.5 1315.41,1053.8 1316.2,1042 1317.97,1019.9 1319.35,996.3 1320.73,976.9 1321.12,974.2 1322.11,970.4 1322.89,968.4 1325.26,964.1 1326.04,961.7 1326.63,959.1 1327.03,955.9 1328.21,941.8 1330.37,924.9 1331.36,919.4 1333.72,908.9 1336.08,895.5 1338.05,887.7 1339.03,885 1340.41,882.3 1341.59,880.5 1344.94,876.2 1346.91,872.7 1348.09,869.3 1350.45,860.3 1351.44,857.2 1353.6,851.2 1357.74,840.7 1359.9,835.7 1362.26,830.8 1368.96,818.7 1372.11,813.6 1374.86,809.9 1377.81,806.7 1386.48,798.1 1389.03,795 1395.73,786.3 1401.83,779.6 1405.57,776 1409.31,772.8 1424.86,761.4 1433.13,755.7 1441.2,750.7 1449.66,745.8 1457.54,741.7 1466.99,737.4 1479.59,732.1 1490.41,728 1501.04,724.3 1510.89,721.2 1520.14,718.6 1542.97,713 1551.24,711.1 1558.72,709.7 1568.17,708.3 1583.92,706.2 1596.91,704.6 1631.16,701.4 1664.43,699.8 1691.99,699 1713.05,699.3 1727.95,699.8" stroke="#939393" stroke-width="5.6" stroke-dasharray="51 14.6"/>
<path d="M279.13,925.3 282.67,916.7 285.82,910.7 294.09,898.4 301.96,887.7 306.29,883.4 307.87,882 309.25,881.2 311.02,880.5 313.38,879.9 318.09,879.2 320.06,867.5 322.03,858 323.8,850.8 325.57,845.6 327.93,840.5 332.26,832.8 338.37,823.5 344.07,815.7 346.44,813.4 348.8,811.7 352.15,810.1 353.33,809.9 354.11,810 355.49,810.9 358.05,813.1 365.53,822.8 367.5,815.3 369.66,806 373.4,786.7 375.96,777.8 377.54,773.6 379.7,769.4 382.07,765.8 386.99,759 390.53,755 395.06,750.8 401.16,746 406.87,742.2 418.68,736 425.77,732.6 434.43,729.3 441.12,727.1 450.37,725.2 457.07,724.1 462.18,723.8 468.09,724 476.55,725 480.49,725.9 486.59,728.3 490.53,730.2 492.7,731.5 497.42,735.1 502.34,739.9 506.28,744.7 510.02,750.3 512.77,755.6 515.73,762.4 519.07,771.2 522.03,780 524.19,787.3 526.16,794.7 529.7,810.7 534.03,834.4 535.61,844.4 537.18,855.8 539.55,877.1 542.89,914 545.06,940.8 547.62,976.7 548.6,993.7 549.39,1012.7 550.96,1086.9 551.75,1112.3 554.11,1169.5 562.38,1381.9 563.17,1398.3 564.15,1414.6 568.5,1473.8 570.47,1460.5 572.83,1440.9 574.02,1427.4 575.2,1407.6 575.98,1390.2 576.57,1373 581.5,1200.8 584.25,1129.2 586.81,1071.4 587.6,1057.5 588.98,1038.3 591.14,990.4 592.13,971.6 594.29,935.4 596.85,900.7 599.61,870 602.36,845 605.51,823.1 610.04,797 611.22,791.3 612.4,786.8 613.39,784.1 615.75,778.5 616.73,775.6 619.69,762.9 620.87,758.8 624.02,750.1 625.79,746.2 627.56,742.8 630.12,738.5 633.07,734.2 637.99,727.7 641.93,723 644.88,719.9 647.83,717.2 651.38,714.4 654.92,711.9 662.99,707 665.94,705.6 668.7,704.7 673.62,703.4 678.54,702.4 686.81,701.3 692.13,700.8 696.06,700.8 700.39,701 706.1,701.6 711.42,702.4 715.16,703.4 719.29,704.8 723.62,706.6 726.77,708.2 730.71,710.8 735.24,714.2 738.58,717.2 741.54,720.2 744.49,723.8 746.85,727.1 749.21,731.1 751.57,735.8 752.95,738.9 754.33,742.5 757.68,753 760.63,763.8 763.39,776 765.55,787.7 767.72,801.5 769.69,816.6 771.46,832.7 773.62,857.8 776.38,901.4 784.25,1034 786.42,1080 788.98,1055.8 790.94,1041.1 791.93,1029.4 793.7,982.5 796.46,923.7 801.77,831.5 803.15,812.9 804.33,800.5 805.71,788.4 807.28,776.4 809.06,764.8 811.02,753.6 812.6,745.8 814.57,738.1 816.54,731.7 817.72,728.7 818.7,726.8 820.47,723.9 822.24,721.5 823.62,720 824.8,719 829.33,716.4 831.1,715.8 832.68,715.5 841.54,715.5 844.49,716.1 848.03,717.6 854.33,720.9 858.86,724 869.29,732.8 872.64,736 875.59,739.1 879.92,744.5 884.84,751.9 889.96,760.6 894.49,769.5 897.24,775.6 899.61,781.5 901.97,788 904.72,796.3 908.46,808.1 911.02,816.9 913.39,825.9 915.16,833.6 917.32,844.5 920.08,859.7 924.21,885.6 928.54,916.6 932.28,948.2 935.04,976.7 938.58,1022.5 940.94,1049.7 941.93,1063.4 942.72,1078.3 944.49,1123.9 947.83,1180.8 954.53,1309.5 957.28,1356 960.24,1399.3 962.01,1422.5 963.58,1437.3 964.76,1445.6 966.14,1453.6 967.52,1460.5 968.9,1466.2 970.47,1460.9 972.44,1452.2 973.82,1444.7 974.8,1437.5 975.98,1423.4 978.74,1379.3 981.1,1337.4 986.02,1233.2 989.37,1149.6 991.34,1106 993.7,1060.4 995.28,1035 996.85,1017.6 1000.59,984.6 1004.53,934.7 1007.48,905.3 1009.84,885.3 1012.2,867.7 1014.96,849.4 1017.72,833.4 1021.06,816.3 1024.41,801.8 1027.95,788.8 1032.28,775.4 1036.02,765.5 1040.75,755 1045.87,745.3 1051.57,736.1 1056.69,729 1062.4,722.2 1070.08,714.5 1072.83,712.1 1075.2,710.3 1078.15,708.4 1081.69,706.5 1094.09,700.7 1101.18,698.1 1109.84,695.5 1115.16,694.5 1125.39,693.2 1133.27,692.6 1146.65,691.9 1153.74,691.8 1159.06,691.9 1175.59,693.1 1183.66,694.1 1194.29,695.9 1201.57,697.2 1209.25,699 1216.54,700.8 1223.43,702.9 1231.3,705.6 1237.99,708.2 1244.49,711 1251.77,714.5 1259.65,718.5 1264.96,721.5 1269.09,724.2 1272.83,727 1276.57,730.2 1280.31,733.8 1284.06,737.8 1287.6,742.3 1291.34,747.5 1294.29,752.3 1297.24,757.8 1300.2,764.2 1302.56,770.1 1304.72,776.2 1307.09,784.2 1309.65,794.7 1312.4,807.3 1313.78,816 1317.52,852.6 1322.05,929.6 1325.98,1027.4 1326.18,1038.3 1326.77,1129.7 1327.95,1190.9 1330.51,1356.2 1330.71,1362.6 1331.3,1370.5 1331.89,1375.1 1332.09,1375.8 1332.34,1376.2 1333.13,1373.4 1333.91,1369.1 1335.09,1360.8 1335.88,1353.6 1337.46,1333 1338.05,1322.6 1338.44,1311.8 1338.83,1279.4 1339.82,1147.6 1340.8,1065.3 1341.59,980.7 1342.18,952.6 1344.94,864.4 1346.51,832.1 1349.86,796.6 1352.22,766.9 1353.01,760.7 1353.79,757.5 1355.17,753.5 1356.75,750.5 1359.7,746.9 1360.88,745.8 1361.87,745.2 1362.85,745 1369.74,745 1373.09,745.9 1378.6,748.1 1382.14,750.2 1386.47,753.3 1390.21,756.7 1396.51,763.4 1416.39,783.6 1464.82,839 1473.09,847.5 1483.72,857.7 1490.8,863.9 1500.25,871.5 1504.19,874.4 1508.52,877.1 1514.23,880.2 1521.71,883.5 1527.02,885.1 1532.53,886.3 1542.77,887 1545.72,887 1548.68,886.6 1555.17,885.3 1559.11,884.3 1564.62,882.3 1568.56,880.5 1576.83,875.8 1587.85,868.6 1602.22,858.5 1617.57,847 1635.29,834.8 1653.01,823.6 1667.77,816.1 1672.3,814.1 1678.2,811.9 1688.83,808.4 1694.94,806.8 1700.45,805.7 1707.14,804.8 1711.08,804.5 1722.5,804.5 1727.95,805" stroke="#FF0000" stroke-width="5.6"/>
</g>
<polygon points="690.3,1419.3 697.5,1438.7 718.2,1439.5 701.9,1452.4 707.5,1472.3 690.3,1460.8 673.1,1472.3 678.7,1452.4 662.4,1439.5 683.1,1438.7" fill="#FFCB00"/>
<circle cx="981.75" cy="1451.75" r="22.4" fill="#FFCB00"/>
<polygon points="1397.75,1423 1429.7,1477.5 1365.8,1477.5" fill="#FFCB00"/>
<rect x="1671" y="1362.7" width="50.7" height="50.8" fill="#FFCB00"/>
<path d="M353.75,624.4 v15.5 M353.75,1495.5 v-15.5 M660.5,624.4 v15.5 M660.5,1495.5 v-15.5 M967.25,624.4 v15.5 M967.25,1495.5 v-15.5 M1274,624.4 v15.5 M1274,1495.5 v-15.5 M1580.75,624.4 v15.5 M1580.75,1495.5 v-15.5 M1887.5,624.4 v15.5 M1887.5,1495.5 v-15.5 M2194.25,624.4 v15.5 M2194.25,1495.5 v-15.5" stroke="#000" stroke-width="3.2" fill="none"/>
<path d="M308.5,1474.5 h19.5 M2240,1474.5 h-19.5 M308.5,1391.3 h19.5 M2240,1391.3 h-19.5 M308.5,1308.1 h19.5 M2240,1308.1 h-19.5 M308.5,1224.9 h19.5 M2240,1224.9 h-19.5 M308.5,1141.7 h19.5 M2240,1141.7 h-19.5 M308.5,1058.5 h19.5 M2240,1058.5 h-19.5 M308.5,975.3 h19.5 M2240,975.3 h-19.5 M308.5,892.1 h19.5 M2240,892.1 h-19.5 M308.5,808.9 h19.5 M2240,808.9 h-19.5 M308.5,725.7 h19.5 M2240,725.7 h-19.5 M308.5,642.5 h19.5 M2240,642.5 h-19.5" stroke="#000" stroke-width="2.5" fill="none"/>
<rect x="308.5" y="624.4" width="1931.5" height="871.1" fill="none" stroke="#000" stroke-width="2.9"/>
<path d="M1998.2,1003.3 H2086.2" stroke="#1033F5" stroke-width="7" stroke-dasharray="29.4 7" fill="none"/>
<path d="M1998.2,1063.2 H2086.2" stroke="#939393" stroke-width="7.2" fill="none"/>
<path d="M1998.2,1122.5 H2086.2" stroke="#939393" stroke-width="7" stroke-dasharray="29.4 7" fill="none"/>
<path d="M1998.2,1182.4 H2086.2" stroke="#FF0000" stroke-width="7.2" fill="none"/>
<text x="2109" y="1023.2" font-family="'Liberation Sans',sans-serif" font-size="56.5" letter-spacing="0.9">i</text>
<text x="2109" y="1083.8" font-family="'Liberation Sans',sans-serif" font-size="56.5" letter-spacing="0.9">ii</text>
<text x="2109" y="1144.3" font-family="'Liberation Sans',sans-serif" font-size="56.5" letter-spacing="0.9">iii</text>
<text x="2109" y="1204.8" font-family="'Liberation Sans',sans-serif" font-size="56.5" letter-spacing="0.9">iv</text>
<text transform="translate(281,669.3) scale(0.96,1)" font-family="'DejaVu Sans','Liberation Sans',sans-serif" font-size="76" text-anchor="end">1.0</text>
<text transform="translate(281,833.9) scale(0.96,1)" font-family="'DejaVu Sans','Liberation Sans',sans-serif" font-size="76" text-anchor="end">0.8</text>
<text transform="translate(281,998.5) scale(0.96,1)" font-family="'DejaVu Sans','Liberation Sans',sans-serif" font-size="76" text-anchor="end">0.6</text>
<text transform="translate(281,1163.2) scale(0.96,1)" font-family="'DejaVu Sans','Liberation Sans',sans-serif" font-size="76" text-anchor="end">0.4</text>
<text transform="translate(281,1327.8) scale(0.96,1)" font-family="'DejaVu Sans','Liberation Sans',sans-serif" font-size="76" text-anchor="end">0.2</text>
<text transform="translate(277,1492.4) scale(0.96,1)" font-family="'DejaVu Sans','Liberation Sans',sans-serif" font-size="76" text-anchor="end">0</text>
<text transform="translate(375.2,1573.3) scale(1.028,1)" font-family="'DejaVu Sans','Liberation Sans',sans-serif" font-size="76" text-anchor="middle">500</text>
<text transform="translate(977.7,1573.3) scale(1.028,1)" font-family="'DejaVu Sans','Liberation Sans',sans-serif" font-size="76" text-anchor="middle">600</text>
<text transform="translate(1581.4,1573.3) scale(1.028,1)" font-family="'DejaVu Sans','Liberation Sans',sans-serif" font-size="76" text-anchor="middle">700</text>
<text transform="translate(2184,1573.3) scale(1.028,1)" font-family="'DejaVu Sans','Liberation Sans',sans-serif" font-size="76" text-anchor="middle">800</text>
<text transform="translate(1280,1648.6) scale(1.016,1)" font-family="'DejaVu Sans','Liberation Sans',sans-serif" font-size="76.5" text-anchor="middle">Wavelength/nm</text>
<text transform="translate(124.2,990.6) rotate(-90)" font-family="'DejaVu Sans','Liberation Sans',sans-serif" font-size="75.6" text-anchor="middle">Reflectance</text>
</g>
<g id="fieldmaps">
<path d="M162.5,1720.4 V2207.8 M551.3,1720.4 V2207.8" stroke="#1a1a1a" stroke-width="2" fill="none"/>
<path d="M192.6,1804.2 H521 V2144.4 H192.6 Z M192.6,1852.9 H521 M192.6,1933.7 H521 M192.6,2014.7 H521 M192.6,2095.8 H521" stroke="#000" stroke-width="2" fill="none" stroke-linejoin="round"/>
<clipPath id="hc0"><rect x="162.5" y="1720.4" width="388.8" height="487.4"/></clipPath>
<path clip-path="url(#hc0)" d="M197.8,1757.1L196.2,1762.3L173.2,1752.2ZM237.3,1763L233.2,1766.6L219.4,1746.5ZM275.9,1767.2L270.7,1768.5L267.8,1744.4ZM312,1768.4L307,1766.5L317.6,1745.5ZM393.4,1744.9L398.5,1743.2L403.7,1766.4ZM442.5,1742.9L447.8,1744L440.3,1767.4ZM491.6,1744.7L495.6,1748.3L477.9,1764.4ZM539.6,1749.6L541.2,1754.8L517.4,1759.3ZM344.1,1758.3L344.1,1752.9L367.5,1755.6ZM194.7,1803.3L196.5,1808.4L173.8,1813.6ZM238.2,1803.9L234.4,1807.8L219,1789.2ZM256.4,1814.5L251.5,1816.8L243.8,1794.3ZM275.6,1808L270.2,1809L268.8,1786.1ZM292.5,1817.6L287.1,1816.9L292.6,1793.3ZM312,1809.2L307,1807L318.7,1787.2ZM325.5,1814.6L322,1810.5L341,1797.7ZM344,1799.6L344.2,1794.2L365.5,1797.7ZM363,1800.6L365.9,1796.1L384.8,1811.2ZM391.5,1788L396.3,1785.5L404.5,1807.5ZM411.6,1793.4L416.9,1792.3L418.7,1815.6ZM441.7,1784.8L447.1,1785.5L441.1,1808.5ZM459.5,1792.5L464.7,1794.1L455.4,1814.6ZM231.5,1840.2L226.1,1839.9L229.8,1816.7ZM216.6,1856L213.2,1851.8L232.2,1840.1ZM270.9,1841L265.5,1841.1L267.8,1817.7ZM267.4,1858.3L262.1,1857.6L267.4,1840.1ZM310.8,1840.8L305.4,1841.4L305.4,1817.3ZM353.5,1837.7L348.9,1840.4L339.4,1818.7ZM384.8,1816.1L390.1,1817.2L382.7,1840.1ZM421.7,1816.1L427.1,1816.4L422.8,1840.7ZM435,1833.6L440.4,1833.5L438.3,1858.4ZM460,1816.3L465.4,1816.2L463.1,1840.7ZM495.7,1817.4L500.9,1815.9L504.8,1840.1ZM523.6,1847.6L518.6,1845.6L532.7,1817.3ZM520.6,1848.4L517.5,1843.9L538.4,1832.9ZM171.8,1883.4L171.8,1878L195,1881.1ZM211.8,1886.4L210.7,1881.1L234.9,1878.7ZM263,1893.3L258.4,1890.6L272.5,1871.6ZM321.9,1884.4L319.5,1889.3L299.3,1876.3ZM365.2,1879.1L364.9,1884.4L340.6,1880.7ZM406.2,1874.1L408.1,1879.2L384.4,1885.4ZM433,1869.5L438.3,1868.4L440.3,1892.5ZM468,1880.3L469.6,1875.1L491.6,1884.4ZM516.5,1883.8L516.3,1878.4L540,1880.3ZM172,1926.1L171.6,1920.8L196.2,1922ZM210.7,1916.3L211.9,1911.1L234.9,1919ZM258.4,1907.5L263,1904.8L272.5,1925.9ZM318.1,1906.6L321.3,1911L300.8,1923ZM365,1913L365.1,1918.4L340.6,1916.3ZM407.4,1919.6L404.9,1924.4L384.8,1911.2ZM437.2,1928.7L432,1927.2L440.7,1906.8ZM469.8,1923L468.6,1917.8L495.6,1914.3ZM474.3,1923.5L472.2,1918.5L491.6,1913.3ZM516.3,1919L516.5,1913.6L540,1917.3ZM245.5,1928.9L250.2,1926.2L259.3,1947.5ZM294.7,1926L299.9,1927.1L292.6,1948.9ZM344.9,1930.2L347.4,1935L325.8,1943.4ZM389.5,1941L387,1945.8L368.5,1933.2ZM423.4,1949.3L418.1,1950.5L415.9,1927.5ZM456.3,1949.6L451.6,1946.9L465.1,1928.5ZM516.8,1955.3L519.3,1950.6L538.4,1963.7ZM236.7,1722L231.8,1724.1L225.1,1701.7ZM276.6,1723.8L271.2,1724.5L270.9,1700.7ZM314.9,1724.3L309.5,1723.9L313.6,1700.7ZM397.3,1701.8L402.7,1701.6L401,1725.1ZM438,1700.6L443.4,1700.8L439.7,1724.1ZM477.7,1699.4L483.1,1699.9L478.3,1722.1ZM177.6,1974.3L174.1,1970.1L190.5,1960ZM220.3,1979.3L223.8,1983.4L203.7,1997.2ZM252.5,1976.6L257.9,1977.2L252.6,2000.7ZM290.6,1977.2L295.9,1976.5L296.7,2001.3ZM326.7,1980.9L331,1977.7L343.1,1998.6ZM372.8,2001.2L368.3,1998.1L383.8,1980.3ZM420,2002.6L414.6,2002L420,1978.3ZM463.3,2002.1L458,2002.5L458.6,1978.3ZM495.7,2008.1L491.5,2011.5L478.3,1991.5ZM538.8,1992.1L541.2,1997L519,2004.7ZM197.3,2002.3L195.1,2007.2L174.2,1995.2ZM234.8,2013.8L236.5,2018.9L212.5,2024.1ZM267.7,2007.9L272.8,2009.7L262.7,2031.2ZM300.2,2011.4L304.6,2008.2L316.2,2029.1ZM338.8,2021.7L339.2,2016.3L364,2021ZM387.6,2030.2L384,2026.1L403.1,2012.9ZM442.4,2032.2L437,2033L436.2,2008.8ZM493.3,2023.7L490.6,2028.4L473.3,2015.5ZM197.7,2046.2L197.5,2051.6L173.2,2048.1ZM541.4,2045.4L541.5,2050.8L517,2048.5ZM236.3,2070.7L235,2075.9L212.5,2067.8ZM276.3,2078.2L272.3,2081.8L258.7,2062.3ZM300.9,2080.2L297.8,2075.8L318.3,2064.3ZM339.1,2074L338.9,2068.6L364,2070.4ZM382.5,2067.1L385,2062.3L405.7,2075.9ZM441.4,2058.4L446.2,2060.9L433,2081ZM492.4,2064.2L494,2069.4L470.2,2073.9ZM322.7,2092.1L320.7,2087.1L344.1,2080.6ZM196.5,2098.3L197.6,2103.6L173.2,2105.8ZM541.3,2102.8L540.3,2108.1L517,2101.4ZM253.8,2136.5L248.5,2137.4L247.1,2113.2ZM339.8,2134.8L334.9,2137L327.8,2114.6ZM379,2112.6L383.7,2115.3L369.1,2134.9ZM416.7,2111.4L422,2112.5L414.3,2135.9ZM458,2111.5L463.3,2112.3L457,2135.9ZM504.5,2112.6L509.2,2115.3L494.6,2134.9ZM534.8,2142.8L529.7,2144.5L525.1,2121.7ZM182.7,2122.6L188.1,2122.9L184,2146.1ZM186,2120.7L191,2122.7L180.3,2141ZM323.8,2152.9L319.6,2156.4L306.5,2136.3ZM369.2,2142.4L369,2147.8L346.1,2144.5ZM440.5,2132.4L445.9,2132.6L442.3,2156.7ZM476.2,2136.5L480.5,2133.3L492.6,2154.7ZM172.5,2182.4L171.9,2177L196.6,2177.2ZM224.4,2185.6L219.6,2183.1L232.8,2163.4ZM274.2,2194.8L268.8,2195L270.5,2171.5ZM323.2,2181.7L319,2185L306.5,2164.4ZM369.6,2170.9L369.5,2176.3L345.5,2173.2ZM405,2161.8L409.3,2165L392.5,2182.7ZM440.5,2160.9L445.9,2161.1L442.3,2184.8ZM477.4,2163.7L482.2,2161.1L491.2,2183.7ZM515.8,2173.2L517,2167.9L540,2175.6ZM402.2,2203.6L407.2,2205.7L396,2225.4ZM439,2203.1L444.4,2203.1L441.7,2227.5ZM478.5,2204.7L483.5,2202.7L489.5,2225.4ZM234.9,2225.6L229.5,2225.3L233.2,2205.1ZM274.2,2225.4L268.8,2225.4L271.5,2204.1ZM313.2,2225L307.9,2225.8L307.5,2205.1Z" fill="#000"/>
<text x="358.1" y="1762.9" font-family="'Liberation Sans',sans-serif" font-weight="bold" font-size="37.4" text-anchor="middle">|E|</text>
<rect x="105.5" y="1713.4" width="502.4" height="502.3" fill="none" stroke="#000" stroke-width="6.6"/>
<path d="M724.5,1720.4 V2207.8 M1113.3,1720.4 V2207.8" stroke="#1a1a1a" stroke-width="2" fill="none"/>
<path d="M754.6,1804.2 H1083 V2144.4 H754.6 Z M754.6,1852.9 H1083 M754.6,1933.7 H1083 M754.6,2014.7 H1083 M754.6,2095.8 H1083" stroke="#000" stroke-width="2" fill="none" stroke-linejoin="round"/>
<clipPath id="hc1"><rect x="724.5" y="1720.4" width="388.8" height="487.4"/></clipPath>
<path clip-path="url(#hc1)" d="M741.6,1742.8L747.2,1742.1L747.4,1766.8ZM788.4,1741.9L793.9,1742.9L786.7,1767.8ZM835.9,1742.7L840.8,1745.4L826.1,1766.4ZM885.3,1746.1L888.2,1750.9L864.4,1762.3ZM974.1,1760.8L971.1,1765.5L950.2,1748.9ZM1013.3,1766L1008.4,1768.8L998.2,1745.5ZM1051.9,1768.9L1046.3,1769.7L1045.4,1743.4ZM1090.9,1769.7L1085.4,1768.9L1091.8,1744.4ZM933.6,1753L933.5,1758.6L909.1,1755.6ZM732.2,1807.1L734.1,1801.8L755.6,1812.6ZM783.9,1784.7L789.4,1783.6L791.6,1808.5ZM808.1,1790.8L813.7,1790.9L810.5,1817.3ZM833.2,1783.4L838.6,1784.9L828.8,1809.5ZM856.9,1791.5L861.7,1794.2L846.5,1815.2ZM884,1786L887.5,1790.3L865.4,1805.1ZM904.8,1796.5L907.3,1801.5L882.7,1810.6ZM932.5,1794.5L932.6,1800.1L906.1,1797.9ZM949.7,1805.9L947.9,1811.2L925.4,1800.4ZM973,1804.4L969.3,1808.6L951.5,1789.2ZM988.3,1814L983.8,1817.3L971.2,1794.9ZM1011.5,1809L1006.2,1810.9L1000.3,1786.1ZM1023.8,1818.4L1018.2,1818.9L1018.6,1792.2ZM788.4,1815L794,1815.5L789.1,1838ZM786.4,1832.1L791.8,1833.7L781.4,1858.4ZM827.4,1815.1L833,1815.3L829.4,1838ZM824,1833.2L829.5,1832.7L829.4,1859.4ZM866.7,1815L872.3,1815.4L867.4,1841.7ZM908.9,1814.8L914.3,1816.5L903.4,1841.1ZM950.6,1841.8L945,1842.4L944.7,1815.6ZM988.8,1841.9L983.2,1842.2L984.8,1817.7ZM1000.4,1859.8L994.9,1858.9L1001.7,1833.9ZM1027.9,1841.8L1022.3,1842.4L1022.7,1817.7ZM1067.5,1841.7L1062,1842.4L1061.3,1815.6ZM1103,1820.1L1105,1825.4L1082,1830.9ZM1104.2,1835.2L1104.7,1840.8L1078,1840.5ZM758.6,1873L760.7,1878.2L734.2,1885.8ZM786.4,1867.8L791.8,1869.3L782.4,1893.3ZM821.1,1869.9L826.3,1867.9L832.9,1892.5ZM859,1874.8L862.5,1870.4L881.1,1888.5ZM899.8,1883.1L900.1,1877.5L926.4,1881.8ZM947.3,1891.2L944.2,1886.5L967.7,1874.6ZM996.7,1894.6L991.7,1892.1L1005.8,1870.2ZM1046.6,1894.3L1041,1894.9L1041,1868.5ZM1104.4,1883.8L1102.4,1889L1079,1877.1ZM760.1,1919L760.4,1924.6L733.2,1923.5ZM785.4,1902.6L790.9,1903.6L783.4,1928.5ZM816.6,1908.1L820.6,1904.2L837.5,1925.5ZM856.9,1913.9L858.9,1908.6L883.1,1921ZM899.9,1918.5L900.1,1912.9L926.4,1916.3ZM944.5,1923.1L943,1917.7L969.2,1913.3ZM991.2,1927.3L987.7,1922.9L1009.8,1908.8ZM1043.7,1930.3L1038.2,1929.6L1044.4,1903.1ZM1050.7,1930.4L1045.1,1930.7L1046.5,1904.1ZM1104.6,1915.6L1104.2,1921.2L1077.6,1916.3ZM802.1,1934.1L804.6,1929.1L826.8,1943.4ZM842.6,1938.8L843.4,1933.3L868.5,1939.7ZM883.6,1940.1L883.9,1934.5L910.2,1938.7ZM925.2,1941.5L924.9,1935.9L951.9,1937.3ZM966.6,1943.5L965.6,1938L990.5,1936.7ZM1010,1946.7L1007.6,1941.7L1031.2,1933.6ZM1103.5,1953.2L1104.5,1958.8L1078,1960.5ZM1013.2,1723.8L1007.7,1725.2L1004.8,1701.7ZM1053.3,1724.8L1047.7,1725.5L1047.5,1701.7ZM1092.6,1725L1087,1725.2L1089.2,1701.7ZM971.5,1699.3L977,1700.1L971.2,1722.5ZM743.6,1699.8L749.2,1699.6L747,1726.1ZM783.9,1699.6L789.5,1699.8L786.1,1725.1ZM760.6,1963.3L759.9,1968.9L734.2,1962.6ZM788.2,1992L786,1997.1L762.7,1984.4ZM826.8,1997.8L822.7,2001.5L807,1980.3ZM864,2001.7L858.7,2003.7L852.2,1977.7ZM897.6,2003.9L892.2,2002.7L900.6,1977.7ZM932.9,1976.3L938.3,1975L941.7,2001.7ZM981.8,1975.4L987.1,1977.1L976.3,2000.7ZM1028.1,1977.4L1032.3,1981.2L1012.9,1998.6ZM1057.1,1990.2L1060.2,1994.9L1036.9,2006.8ZM1104.1,1995.4L1104.7,2001L1077.6,2001.3ZM760.5,1998.5L760,2004.1L733.2,1998.6ZM798.4,2025.8L795.3,2030.5L774.9,2013.5ZM840.3,2027.8L836.4,2031.7L819.2,2010.8ZM883.5,2027L879.9,2031.3L861.3,2012.3ZM928,2018.2L927.7,2023.8L901.4,2019.6ZM966.5,2009.6L969.7,2014.2L946.2,2027.1ZM1006.8,2008.3L1010.8,2012.2L990.9,2028.5ZM1051.8,2009.2L1055.3,2013.7L1032.8,2027.7ZM760.5,2046.7L760,2052.3L733.8,2046.8ZM1104.1,2043.7L1104.7,2049.2L1077.6,2049.5ZM798.3,2075.6L795.4,2080.4L773.9,2064.3ZM839.6,2079.2L835.4,2082.9L819.6,2060.7ZM881.9,2079.7L877.4,2083.2L863.4,2060.7ZM928.4,2070.5L927.4,2076L901,2068.4ZM963.9,2057.9L968.3,2061.4L948.8,2080.6ZM1006.2,2058L1010.6,2061.4L992.1,2081ZM1052.3,2059.9L1055.7,2064.3L1032.2,2078.6ZM904.9,2093.6L900.4,2096.9L887.2,2073.9ZM758.6,2095.7L760.6,2100.9L734.2,2107.9ZM1104.3,2104.8L1102.6,2110.1L1078,2099.3ZM813.3,2138.4L807.7,2138.3L810.9,2111.5ZM904.4,2134.8L899.7,2137.9L887.8,2114.6ZM943.7,2112.1L947.8,2115.8L927.9,2133.9ZM978,2110.6L983.5,2111.6L975.9,2137ZM1017.2,2110.5L1022.8,2110.5L1020,2137.6ZM1056,2112.3L1061.4,2110.8L1065.8,2137ZM1080.3,2140.4L1077.7,2135.5L1101.4,2125.8ZM734.4,2124.8L738.1,2120.6L757.6,2141ZM732.9,2130.3L735.5,2125.3L755.6,2139ZM881.7,2157.5L876.4,2159.1L871.5,2133.5ZM932.6,2142.7L932.4,2148.3L907.5,2144.7ZM997.6,2133.2L1002.9,2131.4L1008.8,2157.3ZM1034.7,2139.3L1037.9,2134.6L1058.7,2152.2ZM732.2,2181L732.2,2175.4L759.6,2178.2ZM779.4,2183.1L776.5,2178.3L800.3,2166.9ZM827.7,2195.4L823,2192.4L839.4,2172.1ZM877.4,2187.3L871.8,2187.1L875.6,2160.3ZM932.5,2170.2L932.6,2175.8L908.1,2173.6ZM957.2,2159.6L962.8,2159.1L962.6,2185.8ZM995.2,2162.8L1000.1,2160L1010.9,2184.4ZM1034.7,2167.8L1037.8,2163.1L1058.7,2180.3ZM1075.9,2175.8L1076,2170.2L1103.4,2173.6ZM952.9,2205.1L958.1,2203L964.1,2225.4ZM993.5,2206L998.9,2204.2L1002.7,2225.4ZM1039.1,2225.5L1033.5,2225.4L1036.9,2206.7ZM885.5,2225.3L879.9,2225.6L881.7,2205.1Z" fill="#000"/>
<text x="920.1" y="1762.9" font-family="'Liberation Sans',sans-serif" font-weight="bold" font-size="37.4" text-anchor="middle">|E|</text>
<rect x="667.5" y="1713.4" width="502.4" height="502.3" fill="none" stroke="#000" stroke-width="6.6"/>
<path d="M1286,1720.4 V2207.8 M1674.8,1720.4 V2207.8" stroke="#1a1a1a" stroke-width="2" fill="none"/>
<path d="M1316.1,1804.2 H1644.5 V2144.4 H1316.1 Z M1316.1,1852.9 H1644.5 M1316.1,1933.7 H1644.5 M1316.1,2014.7 H1644.5 M1316.1,2095.8 H1644.5" stroke="#000" stroke-width="2" fill="none" stroke-linejoin="round"/>
<clipPath id="hc2"><rect x="1286" y="1720.4" width="388.8" height="487.4"/></clipPath>
<path clip-path="url(#hc2)" d="M1291.3,1756.8L1292.1,1750.4L1322.6,1757.7ZM1334.2,1753.6L1336.3,1747.5L1365,1760.7ZM1377.4,1752.5L1379.8,1746.6L1407.7,1761.7ZM1420.3,1753.6L1422.3,1747.5L1450.8,1760.7ZM1508.7,1763.8L1506.8,1757.7L1537.3,1751.6ZM1552.1,1765.3L1549.7,1759.4L1579.4,1750.5ZM1594.6,1764.2L1592.6,1758.1L1622.7,1751.6ZM1636.8,1761.4L1635.8,1755.1L1667.4,1753.6ZM1465.1,1759.8L1464.9,1753.5L1495.6,1755.6ZM1334.5,1794.1L1337.2,1788.3L1364.3,1804.5ZM1356.7,1800.1L1359.8,1794.5L1385.3,1812ZM1378,1792.4L1381.2,1786.8L1406.1,1804.5ZM1398.8,1799.7L1402,1794.2L1426.8,1812.2ZM1420.8,1793L1423.8,1787.4L1449.8,1805.1ZM1440.6,1802.4L1442.7,1796.4L1470.1,1809.5ZM1463.3,1800.1L1463.5,1793.7L1494.5,1797.7ZM1483,1810.6L1481.6,1804.4L1509.8,1801.4ZM1509,1806.8L1506.5,1800.9L1536.2,1791.6ZM1527.5,1814.8L1524.6,1809.1L1553.5,1797.7ZM1554.2,1808.2L1550.9,1802.7L1579,1789.6ZM1569.3,1815.4L1566.2,1809.8L1594.8,1797.7ZM1291,1809L1292.5,1802.8L1322.6,1813.2ZM1335.6,1827.3L1337.4,1821.1L1366.4,1832.9ZM1374.6,1827.3L1376.4,1821.1L1405.6,1832.9ZM1414,1828.5L1415.2,1822.3L1444.7,1831.5ZM1453,1830.6L1453.5,1824.2L1484.4,1829.5ZM1492.2,1833.5L1491.6,1827.1L1523,1827.4ZM1531.8,1835.1L1530.5,1828.8L1561.7,1825.8ZM1571.7,1836L1570,1829.8L1600.3,1824.8ZM1610.3,1836L1608.6,1829.8L1639,1824.8ZM1637,1834.6L1635.6,1828.4L1667.4,1824.8ZM1636.9,1845.2L1635.7,1838.9L1667.4,1836.4ZM1330.5,1845.6L1331.9,1839.4L1362.3,1849.8ZM1373.2,1845.6L1374.6,1839.4L1404,1849.2ZM1546.6,1852.3L1545.4,1846.1L1576.5,1843.1ZM1291.5,1882.9L1291.9,1876.5L1322.6,1881.8ZM1330.3,1881.9L1331.3,1875.5L1362.3,1883.8ZM1373.5,1881.9L1374.4,1875.5L1405,1883.2ZM1416.4,1882.9L1416.9,1876.5L1447.8,1882.4ZM1459.3,1883.9L1459.4,1877.5L1491.1,1881.3ZM1502.3,1885.6L1501.9,1879.2L1533.8,1880.3ZM1545.7,1886.4L1545,1880L1576.9,1879.7ZM1588.6,1887L1587.6,1880.6L1619.6,1879.1ZM1636.7,1886.3L1635.9,1880L1667.4,1879.1ZM1291.4,1924.2L1292,1917.8L1322.6,1924.1ZM1330.4,1917.5L1331.1,1911.1L1362.3,1917.8ZM1373.7,1918.1L1374.2,1911.7L1405,1917.3ZM1416.5,1918.5L1416.8,1912.1L1447.8,1916.9ZM1459.3,1918.9L1459.4,1912.5L1491.1,1916.3ZM1502.2,1920.1L1501.9,1913.7L1533.8,1915.3ZM1545.7,1920.9L1545.1,1914.6L1576.9,1914.9ZM1588.4,1921.6L1587.8,1915.2L1624.7,1914.9ZM1636.7,1922.1L1635.9,1915.8L1667.4,1914.9ZM1360.7,1940.5L1361,1934.1L1392.8,1938.7ZM1401.9,1940.9L1402.1,1934.5L1433.5,1938.7ZM1443.6,1941.3L1443.7,1934.9L1475.2,1938.7ZM1484.4,1941.9L1484.3,1935.5L1515.9,1938.1ZM1525.8,1942.3L1525.5,1935.9L1556.6,1937.7ZM1567,1942.9L1566.5,1936.5L1598.3,1937.3ZM1636.5,1963.3L1636.1,1956.9L1667.4,1958ZM1291.4,1965.3L1292,1958.9L1322.6,1965.2ZM1320.4,1993.7L1320.1,1987.3L1351.1,1989.1ZM1361.3,1993.1L1361.3,1986.7L1392.8,1989.5ZM1402.4,1993.1L1402.3,1986.7L1433.5,1989.5ZM1443.7,1992.7L1443.7,1986.3L1475.2,1989.5ZM1484.4,1992.7L1484.4,1986.3L1515.9,1989.5ZM1525.6,1992.7L1525.7,1986.3L1557.6,1989.9ZM1566.7,1992.3L1566.8,1985.9L1598.3,1989.9ZM1292.1,2004.5L1291.4,1998.1L1322.6,1998ZM1592.6,2002.4L1592.9,1996L1624.1,2000.7ZM1635.6,2001.8L1636.2,1995.4L1667.4,2001.3ZM1331.1,2024.8L1330.5,2018.4L1362.3,2019ZM1373.6,2024.2L1373.4,2017.8L1405,2019.6ZM1416.7,2023.8L1416.6,2017.4L1447.8,2020ZM1459.3,2023.6L1459.3,2017.2L1491.1,2020.4ZM1502,2023.2L1502.1,2016.8L1533.8,2020.6ZM1545.2,2022.2L1545.6,2015.8L1576.9,2021ZM1587.9,2022.2L1588.4,2015.8L1619.6,2021.4ZM1292,2052.7L1291.5,2046.3L1322.6,2046.8ZM1635.6,2050L1636.2,2043.7L1667.4,2049.9ZM1331.3,2076.4L1330.3,2070.1L1361.7,2068.4ZM1373.9,2076.1L1373.1,2069.7L1404.4,2068.8ZM1416.9,2075.5L1416.4,2069.1L1447.8,2069.8ZM1459.4,2074.5L1459.3,2068.1L1491.1,2070.4ZM1501.9,2073L1502.3,2066.6L1533.8,2071.9ZM1545,2072L1545.8,2065.6L1576.9,2072.5ZM1587.7,2071.6L1588.6,2065.2L1619.6,2072.9ZM1440.4,2088.7L1440,2082.3L1471.6,2083.5ZM1292.1,2108.6L1291.3,2102.3L1322.6,2101.4ZM1635.4,2104.5L1636.4,2098.2L1666.4,2105.8ZM1358.1,2131.9L1356.3,2125.7L1387.3,2120.1ZM1440.6,2130L1439.9,2123.6L1471.1,2123.3ZM1482.2,2126.9L1482.5,2120.5L1513.5,2125.4ZM1522.9,2124.4L1524.3,2118.2L1554.5,2128.2ZM1565.4,2123.7L1567.3,2117.6L1595.6,2129.4ZM1607,2123.8L1608.7,2117.6L1637.5,2128.8ZM1635.2,2131.3L1636.7,2125.1L1666.4,2135.5ZM1292.3,2137.1L1291.2,2130.8L1322.6,2128.2ZM1292.8,2141.1L1291.5,2134.8L1322.6,2131.5ZM1424.1,2155.1L1421.3,2149.3L1450.8,2138.4ZM1463.6,2149.3L1463.2,2142.9L1488.4,2144.7ZM1550.5,2140.3L1553.7,2134.8L1579.4,2153.2ZM1593.5,2141.9L1596.2,2136.1L1622.7,2152.2ZM1292.4,2184.8L1291.1,2178.6L1322.6,2175ZM1337,2182.1L1334.7,2176.1L1365,2168.1ZM1381,2192.1L1378.3,2186.3L1407.7,2176.2ZM1423.6,2182.6L1421.1,2176.7L1451.2,2167.5ZM1463.5,2177.4L1463.3,2171L1494.5,2173ZM1506.6,2170.5L1508.9,2164.5L1536.6,2178.2ZM1550.1,2169.3L1552.9,2163.6L1579.4,2180.3ZM1592.5,2171.1L1594.7,2165.1L1622.7,2178.7ZM1635.3,2173.7L1636.5,2167.4L1667.4,2176.2Z" fill="#000"/>
<text x="1481.6" y="1762.9" font-family="'Liberation Sans',sans-serif" font-weight="bold" font-size="37.4" text-anchor="middle">|E|</text>
<rect x="1229" y="1713.4" width="502.4" height="502.3" fill="none" stroke="#000" stroke-width="6.6"/>
<path d="M1847.7,1720.4 V2207.8 M2236.5,1720.4 V2207.8" stroke="#1a1a1a" stroke-width="2" fill="none"/>
<path d="M1877.8,1804.2 H2206.2 V2144.4 H1877.8 Z M1877.8,1852.9 H2206.2 M1877.8,1933.7 H2206.2 M1877.8,2014.7 H2206.2 M1877.8,2095.8 H2206.2" stroke="#000" stroke-width="2" fill="none" stroke-linejoin="round"/>
<clipPath id="hc3"><rect x="1847.7" y="1720.4" width="388.8" height="487.4"/></clipPath>
<path clip-path="url(#hc3)" d="M1885.3,1761.7L1882,1767.1L1856.2,1747.5ZM1919.9,1770.4L1913.7,1772.2L1908,1742ZM1954.9,1772.1L1948.7,1770.5L1959.5,1741.4ZM1988.5,1769.2L1984.3,1764.4L2010.4,1746.1ZM2070.1,1746.8L2074.3,1742.1L2095.8,1765.8ZM2120.6,1740.1L2126.8,1738.6L2131.2,1770.9ZM2172.5,1738.5L2178.6,1740.3L2166.4,1770.5ZM2226.5,1745.3L2229.6,1750.9L2199.9,1763.8ZM2027.1,1759.8L2026.9,1753.5L2057.6,1755.6ZM1887,1810.1L1885.6,1816.3L1854.1,1805.9ZM1923.6,1810L1918.1,1813.2L1904.6,1783.5ZM1940.7,1819.4L1934.4,1820.8L1930.4,1789.6ZM1958,1813.4L1951.6,1813L1956.9,1782.1ZM1973.5,1820.8L1967.5,1818.6L1981.3,1790.2ZM1989.7,1811.7L1985.1,1807.3L2009.8,1786.1ZM2005.2,1816L2002.1,1810.4L2029.1,1799.4ZM2025,1800.1L2025,1793.7L2057.6,1797.3ZM2043.1,1801.3L2045.6,1795.4L2073.8,1810.6ZM2071,1787.2L2075.8,1783L2094.6,1809.5ZM2091.7,1791L2097.5,1788.2L2105.4,1812.6ZM2123.1,1781.3L2129.5,1780.8L2129.2,1812.6ZM2141.8,1788.5L2148.2,1789.1L2142,1819.3ZM1923.2,1841.9L1917.3,1844.3L1908,1813.6ZM1917.2,1860.3L1911.1,1862.5L1903.4,1831.9ZM1959,1844L1952.7,1845L1950.8,1813.6ZM1958,1861.5L1951.7,1862.6L1949.3,1831.5ZM1993.6,1845.4L1987.2,1844.9L1992.9,1813.6ZM2022.3,1843.2L2017.6,1838.9L2041.7,1817.3ZM2062.2,1813.4L2068.4,1811.8L2073.4,1843.7ZM2106.2,1811.9L2112.6,1812.1L2108.4,1844.1ZM2123.6,1829.2L2129.8,1830.5L2120.2,1861.4ZM2148.4,1811.3L2154.7,1812.7L2144.6,1843.7ZM2194.4,1813.3L2199.4,1817.2L2177.2,1841.1ZM2229.5,1821.7L2230.6,1827.9L2197.9,1830.9ZM2229.4,1832.4L2230.7,1838.7L2197.9,1842.5ZM1886.9,1884.9L1884.5,1890.8L1855.8,1875.6ZM1920,1893.8L1914.4,1897L1900.9,1867.5ZM1958.9,1895.7L1952.8,1897.5L1947.3,1866.5ZM2000.1,1896.4L1993.8,1897.6L1991.4,1866.1ZM2049.6,1893.1L2044.4,1896.8L2028.5,1868.5ZM2079.8,1864L2086.1,1864.9L2078.3,1896.6ZM2123.6,1864.2L2129.9,1865.5L2120.2,1896.6ZM2170.2,1864.2L2176,1866.8L2160.3,1894.6ZM2228.3,1871.7L2230.6,1877.6L2198.9,1886.8ZM1886.9,1923.4L1885.7,1929.6L1855.2,1920.4ZM1921.4,1927.6L1916.3,1931.5L1899.3,1903.5ZM1957.9,1931.9L1951.7,1933.3L1947.7,1901.1ZM1996,1933L1989.7,1932.2L1996.5,1900.7ZM2021.8,1924.1L2020.1,1917.9L2051.9,1912.3ZM2072.7,1900.8L2079,1899.3L2083,1931.2ZM2123.2,1899.5L2129.5,1900.6L2121,1930.6ZM2172.8,1900.4L2178.2,1903.8L2158.2,1929.6ZM2177,1902.3L2182.2,1905.9L2161.3,1930.6ZM2229.4,1911.2L2230.7,1917.4L2198.3,1920.4ZM1946.3,1953L1940.2,1954.9L1933.9,1923ZM1981.8,1955.2L1975.4,1954.7L1981.3,1922.4ZM2013.3,1953.5L2008.2,1949.6L2030.7,1925.5ZM2049.3,1927L2054.4,1923.1L2071.8,1950.9ZM2099.5,1921.1L2105.9,1920.9L2103.9,1954ZM2146.4,1921.5L2152.6,1923.4L2139.9,1953.6ZM1880.7,1951.4L1884.6,1956.5L1864.3,1968.2ZM2230.4,1960.1L2228.5,1966.2L2199.9,1954ZM1882.9,1722.4L1877.5,1725.8L1868.4,1705.8ZM1915.7,1727L1909.3,1727.3L1911.1,1699.7ZM1952.4,1727.4L1946.2,1725.7L1955.8,1701.7ZM1990.2,1724.6L1984.5,1721.6L1996.5,1705.8ZM2087,1700.6L2093.2,1698.8L2096.6,1723.1ZM2125.6,1700.3L2131.9,1699.1L2133.8,1727.8ZM2166.6,1699.8L2173,1699.6L2170.5,1729.8ZM2207,1701L2213.2,1702.4L2204.4,1726.5ZM1893.7,2006.1L1887.8,2003.4L1904.6,1974.8ZM1940.1,2006.5L1933.7,2005.8L1940.6,1973.6ZM1983.5,2006.1L1977.1,2006.3L1979.2,1973.6ZM2028.5,2004.4L2022.4,2006.3L2015.9,1974.2ZM2064.7,1972.2L2070.8,1974.2L2057.6,2004.7ZM2100.7,1972.7L2107.1,1972.9L2103.3,2004.7ZM2139.4,1973.1L2145.8,1972.5L2146,2004.7ZM2161.4,1985.6L2167.3,1983.2L2176.6,2014.3ZM2196.7,2005.5L2195.8,1999.1L2230.1,1997.6ZM1852,2000.8L1853,1994.5L1884.6,2002.7ZM1901,2035.2L1896,2031.2L1918.2,2008.2ZM1951.9,2037.2L1945.6,2036.1L1954.2,2004.7ZM2001.3,2036L1995,2037.4L1990.8,2004.7ZM2054.7,2021L2053.1,2027.2L2020.9,2015.9ZM2082.6,2003.7L2088.6,2005.8L2074.8,2035.2ZM2117.8,2004.1L2124.2,2003.4L2124.7,2035.9ZM2154.5,2007.4L2160,2004.1L2174.5,2033.8ZM2196.4,2045.4L2198.6,2039.4L2228.8,2053.6ZM1854.8,2056.6L1852.7,2050.5L1884.6,2042.8ZM1903.8,2087L1898.1,2084L1916.2,2056.6ZM1950.8,2087.9L1944.6,2086.4L1955.4,2055.6ZM1994.6,2087.7L1988.3,2086.5L1997.5,2055ZM2029.1,2086.1L2024.2,2082L2046.8,2059.7ZM2074.3,2054.7L2080.6,2053.6L2083,2086.7ZM2116.5,2054.8L2122.7,2053.5L2126.3,2085.5ZM2156.3,2056.3L2162.2,2053.7L2172.5,2085.5ZM2014.1,2101.7L2008.3,2099L2025,2070.4ZM1854.6,2111.5L1852.8,2105.4L1884.6,2099.3ZM2196.9,2101.3L2198.9,2095.3L2228.8,2108.5ZM1932.9,2141.8L1926.7,2140.2L1937.9,2109.9ZM2028.2,2138.1L2022.6,2141.1L2009.8,2111.1ZM2067.6,2109.2L2072.7,2113.1L2049.8,2137.6ZM2100.1,2107.6L2106.5,2108.2L2100.3,2141ZM2136.8,2108.5L2143.1,2107.2L2146.7,2140.4ZM2172.9,2112.3L2178.2,2108.7L2194.3,2137.6ZM2196.1,2130.9L2197.6,2124.7L2228.8,2135.5ZM1853.6,2137.1L1852.7,2130.7L1885.7,2129.4ZM1854.4,2141.5L1853.1,2135.2L1884.6,2131.9ZM2012.1,2155.8L2007.4,2160L1988,2133.5ZM2059.2,2141.9L2059.1,2148.3L2027,2144.7ZM2126,2128L2132.3,2128.5L2126.7,2159.3ZM2159,2132.6L2164.4,2129.1L2179.2,2158.3ZM1854.9,2187.7L1852.6,2181.8L1884.6,2173ZM1908.3,2189.8L1902.5,2187L1919.2,2159.9ZM1961.4,2198.5L1955.1,2199.5L1952.8,2166.9ZM2012.7,2183.6L2008.1,2188L1987.4,2162ZM2059.2,2170.4L2059.1,2176.8L2026,2173.2ZM2094.3,2158.5L2098.9,2163L2073.4,2184.8ZM2127.2,2156.2L2133.5,2157.1L2125.7,2188.8ZM2160.4,2159.3L2166.2,2156.5L2177.2,2186.8ZM2196.3,2169.8L2198.7,2163.9L2228.4,2179.1ZM2092.3,2202.6L2098,2205.6L2082,2229.5ZM2128.6,2200.2L2135,2201L2127.7,2231.5ZM2164.2,2200.4L2170.6,2199.6L2171.5,2231.5ZM2199.5,2206.4L2205.3,2203.8L2212.2,2227.5ZM1916.3,2229.8L1909.9,2229.2L1915.6,2201ZM1959,2229.1L1952.7,2230L1951.8,2200.6Z" fill="#000"/>
<text x="2043.3" y="1762.9" font-family="'Liberation Sans',sans-serif" font-weight="bold" font-size="37.4" text-anchor="middle">|E|</text>
<rect x="1790.7" y="1713.4" width="502.4" height="502.3" fill="none" stroke="#000" stroke-width="6.6"/>
<polygon points="134.2,1719 140,1734.6 156.5,1735.2 143.5,1745.5 148,1761.5 134.2,1752.3 120.4,1761.5 124.9,1745.5 111.9,1735.2 128.4,1734.6" fill="#FFCB00"/>
<circle cx="700.6" cy="1740" r="18.4" fill="#FFCB00"/>
<polygon points="1259.2,1719.6 1281.5,1758.1 1237.4,1758.1" fill="#FFCB00"/>
<rect x="1804.1" y="1724.3" width="33.8" height="33.6" fill="#FFCB00"/>
<defs><linearGradient id="cb" x1="0" x2="1" y1="0" y2="0"><stop offset="0" stop-color="#0000ff"/><stop offset=".333" stop-color="#00ffff"/><stop offset=".5" stop-color="#80ff80"/><stop offset=".667" stop-color="#ffff00"/><stop offset="1" stop-color="#ff0000"/></linearGradient></defs>
<rect x="1075.2" y="2244.2" width="252.5" height="35.6" fill="url(#cb)" stroke="#000" stroke-width="1.6"/>
<path d="M1132.5,2244.2 v5.5 M1132.5,2279.8 v-5.5 M1188.8,2244.2 v5.5 M1188.8,2279.8 v-5.5 M1245.6,2244.2 v5.5 M1245.6,2279.8 v-5.5 M1302.1,2244.2 v5.5 M1302.1,2279.8 v-5.5" stroke="#000" stroke-width="1" fill="none"/>
<text x="974" y="2275.2" font-family="'Liberation Sans',sans-serif" font-weight="bold" font-size="38.5">min</text>
<text x="1364.7" y="2271.7" font-family="'Liberation Sans',sans-serif" font-weight="bold" font-size="38.5">max</text>
<path d="M72,2244.8 V2120" stroke="#000" stroke-width="8.2" fill="none"/>
<path d="M72,2246.8 H200" stroke="#000" stroke-width="8.2" fill="none"/>
<path d="M72,2076.2 L92.6,2131.8 Q72,2117.5 51.4,2131.8 Z" fill="#000"/>
<path d="M243.1,2246.8 L187.7,2266.9 Q201.5,2246.8 187.7,2226.7 Z" fill="#000"/>
<circle cx="72" cy="2244.8" r="11.7" fill="#000"/>
<text x="66.5" y="2069.1" font-family="'DejaVu Sans','Liberation Sans',sans-serif" font-style="italic" font-size="45.5" text-anchor="middle">z</text>
<text x="188.2" y="2301" font-family="'DejaVu Sans','Liberation Sans',sans-serif" font-style="italic" font-size="44.5" text-anchor="middle">x</text>
<text x="73.5" y="2304.4" font-family="'DejaVu Sans','Liberation Sans',sans-serif" font-size="59" text-anchor="middle">O</text>
</g>
</svg>
</body>
</html>
